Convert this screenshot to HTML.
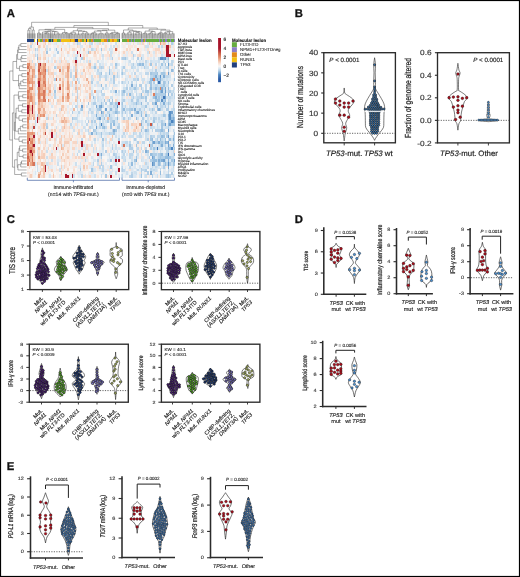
<!DOCTYPE html>
<html><head><meta charset="utf-8"><style>
html,body{margin:0;padding:0;background:#fff;}
svg{display:block;text-rendering:geometricPrecision;will-change:transform;}
</style></head><body>
<svg width="520" height="577" viewBox="0 0 520 577" font-family="&quot;Liberation Sans&quot;, sans-serif">
<rect width="520" height="577" fill="#fff"/>
<g shape-rendering="crispEdges">
<path fill="#f8ebe4" d="M27 42h1.65v3.06h-1.65zM27 165.46h1.65v3.06h-1.65zM28.6 45.01h1.65v3.06h-1.65zM28.6 54.04h1.65v3.06h-1.65zM30.2 54.04h1.65v3.06h-1.65zM30.2 57.06h1.65v3.06h-1.65zM30.2 84.16h1.65v3.06h-1.65zM30.2 102.22h1.65v3.06h-1.65zM30.2 123.3h1.65v3.06h-1.65zM30.2 165.46h1.65v3.06h-1.65zM31.8 54.04h1.65v3.06h-1.65zM31.8 171.48h1.65v3.06h-1.65zM33.4 42h1.65v3.06h-1.65zM33.4 45.01h1.65v3.06h-1.65zM35 150.4h1.65v3.06h-1.65zM35 159.43h1.65v3.06h-1.65zM36.6 66.09h1.65v3.06h-1.65zM36.6 105.23h1.65v3.06h-1.65zM36.6 174.49h1.65v3.06h-1.65zM38.2 129.32h1.65v3.06h-1.65zM39.8 153.41h1.65v3.06h-1.65zM41.4 42h1.65v3.06h-1.65zM41.4 129.32h1.65v3.06h-1.65zM41.4 135.34h1.65v3.06h-1.65zM43 138.36h1.65v3.06h-1.65zM43 150.4h1.65v3.06h-1.65zM43 159.43h1.65v3.06h-1.65zM44.6 45.01h1.65v3.06h-1.65zM44.6 51.03h1.65v3.06h-1.65zM44.6 114.27h1.65v3.06h-1.65zM44.6 117.28h1.65v3.06h-1.65zM44.6 147.39h1.65v3.06h-1.65zM44.6 156.42h1.65v3.06h-1.65zM44.6 171.48h1.65v3.06h-1.65zM46.2 66.09h1.65v3.06h-1.65zM46.2 81.14h1.65v3.06h-1.65zM46.2 102.22h1.65v3.06h-1.65zM46.2 108.24h1.65v3.06h-1.65zM47.8 45.01h1.65v3.06h-1.65zM47.8 63.08h1.65v3.06h-1.65zM47.8 75.12h1.65v3.06h-1.65zM47.8 126.31h1.65v3.06h-1.65zM47.8 132.33h1.65v3.06h-1.65zM47.8 138.36h1.65v3.06h-1.65zM47.8 144.38h1.65v3.06h-1.65zM47.8 156.42h1.65v3.06h-1.65zM47.8 171.48h1.65v3.06h-1.65zM49.4 54.04h1.65v3.06h-1.65zM49.4 63.08h1.65v3.06h-1.65zM49.4 78.13h1.65v3.06h-1.65zM49.4 81.14h1.65v3.06h-1.65zM49.4 114.27h1.65v3.06h-1.65zM49.4 135.34h1.65v3.06h-1.65zM49.4 150.4h1.65v3.06h-1.65zM51 66.09h1.65v3.06h-1.65zM51 138.36h1.65v3.06h-1.65zM51 147.39h1.65v3.06h-1.65zM51 174.49h1.65v3.06h-1.65zM52.6 42h1.65v3.06h-1.65zM52.6 51.03h1.65v3.06h-1.65zM52.6 57.06h1.65v3.06h-1.65zM52.6 114.27h1.65v3.06h-1.65zM52.6 129.32h1.65v3.06h-1.65zM52.6 150.4h1.65v3.06h-1.65zM52.6 159.43h1.65v3.06h-1.65zM54.2 57.06h1.65v3.06h-1.65zM54.2 108.24h1.65v3.06h-1.65zM54.2 114.27h1.65v3.06h-1.65zM54.2 126.31h1.65v3.06h-1.65zM54.2 153.41h1.65v3.06h-1.65zM54.2 174.49h1.65v3.06h-1.65zM55.8 63.08h1.65v3.06h-1.65zM55.8 69.1h1.65v3.06h-1.65zM55.8 93.19h1.65v3.06h-1.65zM55.8 108.24h1.65v3.06h-1.65zM55.8 129.32h1.65v3.06h-1.65zM55.8 165.46h1.65v3.06h-1.65zM57.4 60.07h1.65v3.06h-1.65zM57.4 93.19h1.65v3.06h-1.65zM57.4 126.31h1.65v3.06h-1.65zM57.4 129.32h1.65v3.06h-1.65zM57.4 132.33h1.65v3.06h-1.65zM59 81.14h1.65v3.06h-1.65zM59 93.19h1.65v3.06h-1.65zM59 117.28h1.65v3.06h-1.65zM59 144.38h1.65v3.06h-1.65zM59 153.41h1.65v3.06h-1.65zM60.6 78.13h1.65v3.06h-1.65zM60.6 81.14h1.65v3.06h-1.65zM60.6 84.16h1.65v3.06h-1.65zM60.6 87.17h1.65v3.06h-1.65zM60.6 111.26h1.65v3.06h-1.65zM60.6 114.27h1.65v3.06h-1.65zM62.2 51.03h1.65v3.06h-1.65zM62.2 54.04h1.65v3.06h-1.65zM62.2 102.22h1.65v3.06h-1.65zM62.2 156.42h1.65v3.06h-1.65zM63.8 45.01h1.65v3.06h-1.65zM63.8 60.07h1.65v3.06h-1.65zM63.8 72.11h1.65v3.06h-1.65zM63.8 129.32h1.65v3.06h-1.65zM63.8 132.33h1.65v3.06h-1.65zM63.8 147.39h1.65v3.06h-1.65zM65.4 45.01h1.65v3.06h-1.65zM65.4 69.1h1.65v3.06h-1.65zM65.4 78.13h1.65v3.06h-1.65zM65.4 90.18h1.65v3.06h-1.65zM65.4 105.23h1.65v3.06h-1.65zM65.4 111.26h1.65v3.06h-1.65zM65.4 135.34h1.65v3.06h-1.65zM65.4 147.39h1.65v3.06h-1.65zM65.4 171.48h1.65v3.06h-1.65zM67 129.32h1.65v3.06h-1.65zM67 135.34h1.65v3.06h-1.65zM67 144.38h1.65v3.06h-1.65zM67 153.41h1.65v3.06h-1.65zM67 159.43h1.65v3.06h-1.65zM67 165.46h1.65v3.06h-1.65zM68.6 78.13h1.65v3.06h-1.65zM68.6 108.24h1.65v3.06h-1.65zM68.6 123.3h1.65v3.06h-1.65zM68.6 150.4h1.65v3.06h-1.65zM68.6 153.41h1.65v3.06h-1.65zM68.6 171.48h1.65v3.06h-1.65zM70.2 45.01h1.65v3.06h-1.65zM70.2 48.02h1.65v3.06h-1.65zM70.2 120.29h1.65v3.06h-1.65zM70.2 132.33h1.65v3.06h-1.65zM70.2 159.43h1.65v3.06h-1.65zM70.2 162.44h1.65v3.06h-1.65zM70.2 171.48h1.65v3.06h-1.65zM71.8 45.01h1.65v3.06h-1.65zM71.8 69.1h1.65v3.06h-1.65zM71.8 75.12h1.65v3.06h-1.65zM71.8 99.21h1.65v3.06h-1.65zM71.8 159.43h1.65v3.06h-1.65zM73.4 45.01h1.65v3.06h-1.65zM73.4 63.08h1.65v3.06h-1.65zM73.4 144.38h1.65v3.06h-1.65zM73.4 150.4h1.65v3.06h-1.65zM73.4 159.43h1.65v3.06h-1.65zM75 129.32h1.65v3.06h-1.65zM75 135.34h1.65v3.06h-1.65zM75 138.36h1.65v3.06h-1.65zM76.6 129.32h1.65v3.06h-1.65zM76.6 135.34h1.65v3.06h-1.65zM76.6 156.42h1.65v3.06h-1.65zM78.2 54.04h1.65v3.06h-1.65zM78.2 63.08h1.65v3.06h-1.65zM78.2 72.11h1.65v3.06h-1.65zM78.2 84.16h1.65v3.06h-1.65zM78.2 93.19h1.65v3.06h-1.65zM78.2 123.3h1.65v3.06h-1.65zM78.2 141.37h1.65v3.06h-1.65zM79.8 159.43h1.65v3.06h-1.65zM81.4 69.1h1.65v3.06h-1.65zM81.4 126.31h1.65v3.06h-1.65zM81.4 135.34h1.65v3.06h-1.65zM81.4 153.41h1.65v3.06h-1.65zM81.4 162.44h1.65v3.06h-1.65zM83 42h1.65v3.06h-1.65zM83 63.08h1.65v3.06h-1.65zM83 72.11h1.65v3.06h-1.65zM83 90.18h1.65v3.06h-1.65zM83 96.2h1.65v3.06h-1.65zM83 108.24h1.65v3.06h-1.65zM83 114.27h1.65v3.06h-1.65zM83 141.37h1.65v3.06h-1.65zM83 147.39h1.65v3.06h-1.65zM84.6 54.04h1.65v3.06h-1.65zM84.6 63.08h1.65v3.06h-1.65zM84.6 78.13h1.65v3.06h-1.65zM84.6 141.37h1.65v3.06h-1.65zM84.6 162.44h1.65v3.06h-1.65zM84.6 168.47h1.65v3.06h-1.65zM86.2 48.02h1.65v3.06h-1.65zM86.2 69.1h1.65v3.06h-1.65zM86.2 72.11h1.65v3.06h-1.65zM86.2 81.14h1.65v3.06h-1.65zM86.2 111.26h1.65v3.06h-1.65zM86.2 114.27h1.65v3.06h-1.65zM86.2 138.36h1.65v3.06h-1.65zM86.2 153.41h1.65v3.06h-1.65zM86.2 168.47h1.65v3.06h-1.65zM86.2 174.49h1.65v3.06h-1.65zM87.8 45.01h1.65v3.06h-1.65zM87.8 72.11h1.65v3.06h-1.65zM87.8 84.16h1.65v3.06h-1.65zM87.8 87.17h1.65v3.06h-1.65zM87.8 90.18h1.65v3.06h-1.65zM87.8 93.19h1.65v3.06h-1.65zM87.8 99.21h1.65v3.06h-1.65zM87.8 123.3h1.65v3.06h-1.65zM87.8 159.43h1.65v3.06h-1.65zM87.8 171.48h1.65v3.06h-1.65zM89.4 57.06h1.65v3.06h-1.65zM89.4 69.1h1.65v3.06h-1.65zM89.4 75.12h1.65v3.06h-1.65zM91 51.03h1.65v3.06h-1.65zM91 63.08h1.65v3.06h-1.65zM91 69.1h1.65v3.06h-1.65zM91 135.34h1.65v3.06h-1.65zM91 150.4h1.65v3.06h-1.65zM92.6 51.03h1.65v3.06h-1.65zM92.6 72.11h1.65v3.06h-1.65zM92.6 75.12h1.65v3.06h-1.65zM94.2 45.01h1.65v3.06h-1.65zM94.2 57.06h1.65v3.06h-1.65zM94.2 78.13h1.65v3.06h-1.65zM94.2 135.34h1.65v3.06h-1.65zM94.2 153.41h1.65v3.06h-1.65zM95.8 60.07h1.65v3.06h-1.65zM95.8 96.2h1.65v3.06h-1.65zM95.8 120.29h1.65v3.06h-1.65zM97.4 78.13h1.65v3.06h-1.65zM97.4 168.47h1.65v3.06h-1.65zM99 81.14h1.65v3.06h-1.65zM99 111.26h1.65v3.06h-1.65zM99 147.39h1.65v3.06h-1.65zM100.6 45.01h1.65v3.06h-1.65zM102.2 159.43h1.65v3.06h-1.65zM103.8 42h1.65v3.06h-1.65zM103.8 45.01h1.65v3.06h-1.65zM103.8 54.04h1.65v3.06h-1.65zM103.8 63.08h1.65v3.06h-1.65zM103.8 78.13h1.65v3.06h-1.65zM103.8 90.18h1.65v3.06h-1.65zM103.8 165.46h1.65v3.06h-1.65zM103.8 174.49h1.65v3.06h-1.65zM105.4 42h1.65v3.06h-1.65zM105.4 57.06h1.65v3.06h-1.65zM105.4 99.21h1.65v3.06h-1.65zM107 66.09h1.65v3.06h-1.65zM107 81.14h1.65v3.06h-1.65zM107 126.31h1.65v3.06h-1.65zM107 147.39h1.65v3.06h-1.65zM108.6 135.34h1.65v3.06h-1.65zM110.2 42h1.65v3.06h-1.65zM110.2 168.47h1.65v3.06h-1.65zM111.8 54.04h1.65v3.06h-1.65zM111.8 69.1h1.65v3.06h-1.65zM111.8 75.12h1.65v3.06h-1.65zM111.8 84.16h1.65v3.06h-1.65zM111.8 93.19h1.65v3.06h-1.65zM111.8 150.4h1.65v3.06h-1.65zM111.8 159.43h1.65v3.06h-1.65zM111.8 171.48h1.65v3.06h-1.65zM113.4 51.03h1.65v3.06h-1.65zM113.4 87.17h1.65v3.06h-1.65zM113.4 144.38h1.65v3.06h-1.65zM113.4 174.49h1.65v3.06h-1.65zM115 51.03h1.65v3.06h-1.65zM115 72.11h1.65v3.06h-1.65zM115 78.13h1.65v3.06h-1.65zM116.6 96.2h1.65v3.06h-1.65zM118.2 42h1.65v3.06h-1.65zM118.2 120.29h1.65v3.06h-1.65zM119.8 162.44h1.65v3.06h-1.65zM121.4 42h1.65v3.06h-1.65zM121.4 51.03h1.65v3.06h-1.65zM121.4 54.04h1.65v3.06h-1.65zM121.4 159.43h1.65v3.06h-1.65zM123 45.01h1.65v3.06h-1.65zM124.6 42h1.65v3.06h-1.65zM124.6 51.03h1.65v3.06h-1.65zM124.6 123.3h1.65v3.06h-1.65zM127.8 54.04h1.65v3.06h-1.65zM127.8 147.39h1.65v3.06h-1.65zM127.8 153.41h1.65v3.06h-1.65zM129.4 51.03h1.65v3.06h-1.65zM129.4 54.04h1.65v3.06h-1.65zM129.4 138.36h1.65v3.06h-1.65zM131 129.32h1.65v3.06h-1.65zM132.6 126.31h1.65v3.06h-1.65zM132.6 156.42h1.65v3.06h-1.65zM134.2 117.28h1.65v3.06h-1.65zM134.2 144.38h1.65v3.06h-1.65zM134.2 150.4h1.65v3.06h-1.65zM135.8 45.01h1.65v3.06h-1.65zM135.8 129.32h1.65v3.06h-1.65zM135.8 162.44h1.65v3.06h-1.65zM137.4 144.38h1.65v3.06h-1.65zM139 48.02h1.65v3.06h-1.65zM139 87.17h1.65v3.06h-1.65zM139 126.31h1.65v3.06h-1.65zM139 156.42h1.65v3.06h-1.65zM140.6 48.02h1.65v3.06h-1.65zM142.2 93.19h1.65v3.06h-1.65zM143.8 42h1.65v3.06h-1.65zM143.8 114.27h1.65v3.06h-1.65zM143.8 156.42h1.65v3.06h-1.65zM145.4 126.31h1.65v3.06h-1.65zM147 174.49h1.65v3.06h-1.65zM148.6 45.01h1.65v3.06h-1.65zM148.6 57.06h1.65v3.06h-1.65zM148.6 84.16h1.65v3.06h-1.65zM148.6 93.19h1.65v3.06h-1.65zM148.6 117.28h1.65v3.06h-1.65zM148.6 135.34h1.65v3.06h-1.65zM148.6 147.39h1.65v3.06h-1.65zM150.2 42h1.65v3.06h-1.65zM150.2 51.03h1.65v3.06h-1.65zM150.2 150.4h1.65v3.06h-1.65zM151.8 54.04h1.65v3.06h-1.65zM151.8 105.23h1.65v3.06h-1.65zM155 45.01h1.65v3.06h-1.65zM155 171.48h1.65v3.06h-1.65zM156.6 102.22h1.65v3.06h-1.65zM156.6 132.33h1.65v3.06h-1.65zM158.2 174.49h1.65v3.06h-1.65zM159.8 45.01h1.65v3.06h-1.65zM166.2 165.46h1.65v3.06h-1.65zM169.4 66.09h1.65v3.06h-1.65zM172.6 48.02h1.65v3.06h-1.65zM172.6 54.04h1.65v3.06h-1.65zM172.6 72.11h1.65v3.06h-1.65zM174.2 42h0.85v3.06h-0.85z"/>
<path fill="#f8dfd1" d="M27 45.01h1.65v3.06h-1.65zM28.6 51.03h1.65v3.06h-1.65zM28.6 174.49h1.65v3.06h-1.65zM30.2 60.07h1.65v3.06h-1.65zM30.2 72.11h1.65v3.06h-1.65zM30.2 126.31h1.65v3.06h-1.65zM31.8 90.18h1.65v3.06h-1.65zM31.8 123.3h1.65v3.06h-1.65zM33.4 54.04h1.65v3.06h-1.65zM33.4 78.13h1.65v3.06h-1.65zM33.4 123.3h1.65v3.06h-1.65zM38.2 48.02h1.65v3.06h-1.65zM38.2 126.31h1.65v3.06h-1.65zM38.2 150.4h1.65v3.06h-1.65zM38.2 162.44h1.65v3.06h-1.65zM39.8 54.04h1.65v3.06h-1.65zM39.8 162.44h1.65v3.06h-1.65zM39.8 165.46h1.65v3.06h-1.65zM41.4 108.24h1.65v3.06h-1.65zM41.4 123.3h1.65v3.06h-1.65zM41.4 126.31h1.65v3.06h-1.65zM41.4 174.49h1.65v3.06h-1.65zM43 42h1.65v3.06h-1.65zM43 51.03h1.65v3.06h-1.65zM43 54.04h1.65v3.06h-1.65zM43 102.22h1.65v3.06h-1.65zM43 129.32h1.65v3.06h-1.65zM44.6 54.04h1.65v3.06h-1.65zM44.6 105.23h1.65v3.06h-1.65zM44.6 144.38h1.65v3.06h-1.65zM44.6 159.43h1.65v3.06h-1.65zM44.6 162.44h1.65v3.06h-1.65zM46.2 93.19h1.65v3.06h-1.65zM47.8 42h1.65v3.06h-1.65zM47.8 114.27h1.65v3.06h-1.65zM49.4 69.1h1.65v3.06h-1.65zM49.4 75.12h1.65v3.06h-1.65zM49.4 111.26h1.65v3.06h-1.65zM49.4 156.42h1.65v3.06h-1.65zM49.4 162.44h1.65v3.06h-1.65zM51 81.14h1.65v3.06h-1.65zM51 96.2h1.65v3.06h-1.65zM52.6 78.13h1.65v3.06h-1.65zM52.6 93.19h1.65v3.06h-1.65zM52.6 102.22h1.65v3.06h-1.65zM52.6 123.3h1.65v3.06h-1.65zM52.6 144.38h1.65v3.06h-1.65zM52.6 156.42h1.65v3.06h-1.65zM52.6 171.48h1.65v3.06h-1.65zM54.2 111.26h1.65v3.06h-1.65zM54.2 141.37h1.65v3.06h-1.65zM54.2 144.38h1.65v3.06h-1.65zM54.2 156.42h1.65v3.06h-1.65zM55.8 75.12h1.65v3.06h-1.65zM57.4 87.17h1.65v3.06h-1.65zM57.4 90.18h1.65v3.06h-1.65zM57.4 102.22h1.65v3.06h-1.65zM59 63.08h1.65v3.06h-1.65zM59 96.2h1.65v3.06h-1.65zM59 102.22h1.65v3.06h-1.65zM59 111.26h1.65v3.06h-1.65zM59 120.29h1.65v3.06h-1.65zM60.6 54.04h1.65v3.06h-1.65zM60.6 57.06h1.65v3.06h-1.65zM60.6 72.11h1.65v3.06h-1.65zM60.6 99.21h1.65v3.06h-1.65zM60.6 159.43h1.65v3.06h-1.65zM62.2 42h1.65v3.06h-1.65zM62.2 75.12h1.65v3.06h-1.65zM62.2 114.27h1.65v3.06h-1.65zM62.2 117.28h1.65v3.06h-1.65zM62.2 159.43h1.65v3.06h-1.65zM63.8 63.08h1.65v3.06h-1.65zM63.8 138.36h1.65v3.06h-1.65zM65.4 60.07h1.65v3.06h-1.65zM65.4 63.08h1.65v3.06h-1.65zM65.4 108.24h1.65v3.06h-1.65zM65.4 123.3h1.65v3.06h-1.65zM65.4 126.31h1.65v3.06h-1.65zM65.4 138.36h1.65v3.06h-1.65zM65.4 153.41h1.65v3.06h-1.65zM65.4 156.42h1.65v3.06h-1.65zM67 117.28h1.65v3.06h-1.65zM67 138.36h1.65v3.06h-1.65zM67 147.39h1.65v3.06h-1.65zM68.6 48.02h1.65v3.06h-1.65zM68.6 120.29h1.65v3.06h-1.65zM68.6 138.36h1.65v3.06h-1.65zM68.6 141.37h1.65v3.06h-1.65zM68.6 144.38h1.65v3.06h-1.65zM68.6 174.49h1.65v3.06h-1.65zM70.2 102.22h1.65v3.06h-1.65zM71.8 141.37h1.65v3.06h-1.65zM71.8 171.48h1.65v3.06h-1.65zM73.4 42h1.65v3.06h-1.65zM73.4 60.07h1.65v3.06h-1.65zM73.4 126.31h1.65v3.06h-1.65zM73.4 153.41h1.65v3.06h-1.65zM73.4 168.47h1.65v3.06h-1.65zM75 123.3h1.65v3.06h-1.65zM76.6 75.12h1.65v3.06h-1.65zM78.2 51.03h1.65v3.06h-1.65zM79.8 87.17h1.65v3.06h-1.65zM79.8 90.18h1.65v3.06h-1.65zM79.8 93.19h1.65v3.06h-1.65zM79.8 135.34h1.65v3.06h-1.65zM81.4 75.12h1.65v3.06h-1.65zM83 54.04h1.65v3.06h-1.65zM83 78.13h1.65v3.06h-1.65zM83 105.23h1.65v3.06h-1.65zM83 132.33h1.65v3.06h-1.65zM83 150.4h1.65v3.06h-1.65zM83 156.42h1.65v3.06h-1.65zM83 168.47h1.65v3.06h-1.65zM83 174.49h1.65v3.06h-1.65zM84.6 90.18h1.65v3.06h-1.65zM84.6 135.34h1.65v3.06h-1.65zM86.2 54.04h1.65v3.06h-1.65zM86.2 66.09h1.65v3.06h-1.65zM86.2 156.42h1.65v3.06h-1.65zM87.8 60.07h1.65v3.06h-1.65zM87.8 66.09h1.65v3.06h-1.65zM87.8 153.41h1.65v3.06h-1.65zM89.4 72.11h1.65v3.06h-1.65zM89.4 81.14h1.65v3.06h-1.65zM89.4 84.16h1.65v3.06h-1.65zM89.4 138.36h1.65v3.06h-1.65zM89.4 153.41h1.65v3.06h-1.65zM89.4 162.44h1.65v3.06h-1.65zM94.2 54.04h1.65v3.06h-1.65zM94.2 75.12h1.65v3.06h-1.65zM97.4 45.01h1.65v3.06h-1.65zM97.4 51.03h1.65v3.06h-1.65zM97.4 75.12h1.65v3.06h-1.65zM103.8 111.26h1.65v3.06h-1.65zM105.4 45.01h1.65v3.06h-1.65zM105.4 96.2h1.65v3.06h-1.65zM107 51.03h1.65v3.06h-1.65zM107 96.2h1.65v3.06h-1.65zM113.4 72.11h1.65v3.06h-1.65zM118.2 57.06h1.65v3.06h-1.65zM121.4 120.29h1.65v3.06h-1.65zM123 126.31h1.65v3.06h-1.65zM124.6 120.29h1.65v3.06h-1.65zM127.8 45.01h1.65v3.06h-1.65zM127.8 93.19h1.65v3.06h-1.65zM129.4 48.02h1.65v3.06h-1.65zM129.4 168.47h1.65v3.06h-1.65zM132.6 42h1.65v3.06h-1.65zM134.2 126.31h1.65v3.06h-1.65zM137.4 54.04h1.65v3.06h-1.65zM137.4 126.31h1.65v3.06h-1.65zM137.4 129.32h1.65v3.06h-1.65zM139 42h1.65v3.06h-1.65zM139 141.37h1.65v3.06h-1.65zM139 150.4h1.65v3.06h-1.65zM143.8 45.01h1.65v3.06h-1.65zM143.8 111.26h1.65v3.06h-1.65zM143.8 147.39h1.65v3.06h-1.65zM143.8 162.44h1.65v3.06h-1.65zM147 48.02h1.65v3.06h-1.65zM151.8 45.01h1.65v3.06h-1.65zM155 51.03h1.65v3.06h-1.65zM155 66.09h1.65v3.06h-1.65zM163 45.01h1.65v3.06h-1.65zM164.6 48.02h1.65v3.06h-1.65z"/>
<path fill="#f9e5db" d="M27 48.02h1.65v3.06h-1.65zM27 57.06h1.65v3.06h-1.65zM27 60.07h1.65v3.06h-1.65zM27 171.48h1.65v3.06h-1.65zM28.6 57.06h1.65v3.06h-1.65zM28.6 171.48h1.65v3.06h-1.65zM30.2 48.02h1.65v3.06h-1.65zM31.8 63.08h1.65v3.06h-1.65zM31.8 168.47h1.65v3.06h-1.65zM31.8 174.49h1.65v3.06h-1.65zM33.4 48.02h1.65v3.06h-1.65zM33.4 57.06h1.65v3.06h-1.65zM36.6 69.1h1.65v3.06h-1.65zM36.6 96.2h1.65v3.06h-1.65zM36.6 108.24h1.65v3.06h-1.65zM36.6 147.39h1.65v3.06h-1.65zM38.2 51.03h1.65v3.06h-1.65zM38.2 54.04h1.65v3.06h-1.65zM38.2 120.29h1.65v3.06h-1.65zM38.2 135.34h1.65v3.06h-1.65zM38.2 159.43h1.65v3.06h-1.65zM39.8 42h1.65v3.06h-1.65zM39.8 60.07h1.65v3.06h-1.65zM39.8 117.28h1.65v3.06h-1.65zM39.8 123.3h1.65v3.06h-1.65zM39.8 132.33h1.65v3.06h-1.65zM39.8 138.36h1.65v3.06h-1.65zM39.8 144.38h1.65v3.06h-1.65zM39.8 147.39h1.65v3.06h-1.65zM39.8 168.47h1.65v3.06h-1.65zM39.8 174.49h1.65v3.06h-1.65zM41.4 141.37h1.65v3.06h-1.65zM43 60.07h1.65v3.06h-1.65zM43 120.29h1.65v3.06h-1.65zM43 135.34h1.65v3.06h-1.65zM43 141.37h1.65v3.06h-1.65zM43 144.38h1.65v3.06h-1.65zM44.6 126.31h1.65v3.06h-1.65zM44.6 150.4h1.65v3.06h-1.65zM44.6 153.41h1.65v3.06h-1.65zM46.2 84.16h1.65v3.06h-1.65zM46.2 105.23h1.65v3.06h-1.65zM46.2 111.26h1.65v3.06h-1.65zM46.2 135.34h1.65v3.06h-1.65zM47.8 54.04h1.65v3.06h-1.65zM47.8 96.2h1.65v3.06h-1.65zM47.8 102.22h1.65v3.06h-1.65zM47.8 105.23h1.65v3.06h-1.65zM47.8 108.24h1.65v3.06h-1.65zM47.8 168.47h1.65v3.06h-1.65zM49.4 42h1.65v3.06h-1.65zM49.4 66.09h1.65v3.06h-1.65zM49.4 96.2h1.65v3.06h-1.65zM49.4 132.33h1.65v3.06h-1.65zM49.4 168.47h1.65v3.06h-1.65zM51 63.08h1.65v3.06h-1.65zM51 75.12h1.65v3.06h-1.65zM51 78.13h1.65v3.06h-1.65zM51 84.16h1.65v3.06h-1.65zM51 90.18h1.65v3.06h-1.65zM51 102.22h1.65v3.06h-1.65zM51 162.44h1.65v3.06h-1.65zM52.6 63.08h1.65v3.06h-1.65zM52.6 69.1h1.65v3.06h-1.65zM52.6 84.16h1.65v3.06h-1.65zM52.6 120.29h1.65v3.06h-1.65zM54.2 105.23h1.65v3.06h-1.65zM54.2 120.29h1.65v3.06h-1.65zM54.2 132.33h1.65v3.06h-1.65zM54.2 150.4h1.65v3.06h-1.65zM54.2 159.43h1.65v3.06h-1.65zM54.2 162.44h1.65v3.06h-1.65zM55.8 84.16h1.65v3.06h-1.65zM55.8 105.23h1.65v3.06h-1.65zM55.8 168.47h1.65v3.06h-1.65zM57.4 45.01h1.65v3.06h-1.65zM57.4 63.08h1.65v3.06h-1.65zM57.4 75.12h1.65v3.06h-1.65zM57.4 114.27h1.65v3.06h-1.65zM57.4 135.34h1.65v3.06h-1.65zM57.4 168.47h1.65v3.06h-1.65zM59 57.06h1.65v3.06h-1.65zM59 72.11h1.65v3.06h-1.65zM59 75.12h1.65v3.06h-1.65zM59 114.27h1.65v3.06h-1.65zM59 132.33h1.65v3.06h-1.65zM59 150.4h1.65v3.06h-1.65zM59 156.42h1.65v3.06h-1.65zM60.6 45.01h1.65v3.06h-1.65zM60.6 51.03h1.65v3.06h-1.65zM60.6 63.08h1.65v3.06h-1.65zM60.6 75.12h1.65v3.06h-1.65zM60.6 96.2h1.65v3.06h-1.65zM60.6 129.32h1.65v3.06h-1.65zM60.6 162.44h1.65v3.06h-1.65zM60.6 168.47h1.65v3.06h-1.65zM60.6 174.49h1.65v3.06h-1.65zM62.2 60.07h1.65v3.06h-1.65zM62.2 63.08h1.65v3.06h-1.65zM62.2 135.34h1.65v3.06h-1.65zM62.2 150.4h1.65v3.06h-1.65zM62.2 168.47h1.65v3.06h-1.65zM63.8 69.1h1.65v3.06h-1.65zM63.8 105.23h1.65v3.06h-1.65zM63.8 150.4h1.65v3.06h-1.65zM63.8 162.44h1.65v3.06h-1.65zM65.4 48.02h1.65v3.06h-1.65zM65.4 81.14h1.65v3.06h-1.65zM65.4 84.16h1.65v3.06h-1.65zM65.4 93.19h1.65v3.06h-1.65zM65.4 129.32h1.65v3.06h-1.65zM65.4 132.33h1.65v3.06h-1.65zM65.4 144.38h1.65v3.06h-1.65zM65.4 159.43h1.65v3.06h-1.65zM65.4 162.44h1.65v3.06h-1.65zM65.4 165.46h1.65v3.06h-1.65zM67 126.31h1.65v3.06h-1.65zM68.6 42h1.65v3.06h-1.65zM68.6 51.03h1.65v3.06h-1.65zM68.6 72.11h1.65v3.06h-1.65zM68.6 75.12h1.65v3.06h-1.65zM68.6 81.14h1.65v3.06h-1.65zM68.6 99.21h1.65v3.06h-1.65zM68.6 111.26h1.65v3.06h-1.65zM68.6 129.32h1.65v3.06h-1.65zM68.6 147.39h1.65v3.06h-1.65zM68.6 156.42h1.65v3.06h-1.65zM68.6 159.43h1.65v3.06h-1.65zM70.2 135.34h1.65v3.06h-1.65zM71.8 60.07h1.65v3.06h-1.65zM71.8 144.38h1.65v3.06h-1.65zM71.8 156.42h1.65v3.06h-1.65zM73.4 54.04h1.65v3.06h-1.65zM73.4 156.42h1.65v3.06h-1.65zM73.4 165.46h1.65v3.06h-1.65zM73.4 171.48h1.65v3.06h-1.65zM75 48.02h1.65v3.06h-1.65zM75 78.13h1.65v3.06h-1.65zM75 144.38h1.65v3.06h-1.65zM75 165.46h1.65v3.06h-1.65zM78.2 45.01h1.65v3.06h-1.65zM78.2 96.2h1.65v3.06h-1.65zM78.2 105.23h1.65v3.06h-1.65zM78.2 135.34h1.65v3.06h-1.65zM78.2 144.38h1.65v3.06h-1.65zM78.2 147.39h1.65v3.06h-1.65zM79.8 63.08h1.65v3.06h-1.65zM79.8 69.1h1.65v3.06h-1.65zM79.8 72.11h1.65v3.06h-1.65zM81.4 63.08h1.65v3.06h-1.65zM83 51.03h1.65v3.06h-1.65zM83 66.09h1.65v3.06h-1.65zM83 75.12h1.65v3.06h-1.65zM83 102.22h1.65v3.06h-1.65zM83 111.26h1.65v3.06h-1.65zM83 159.43h1.65v3.06h-1.65zM83 162.44h1.65v3.06h-1.65zM84.6 51.03h1.65v3.06h-1.65zM84.6 84.16h1.65v3.06h-1.65zM84.6 96.2h1.65v3.06h-1.65zM84.6 138.36h1.65v3.06h-1.65zM86.2 45.01h1.65v3.06h-1.65zM86.2 99.21h1.65v3.06h-1.65zM87.8 78.13h1.65v3.06h-1.65zM87.8 126.31h1.65v3.06h-1.65zM87.8 144.38h1.65v3.06h-1.65zM87.8 162.44h1.65v3.06h-1.65zM87.8 174.49h1.65v3.06h-1.65zM89.4 90.18h1.65v3.06h-1.65zM89.4 120.29h1.65v3.06h-1.65zM89.4 129.32h1.65v3.06h-1.65zM89.4 144.38h1.65v3.06h-1.65zM91 171.48h1.65v3.06h-1.65zM92.6 54.04h1.65v3.06h-1.65zM94.2 42h1.65v3.06h-1.65zM94.2 144.38h1.65v3.06h-1.65zM94.2 147.39h1.65v3.06h-1.65zM94.2 165.46h1.65v3.06h-1.65zM95.8 45.01h1.65v3.06h-1.65zM95.8 54.04h1.65v3.06h-1.65zM95.8 57.06h1.65v3.06h-1.65zM95.8 63.08h1.65v3.06h-1.65zM95.8 84.16h1.65v3.06h-1.65zM95.8 165.46h1.65v3.06h-1.65zM97.4 48.02h1.65v3.06h-1.65zM97.4 66.09h1.65v3.06h-1.65zM97.4 165.46h1.65v3.06h-1.65zM97.4 174.49h1.65v3.06h-1.65zM99 54.04h1.65v3.06h-1.65zM99 57.06h1.65v3.06h-1.65zM99 159.43h1.65v3.06h-1.65zM99 162.44h1.65v3.06h-1.65zM102.2 48.02h1.65v3.06h-1.65zM103.8 66.09h1.65v3.06h-1.65zM103.8 138.36h1.65v3.06h-1.65zM105.4 48.02h1.65v3.06h-1.65zM105.4 54.04h1.65v3.06h-1.65zM107 54.04h1.65v3.06h-1.65zM107 135.34h1.65v3.06h-1.65zM107 141.37h1.65v3.06h-1.65zM107 150.4h1.65v3.06h-1.65zM107 168.47h1.65v3.06h-1.65zM107 174.49h1.65v3.06h-1.65zM108.6 57.06h1.65v3.06h-1.65zM108.6 165.46h1.65v3.06h-1.65zM111.8 60.07h1.65v3.06h-1.65zM113.4 66.09h1.65v3.06h-1.65zM115 45.01h1.65v3.06h-1.65zM118.2 45.01h1.65v3.06h-1.65zM118.2 51.03h1.65v3.06h-1.65zM121.4 147.39h1.65v3.06h-1.65zM123 129.32h1.65v3.06h-1.65zM123 162.44h1.65v3.06h-1.65zM124.6 54.04h1.65v3.06h-1.65zM126.2 96.2h1.65v3.06h-1.65zM126.2 102.22h1.65v3.06h-1.65zM127.8 42h1.65v3.06h-1.65zM127.8 51.03h1.65v3.06h-1.65zM127.8 72.11h1.65v3.06h-1.65zM129.4 45.01h1.65v3.06h-1.65zM129.4 96.2h1.65v3.06h-1.65zM129.4 132.33h1.65v3.06h-1.65zM131 45.01h1.65v3.06h-1.65zM131 54.04h1.65v3.06h-1.65zM134.2 45.01h1.65v3.06h-1.65zM134.2 75.12h1.65v3.06h-1.65zM137.4 120.29h1.65v3.06h-1.65zM137.4 123.3h1.65v3.06h-1.65zM139 51.03h1.65v3.06h-1.65zM139 129.32h1.65v3.06h-1.65zM139 147.39h1.65v3.06h-1.65zM139 171.48h1.65v3.06h-1.65zM143.8 48.02h1.65v3.06h-1.65zM143.8 81.14h1.65v3.06h-1.65zM147 57.06h1.65v3.06h-1.65zM148.6 138.36h1.65v3.06h-1.65zM148.6 159.43h1.65v3.06h-1.65zM150.2 45.01h1.65v3.06h-1.65zM150.2 54.04h1.65v3.06h-1.65zM151.8 63.08h1.65v3.06h-1.65zM151.8 93.19h1.65v3.06h-1.65zM153.4 42h1.65v3.06h-1.65zM153.4 48.02h1.65v3.06h-1.65zM155 54.04h1.65v3.06h-1.65zM158.2 51.03h1.65v3.06h-1.65zM163 51.03h1.65v3.06h-1.65zM164.6 54.04h1.65v3.06h-1.65zM166.2 72.11h1.65v3.06h-1.65zM169.4 48.02h1.65v3.06h-1.65zM172.6 45.01h1.65v3.06h-1.65zM174.2 48.02h0.85v3.06h-0.85z"/>
<path fill="#f7f6f5" d="M27 51.03h1.65v3.06h-1.65zM28.6 42h1.65v3.06h-1.65zM28.6 168.47h1.65v3.06h-1.65zM30.2 51.03h1.65v3.06h-1.65zM30.2 168.47h1.65v3.06h-1.65zM31.8 57.06h1.65v3.06h-1.65zM31.8 165.46h1.65v3.06h-1.65zM33.4 129.32h1.65v3.06h-1.65zM35 45.01h1.65v3.06h-1.65zM35 57.06h1.65v3.06h-1.65zM35 60.07h1.65v3.06h-1.65zM35 105.23h1.65v3.06h-1.65zM35 108.24h1.65v3.06h-1.65zM35 129.32h1.65v3.06h-1.65zM35 153.41h1.65v3.06h-1.65zM36.6 63.08h1.65v3.06h-1.65zM36.6 72.11h1.65v3.06h-1.65zM36.6 84.16h1.65v3.06h-1.65zM36.6 99.21h1.65v3.06h-1.65zM36.6 111.26h1.65v3.06h-1.65zM36.6 171.48h1.65v3.06h-1.65zM38.2 144.38h1.65v3.06h-1.65zM41.4 60.07h1.65v3.06h-1.65zM41.4 117.28h1.65v3.06h-1.65zM41.4 144.38h1.65v3.06h-1.65zM41.4 147.39h1.65v3.06h-1.65zM41.4 159.43h1.65v3.06h-1.65zM44.6 60.07h1.65v3.06h-1.65zM46.2 42h1.65v3.06h-1.65zM46.2 99.21h1.65v3.06h-1.65zM46.2 132.33h1.65v3.06h-1.65zM46.2 174.49h1.65v3.06h-1.65zM47.8 51.03h1.65v3.06h-1.65zM47.8 135.34h1.65v3.06h-1.65zM47.8 141.37h1.65v3.06h-1.65zM49.4 51.03h1.65v3.06h-1.65zM49.4 57.06h1.65v3.06h-1.65zM49.4 126.31h1.65v3.06h-1.65zM49.4 141.37h1.65v3.06h-1.65zM49.4 147.39h1.65v3.06h-1.65zM51 45.01h1.65v3.06h-1.65zM51 48.02h1.65v3.06h-1.65zM51 54.04h1.65v3.06h-1.65zM51 108.24h1.65v3.06h-1.65zM51 141.37h1.65v3.06h-1.65zM51 171.48h1.65v3.06h-1.65zM52.6 48.02h1.65v3.06h-1.65zM52.6 60.07h1.65v3.06h-1.65zM52.6 66.09h1.65v3.06h-1.65zM52.6 81.14h1.65v3.06h-1.65zM52.6 108.24h1.65v3.06h-1.65zM52.6 126.31h1.65v3.06h-1.65zM52.6 141.37h1.65v3.06h-1.65zM54.2 75.12h1.65v3.06h-1.65zM54.2 99.21h1.65v3.06h-1.65zM54.2 102.22h1.65v3.06h-1.65zM54.2 171.48h1.65v3.06h-1.65zM55.8 54.04h1.65v3.06h-1.65zM55.8 57.06h1.65v3.06h-1.65zM55.8 81.14h1.65v3.06h-1.65zM55.8 90.18h1.65v3.06h-1.65zM55.8 111.26h1.65v3.06h-1.65zM55.8 123.3h1.65v3.06h-1.65zM55.8 144.38h1.65v3.06h-1.65zM55.8 156.42h1.65v3.06h-1.65zM55.8 174.49h1.65v3.06h-1.65zM57.4 54.04h1.65v3.06h-1.65zM57.4 69.1h1.65v3.06h-1.65zM57.4 84.16h1.65v3.06h-1.65zM57.4 111.26h1.65v3.06h-1.65zM57.4 120.29h1.65v3.06h-1.65zM57.4 138.36h1.65v3.06h-1.65zM57.4 153.41h1.65v3.06h-1.65zM57.4 165.46h1.65v3.06h-1.65zM59 126.31h1.65v3.06h-1.65zM59 162.44h1.65v3.06h-1.65zM59 171.48h1.65v3.06h-1.65zM60.6 153.41h1.65v3.06h-1.65zM62.2 57.06h1.65v3.06h-1.65zM62.2 162.44h1.65v3.06h-1.65zM62.2 171.48h1.65v3.06h-1.65zM63.8 42h1.65v3.06h-1.65zM63.8 51.03h1.65v3.06h-1.65zM63.8 84.16h1.65v3.06h-1.65zM63.8 87.17h1.65v3.06h-1.65zM63.8 90.18h1.65v3.06h-1.65zM63.8 99.21h1.65v3.06h-1.65zM63.8 102.22h1.65v3.06h-1.65zM63.8 114.27h1.65v3.06h-1.65zM63.8 168.47h1.65v3.06h-1.65zM65.4 42h1.65v3.06h-1.65zM65.4 54.04h1.65v3.06h-1.65zM65.4 114.27h1.65v3.06h-1.65zM67 57.06h1.65v3.06h-1.65zM67 102.22h1.65v3.06h-1.65zM68.6 165.46h1.65v3.06h-1.65zM68.6 168.47h1.65v3.06h-1.65zM70.2 42h1.65v3.06h-1.65zM70.2 51.03h1.65v3.06h-1.65zM70.2 60.07h1.65v3.06h-1.65zM70.2 63.08h1.65v3.06h-1.65zM70.2 90.18h1.65v3.06h-1.65zM70.2 105.23h1.65v3.06h-1.65zM70.2 111.26h1.65v3.06h-1.65zM70.2 168.47h1.65v3.06h-1.65zM71.8 57.06h1.65v3.06h-1.65zM71.8 66.09h1.65v3.06h-1.65zM71.8 138.36h1.65v3.06h-1.65zM71.8 168.47h1.65v3.06h-1.65zM73.4 72.11h1.65v3.06h-1.65zM73.4 81.14h1.65v3.06h-1.65zM73.4 96.2h1.65v3.06h-1.65zM73.4 105.23h1.65v3.06h-1.65zM75 51.03h1.65v3.06h-1.65zM75 108.24h1.65v3.06h-1.65zM75 132.33h1.65v3.06h-1.65zM75 168.47h1.65v3.06h-1.65zM75 174.49h1.65v3.06h-1.65zM76.6 48.02h1.65v3.06h-1.65zM76.6 81.14h1.65v3.06h-1.65zM76.6 162.44h1.65v3.06h-1.65zM78.2 69.1h1.65v3.06h-1.65zM78.2 90.18h1.65v3.06h-1.65zM78.2 153.41h1.65v3.06h-1.65zM79.8 66.09h1.65v3.06h-1.65zM79.8 78.13h1.65v3.06h-1.65zM79.8 81.14h1.65v3.06h-1.65zM79.8 96.2h1.65v3.06h-1.65zM79.8 102.22h1.65v3.06h-1.65zM79.8 114.27h1.65v3.06h-1.65zM79.8 117.28h1.65v3.06h-1.65zM79.8 123.3h1.65v3.06h-1.65zM79.8 138.36h1.65v3.06h-1.65zM81.4 42h1.65v3.06h-1.65zM81.4 60.07h1.65v3.06h-1.65zM81.4 93.19h1.65v3.06h-1.65zM81.4 96.2h1.65v3.06h-1.65zM81.4 99.21h1.65v3.06h-1.65zM81.4 150.4h1.65v3.06h-1.65zM83 87.17h1.65v3.06h-1.65zM83 117.28h1.65v3.06h-1.65zM83 138.36h1.65v3.06h-1.65zM84.6 57.06h1.65v3.06h-1.65zM84.6 69.1h1.65v3.06h-1.65zM84.6 102.22h1.65v3.06h-1.65zM84.6 105.23h1.65v3.06h-1.65zM84.6 108.24h1.65v3.06h-1.65zM84.6 117.28h1.65v3.06h-1.65zM84.6 153.41h1.65v3.06h-1.65zM86.2 75.12h1.65v3.06h-1.65zM86.2 102.22h1.65v3.06h-1.65zM86.2 108.24h1.65v3.06h-1.65zM86.2 120.29h1.65v3.06h-1.65zM86.2 126.31h1.65v3.06h-1.65zM86.2 132.33h1.65v3.06h-1.65zM86.2 135.34h1.65v3.06h-1.65zM86.2 171.48h1.65v3.06h-1.65zM87.8 54.04h1.65v3.06h-1.65zM87.8 135.34h1.65v3.06h-1.65zM87.8 141.37h1.65v3.06h-1.65zM89.4 54.04h1.65v3.06h-1.65zM89.4 114.27h1.65v3.06h-1.65zM89.4 141.37h1.65v3.06h-1.65zM89.4 156.42h1.65v3.06h-1.65zM89.4 159.43h1.65v3.06h-1.65zM89.4 168.47h1.65v3.06h-1.65zM91 54.04h1.65v3.06h-1.65zM91 129.32h1.65v3.06h-1.65zM91 153.41h1.65v3.06h-1.65zM92.6 42h1.65v3.06h-1.65zM92.6 60.07h1.65v3.06h-1.65zM92.6 90.18h1.65v3.06h-1.65zM92.6 141.37h1.65v3.06h-1.65zM92.6 144.38h1.65v3.06h-1.65zM94.2 72.11h1.65v3.06h-1.65zM94.2 87.17h1.65v3.06h-1.65zM94.2 93.19h1.65v3.06h-1.65zM94.2 162.44h1.65v3.06h-1.65zM95.8 87.17h1.65v3.06h-1.65zM95.8 99.21h1.65v3.06h-1.65zM95.8 141.37h1.65v3.06h-1.65zM95.8 156.42h1.65v3.06h-1.65zM95.8 171.48h1.65v3.06h-1.65zM97.4 54.04h1.65v3.06h-1.65zM97.4 63.08h1.65v3.06h-1.65zM97.4 144.38h1.65v3.06h-1.65zM97.4 147.39h1.65v3.06h-1.65zM99 45.01h1.65v3.06h-1.65zM99 174.49h1.65v3.06h-1.65zM100.6 57.06h1.65v3.06h-1.65zM100.6 78.13h1.65v3.06h-1.65zM100.6 120.29h1.65v3.06h-1.65zM100.6 165.46h1.65v3.06h-1.65zM102.2 45.01h1.65v3.06h-1.65zM102.2 51.03h1.65v3.06h-1.65zM102.2 72.11h1.65v3.06h-1.65zM102.2 90.18h1.65v3.06h-1.65zM102.2 108.24h1.65v3.06h-1.65zM102.2 156.42h1.65v3.06h-1.65zM102.2 174.49h1.65v3.06h-1.65zM103.8 51.03h1.65v3.06h-1.65zM103.8 57.06h1.65v3.06h-1.65zM103.8 60.07h1.65v3.06h-1.65zM103.8 72.11h1.65v3.06h-1.65zM103.8 141.37h1.65v3.06h-1.65zM103.8 144.38h1.65v3.06h-1.65zM103.8 147.39h1.65v3.06h-1.65zM103.8 150.4h1.65v3.06h-1.65zM103.8 156.42h1.65v3.06h-1.65zM105.4 51.03h1.65v3.06h-1.65zM105.4 66.09h1.65v3.06h-1.65zM105.4 90.18h1.65v3.06h-1.65zM105.4 93.19h1.65v3.06h-1.65zM105.4 147.39h1.65v3.06h-1.65zM105.4 156.42h1.65v3.06h-1.65zM105.4 159.43h1.65v3.06h-1.65zM107 63.08h1.65v3.06h-1.65zM107 93.19h1.65v3.06h-1.65zM107 102.22h1.65v3.06h-1.65zM107 123.3h1.65v3.06h-1.65zM107 138.36h1.65v3.06h-1.65zM107 162.44h1.65v3.06h-1.65zM107 171.48h1.65v3.06h-1.65zM108.6 42h1.65v3.06h-1.65zM108.6 45.01h1.65v3.06h-1.65zM108.6 51.03h1.65v3.06h-1.65zM108.6 60.07h1.65v3.06h-1.65zM108.6 63.08h1.65v3.06h-1.65zM108.6 87.17h1.65v3.06h-1.65zM108.6 90.18h1.65v3.06h-1.65zM108.6 93.19h1.65v3.06h-1.65zM108.6 123.3h1.65v3.06h-1.65zM108.6 174.49h1.65v3.06h-1.65zM110.2 66.09h1.65v3.06h-1.65zM110.2 87.17h1.65v3.06h-1.65zM110.2 93.19h1.65v3.06h-1.65zM110.2 153.41h1.65v3.06h-1.65zM110.2 162.44h1.65v3.06h-1.65zM111.8 42h1.65v3.06h-1.65zM111.8 141.37h1.65v3.06h-1.65zM113.4 42h1.65v3.06h-1.65zM113.4 99.21h1.65v3.06h-1.65zM113.4 165.46h1.65v3.06h-1.65zM113.4 171.48h1.65v3.06h-1.65zM115 54.04h1.65v3.06h-1.65zM115 81.14h1.65v3.06h-1.65zM115 114.27h1.65v3.06h-1.65zM115 165.46h1.65v3.06h-1.65zM116.6 51.03h1.65v3.06h-1.65zM116.6 78.13h1.65v3.06h-1.65zM116.6 81.14h1.65v3.06h-1.65zM116.6 90.18h1.65v3.06h-1.65zM116.6 141.37h1.65v3.06h-1.65zM116.6 144.38h1.65v3.06h-1.65zM116.6 159.43h1.65v3.06h-1.65zM116.6 174.49h1.65v3.06h-1.65zM118.2 60.07h1.65v3.06h-1.65zM118.2 66.09h1.65v3.06h-1.65zM118.2 87.17h1.65v3.06h-1.65zM118.2 108.24h1.65v3.06h-1.65zM118.2 150.4h1.65v3.06h-1.65zM119.8 42h1.65v3.06h-1.65zM119.8 48.02h1.65v3.06h-1.65zM119.8 87.17h1.65v3.06h-1.65zM119.8 153.41h1.65v3.06h-1.65zM119.8 165.46h1.65v3.06h-1.65zM121.4 48.02h1.65v3.06h-1.65zM123 75.12h1.65v3.06h-1.65zM123 123.3h1.65v3.06h-1.65zM124.6 84.16h1.65v3.06h-1.65zM124.6 93.19h1.65v3.06h-1.65zM124.6 114.27h1.65v3.06h-1.65zM124.6 153.41h1.65v3.06h-1.65zM126.2 45.01h1.65v3.06h-1.65zM126.2 147.39h1.65v3.06h-1.65zM126.2 162.44h1.65v3.06h-1.65zM127.8 66.09h1.65v3.06h-1.65zM127.8 87.17h1.65v3.06h-1.65zM127.8 114.27h1.65v3.06h-1.65zM127.8 132.33h1.65v3.06h-1.65zM127.8 138.36h1.65v3.06h-1.65zM129.4 57.06h1.65v3.06h-1.65zM131 60.07h1.65v3.06h-1.65zM131 138.36h1.65v3.06h-1.65zM131 141.37h1.65v3.06h-1.65zM132.6 72.11h1.65v3.06h-1.65zM132.6 81.14h1.65v3.06h-1.65zM132.6 90.18h1.65v3.06h-1.65zM132.6 111.26h1.65v3.06h-1.65zM132.6 117.28h1.65v3.06h-1.65zM134.2 51.03h1.65v3.06h-1.65zM134.2 57.06h1.65v3.06h-1.65zM134.2 60.07h1.65v3.06h-1.65zM134.2 93.19h1.65v3.06h-1.65zM134.2 147.39h1.65v3.06h-1.65zM134.2 153.41h1.65v3.06h-1.65zM135.8 57.06h1.65v3.06h-1.65zM135.8 120.29h1.65v3.06h-1.65zM135.8 165.46h1.65v3.06h-1.65zM137.4 45.01h1.65v3.06h-1.65zM137.4 51.03h1.65v3.06h-1.65zM137.4 81.14h1.65v3.06h-1.65zM137.4 84.16h1.65v3.06h-1.65zM137.4 138.36h1.65v3.06h-1.65zM139 69.1h1.65v3.06h-1.65zM139 159.43h1.65v3.06h-1.65zM139 162.44h1.65v3.06h-1.65zM140.6 81.14h1.65v3.06h-1.65zM140.6 162.44h1.65v3.06h-1.65zM142.2 51.03h1.65v3.06h-1.65zM142.2 69.1h1.65v3.06h-1.65zM142.2 84.16h1.65v3.06h-1.65zM142.2 138.36h1.65v3.06h-1.65zM142.2 147.39h1.65v3.06h-1.65zM142.2 174.49h1.65v3.06h-1.65zM143.8 51.03h1.65v3.06h-1.65zM143.8 72.11h1.65v3.06h-1.65zM143.8 87.17h1.65v3.06h-1.65zM143.8 126.31h1.65v3.06h-1.65zM143.8 135.34h1.65v3.06h-1.65zM143.8 150.4h1.65v3.06h-1.65zM145.4 42h1.65v3.06h-1.65zM145.4 75.12h1.65v3.06h-1.65zM145.4 144.38h1.65v3.06h-1.65zM147 87.17h1.65v3.06h-1.65zM147 99.21h1.65v3.06h-1.65zM147 141.37h1.65v3.06h-1.65zM147 147.39h1.65v3.06h-1.65zM147 168.47h1.65v3.06h-1.65zM148.6 66.09h1.65v3.06h-1.65zM148.6 75.12h1.65v3.06h-1.65zM148.6 111.26h1.65v3.06h-1.65zM148.6 153.41h1.65v3.06h-1.65zM148.6 171.48h1.65v3.06h-1.65zM150.2 48.02h1.65v3.06h-1.65zM150.2 66.09h1.65v3.06h-1.65zM153.4 129.32h1.65v3.06h-1.65zM155 81.14h1.65v3.06h-1.65zM156.6 63.08h1.65v3.06h-1.65zM158.2 111.26h1.65v3.06h-1.65zM158.2 168.47h1.65v3.06h-1.65zM161.4 168.47h1.65v3.06h-1.65zM161.4 171.48h1.65v3.06h-1.65zM166.2 63.08h1.65v3.06h-1.65zM166.2 69.1h1.65v3.06h-1.65zM166.2 93.19h1.65v3.06h-1.65zM166.2 120.29h1.65v3.06h-1.65zM166.2 129.32h1.65v3.06h-1.65zM166.2 138.36h1.65v3.06h-1.65zM166.2 168.47h1.65v3.06h-1.65zM169.4 57.06h1.65v3.06h-1.65zM169.4 60.07h1.65v3.06h-1.65zM169.4 84.16h1.65v3.06h-1.65zM169.4 132.33h1.65v3.06h-1.65zM169.4 171.48h1.65v3.06h-1.65zM171 75.12h1.65v3.06h-1.65zM171 81.14h1.65v3.06h-1.65zM171 87.17h1.65v3.06h-1.65zM171 132.33h1.65v3.06h-1.65zM172.6 75.12h1.65v3.06h-1.65zM172.6 126.31h1.65v3.06h-1.65zM172.6 171.48h1.65v3.06h-1.65zM174.2 51.03h0.85v3.06h-0.85zM174.2 57.06h0.85v3.06h-0.85zM174.2 84.16h0.85v3.06h-0.85zM174.2 168.47h0.85v3.06h-0.85zM174.2 174.49h0.85v3.06h-0.85z"/>
<path fill="#f8f0ec" d="M27 54.04h1.65v3.06h-1.65zM27 168.47h1.65v3.06h-1.65zM27 174.49h1.65v3.06h-1.65zM30.2 129.32h1.65v3.06h-1.65zM30.2 171.48h1.65v3.06h-1.65zM31.8 117.28h1.65v3.06h-1.65zM31.8 120.29h1.65v3.06h-1.65zM33.4 51.03h1.65v3.06h-1.65zM33.4 60.07h1.65v3.06h-1.65zM33.4 120.29h1.65v3.06h-1.65zM33.4 165.46h1.65v3.06h-1.65zM33.4 168.47h1.65v3.06h-1.65zM35 135.34h1.65v3.06h-1.65zM36.6 75.12h1.65v3.06h-1.65zM36.6 123.3h1.65v3.06h-1.65zM36.6 126.31h1.65v3.06h-1.65zM36.6 129.32h1.65v3.06h-1.65zM36.6 135.34h1.65v3.06h-1.65zM36.6 138.36h1.65v3.06h-1.65zM36.6 141.37h1.65v3.06h-1.65zM36.6 144.38h1.65v3.06h-1.65zM38.2 123.3h1.65v3.06h-1.65zM38.2 165.46h1.65v3.06h-1.65zM39.8 51.03h1.65v3.06h-1.65zM39.8 120.29h1.65v3.06h-1.65zM41.4 45.01h1.65v3.06h-1.65zM41.4 57.06h1.65v3.06h-1.65zM41.4 120.29h1.65v3.06h-1.65zM41.4 132.33h1.65v3.06h-1.65zM41.4 138.36h1.65v3.06h-1.65zM41.4 165.46h1.65v3.06h-1.65zM41.4 171.48h1.65v3.06h-1.65zM43 48.02h1.65v3.06h-1.65zM43 117.28h1.65v3.06h-1.65zM44.6 108.24h1.65v3.06h-1.65zM44.6 135.34h1.65v3.06h-1.65zM46.2 54.04h1.65v3.06h-1.65zM46.2 63.08h1.65v3.06h-1.65zM46.2 120.29h1.65v3.06h-1.65zM46.2 129.32h1.65v3.06h-1.65zM46.2 144.38h1.65v3.06h-1.65zM46.2 153.41h1.65v3.06h-1.65zM46.2 171.48h1.65v3.06h-1.65zM47.8 48.02h1.65v3.06h-1.65zM47.8 111.26h1.65v3.06h-1.65zM47.8 120.29h1.65v3.06h-1.65zM47.8 123.3h1.65v3.06h-1.65zM47.8 129.32h1.65v3.06h-1.65zM47.8 150.4h1.65v3.06h-1.65zM47.8 153.41h1.65v3.06h-1.65zM49.4 45.01h1.65v3.06h-1.65zM49.4 105.23h1.65v3.06h-1.65zM49.4 108.24h1.65v3.06h-1.65zM49.4 120.29h1.65v3.06h-1.65zM49.4 159.43h1.65v3.06h-1.65zM51 51.03h1.65v3.06h-1.65zM51 69.1h1.65v3.06h-1.65zM51 87.17h1.65v3.06h-1.65zM51 99.21h1.65v3.06h-1.65zM51 111.26h1.65v3.06h-1.65zM51 120.29h1.65v3.06h-1.65zM52.6 45.01h1.65v3.06h-1.65zM52.6 90.18h1.65v3.06h-1.65zM52.6 96.2h1.65v3.06h-1.65zM52.6 132.33h1.65v3.06h-1.65zM52.6 138.36h1.65v3.06h-1.65zM52.6 153.41h1.65v3.06h-1.65zM52.6 162.44h1.65v3.06h-1.65zM52.6 165.46h1.65v3.06h-1.65zM52.6 168.47h1.65v3.06h-1.65zM54.2 69.1h1.65v3.06h-1.65zM54.2 117.28h1.65v3.06h-1.65zM54.2 123.3h1.65v3.06h-1.65zM54.2 147.39h1.65v3.06h-1.65zM55.8 45.01h1.65v3.06h-1.65zM55.8 87.17h1.65v3.06h-1.65zM55.8 99.21h1.65v3.06h-1.65zM55.8 162.44h1.65v3.06h-1.65zM55.8 171.48h1.65v3.06h-1.65zM57.4 72.11h1.65v3.06h-1.65zM57.4 81.14h1.65v3.06h-1.65zM57.4 105.23h1.65v3.06h-1.65zM57.4 108.24h1.65v3.06h-1.65zM57.4 141.37h1.65v3.06h-1.65zM57.4 171.48h1.65v3.06h-1.65zM57.4 174.49h1.65v3.06h-1.65zM59 42h1.65v3.06h-1.65zM59 48.02h1.65v3.06h-1.65zM59 51.03h1.65v3.06h-1.65zM59 105.23h1.65v3.06h-1.65zM59 147.39h1.65v3.06h-1.65zM60.6 90.18h1.65v3.06h-1.65zM60.6 123.3h1.65v3.06h-1.65zM60.6 132.33h1.65v3.06h-1.65zM60.6 150.4h1.65v3.06h-1.65zM62.2 48.02h1.65v3.06h-1.65zM62.2 111.26h1.65v3.06h-1.65zM62.2 123.3h1.65v3.06h-1.65zM62.2 141.37h1.65v3.06h-1.65zM62.2 174.49h1.65v3.06h-1.65zM63.8 81.14h1.65v3.06h-1.65zM63.8 93.19h1.65v3.06h-1.65zM63.8 108.24h1.65v3.06h-1.65zM63.8 153.41h1.65v3.06h-1.65zM63.8 156.42h1.65v3.06h-1.65zM63.8 174.49h1.65v3.06h-1.65zM65.4 51.03h1.65v3.06h-1.65zM65.4 102.22h1.65v3.06h-1.65zM65.4 150.4h1.65v3.06h-1.65zM65.4 168.47h1.65v3.06h-1.65zM67 48.02h1.65v3.06h-1.65zM67 132.33h1.65v3.06h-1.65zM67 162.44h1.65v3.06h-1.65zM68.6 57.06h1.65v3.06h-1.65zM68.6 105.23h1.65v3.06h-1.65zM68.6 114.27h1.65v3.06h-1.65zM70.2 54.04h1.65v3.06h-1.65zM70.2 78.13h1.65v3.06h-1.65zM70.2 87.17h1.65v3.06h-1.65zM70.2 93.19h1.65v3.06h-1.65zM70.2 96.2h1.65v3.06h-1.65zM70.2 117.28h1.65v3.06h-1.65zM70.2 129.32h1.65v3.06h-1.65zM70.2 150.4h1.65v3.06h-1.65zM70.2 153.41h1.65v3.06h-1.65zM70.2 165.46h1.65v3.06h-1.65zM71.8 51.03h1.65v3.06h-1.65zM71.8 72.11h1.65v3.06h-1.65zM71.8 87.17h1.65v3.06h-1.65zM71.8 114.27h1.65v3.06h-1.65zM71.8 162.44h1.65v3.06h-1.65zM73.4 90.18h1.65v3.06h-1.65zM73.4 99.21h1.65v3.06h-1.65zM73.4 114.27h1.65v3.06h-1.65zM73.4 132.33h1.65v3.06h-1.65zM73.4 138.36h1.65v3.06h-1.65zM75 45.01h1.65v3.06h-1.65zM75 93.19h1.65v3.06h-1.65zM75 102.22h1.65v3.06h-1.65zM75 159.43h1.65v3.06h-1.65zM75 171.48h1.65v3.06h-1.65zM76.6 144.38h1.65v3.06h-1.65zM76.6 150.4h1.65v3.06h-1.65zM76.6 174.49h1.65v3.06h-1.65zM78.2 48.02h1.65v3.06h-1.65zM78.2 57.06h1.65v3.06h-1.65zM78.2 60.07h1.65v3.06h-1.65zM78.2 66.09h1.65v3.06h-1.65zM78.2 75.12h1.65v3.06h-1.65zM78.2 138.36h1.65v3.06h-1.65zM78.2 159.43h1.65v3.06h-1.65zM78.2 162.44h1.65v3.06h-1.65zM78.2 168.47h1.65v3.06h-1.65zM79.8 144.38h1.65v3.06h-1.65zM81.4 48.02h1.65v3.06h-1.65zM81.4 78.13h1.65v3.06h-1.65zM81.4 81.14h1.65v3.06h-1.65zM81.4 87.17h1.65v3.06h-1.65zM81.4 168.47h1.65v3.06h-1.65zM83 45.01h1.65v3.06h-1.65zM83 81.14h1.65v3.06h-1.65zM83 93.19h1.65v3.06h-1.65zM83 129.32h1.65v3.06h-1.65zM83 171.48h1.65v3.06h-1.65zM84.6 45.01h1.65v3.06h-1.65zM84.6 60.07h1.65v3.06h-1.65zM84.6 66.09h1.65v3.06h-1.65zM84.6 81.14h1.65v3.06h-1.65zM84.6 93.19h1.65v3.06h-1.65zM84.6 99.21h1.65v3.06h-1.65zM84.6 132.33h1.65v3.06h-1.65zM84.6 171.48h1.65v3.06h-1.65zM86.2 42h1.65v3.06h-1.65zM86.2 63.08h1.65v3.06h-1.65zM86.2 87.17h1.65v3.06h-1.65zM86.2 141.37h1.65v3.06h-1.65zM86.2 162.44h1.65v3.06h-1.65zM87.8 57.06h1.65v3.06h-1.65zM87.8 96.2h1.65v3.06h-1.65zM87.8 168.47h1.65v3.06h-1.65zM89.4 78.13h1.65v3.06h-1.65zM89.4 102.22h1.65v3.06h-1.65zM89.4 147.39h1.65v3.06h-1.65zM91 60.07h1.65v3.06h-1.65zM91 138.36h1.65v3.06h-1.65zM91 147.39h1.65v3.06h-1.65zM92.6 57.06h1.65v3.06h-1.65zM92.6 69.1h1.65v3.06h-1.65zM92.6 135.34h1.65v3.06h-1.65zM94.2 60.07h1.65v3.06h-1.65zM94.2 111.26h1.65v3.06h-1.65zM94.2 156.42h1.65v3.06h-1.65zM94.2 171.48h1.65v3.06h-1.65zM95.8 51.03h1.65v3.06h-1.65zM95.8 75.12h1.65v3.06h-1.65zM95.8 138.36h1.65v3.06h-1.65zM95.8 144.38h1.65v3.06h-1.65zM95.8 162.44h1.65v3.06h-1.65zM95.8 174.49h1.65v3.06h-1.65zM97.4 57.06h1.65v3.06h-1.65zM97.4 171.48h1.65v3.06h-1.65zM99 51.03h1.65v3.06h-1.65zM99 138.36h1.65v3.06h-1.65zM99 141.37h1.65v3.06h-1.65zM100.6 42h1.65v3.06h-1.65zM100.6 81.14h1.65v3.06h-1.65zM100.6 171.48h1.65v3.06h-1.65zM102.2 78.13h1.65v3.06h-1.65zM102.2 81.14h1.65v3.06h-1.65zM102.2 84.16h1.65v3.06h-1.65zM103.8 159.43h1.65v3.06h-1.65zM103.8 162.44h1.65v3.06h-1.65zM105.4 69.1h1.65v3.06h-1.65zM105.4 81.14h1.65v3.06h-1.65zM105.4 171.48h1.65v3.06h-1.65zM107 45.01h1.65v3.06h-1.65zM107 60.07h1.65v3.06h-1.65zM107 84.16h1.65v3.06h-1.65zM107 90.18h1.65v3.06h-1.65zM108.6 78.13h1.65v3.06h-1.65zM108.6 96.2h1.65v3.06h-1.65zM108.6 126.31h1.65v3.06h-1.65zM108.6 147.39h1.65v3.06h-1.65zM108.6 150.4h1.65v3.06h-1.65zM110.2 60.07h1.65v3.06h-1.65zM110.2 84.16h1.65v3.06h-1.65zM111.8 45.01h1.65v3.06h-1.65zM113.4 48.02h1.65v3.06h-1.65zM113.4 57.06h1.65v3.06h-1.65zM113.4 60.07h1.65v3.06h-1.65zM113.4 63.08h1.65v3.06h-1.65zM113.4 96.2h1.65v3.06h-1.65zM113.4 126.31h1.65v3.06h-1.65zM115 87.17h1.65v3.06h-1.65zM116.6 42h1.65v3.06h-1.65zM116.6 54.04h1.65v3.06h-1.65zM116.6 87.17h1.65v3.06h-1.65zM116.6 171.48h1.65v3.06h-1.65zM118.2 48.02h1.65v3.06h-1.65zM118.2 114.27h1.65v3.06h-1.65zM118.2 144.38h1.65v3.06h-1.65zM118.2 162.44h1.65v3.06h-1.65zM118.2 165.46h1.65v3.06h-1.65zM118.2 171.48h1.65v3.06h-1.65zM119.8 54.04h1.65v3.06h-1.65zM119.8 60.07h1.65v3.06h-1.65zM119.8 84.16h1.65v3.06h-1.65zM119.8 138.36h1.65v3.06h-1.65zM119.8 168.47h1.65v3.06h-1.65zM121.4 60.07h1.65v3.06h-1.65zM121.4 78.13h1.65v3.06h-1.65zM123 42h1.65v3.06h-1.65zM123 48.02h1.65v3.06h-1.65zM123 69.1h1.65v3.06h-1.65zM123 78.13h1.65v3.06h-1.65zM123 138.36h1.65v3.06h-1.65zM124.6 48.02h1.65v3.06h-1.65zM126.2 63.08h1.65v3.06h-1.65zM126.2 66.09h1.65v3.06h-1.65zM126.2 72.11h1.65v3.06h-1.65zM126.2 135.34h1.65v3.06h-1.65zM126.2 168.47h1.65v3.06h-1.65zM127.8 48.02h1.65v3.06h-1.65zM127.8 165.46h1.65v3.06h-1.65zM127.8 174.49h1.65v3.06h-1.65zM129.4 66.09h1.65v3.06h-1.65zM129.4 120.29h1.65v3.06h-1.65zM129.4 126.31h1.65v3.06h-1.65zM129.4 129.32h1.65v3.06h-1.65zM131 42h1.65v3.06h-1.65zM131 48.02h1.65v3.06h-1.65zM131 111.26h1.65v3.06h-1.65zM131 120.29h1.65v3.06h-1.65zM132.6 51.03h1.65v3.06h-1.65zM132.6 144.38h1.65v3.06h-1.65zM134.2 48.02h1.65v3.06h-1.65zM134.2 69.1h1.65v3.06h-1.65zM134.2 120.29h1.65v3.06h-1.65zM134.2 135.34h1.65v3.06h-1.65zM135.8 42h1.65v3.06h-1.65zM135.8 54.04h1.65v3.06h-1.65zM135.8 72.11h1.65v3.06h-1.65zM137.4 159.43h1.65v3.06h-1.65zM137.4 174.49h1.65v3.06h-1.65zM139 45.01h1.65v3.06h-1.65zM139 78.13h1.65v3.06h-1.65zM139 81.14h1.65v3.06h-1.65zM139 90.18h1.65v3.06h-1.65zM139 120.29h1.65v3.06h-1.65zM139 153.41h1.65v3.06h-1.65zM140.6 45.01h1.65v3.06h-1.65zM140.6 51.03h1.65v3.06h-1.65zM140.6 165.46h1.65v3.06h-1.65zM142.2 45.01h1.65v3.06h-1.65zM142.2 75.12h1.65v3.06h-1.65zM142.2 153.41h1.65v3.06h-1.65zM143.8 54.04h1.65v3.06h-1.65zM143.8 60.07h1.65v3.06h-1.65zM143.8 69.1h1.65v3.06h-1.65zM143.8 75.12h1.65v3.06h-1.65zM143.8 138.36h1.65v3.06h-1.65zM143.8 153.41h1.65v3.06h-1.65zM145.4 51.03h1.65v3.06h-1.65zM145.4 54.04h1.65v3.06h-1.65zM145.4 57.06h1.65v3.06h-1.65zM145.4 156.42h1.65v3.06h-1.65zM145.4 171.48h1.65v3.06h-1.65zM147 111.26h1.65v3.06h-1.65zM148.6 48.02h1.65v3.06h-1.65zM148.6 54.04h1.65v3.06h-1.65zM148.6 72.11h1.65v3.06h-1.65zM148.6 96.2h1.65v3.06h-1.65zM148.6 150.4h1.65v3.06h-1.65zM148.6 165.46h1.65v3.06h-1.65zM150.2 102.22h1.65v3.06h-1.65zM150.2 174.49h1.65v3.06h-1.65zM151.8 48.02h1.65v3.06h-1.65zM151.8 90.18h1.65v3.06h-1.65zM153.4 123.3h1.65v3.06h-1.65zM155 108.24h1.65v3.06h-1.65zM156.6 51.03h1.65v3.06h-1.65zM156.6 111.26h1.65v3.06h-1.65zM158.2 42h1.65v3.06h-1.65zM158.2 54.04h1.65v3.06h-1.65zM158.2 150.4h1.65v3.06h-1.65zM159.8 54.04h1.65v3.06h-1.65zM159.8 165.46h1.65v3.06h-1.65zM161.4 111.26h1.65v3.06h-1.65zM163 48.02h1.65v3.06h-1.65zM164.6 129.32h1.65v3.06h-1.65zM169.4 42h1.65v3.06h-1.65zM169.4 51.03h1.65v3.06h-1.65zM169.4 141.37h1.65v3.06h-1.65zM171 54.04h1.65v3.06h-1.65zM171 57.06h1.65v3.06h-1.65zM171 72.11h1.65v3.06h-1.65zM171 105.23h1.65v3.06h-1.65zM172.6 63.08h1.65v3.06h-1.65zM172.6 66.09h1.65v3.06h-1.65zM174.2 60.07h0.85v3.06h-0.85zM174.2 63.08h0.85v3.06h-0.85zM174.2 165.46h0.85v3.06h-0.85z"/>
<path fill="#e4906e" d="M27 63.08h1.65v3.06h-1.65zM27 81.14h1.65v3.06h-1.65zM27 126.31h1.65v3.06h-1.65zM27 132.33h1.65v3.06h-1.65zM27 135.34h1.65v3.06h-1.65zM28.6 90.18h1.65v3.06h-1.65zM28.6 114.27h1.65v3.06h-1.65zM28.6 147.39h1.65v3.06h-1.65zM30.2 87.17h1.65v3.06h-1.65zM30.2 99.21h1.65v3.06h-1.65zM31.8 75.12h1.65v3.06h-1.65zM31.8 84.16h1.65v3.06h-1.65zM31.8 132.33h1.65v3.06h-1.65zM39.8 78.13h1.65v3.06h-1.65zM39.8 93.19h1.65v3.06h-1.65zM39.8 114.27h1.65v3.06h-1.65zM41.4 93.19h1.65v3.06h-1.65zM43 69.1h1.65v3.06h-1.65zM43 114.27h1.65v3.06h-1.65zM44.6 81.14h1.65v3.06h-1.65zM47.8 99.21h1.65v3.06h-1.65z"/>
<path fill="#d6755a" d="M27 66.09h1.65v3.06h-1.65zM27 96.2h1.65v3.06h-1.65zM27 162.44h1.65v3.06h-1.65zM28.6 105.23h1.65v3.06h-1.65zM28.6 150.4h1.65v3.06h-1.65zM28.6 159.43h1.65v3.06h-1.65zM31.8 144.38h1.65v3.06h-1.65zM31.8 159.43h1.65v3.06h-1.65zM33.4 162.44h1.65v3.06h-1.65zM38.2 63.08h1.65v3.06h-1.65zM38.2 66.09h1.65v3.06h-1.65zM38.2 78.13h1.65v3.06h-1.65zM38.2 87.17h1.65v3.06h-1.65zM38.2 90.18h1.65v3.06h-1.65zM38.2 93.19h1.65v3.06h-1.65zM38.2 96.2h1.65v3.06h-1.65zM39.8 72.11h1.65v3.06h-1.65zM43 90.18h1.65v3.06h-1.65zM43 96.2h1.65v3.06h-1.65zM44.6 84.16h1.65v3.06h-1.65zM44.6 99.21h1.65v3.06h-1.65zM55.8 78.13h1.65v3.06h-1.65zM123 144.38h1.65v3.06h-1.65z"/>
<path fill="#f5ceb9" d="M27 69.1h1.65v3.06h-1.65zM28.6 60.07h1.65v3.06h-1.65zM30.2 111.26h1.65v3.06h-1.65zM30.2 114.27h1.65v3.06h-1.65zM30.2 117.28h1.65v3.06h-1.65zM30.2 174.49h1.65v3.06h-1.65zM31.8 66.09h1.65v3.06h-1.65zM31.8 93.19h1.65v3.06h-1.65zM31.8 135.34h1.65v3.06h-1.65zM33.4 66.09h1.65v3.06h-1.65zM33.4 84.16h1.65v3.06h-1.65zM33.4 105.23h1.65v3.06h-1.65zM33.4 153.41h1.65v3.06h-1.65zM36.6 162.44h1.65v3.06h-1.65zM38.2 141.37h1.65v3.06h-1.65zM38.2 171.48h1.65v3.06h-1.65zM39.8 57.06h1.65v3.06h-1.65zM39.8 69.1h1.65v3.06h-1.65zM39.8 102.22h1.65v3.06h-1.65zM39.8 105.23h1.65v3.06h-1.65zM39.8 135.34h1.65v3.06h-1.65zM41.4 156.42h1.65v3.06h-1.65zM43 153.41h1.65v3.06h-1.65zM43 156.42h1.65v3.06h-1.65zM43 162.44h1.65v3.06h-1.65zM43 174.49h1.65v3.06h-1.65zM44.6 42h1.65v3.06h-1.65zM44.6 57.06h1.65v3.06h-1.65zM44.6 123.3h1.65v3.06h-1.65zM44.6 129.32h1.65v3.06h-1.65zM44.6 141.37h1.65v3.06h-1.65zM47.8 66.09h1.65v3.06h-1.65zM47.8 78.13h1.65v3.06h-1.65zM47.8 84.16h1.65v3.06h-1.65zM47.8 90.18h1.65v3.06h-1.65zM47.8 117.28h1.65v3.06h-1.65zM49.4 84.16h1.65v3.06h-1.65zM49.4 87.17h1.65v3.06h-1.65zM49.4 138.36h1.65v3.06h-1.65zM51 72.11h1.65v3.06h-1.65zM51 129.32h1.65v3.06h-1.65zM51 153.41h1.65v3.06h-1.65zM52.6 75.12h1.65v3.06h-1.65zM52.6 99.21h1.65v3.06h-1.65zM52.6 117.28h1.65v3.06h-1.65zM52.6 147.39h1.65v3.06h-1.65zM54.2 129.32h1.65v3.06h-1.65zM57.4 99.21h1.65v3.06h-1.65zM59 66.09h1.65v3.06h-1.65zM59 141.37h1.65v3.06h-1.65zM60.6 60.07h1.65v3.06h-1.65zM60.6 105.23h1.65v3.06h-1.65zM60.6 117.28h1.65v3.06h-1.65zM60.6 135.34h1.65v3.06h-1.65zM60.6 138.36h1.65v3.06h-1.65zM60.6 165.46h1.65v3.06h-1.65zM60.6 171.48h1.65v3.06h-1.65zM62.2 66.09h1.65v3.06h-1.65zM62.2 72.11h1.65v3.06h-1.65zM62.2 78.13h1.65v3.06h-1.65zM62.2 153.41h1.65v3.06h-1.65zM63.8 57.06h1.65v3.06h-1.65zM63.8 123.3h1.65v3.06h-1.65zM63.8 135.34h1.65v3.06h-1.65zM63.8 141.37h1.65v3.06h-1.65zM63.8 144.38h1.65v3.06h-1.65zM63.8 159.43h1.65v3.06h-1.65zM65.4 72.11h1.65v3.06h-1.65zM65.4 99.21h1.65v3.06h-1.65zM65.4 141.37h1.65v3.06h-1.65zM67 141.37h1.65v3.06h-1.65zM67 150.4h1.65v3.06h-1.65zM67 156.42h1.65v3.06h-1.65zM70.2 138.36h1.65v3.06h-1.65zM71.8 81.14h1.65v3.06h-1.65zM75 66.09h1.65v3.06h-1.65zM78.2 87.17h1.65v3.06h-1.65zM78.2 132.33h1.65v3.06h-1.65zM79.8 84.16h1.65v3.06h-1.65zM83 48.02h1.65v3.06h-1.65zM83 135.34h1.65v3.06h-1.65zM87.8 63.08h1.65v3.06h-1.65zM89.4 45.01h1.65v3.06h-1.65zM89.4 66.09h1.65v3.06h-1.65zM89.4 87.17h1.65v3.06h-1.65zM94.2 51.03h1.65v3.06h-1.65zM95.8 48.02h1.65v3.06h-1.65zM126.2 120.29h1.65v3.06h-1.65zM126.2 126.31h1.65v3.06h-1.65zM127.8 120.29h1.65v3.06h-1.65zM127.8 129.32h1.65v3.06h-1.65zM131 123.3h1.65v3.06h-1.65zM134.2 129.32h1.65v3.06h-1.65zM164.6 42h1.65v3.06h-1.65z"/>
<path fill="#d26c53" d="M27 72.11h1.65v3.06h-1.65zM44.6 69.1h1.65v3.06h-1.65zM137.4 48.02h1.65v3.06h-1.65z"/>
<path fill="#e79b7b" d="M27 75.12h1.65v3.06h-1.65zM27 123.3h1.65v3.06h-1.65zM27 150.4h1.65v3.06h-1.65zM28.6 96.2h1.65v3.06h-1.65zM28.6 99.21h1.65v3.06h-1.65zM28.6 108.24h1.65v3.06h-1.65zM28.6 132.33h1.65v3.06h-1.65zM28.6 135.34h1.65v3.06h-1.65zM28.6 144.38h1.65v3.06h-1.65zM28.6 156.42h1.65v3.06h-1.65zM30.2 93.19h1.65v3.06h-1.65zM30.2 132.33h1.65v3.06h-1.65zM30.2 138.36h1.65v3.06h-1.65zM30.2 153.41h1.65v3.06h-1.65zM31.8 69.1h1.65v3.06h-1.65zM31.8 81.14h1.65v3.06h-1.65zM31.8 102.22h1.65v3.06h-1.65zM31.8 147.39h1.65v3.06h-1.65zM31.8 150.4h1.65v3.06h-1.65zM33.4 150.4h1.65v3.06h-1.65zM38.2 75.12h1.65v3.06h-1.65zM38.2 108.24h1.65v3.06h-1.65zM38.2 111.26h1.65v3.06h-1.65zM38.2 174.49h1.65v3.06h-1.65zM39.8 66.09h1.65v3.06h-1.65zM39.8 75.12h1.65v3.06h-1.65zM39.8 87.17h1.65v3.06h-1.65zM39.8 99.21h1.65v3.06h-1.65zM41.4 72.11h1.65v3.06h-1.65zM43 66.09h1.65v3.06h-1.65zM43 72.11h1.65v3.06h-1.65zM43 78.13h1.65v3.06h-1.65zM43 84.16h1.65v3.06h-1.65zM44.6 78.13h1.65v3.06h-1.65zM44.6 90.18h1.65v3.06h-1.65zM59 84.16h1.65v3.06h-1.65zM62.2 96.2h1.65v3.06h-1.65zM67 66.09h1.65v3.06h-1.65zM67 69.1h1.65v3.06h-1.65zM67 87.17h1.65v3.06h-1.65zM67 96.2h1.65v3.06h-1.65zM94.2 90.18h1.65v3.06h-1.65zM159.8 42h1.65v3.06h-1.65z"/>
<path fill="#e08767" d="M27 78.13h1.65v3.06h-1.65zM27 93.19h1.65v3.06h-1.65zM27 120.29h1.65v3.06h-1.65zM27 138.36h1.65v3.06h-1.65zM27 159.43h1.65v3.06h-1.65zM28.6 63.08h1.65v3.06h-1.65zM28.6 81.14h1.65v3.06h-1.65zM28.6 87.17h1.65v3.06h-1.65zM30.2 96.2h1.65v3.06h-1.65zM30.2 141.37h1.65v3.06h-1.65zM30.2 147.39h1.65v3.06h-1.65zM31.8 87.17h1.65v3.06h-1.65zM31.8 138.36h1.65v3.06h-1.65zM31.8 156.42h1.65v3.06h-1.65zM31.8 162.44h1.65v3.06h-1.65zM38.2 72.11h1.65v3.06h-1.65zM38.2 99.21h1.65v3.06h-1.65zM43 75.12h1.65v3.06h-1.65zM44.6 72.11h1.65v3.06h-1.65zM59 69.1h1.65v3.06h-1.65zM67 93.19h1.65v3.06h-1.65zM159.8 87.17h1.65v3.06h-1.65z"/>
<path fill="#eaa687" d="M27 84.16h1.65v3.06h-1.65zM27 102.22h1.65v3.06h-1.65zM28.6 66.09h1.65v3.06h-1.65zM28.6 75.12h1.65v3.06h-1.65zM28.6 93.19h1.65v3.06h-1.65zM28.6 102.22h1.65v3.06h-1.65zM28.6 111.26h1.65v3.06h-1.65zM30.2 81.14h1.65v3.06h-1.65zM30.2 162.44h1.65v3.06h-1.65zM31.8 72.11h1.65v3.06h-1.65zM31.8 78.13h1.65v3.06h-1.65zM31.8 96.2h1.65v3.06h-1.65zM31.8 99.21h1.65v3.06h-1.65zM33.4 69.1h1.65v3.06h-1.65zM33.4 132.33h1.65v3.06h-1.65zM38.2 102.22h1.65v3.06h-1.65zM39.8 84.16h1.65v3.06h-1.65zM39.8 96.2h1.65v3.06h-1.65zM39.8 108.24h1.65v3.06h-1.65zM41.4 87.17h1.65v3.06h-1.65zM41.4 99.21h1.65v3.06h-1.65zM41.4 114.27h1.65v3.06h-1.65zM43 63.08h1.65v3.06h-1.65zM44.6 66.09h1.65v3.06h-1.65zM44.6 75.12h1.65v3.06h-1.65zM44.6 87.17h1.65v3.06h-1.65zM44.6 93.19h1.65v3.06h-1.65zM49.4 90.18h1.65v3.06h-1.65zM62.2 99.21h1.65v3.06h-1.65zM67 81.14h1.65v3.06h-1.65zM67 84.16h1.65v3.06h-1.65zM75 81.14h1.65v3.06h-1.65zM139 123.3h1.65v3.06h-1.65z"/>
<path fill="#edb094" d="M27 87.17h1.65v3.06h-1.65zM27 99.21h1.65v3.06h-1.65zM27 114.27h1.65v3.06h-1.65zM28.6 72.11h1.65v3.06h-1.65zM28.6 78.13h1.65v3.06h-1.65zM28.6 117.28h1.65v3.06h-1.65zM30.2 66.09h1.65v3.06h-1.65zM30.2 78.13h1.65v3.06h-1.65zM30.2 144.38h1.65v3.06h-1.65zM30.2 156.42h1.65v3.06h-1.65zM33.4 72.11h1.65v3.06h-1.65zM33.4 81.14h1.65v3.06h-1.65zM33.4 117.28h1.65v3.06h-1.65zM38.2 156.42h1.65v3.06h-1.65zM39.8 81.14h1.65v3.06h-1.65zM39.8 90.18h1.65v3.06h-1.65zM41.4 69.1h1.65v3.06h-1.65zM41.4 84.16h1.65v3.06h-1.65zM41.4 90.18h1.65v3.06h-1.65zM43 108.24h1.65v3.06h-1.65zM59 78.13h1.65v3.06h-1.65zM60.6 48.02h1.65v3.06h-1.65zM60.6 147.39h1.65v3.06h-1.65zM62.2 84.16h1.65v3.06h-1.65zM62.2 120.29h1.65v3.06h-1.65zM63.8 117.28h1.65v3.06h-1.65zM67 72.11h1.65v3.06h-1.65zM67 75.12h1.65v3.06h-1.65zM67 99.21h1.65v3.06h-1.65zM75 72.11h1.65v3.06h-1.65zM75 75.12h1.65v3.06h-1.65zM86.2 78.13h1.65v3.06h-1.65zM87.8 81.14h1.65v3.06h-1.65zM135.8 126.31h1.65v3.06h-1.65z"/>
<path fill="#db7e60" d="M27 90.18h1.65v3.06h-1.65zM27 117.28h1.65v3.06h-1.65zM27 144.38h1.65v3.06h-1.65zM27 147.39h1.65v3.06h-1.65zM27 153.41h1.65v3.06h-1.65zM28.6 69.1h1.65v3.06h-1.65zM31.8 141.37h1.65v3.06h-1.65zM43 81.14h1.65v3.06h-1.65zM43 93.19h1.65v3.06h-1.65zM43 99.21h1.65v3.06h-1.65zM44.6 63.08h1.65v3.06h-1.65zM119.8 147.39h1.65v3.06h-1.65zM153.4 78.13h1.65v3.06h-1.65zM153.4 93.19h1.65v3.06h-1.65z"/>
<path fill="#a7152a" d="M27 105.23h1.65v3.06h-1.65zM27 108.24h1.65v3.06h-1.65zM27 111.26h1.65v3.06h-1.65zM28.6 138.36h1.65v3.06h-1.65zM30.2 150.4h1.65v3.06h-1.65zM31.8 105.23h1.65v3.06h-1.65zM31.8 108.24h1.65v3.06h-1.65zM31.8 111.26h1.65v3.06h-1.65zM31.8 153.41h1.65v3.06h-1.65zM33.4 135.34h1.65v3.06h-1.65zM33.4 144.38h1.65v3.06h-1.65zM36.6 117.28h1.65v3.06h-1.65zM36.6 120.29h1.65v3.06h-1.65zM38.2 81.14h1.65v3.06h-1.65zM38.2 84.16h1.65v3.06h-1.65zM44.6 165.46h1.65v3.06h-1.65zM44.6 168.47h1.65v3.06h-1.65zM51 132.33h1.65v3.06h-1.65zM51 135.34h1.65v3.06h-1.65zM55.8 147.39h1.65v3.06h-1.65zM65.4 174.49h1.65v3.06h-1.65zM67 174.49h1.65v3.06h-1.65zM71.8 174.49h1.65v3.06h-1.65zM75 60.07h1.65v3.06h-1.65zM76.6 51.03h1.65v3.06h-1.65zM79.8 54.04h1.65v3.06h-1.65zM81.4 141.37h1.65v3.06h-1.65zM81.4 144.38h1.65v3.06h-1.65zM83 153.41h1.65v3.06h-1.65zM97.4 153.41h1.65v3.06h-1.65zM110.2 174.49h1.65v3.06h-1.65zM115 159.43h1.65v3.06h-1.65zM118.2 102.22h1.65v3.06h-1.65zM118.2 141.37h1.65v3.06h-1.65zM118.2 159.43h1.65v3.06h-1.65zM118.2 168.47h1.65v3.06h-1.65zM166.2 45.01h1.65v3.06h-1.65zM166.2 48.02h1.65v3.06h-1.65zM166.2 51.03h1.65v3.06h-1.65zM166.2 54.04h1.65v3.06h-1.65zM167.8 45.01h1.65v3.06h-1.65zM167.8 48.02h1.65v3.06h-1.65zM167.8 51.03h1.65v3.06h-1.65zM167.8 54.04h1.65v3.06h-1.65zM169.4 54.04h1.65v3.06h-1.65zM174.2 54.04h0.85v3.06h-0.85z"/>
<path fill="#f3c6ad" d="M27 129.32h1.65v3.06h-1.65zM28.6 84.16h1.65v3.06h-1.65zM30.2 75.12h1.65v3.06h-1.65zM30.2 90.18h1.65v3.06h-1.65zM30.2 105.23h1.65v3.06h-1.65zM30.2 135.34h1.65v3.06h-1.65zM31.8 129.32h1.65v3.06h-1.65zM33.4 93.19h1.65v3.06h-1.65zM33.4 96.2h1.65v3.06h-1.65zM33.4 99.21h1.65v3.06h-1.65zM33.4 102.22h1.65v3.06h-1.65zM33.4 114.27h1.65v3.06h-1.65zM33.4 141.37h1.65v3.06h-1.65zM36.6 81.14h1.65v3.06h-1.65zM36.6 87.17h1.65v3.06h-1.65zM38.2 45.01h1.65v3.06h-1.65zM38.2 114.27h1.65v3.06h-1.65zM38.2 138.36h1.65v3.06h-1.65zM38.2 147.39h1.65v3.06h-1.65zM41.4 63.08h1.65v3.06h-1.65zM41.4 75.12h1.65v3.06h-1.65zM41.4 81.14h1.65v3.06h-1.65zM41.4 102.22h1.65v3.06h-1.65zM43 87.17h1.65v3.06h-1.65zM43 123.3h1.65v3.06h-1.65zM43 126.31h1.65v3.06h-1.65zM43 132.33h1.65v3.06h-1.65zM43 168.47h1.65v3.06h-1.65zM43 171.48h1.65v3.06h-1.65zM44.6 111.26h1.65v3.06h-1.65zM47.8 69.1h1.65v3.06h-1.65zM47.8 72.11h1.65v3.06h-1.65zM47.8 81.14h1.65v3.06h-1.65zM52.6 174.49h1.65v3.06h-1.65zM57.4 66.09h1.65v3.06h-1.65zM60.6 156.42h1.65v3.06h-1.65zM62.2 69.1h1.65v3.06h-1.65zM62.2 87.17h1.65v3.06h-1.65zM62.2 90.18h1.65v3.06h-1.65zM62.2 105.23h1.65v3.06h-1.65zM62.2 147.39h1.65v3.06h-1.65zM63.8 120.29h1.65v3.06h-1.65zM65.4 75.12h1.65v3.06h-1.65zM65.4 96.2h1.65v3.06h-1.65zM67 63.08h1.65v3.06h-1.65zM68.6 84.16h1.65v3.06h-1.65zM68.6 87.17h1.65v3.06h-1.65zM75 69.1h1.65v3.06h-1.65zM75 99.21h1.65v3.06h-1.65zM79.8 99.21h1.65v3.06h-1.65zM83 57.06h1.65v3.06h-1.65zM83 69.1h1.65v3.06h-1.65zM83 165.46h1.65v3.06h-1.65zM89.4 51.03h1.65v3.06h-1.65zM89.4 93.19h1.65v3.06h-1.65zM111.8 135.34h1.65v3.06h-1.65zM127.8 123.3h1.65v3.06h-1.65zM127.8 126.31h1.65v3.06h-1.65zM148.6 42h1.65v3.06h-1.65zM148.6 51.03h1.65v3.06h-1.65zM163 42h1.65v3.06h-1.65zM169.4 45.01h1.65v3.06h-1.65z"/>
<path fill="#ce634c" d="M27 141.37h1.65v3.06h-1.65zM27 156.42h1.65v3.06h-1.65zM115 48.02h1.65v3.06h-1.65z"/>
<path fill="#f7d6c5" d="M28.6 48.02h1.65v3.06h-1.65zM28.6 123.3h1.65v3.06h-1.65zM28.6 126.31h1.65v3.06h-1.65zM28.6 129.32h1.65v3.06h-1.65zM28.6 141.37h1.65v3.06h-1.65zM28.6 162.44h1.65v3.06h-1.65zM28.6 165.46h1.65v3.06h-1.65zM30.2 42h1.65v3.06h-1.65zM30.2 63.08h1.65v3.06h-1.65zM30.2 69.1h1.65v3.06h-1.65zM33.4 63.08h1.65v3.06h-1.65zM33.4 87.17h1.65v3.06h-1.65zM33.4 90.18h1.65v3.06h-1.65zM33.4 108.24h1.65v3.06h-1.65zM33.4 111.26h1.65v3.06h-1.65zM33.4 156.42h1.65v3.06h-1.65zM33.4 159.43h1.65v3.06h-1.65zM36.6 60.07h1.65v3.06h-1.65zM36.6 78.13h1.65v3.06h-1.65zM36.6 93.19h1.65v3.06h-1.65zM36.6 132.33h1.65v3.06h-1.65zM38.2 57.06h1.65v3.06h-1.65zM38.2 153.41h1.65v3.06h-1.65zM39.8 45.01h1.65v3.06h-1.65zM39.8 111.26h1.65v3.06h-1.65zM39.8 129.32h1.65v3.06h-1.65zM39.8 156.42h1.65v3.06h-1.65zM39.8 159.43h1.65v3.06h-1.65zM41.4 96.2h1.65v3.06h-1.65zM41.4 111.26h1.65v3.06h-1.65zM41.4 150.4h1.65v3.06h-1.65zM41.4 153.41h1.65v3.06h-1.65zM41.4 168.47h1.65v3.06h-1.65zM43 45.01h1.65v3.06h-1.65zM43 57.06h1.65v3.06h-1.65zM43 105.23h1.65v3.06h-1.65zM43 147.39h1.65v3.06h-1.65zM44.6 48.02h1.65v3.06h-1.65zM44.6 102.22h1.65v3.06h-1.65zM44.6 120.29h1.65v3.06h-1.65zM44.6 138.36h1.65v3.06h-1.65zM46.2 87.17h1.65v3.06h-1.65zM47.8 60.07h1.65v3.06h-1.65zM47.8 147.39h1.65v3.06h-1.65zM47.8 165.46h1.65v3.06h-1.65zM49.4 72.11h1.65v3.06h-1.65zM49.4 93.19h1.65v3.06h-1.65zM49.4 99.21h1.65v3.06h-1.65zM51 123.3h1.65v3.06h-1.65zM51 156.42h1.65v3.06h-1.65zM51 168.47h1.65v3.06h-1.65zM52.6 72.11h1.65v3.06h-1.65zM52.6 87.17h1.65v3.06h-1.65zM52.6 111.26h1.65v3.06h-1.65zM54.2 60.07h1.65v3.06h-1.65zM54.2 138.36h1.65v3.06h-1.65zM55.8 135.34h1.65v3.06h-1.65zM57.4 144.38h1.65v3.06h-1.65zM59 90.18h1.65v3.06h-1.65zM59 99.21h1.65v3.06h-1.65zM59 138.36h1.65v3.06h-1.65zM60.6 141.37h1.65v3.06h-1.65zM62.2 108.24h1.65v3.06h-1.65zM62.2 126.31h1.65v3.06h-1.65zM62.2 129.32h1.65v3.06h-1.65zM63.8 66.09h1.65v3.06h-1.65zM63.8 111.26h1.65v3.06h-1.65zM63.8 165.46h1.65v3.06h-1.65zM65.4 66.09h1.65v3.06h-1.65zM65.4 87.17h1.65v3.06h-1.65zM65.4 117.28h1.65v3.06h-1.65zM67 51.03h1.65v3.06h-1.65zM67 90.18h1.65v3.06h-1.65zM67 120.29h1.65v3.06h-1.65zM67 168.47h1.65v3.06h-1.65zM68.6 69.1h1.65v3.06h-1.65zM68.6 93.19h1.65v3.06h-1.65zM68.6 102.22h1.65v3.06h-1.65zM68.6 126.31h1.65v3.06h-1.65zM68.6 132.33h1.65v3.06h-1.65zM68.6 135.34h1.65v3.06h-1.65zM68.6 162.44h1.65v3.06h-1.65zM71.8 48.02h1.65v3.06h-1.65zM71.8 84.16h1.65v3.06h-1.65zM71.8 135.34h1.65v3.06h-1.65zM71.8 147.39h1.65v3.06h-1.65zM73.4 48.02h1.65v3.06h-1.65zM73.4 141.37h1.65v3.06h-1.65zM73.4 147.39h1.65v3.06h-1.65zM75 84.16h1.65v3.06h-1.65zM75 90.18h1.65v3.06h-1.65zM75 96.2h1.65v3.06h-1.65zM75 141.37h1.65v3.06h-1.65zM75 156.42h1.65v3.06h-1.65zM76.6 45.01h1.65v3.06h-1.65zM78.2 129.32h1.65v3.06h-1.65zM78.2 156.42h1.65v3.06h-1.65zM79.8 75.12h1.65v3.06h-1.65zM79.8 141.37h1.65v3.06h-1.65zM81.4 156.42h1.65v3.06h-1.65zM83 84.16h1.65v3.06h-1.65zM83 99.21h1.65v3.06h-1.65zM84.6 42h1.65v3.06h-1.65zM84.6 72.11h1.65v3.06h-1.65zM84.6 75.12h1.65v3.06h-1.65zM84.6 87.17h1.65v3.06h-1.65zM86.2 84.16h1.65v3.06h-1.65zM86.2 90.18h1.65v3.06h-1.65zM86.2 144.38h1.65v3.06h-1.65zM86.2 147.39h1.65v3.06h-1.65zM86.2 165.46h1.65v3.06h-1.65zM87.8 69.1h1.65v3.06h-1.65zM89.4 99.21h1.65v3.06h-1.65zM89.4 135.34h1.65v3.06h-1.65zM89.4 174.49h1.65v3.06h-1.65zM99 42h1.65v3.06h-1.65zM108.6 54.04h1.65v3.06h-1.65zM110.2 138.36h1.65v3.06h-1.65zM115 99.21h1.65v3.06h-1.65zM116.6 48.02h1.65v3.06h-1.65zM123 51.03h1.65v3.06h-1.65zM123 120.29h1.65v3.06h-1.65zM126.2 48.02h1.65v3.06h-1.65zM126.2 123.3h1.65v3.06h-1.65zM126.2 129.32h1.65v3.06h-1.65zM127.8 150.4h1.65v3.06h-1.65zM129.4 75.12h1.65v3.06h-1.65zM132.6 123.3h1.65v3.06h-1.65zM132.6 129.32h1.65v3.06h-1.65zM134.2 123.3h1.65v3.06h-1.65zM135.8 123.3h1.65v3.06h-1.65zM139 54.04h1.65v3.06h-1.65zM142.2 42h1.65v3.06h-1.65zM148.6 63.08h1.65v3.06h-1.65zM155 48.02h1.65v3.06h-1.65zM156.6 48.02h1.65v3.06h-1.65zM158.2 48.02h1.65v3.06h-1.65zM159.8 51.03h1.65v3.06h-1.65zM161.4 42h1.65v3.06h-1.65zM174.2 150.4h0.85v3.06h-0.85z"/>
<path fill="#e3ebf2" d="M28.6 120.29h1.65v3.06h-1.65zM31.8 51.03h1.65v3.06h-1.65zM35 42h1.65v3.06h-1.65zM35 69.1h1.65v3.06h-1.65zM35 81.14h1.65v3.06h-1.65zM35 87.17h1.65v3.06h-1.65zM35 111.26h1.65v3.06h-1.65zM35 114.27h1.65v3.06h-1.65zM35 126.31h1.65v3.06h-1.65zM35 132.33h1.65v3.06h-1.65zM35 156.42h1.65v3.06h-1.65zM35 165.46h1.65v3.06h-1.65zM36.6 51.03h1.65v3.06h-1.65zM36.6 90.18h1.65v3.06h-1.65zM38.2 60.07h1.65v3.06h-1.65zM39.8 126.31h1.65v3.06h-1.65zM46.2 60.07h1.65v3.06h-1.65zM46.2 90.18h1.65v3.06h-1.65zM46.2 96.2h1.65v3.06h-1.65zM46.2 114.27h1.65v3.06h-1.65zM46.2 138.36h1.65v3.06h-1.65zM46.2 141.37h1.65v3.06h-1.65zM46.2 147.39h1.65v3.06h-1.65zM47.8 159.43h1.65v3.06h-1.65zM49.4 102.22h1.65v3.06h-1.65zM49.4 117.28h1.65v3.06h-1.65zM49.4 129.32h1.65v3.06h-1.65zM49.4 153.41h1.65v3.06h-1.65zM49.4 165.46h1.65v3.06h-1.65zM51 57.06h1.65v3.06h-1.65zM51 60.07h1.65v3.06h-1.65zM51 93.19h1.65v3.06h-1.65zM51 117.28h1.65v3.06h-1.65zM51 150.4h1.65v3.06h-1.65zM51 165.46h1.65v3.06h-1.65zM52.6 135.34h1.65v3.06h-1.65zM54.2 42h1.65v3.06h-1.65zM54.2 48.02h1.65v3.06h-1.65zM54.2 135.34h1.65v3.06h-1.65zM55.8 72.11h1.65v3.06h-1.65zM55.8 96.2h1.65v3.06h-1.65zM55.8 120.29h1.65v3.06h-1.65zM55.8 150.4h1.65v3.06h-1.65zM57.4 147.39h1.65v3.06h-1.65zM57.4 156.42h1.65v3.06h-1.65zM59 135.34h1.65v3.06h-1.65zM59 159.43h1.65v3.06h-1.65zM59 174.49h1.65v3.06h-1.65zM60.6 66.09h1.65v3.06h-1.65zM60.6 69.1h1.65v3.06h-1.65zM62.2 165.46h1.65v3.06h-1.65zM63.8 48.02h1.65v3.06h-1.65zM63.8 75.12h1.65v3.06h-1.65zM63.8 78.13h1.65v3.06h-1.65zM67 42h1.65v3.06h-1.65zM67 54.04h1.65v3.06h-1.65zM67 60.07h1.65v3.06h-1.65zM67 105.23h1.65v3.06h-1.65zM67 111.26h1.65v3.06h-1.65zM70.2 108.24h1.65v3.06h-1.65zM70.2 114.27h1.65v3.06h-1.65zM71.8 54.04h1.65v3.06h-1.65zM71.8 78.13h1.65v3.06h-1.65zM71.8 90.18h1.65v3.06h-1.65zM71.8 108.24h1.65v3.06h-1.65zM71.8 132.33h1.65v3.06h-1.65zM73.4 51.03h1.65v3.06h-1.65zM73.4 57.06h1.65v3.06h-1.65zM73.4 84.16h1.65v3.06h-1.65zM73.4 87.17h1.65v3.06h-1.65zM73.4 93.19h1.65v3.06h-1.65zM73.4 102.22h1.65v3.06h-1.65zM73.4 111.26h1.65v3.06h-1.65zM73.4 123.3h1.65v3.06h-1.65zM75 42h1.65v3.06h-1.65zM75 111.26h1.65v3.06h-1.65zM75 120.29h1.65v3.06h-1.65zM75 147.39h1.65v3.06h-1.65zM76.6 60.07h1.65v3.06h-1.65zM76.6 63.08h1.65v3.06h-1.65zM76.6 66.09h1.65v3.06h-1.65zM76.6 84.16h1.65v3.06h-1.65zM76.6 111.26h1.65v3.06h-1.65zM76.6 138.36h1.65v3.06h-1.65zM76.6 171.48h1.65v3.06h-1.65zM78.2 78.13h1.65v3.06h-1.65zM78.2 114.27h1.65v3.06h-1.65zM78.2 165.46h1.65v3.06h-1.65zM78.2 171.48h1.65v3.06h-1.65zM78.2 174.49h1.65v3.06h-1.65zM79.8 57.06h1.65v3.06h-1.65zM79.8 111.26h1.65v3.06h-1.65zM79.8 120.29h1.65v3.06h-1.65zM79.8 129.32h1.65v3.06h-1.65zM79.8 150.4h1.65v3.06h-1.65zM79.8 153.41h1.65v3.06h-1.65zM81.4 102.22h1.65v3.06h-1.65zM81.4 132.33h1.65v3.06h-1.65zM81.4 159.43h1.65v3.06h-1.65zM81.4 171.48h1.65v3.06h-1.65zM83 60.07h1.65v3.06h-1.65zM84.6 144.38h1.65v3.06h-1.65zM86.2 51.03h1.65v3.06h-1.65zM86.2 57.06h1.65v3.06h-1.65zM86.2 96.2h1.65v3.06h-1.65zM86.2 159.43h1.65v3.06h-1.65zM87.8 108.24h1.65v3.06h-1.65zM87.8 147.39h1.65v3.06h-1.65zM89.4 111.26h1.65v3.06h-1.65zM89.4 117.28h1.65v3.06h-1.65zM89.4 165.46h1.65v3.06h-1.65zM89.4 171.48h1.65v3.06h-1.65zM91 45.01h1.65v3.06h-1.65zM91 84.16h1.65v3.06h-1.65zM91 87.17h1.65v3.06h-1.65zM91 99.21h1.65v3.06h-1.65zM91 141.37h1.65v3.06h-1.65zM91 162.44h1.65v3.06h-1.65zM91 174.49h1.65v3.06h-1.65zM92.6 99.21h1.65v3.06h-1.65zM92.6 123.3h1.65v3.06h-1.65zM92.6 156.42h1.65v3.06h-1.65zM92.6 165.46h1.65v3.06h-1.65zM92.6 171.48h1.65v3.06h-1.65zM92.6 174.49h1.65v3.06h-1.65zM94.2 69.1h1.65v3.06h-1.65zM94.2 108.24h1.65v3.06h-1.65zM94.2 117.28h1.65v3.06h-1.65zM94.2 150.4h1.65v3.06h-1.65zM95.8 42h1.65v3.06h-1.65zM95.8 93.19h1.65v3.06h-1.65zM97.4 102.22h1.65v3.06h-1.65zM97.4 129.32h1.65v3.06h-1.65zM97.4 135.34h1.65v3.06h-1.65zM97.4 156.42h1.65v3.06h-1.65zM99 69.1h1.65v3.06h-1.65zM99 150.4h1.65v3.06h-1.65zM99 168.47h1.65v3.06h-1.65zM100.6 54.04h1.65v3.06h-1.65zM100.6 60.07h1.65v3.06h-1.65zM100.6 63.08h1.65v3.06h-1.65zM100.6 96.2h1.65v3.06h-1.65zM100.6 144.38h1.65v3.06h-1.65zM100.6 147.39h1.65v3.06h-1.65zM100.6 150.4h1.65v3.06h-1.65zM102.2 60.07h1.65v3.06h-1.65zM102.2 99.21h1.65v3.06h-1.65zM102.2 129.32h1.65v3.06h-1.65zM102.2 162.44h1.65v3.06h-1.65zM102.2 171.48h1.65v3.06h-1.65zM103.8 108.24h1.65v3.06h-1.65zM103.8 114.27h1.65v3.06h-1.65zM103.8 120.29h1.65v3.06h-1.65zM103.8 135.34h1.65v3.06h-1.65zM103.8 153.41h1.65v3.06h-1.65zM103.8 168.47h1.65v3.06h-1.65zM105.4 63.08h1.65v3.06h-1.65zM105.4 111.26h1.65v3.06h-1.65zM105.4 117.28h1.65v3.06h-1.65zM105.4 123.3h1.65v3.06h-1.65zM105.4 129.32h1.65v3.06h-1.65zM105.4 135.34h1.65v3.06h-1.65zM105.4 144.38h1.65v3.06h-1.65zM105.4 162.44h1.65v3.06h-1.65zM105.4 168.47h1.65v3.06h-1.65zM107 57.06h1.65v3.06h-1.65zM107 72.11h1.65v3.06h-1.65zM107 78.13h1.65v3.06h-1.65zM107 87.17h1.65v3.06h-1.65zM107 153.41h1.65v3.06h-1.65zM107 165.46h1.65v3.06h-1.65zM108.6 120.29h1.65v3.06h-1.65zM108.6 138.36h1.65v3.06h-1.65zM108.6 144.38h1.65v3.06h-1.65zM110.2 75.12h1.65v3.06h-1.65zM110.2 129.32h1.65v3.06h-1.65zM110.2 147.39h1.65v3.06h-1.65zM110.2 156.42h1.65v3.06h-1.65zM111.8 78.13h1.65v3.06h-1.65zM111.8 81.14h1.65v3.06h-1.65zM111.8 90.18h1.65v3.06h-1.65zM111.8 126.31h1.65v3.06h-1.65zM113.4 69.1h1.65v3.06h-1.65zM113.4 141.37h1.65v3.06h-1.65zM113.4 147.39h1.65v3.06h-1.65zM113.4 156.42h1.65v3.06h-1.65zM113.4 162.44h1.65v3.06h-1.65zM115 126.31h1.65v3.06h-1.65zM116.6 66.09h1.65v3.06h-1.65zM116.6 69.1h1.65v3.06h-1.65zM116.6 84.16h1.65v3.06h-1.65zM116.6 93.19h1.65v3.06h-1.65zM116.6 147.39h1.65v3.06h-1.65zM116.6 153.41h1.65v3.06h-1.65zM116.6 165.46h1.65v3.06h-1.65zM116.6 168.47h1.65v3.06h-1.65zM118.2 54.04h1.65v3.06h-1.65zM118.2 69.1h1.65v3.06h-1.65zM118.2 72.11h1.65v3.06h-1.65zM118.2 99.21h1.65v3.06h-1.65zM118.2 105.23h1.65v3.06h-1.65zM118.2 117.28h1.65v3.06h-1.65zM118.2 132.33h1.65v3.06h-1.65zM118.2 153.41h1.65v3.06h-1.65zM118.2 174.49h1.65v3.06h-1.65zM119.8 45.01h1.65v3.06h-1.65zM119.8 63.08h1.65v3.06h-1.65zM119.8 69.1h1.65v3.06h-1.65zM119.8 72.11h1.65v3.06h-1.65zM119.8 81.14h1.65v3.06h-1.65zM119.8 90.18h1.65v3.06h-1.65zM119.8 141.37h1.65v3.06h-1.65zM119.8 150.4h1.65v3.06h-1.65zM121.4 129.32h1.65v3.06h-1.65zM121.4 132.33h1.65v3.06h-1.65zM121.4 171.48h1.65v3.06h-1.65zM123 54.04h1.65v3.06h-1.65zM123 84.16h1.65v3.06h-1.65zM123 96.2h1.65v3.06h-1.65zM123 147.39h1.65v3.06h-1.65zM123 171.48h1.65v3.06h-1.65zM124.6 60.07h1.65v3.06h-1.65zM124.6 63.08h1.65v3.06h-1.65zM124.6 66.09h1.65v3.06h-1.65zM124.6 75.12h1.65v3.06h-1.65zM124.6 102.22h1.65v3.06h-1.65zM124.6 144.38h1.65v3.06h-1.65zM124.6 165.46h1.65v3.06h-1.65zM124.6 171.48h1.65v3.06h-1.65zM124.6 174.49h1.65v3.06h-1.65zM126.2 42h1.65v3.06h-1.65zM126.2 51.03h1.65v3.06h-1.65zM126.2 54.04h1.65v3.06h-1.65zM126.2 75.12h1.65v3.06h-1.65zM126.2 81.14h1.65v3.06h-1.65zM126.2 99.21h1.65v3.06h-1.65zM126.2 105.23h1.65v3.06h-1.65zM126.2 117.28h1.65v3.06h-1.65zM127.8 96.2h1.65v3.06h-1.65zM127.8 141.37h1.65v3.06h-1.65zM127.8 168.47h1.65v3.06h-1.65zM127.8 171.48h1.65v3.06h-1.65zM129.4 42h1.65v3.06h-1.65zM129.4 63.08h1.65v3.06h-1.65zM129.4 69.1h1.65v3.06h-1.65zM129.4 78.13h1.65v3.06h-1.65zM129.4 84.16h1.65v3.06h-1.65zM131 57.06h1.65v3.06h-1.65zM131 75.12h1.65v3.06h-1.65zM131 78.13h1.65v3.06h-1.65zM131 126.31h1.65v3.06h-1.65zM131 150.4h1.65v3.06h-1.65zM131 165.46h1.65v3.06h-1.65zM132.6 84.16h1.65v3.06h-1.65zM132.6 141.37h1.65v3.06h-1.65zM132.6 147.39h1.65v3.06h-1.65zM132.6 159.43h1.65v3.06h-1.65zM132.6 165.46h1.65v3.06h-1.65zM132.6 168.47h1.65v3.06h-1.65zM134.2 63.08h1.65v3.06h-1.65zM134.2 156.42h1.65v3.06h-1.65zM135.8 48.02h1.65v3.06h-1.65zM135.8 63.08h1.65v3.06h-1.65zM135.8 174.49h1.65v3.06h-1.65zM137.4 93.19h1.65v3.06h-1.65zM137.4 105.23h1.65v3.06h-1.65zM137.4 114.27h1.65v3.06h-1.65zM137.4 150.4h1.65v3.06h-1.65zM137.4 162.44h1.65v3.06h-1.65zM139 105.23h1.65v3.06h-1.65zM139 168.47h1.65v3.06h-1.65zM140.6 54.04h1.65v3.06h-1.65zM140.6 60.07h1.65v3.06h-1.65zM140.6 99.21h1.65v3.06h-1.65zM140.6 132.33h1.65v3.06h-1.65zM140.6 141.37h1.65v3.06h-1.65zM142.2 66.09h1.65v3.06h-1.65zM142.2 99.21h1.65v3.06h-1.65zM142.2 102.22h1.65v3.06h-1.65zM142.2 114.27h1.65v3.06h-1.65zM142.2 129.32h1.65v3.06h-1.65zM142.2 135.34h1.65v3.06h-1.65zM143.8 63.08h1.65v3.06h-1.65zM143.8 90.18h1.65v3.06h-1.65zM143.8 123.3h1.65v3.06h-1.65zM143.8 144.38h1.65v3.06h-1.65zM143.8 159.43h1.65v3.06h-1.65zM143.8 171.48h1.65v3.06h-1.65zM145.4 48.02h1.65v3.06h-1.65zM145.4 69.1h1.65v3.06h-1.65zM145.4 81.14h1.65v3.06h-1.65zM145.4 102.22h1.65v3.06h-1.65zM145.4 123.3h1.65v3.06h-1.65zM147 54.04h1.65v3.06h-1.65zM147 63.08h1.65v3.06h-1.65zM147 69.1h1.65v3.06h-1.65zM147 75.12h1.65v3.06h-1.65zM147 78.13h1.65v3.06h-1.65zM147 105.23h1.65v3.06h-1.65zM147 108.24h1.65v3.06h-1.65zM147 144.38h1.65v3.06h-1.65zM147 159.43h1.65v3.06h-1.65zM148.6 105.23h1.65v3.06h-1.65zM148.6 129.32h1.65v3.06h-1.65zM148.6 132.33h1.65v3.06h-1.65zM148.6 174.49h1.65v3.06h-1.65zM150.2 57.06h1.65v3.06h-1.65zM150.2 96.2h1.65v3.06h-1.65zM150.2 162.44h1.65v3.06h-1.65zM150.2 165.46h1.65v3.06h-1.65zM151.8 81.14h1.65v3.06h-1.65zM151.8 114.27h1.65v3.06h-1.65zM151.8 117.28h1.65v3.06h-1.65zM151.8 150.4h1.65v3.06h-1.65zM153.4 54.04h1.65v3.06h-1.65zM153.4 63.08h1.65v3.06h-1.65zM153.4 66.09h1.65v3.06h-1.65zM153.4 69.1h1.65v3.06h-1.65zM153.4 90.18h1.65v3.06h-1.65zM153.4 99.21h1.65v3.06h-1.65zM153.4 111.26h1.65v3.06h-1.65zM153.4 144.38h1.65v3.06h-1.65zM155 114.27h1.65v3.06h-1.65zM155 126.31h1.65v3.06h-1.65zM155 150.4h1.65v3.06h-1.65zM155 174.49h1.65v3.06h-1.65zM156.6 42h1.65v3.06h-1.65zM156.6 66.09h1.65v3.06h-1.65zM156.6 69.1h1.65v3.06h-1.65zM156.6 114.27h1.65v3.06h-1.65zM156.6 117.28h1.65v3.06h-1.65zM156.6 120.29h1.65v3.06h-1.65zM156.6 144.38h1.65v3.06h-1.65zM158.2 72.11h1.65v3.06h-1.65zM158.2 105.23h1.65v3.06h-1.65zM158.2 123.3h1.65v3.06h-1.65zM158.2 138.36h1.65v3.06h-1.65zM159.8 63.08h1.65v3.06h-1.65zM159.8 69.1h1.65v3.06h-1.65zM159.8 123.3h1.65v3.06h-1.65zM161.4 48.02h1.65v3.06h-1.65zM161.4 51.03h1.65v3.06h-1.65zM161.4 81.14h1.65v3.06h-1.65zM161.4 150.4h1.65v3.06h-1.65zM161.4 174.49h1.65v3.06h-1.65zM163 54.04h1.65v3.06h-1.65zM163 108.24h1.65v3.06h-1.65zM163 117.28h1.65v3.06h-1.65zM163 168.47h1.65v3.06h-1.65zM163 174.49h1.65v3.06h-1.65zM164.6 69.1h1.65v3.06h-1.65zM164.6 111.26h1.65v3.06h-1.65zM164.6 120.29h1.65v3.06h-1.65zM164.6 168.47h1.65v3.06h-1.65zM164.6 171.48h1.65v3.06h-1.65zM166.2 87.17h1.65v3.06h-1.65zM166.2 105.23h1.65v3.06h-1.65zM166.2 114.27h1.65v3.06h-1.65zM166.2 117.28h1.65v3.06h-1.65zM166.2 123.3h1.65v3.06h-1.65zM166.2 144.38h1.65v3.06h-1.65zM166.2 171.48h1.65v3.06h-1.65zM169.4 87.17h1.65v3.06h-1.65zM169.4 129.32h1.65v3.06h-1.65zM169.4 135.34h1.65v3.06h-1.65zM169.4 150.4h1.65v3.06h-1.65zM169.4 153.41h1.65v3.06h-1.65zM169.4 168.47h1.65v3.06h-1.65zM171 45.01h1.65v3.06h-1.65zM171 51.03h1.65v3.06h-1.65zM171 66.09h1.65v3.06h-1.65zM171 135.34h1.65v3.06h-1.65zM171 141.37h1.65v3.06h-1.65zM171 144.38h1.65v3.06h-1.65zM171 165.46h1.65v3.06h-1.65zM171 174.49h1.65v3.06h-1.65zM172.6 51.03h1.65v3.06h-1.65zM172.6 78.13h1.65v3.06h-1.65zM172.6 84.16h1.65v3.06h-1.65zM172.6 93.19h1.65v3.06h-1.65zM172.6 132.33h1.65v3.06h-1.65zM174.2 90.18h0.85v3.06h-0.85zM174.2 105.23h0.85v3.06h-0.85zM174.2 156.42h0.85v3.06h-0.85z"/>
<path fill="#f0bba1" d="M28.6 153.41h1.65v3.06h-1.65zM30.2 108.24h1.65v3.06h-1.65zM30.2 159.43h1.65v3.06h-1.65zM31.8 114.27h1.65v3.06h-1.65zM33.4 75.12h1.65v3.06h-1.65zM33.4 138.36h1.65v3.06h-1.65zM33.4 147.39h1.65v3.06h-1.65zM38.2 105.23h1.65v3.06h-1.65zM38.2 117.28h1.65v3.06h-1.65zM39.8 171.48h1.65v3.06h-1.65zM41.4 66.09h1.65v3.06h-1.65zM41.4 78.13h1.65v3.06h-1.65zM41.4 105.23h1.65v3.06h-1.65zM41.4 162.44h1.65v3.06h-1.65zM43 111.26h1.65v3.06h-1.65zM43 165.46h1.65v3.06h-1.65zM44.6 96.2h1.65v3.06h-1.65zM47.8 87.17h1.65v3.06h-1.65zM47.8 93.19h1.65v3.06h-1.65zM60.6 108.24h1.65v3.06h-1.65zM60.6 120.29h1.65v3.06h-1.65zM60.6 144.38h1.65v3.06h-1.65zM62.2 81.14h1.65v3.06h-1.65zM62.2 93.19h1.65v3.06h-1.65zM63.8 126.31h1.65v3.06h-1.65zM65.4 120.29h1.65v3.06h-1.65zM67 78.13h1.65v3.06h-1.65zM68.6 63.08h1.65v3.06h-1.65zM68.6 66.09h1.65v3.06h-1.65zM68.6 90.18h1.65v3.06h-1.65zM68.6 96.2h1.65v3.06h-1.65zM73.4 108.24h1.65v3.06h-1.65zM75 63.08h1.65v3.06h-1.65zM75 87.17h1.65v3.06h-1.65zM89.4 63.08h1.65v3.06h-1.65zM89.4 96.2h1.65v3.06h-1.65zM107 117.28h1.65v3.06h-1.65zM124.6 129.32h1.65v3.06h-1.65z"/>
<path fill="#bfd7ea" d="M30.2 45.01h1.65v3.06h-1.65zM35 54.04h1.65v3.06h-1.65zM35 63.08h1.65v3.06h-1.65zM35 75.12h1.65v3.06h-1.65zM35 102.22h1.65v3.06h-1.65zM35 120.29h1.65v3.06h-1.65zM36.6 48.02h1.65v3.06h-1.65zM46.2 117.28h1.65v3.06h-1.65zM46.2 123.3h1.65v3.06h-1.65zM54.2 93.19h1.65v3.06h-1.65zM54.2 96.2h1.65v3.06h-1.65zM55.8 114.27h1.65v3.06h-1.65zM70.2 72.11h1.65v3.06h-1.65zM70.2 75.12h1.65v3.06h-1.65zM70.2 123.3h1.65v3.06h-1.65zM73.4 117.28h1.65v3.06h-1.65zM75 105.23h1.65v3.06h-1.65zM75 117.28h1.65v3.06h-1.65zM76.6 90.18h1.65v3.06h-1.65zM76.6 93.19h1.65v3.06h-1.65zM76.6 153.41h1.65v3.06h-1.65zM78.2 111.26h1.65v3.06h-1.65zM79.8 108.24h1.65v3.06h-1.65zM81.4 138.36h1.65v3.06h-1.65zM81.4 174.49h1.65v3.06h-1.65zM84.6 159.43h1.65v3.06h-1.65zM86.2 123.3h1.65v3.06h-1.65zM87.8 111.26h1.65v3.06h-1.65zM87.8 129.32h1.65v3.06h-1.65zM89.4 108.24h1.65v3.06h-1.65zM89.4 126.31h1.65v3.06h-1.65zM91 42h1.65v3.06h-1.65zM91 48.02h1.65v3.06h-1.65zM91 111.26h1.65v3.06h-1.65zM92.6 162.44h1.65v3.06h-1.65zM94.2 138.36h1.65v3.06h-1.65zM95.8 111.26h1.65v3.06h-1.65zM95.8 123.3h1.65v3.06h-1.65zM97.4 69.1h1.65v3.06h-1.65zM99 66.09h1.65v3.06h-1.65zM99 72.11h1.65v3.06h-1.65zM99 75.12h1.65v3.06h-1.65zM99 123.3h1.65v3.06h-1.65zM99 126.31h1.65v3.06h-1.65zM99 153.41h1.65v3.06h-1.65zM99 165.46h1.65v3.06h-1.65zM100.6 108.24h1.65v3.06h-1.65zM100.6 114.27h1.65v3.06h-1.65zM102.2 66.09h1.65v3.06h-1.65zM102.2 87.17h1.65v3.06h-1.65zM102.2 93.19h1.65v3.06h-1.65zM102.2 105.23h1.65v3.06h-1.65zM102.2 114.27h1.65v3.06h-1.65zM102.2 123.3h1.65v3.06h-1.65zM102.2 144.38h1.65v3.06h-1.65zM102.2 165.46h1.65v3.06h-1.65zM102.2 168.47h1.65v3.06h-1.65zM103.8 93.19h1.65v3.06h-1.65zM105.4 75.12h1.65v3.06h-1.65zM105.4 78.13h1.65v3.06h-1.65zM105.4 84.16h1.65v3.06h-1.65zM105.4 114.27h1.65v3.06h-1.65zM105.4 126.31h1.65v3.06h-1.65zM107 111.26h1.65v3.06h-1.65zM108.6 66.09h1.65v3.06h-1.65zM108.6 111.26h1.65v3.06h-1.65zM108.6 117.28h1.65v3.06h-1.65zM110.2 117.28h1.65v3.06h-1.65zM110.2 120.29h1.65v3.06h-1.65zM110.2 132.33h1.65v3.06h-1.65zM111.8 129.32h1.65v3.06h-1.65zM111.8 132.33h1.65v3.06h-1.65zM111.8 144.38h1.65v3.06h-1.65zM113.4 105.23h1.65v3.06h-1.65zM113.4 111.26h1.65v3.06h-1.65zM115 66.09h1.65v3.06h-1.65zM115 105.23h1.65v3.06h-1.65zM115 153.41h1.65v3.06h-1.65zM116.6 72.11h1.65v3.06h-1.65zM116.6 75.12h1.65v3.06h-1.65zM118.2 111.26h1.65v3.06h-1.65zM118.2 123.3h1.65v3.06h-1.65zM118.2 156.42h1.65v3.06h-1.65zM119.8 66.09h1.65v3.06h-1.65zM119.8 99.21h1.65v3.06h-1.65zM119.8 108.24h1.65v3.06h-1.65zM119.8 135.34h1.65v3.06h-1.65zM119.8 144.38h1.65v3.06h-1.65zM121.4 69.1h1.65v3.06h-1.65zM121.4 99.21h1.65v3.06h-1.65zM121.4 114.27h1.65v3.06h-1.65zM121.4 135.34h1.65v3.06h-1.65zM121.4 144.38h1.65v3.06h-1.65zM121.4 156.42h1.65v3.06h-1.65zM121.4 165.46h1.65v3.06h-1.65zM121.4 174.49h1.65v3.06h-1.65zM123 93.19h1.65v3.06h-1.65zM123 132.33h1.65v3.06h-1.65zM123 153.41h1.65v3.06h-1.65zM123 168.47h1.65v3.06h-1.65zM124.6 90.18h1.65v3.06h-1.65zM124.6 105.23h1.65v3.06h-1.65zM124.6 141.37h1.65v3.06h-1.65zM124.6 150.4h1.65v3.06h-1.65zM124.6 159.43h1.65v3.06h-1.65zM126.2 93.19h1.65v3.06h-1.65zM126.2 108.24h1.65v3.06h-1.65zM126.2 141.37h1.65v3.06h-1.65zM127.8 81.14h1.65v3.06h-1.65zM127.8 108.24h1.65v3.06h-1.65zM127.8 162.44h1.65v3.06h-1.65zM129.4 87.17h1.65v3.06h-1.65zM129.4 111.26h1.65v3.06h-1.65zM129.4 141.37h1.65v3.06h-1.65zM129.4 153.41h1.65v3.06h-1.65zM129.4 156.42h1.65v3.06h-1.65zM129.4 165.46h1.65v3.06h-1.65zM129.4 174.49h1.65v3.06h-1.65zM131 66.09h1.65v3.06h-1.65zM131 81.14h1.65v3.06h-1.65zM131 153.41h1.65v3.06h-1.65zM131 171.48h1.65v3.06h-1.65zM132.6 78.13h1.65v3.06h-1.65zM132.6 87.17h1.65v3.06h-1.65zM132.6 102.22h1.65v3.06h-1.65zM132.6 132.33h1.65v3.06h-1.65zM134.2 72.11h1.65v3.06h-1.65zM134.2 78.13h1.65v3.06h-1.65zM134.2 102.22h1.65v3.06h-1.65zM134.2 111.26h1.65v3.06h-1.65zM135.8 87.17h1.65v3.06h-1.65zM135.8 93.19h1.65v3.06h-1.65zM135.8 99.21h1.65v3.06h-1.65zM135.8 150.4h1.65v3.06h-1.65zM137.4 96.2h1.65v3.06h-1.65zM137.4 102.22h1.65v3.06h-1.65zM137.4 147.39h1.65v3.06h-1.65zM137.4 168.47h1.65v3.06h-1.65zM139 96.2h1.65v3.06h-1.65zM139 132.33h1.65v3.06h-1.65zM139 135.34h1.65v3.06h-1.65zM140.6 135.34h1.65v3.06h-1.65zM140.6 147.39h1.65v3.06h-1.65zM140.6 171.48h1.65v3.06h-1.65zM142.2 90.18h1.65v3.06h-1.65zM142.2 126.31h1.65v3.06h-1.65zM142.2 141.37h1.65v3.06h-1.65zM142.2 168.47h1.65v3.06h-1.65zM143.8 108.24h1.65v3.06h-1.65zM143.8 141.37h1.65v3.06h-1.65zM143.8 168.47h1.65v3.06h-1.65zM145.4 60.07h1.65v3.06h-1.65zM145.4 72.11h1.65v3.06h-1.65zM145.4 84.16h1.65v3.06h-1.65zM145.4 87.17h1.65v3.06h-1.65zM145.4 147.39h1.65v3.06h-1.65zM145.4 162.44h1.65v3.06h-1.65zM147 72.11h1.65v3.06h-1.65zM147 93.19h1.65v3.06h-1.65zM147 102.22h1.65v3.06h-1.65zM147 165.46h1.65v3.06h-1.65zM148.6 108.24h1.65v3.06h-1.65zM148.6 123.3h1.65v3.06h-1.65zM150.2 75.12h1.65v3.06h-1.65zM150.2 90.18h1.65v3.06h-1.65zM150.2 126.31h1.65v3.06h-1.65zM150.2 168.47h1.65v3.06h-1.65zM151.8 75.12h1.65v3.06h-1.65zM151.8 129.32h1.65v3.06h-1.65zM151.8 135.34h1.65v3.06h-1.65zM151.8 165.46h1.65v3.06h-1.65zM153.4 87.17h1.65v3.06h-1.65zM153.4 108.24h1.65v3.06h-1.65zM153.4 135.34h1.65v3.06h-1.65zM153.4 168.47h1.65v3.06h-1.65zM155 63.08h1.65v3.06h-1.65zM155 84.16h1.65v3.06h-1.65zM155 90.18h1.65v3.06h-1.65zM155 111.26h1.65v3.06h-1.65zM155 117.28h1.65v3.06h-1.65zM155 147.39h1.65v3.06h-1.65zM155 165.46h1.65v3.06h-1.65zM156.6 75.12h1.65v3.06h-1.65zM156.6 84.16h1.65v3.06h-1.65zM156.6 87.17h1.65v3.06h-1.65zM156.6 96.2h1.65v3.06h-1.65zM156.6 123.3h1.65v3.06h-1.65zM156.6 135.34h1.65v3.06h-1.65zM156.6 159.43h1.65v3.06h-1.65zM158.2 45.01h1.65v3.06h-1.65zM158.2 57.06h1.65v3.06h-1.65zM158.2 75.12h1.65v3.06h-1.65zM158.2 90.18h1.65v3.06h-1.65zM158.2 117.28h1.65v3.06h-1.65zM158.2 135.34h1.65v3.06h-1.65zM159.8 84.16h1.65v3.06h-1.65zM159.8 105.23h1.65v3.06h-1.65zM159.8 135.34h1.65v3.06h-1.65zM159.8 168.47h1.65v3.06h-1.65zM161.4 45.01h1.65v3.06h-1.65zM161.4 78.13h1.65v3.06h-1.65zM161.4 84.16h1.65v3.06h-1.65zM161.4 105.23h1.65v3.06h-1.65zM161.4 138.36h1.65v3.06h-1.65zM163 60.07h1.65v3.06h-1.65zM163 87.17h1.65v3.06h-1.65zM163 132.33h1.65v3.06h-1.65zM163 141.37h1.65v3.06h-1.65zM163 162.44h1.65v3.06h-1.65zM164.6 72.11h1.65v3.06h-1.65zM164.6 75.12h1.65v3.06h-1.65zM164.6 144.38h1.65v3.06h-1.65zM164.6 153.41h1.65v3.06h-1.65zM164.6 159.43h1.65v3.06h-1.65zM166.2 57.06h1.65v3.06h-1.65zM166.2 66.09h1.65v3.06h-1.65zM166.2 75.12h1.65v3.06h-1.65zM166.2 132.33h1.65v3.06h-1.65zM166.2 147.39h1.65v3.06h-1.65zM166.2 150.4h1.65v3.06h-1.65zM166.2 162.44h1.65v3.06h-1.65zM167.8 42h1.65v3.06h-1.65zM167.8 69.1h1.65v3.06h-1.65zM167.8 75.12h1.65v3.06h-1.65zM167.8 84.16h1.65v3.06h-1.65zM167.8 99.21h1.65v3.06h-1.65zM167.8 111.26h1.65v3.06h-1.65zM167.8 138.36h1.65v3.06h-1.65zM167.8 168.47h1.65v3.06h-1.65zM167.8 171.48h1.65v3.06h-1.65zM169.4 96.2h1.65v3.06h-1.65zM169.4 102.22h1.65v3.06h-1.65zM169.4 144.38h1.65v3.06h-1.65zM169.4 174.49h1.65v3.06h-1.65zM171 60.07h1.65v3.06h-1.65zM171 63.08h1.65v3.06h-1.65zM171 156.42h1.65v3.06h-1.65zM172.6 90.18h1.65v3.06h-1.65zM172.6 105.23h1.65v3.06h-1.65zM172.6 108.24h1.65v3.06h-1.65zM172.6 129.32h1.65v3.06h-1.65zM172.6 141.37h1.65v3.06h-1.65zM172.6 147.39h1.65v3.06h-1.65zM172.6 150.4h1.65v3.06h-1.65zM172.6 153.41h1.65v3.06h-1.65zM172.6 156.42h1.65v3.06h-1.65zM172.6 165.46h1.65v3.06h-1.65zM174.2 66.09h0.85v3.06h-0.85zM174.2 93.19h0.85v3.06h-0.85zM174.2 96.2h0.85v3.06h-0.85zM174.2 108.24h0.85v3.06h-0.85zM174.2 111.26h0.85v3.06h-0.85zM174.2 135.34h0.85v3.06h-0.85zM174.2 138.36h0.85v3.06h-0.85zM174.2 141.37h0.85v3.06h-0.85z"/>
<path fill="#edf1f4" d="M30.2 120.29h1.65v3.06h-1.65zM31.8 45.01h1.65v3.06h-1.65zM31.8 48.02h1.65v3.06h-1.65zM33.4 171.48h1.65v3.06h-1.65zM33.4 174.49h1.65v3.06h-1.65zM35 72.11h1.65v3.06h-1.65zM35 78.13h1.65v3.06h-1.65zM35 96.2h1.65v3.06h-1.65zM35 99.21h1.65v3.06h-1.65zM35 138.36h1.65v3.06h-1.65zM35 144.38h1.65v3.06h-1.65zM35 147.39h1.65v3.06h-1.65zM35 168.47h1.65v3.06h-1.65zM35 174.49h1.65v3.06h-1.65zM36.6 45.01h1.65v3.06h-1.65zM36.6 102.22h1.65v3.06h-1.65zM36.6 156.42h1.65v3.06h-1.65zM36.6 159.43h1.65v3.06h-1.65zM38.2 42h1.65v3.06h-1.65zM38.2 132.33h1.65v3.06h-1.65zM38.2 168.47h1.65v3.06h-1.65zM39.8 48.02h1.65v3.06h-1.65zM39.8 150.4h1.65v3.06h-1.65zM41.4 48.02h1.65v3.06h-1.65zM41.4 51.03h1.65v3.06h-1.65zM41.4 54.04h1.65v3.06h-1.65zM44.6 174.49h1.65v3.06h-1.65zM46.2 57.06h1.65v3.06h-1.65zM46.2 72.11h1.65v3.06h-1.65zM46.2 75.12h1.65v3.06h-1.65zM46.2 78.13h1.65v3.06h-1.65zM46.2 159.43h1.65v3.06h-1.65zM46.2 165.46h1.65v3.06h-1.65zM46.2 168.47h1.65v3.06h-1.65zM47.8 174.49h1.65v3.06h-1.65zM49.4 60.07h1.65v3.06h-1.65zM49.4 123.3h1.65v3.06h-1.65zM49.4 171.48h1.65v3.06h-1.65zM51 42h1.65v3.06h-1.65zM51 114.27h1.65v3.06h-1.65zM51 126.31h1.65v3.06h-1.65zM51 144.38h1.65v3.06h-1.65zM52.6 105.23h1.65v3.06h-1.65zM54.2 45.01h1.65v3.06h-1.65zM54.2 51.03h1.65v3.06h-1.65zM54.2 63.08h1.65v3.06h-1.65zM54.2 81.14h1.65v3.06h-1.65zM54.2 165.46h1.65v3.06h-1.65zM54.2 168.47h1.65v3.06h-1.65zM55.8 51.03h1.65v3.06h-1.65zM55.8 117.28h1.65v3.06h-1.65zM55.8 141.37h1.65v3.06h-1.65zM55.8 153.41h1.65v3.06h-1.65zM55.8 159.43h1.65v3.06h-1.65zM57.4 42h1.65v3.06h-1.65zM57.4 48.02h1.65v3.06h-1.65zM57.4 57.06h1.65v3.06h-1.65zM57.4 78.13h1.65v3.06h-1.65zM57.4 96.2h1.65v3.06h-1.65zM57.4 117.28h1.65v3.06h-1.65zM57.4 123.3h1.65v3.06h-1.65zM57.4 150.4h1.65v3.06h-1.65zM59 45.01h1.65v3.06h-1.65zM59 54.04h1.65v3.06h-1.65zM59 123.3h1.65v3.06h-1.65zM59 165.46h1.65v3.06h-1.65zM60.6 42h1.65v3.06h-1.65zM60.6 93.19h1.65v3.06h-1.65zM60.6 102.22h1.65v3.06h-1.65zM62.2 45.01h1.65v3.06h-1.65zM62.2 132.33h1.65v3.06h-1.65zM62.2 138.36h1.65v3.06h-1.65zM63.8 54.04h1.65v3.06h-1.65zM63.8 96.2h1.65v3.06h-1.65zM63.8 171.48h1.65v3.06h-1.65zM65.4 57.06h1.65v3.06h-1.65zM67 45.01h1.65v3.06h-1.65zM67 108.24h1.65v3.06h-1.65zM67 114.27h1.65v3.06h-1.65zM67 123.3h1.65v3.06h-1.65zM67 171.48h1.65v3.06h-1.65zM68.6 54.04h1.65v3.06h-1.65zM68.6 60.07h1.65v3.06h-1.65zM68.6 117.28h1.65v3.06h-1.65zM70.2 57.06h1.65v3.06h-1.65zM70.2 66.09h1.65v3.06h-1.65zM70.2 99.21h1.65v3.06h-1.65zM70.2 141.37h1.65v3.06h-1.65zM70.2 144.38h1.65v3.06h-1.65zM70.2 147.39h1.65v3.06h-1.65zM70.2 156.42h1.65v3.06h-1.65zM70.2 174.49h1.65v3.06h-1.65zM71.8 42h1.65v3.06h-1.65zM71.8 63.08h1.65v3.06h-1.65zM71.8 96.2h1.65v3.06h-1.65zM71.8 102.22h1.65v3.06h-1.65zM71.8 123.3h1.65v3.06h-1.65zM71.8 129.32h1.65v3.06h-1.65zM71.8 150.4h1.65v3.06h-1.65zM71.8 165.46h1.65v3.06h-1.65zM73.4 120.29h1.65v3.06h-1.65zM73.4 135.34h1.65v3.06h-1.65zM73.4 162.44h1.65v3.06h-1.65zM75 114.27h1.65v3.06h-1.65zM75 126.31h1.65v3.06h-1.65zM75 150.4h1.65v3.06h-1.65zM75 153.41h1.65v3.06h-1.65zM76.6 57.06h1.65v3.06h-1.65zM76.6 147.39h1.65v3.06h-1.65zM76.6 159.43h1.65v3.06h-1.65zM76.6 165.46h1.65v3.06h-1.65zM76.6 168.47h1.65v3.06h-1.65zM78.2 99.21h1.65v3.06h-1.65zM78.2 102.22h1.65v3.06h-1.65zM78.2 108.24h1.65v3.06h-1.65zM78.2 117.28h1.65v3.06h-1.65zM78.2 126.31h1.65v3.06h-1.65zM79.8 51.03h1.65v3.06h-1.65zM79.8 105.23h1.65v3.06h-1.65zM79.8 126.31h1.65v3.06h-1.65zM79.8 132.33h1.65v3.06h-1.65zM79.8 147.39h1.65v3.06h-1.65zM79.8 174.49h1.65v3.06h-1.65zM81.4 51.03h1.65v3.06h-1.65zM81.4 54.04h1.65v3.06h-1.65zM81.4 66.09h1.65v3.06h-1.65zM81.4 84.16h1.65v3.06h-1.65zM81.4 90.18h1.65v3.06h-1.65zM81.4 111.26h1.65v3.06h-1.65zM81.4 114.27h1.65v3.06h-1.65zM81.4 117.28h1.65v3.06h-1.65zM81.4 165.46h1.65v3.06h-1.65zM83 120.29h1.65v3.06h-1.65zM83 123.3h1.65v3.06h-1.65zM84.6 48.02h1.65v3.06h-1.65zM84.6 111.26h1.65v3.06h-1.65zM84.6 114.27h1.65v3.06h-1.65zM84.6 123.3h1.65v3.06h-1.65zM84.6 165.46h1.65v3.06h-1.65zM86.2 93.19h1.65v3.06h-1.65zM86.2 150.4h1.65v3.06h-1.65zM87.8 42h1.65v3.06h-1.65zM87.8 75.12h1.65v3.06h-1.65zM87.8 105.23h1.65v3.06h-1.65zM87.8 156.42h1.65v3.06h-1.65zM87.8 165.46h1.65v3.06h-1.65zM89.4 48.02h1.65v3.06h-1.65zM89.4 105.23h1.65v3.06h-1.65zM89.4 123.3h1.65v3.06h-1.65zM89.4 150.4h1.65v3.06h-1.65zM91 57.06h1.65v3.06h-1.65zM91 72.11h1.65v3.06h-1.65zM91 96.2h1.65v3.06h-1.65zM91 159.43h1.65v3.06h-1.65zM92.6 45.01h1.65v3.06h-1.65zM92.6 63.08h1.65v3.06h-1.65zM92.6 81.14h1.65v3.06h-1.65zM92.6 84.16h1.65v3.06h-1.65zM92.6 87.17h1.65v3.06h-1.65zM92.6 153.41h1.65v3.06h-1.65zM94.2 81.14h1.65v3.06h-1.65zM94.2 105.23h1.65v3.06h-1.65zM94.2 126.31h1.65v3.06h-1.65zM95.8 69.1h1.65v3.06h-1.65zM95.8 78.13h1.65v3.06h-1.65zM95.8 135.34h1.65v3.06h-1.65zM95.8 153.41h1.65v3.06h-1.65zM95.8 159.43h1.65v3.06h-1.65zM95.8 168.47h1.65v3.06h-1.65zM97.4 87.17h1.65v3.06h-1.65zM97.4 120.29h1.65v3.06h-1.65zM97.4 123.3h1.65v3.06h-1.65zM97.4 141.37h1.65v3.06h-1.65zM97.4 150.4h1.65v3.06h-1.65zM99 48.02h1.65v3.06h-1.65zM99 60.07h1.65v3.06h-1.65zM99 87.17h1.65v3.06h-1.65zM99 93.19h1.65v3.06h-1.65zM99 129.32h1.65v3.06h-1.65zM99 144.38h1.65v3.06h-1.65zM99 171.48h1.65v3.06h-1.65zM100.6 87.17h1.65v3.06h-1.65zM100.6 129.32h1.65v3.06h-1.65zM100.6 138.36h1.65v3.06h-1.65zM102.2 69.1h1.65v3.06h-1.65zM102.2 135.34h1.65v3.06h-1.65zM103.8 69.1h1.65v3.06h-1.65zM103.8 81.14h1.65v3.06h-1.65zM103.8 84.16h1.65v3.06h-1.65zM103.8 87.17h1.65v3.06h-1.65zM103.8 96.2h1.65v3.06h-1.65zM103.8 102.22h1.65v3.06h-1.65zM103.8 105.23h1.65v3.06h-1.65zM103.8 171.48h1.65v3.06h-1.65zM105.4 60.07h1.65v3.06h-1.65zM105.4 105.23h1.65v3.06h-1.65zM105.4 153.41h1.65v3.06h-1.65zM105.4 165.46h1.65v3.06h-1.65zM107 42h1.65v3.06h-1.65zM107 48.02h1.65v3.06h-1.65zM107 69.1h1.65v3.06h-1.65zM107 108.24h1.65v3.06h-1.65zM107 129.32h1.65v3.06h-1.65zM107 144.38h1.65v3.06h-1.65zM107 156.42h1.65v3.06h-1.65zM108.6 75.12h1.65v3.06h-1.65zM108.6 129.32h1.65v3.06h-1.65zM108.6 162.44h1.65v3.06h-1.65zM110.2 99.21h1.65v3.06h-1.65zM110.2 135.34h1.65v3.06h-1.65zM110.2 141.37h1.65v3.06h-1.65zM110.2 144.38h1.65v3.06h-1.65zM111.8 123.3h1.65v3.06h-1.65zM111.8 153.41h1.65v3.06h-1.65zM111.8 162.44h1.65v3.06h-1.65zM111.8 174.49h1.65v3.06h-1.65zM113.4 54.04h1.65v3.06h-1.65zM113.4 93.19h1.65v3.06h-1.65zM113.4 135.34h1.65v3.06h-1.65zM113.4 138.36h1.65v3.06h-1.65zM113.4 168.47h1.65v3.06h-1.65zM115 57.06h1.65v3.06h-1.65zM115 60.07h1.65v3.06h-1.65zM115 69.1h1.65v3.06h-1.65zM115 96.2h1.65v3.06h-1.65zM115 138.36h1.65v3.06h-1.65zM115 141.37h1.65v3.06h-1.65zM115 150.4h1.65v3.06h-1.65zM115 168.47h1.65v3.06h-1.65zM115 174.49h1.65v3.06h-1.65zM116.6 57.06h1.65v3.06h-1.65zM116.6 60.07h1.65v3.06h-1.65zM116.6 129.32h1.65v3.06h-1.65zM116.6 132.33h1.65v3.06h-1.65zM116.6 135.34h1.65v3.06h-1.65zM116.6 138.36h1.65v3.06h-1.65zM116.6 162.44h1.65v3.06h-1.65zM118.2 78.13h1.65v3.06h-1.65zM118.2 84.16h1.65v3.06h-1.65zM118.2 96.2h1.65v3.06h-1.65zM119.8 78.13h1.65v3.06h-1.65zM119.8 156.42h1.65v3.06h-1.65zM119.8 171.48h1.65v3.06h-1.65zM121.4 45.01h1.65v3.06h-1.65zM121.4 63.08h1.65v3.06h-1.65zM121.4 84.16h1.65v3.06h-1.65zM121.4 87.17h1.65v3.06h-1.65zM121.4 123.3h1.65v3.06h-1.65zM121.4 126.31h1.65v3.06h-1.65zM121.4 138.36h1.65v3.06h-1.65zM123 60.07h1.65v3.06h-1.65zM123 63.08h1.65v3.06h-1.65zM123 102.22h1.65v3.06h-1.65zM123 114.27h1.65v3.06h-1.65zM123 165.46h1.65v3.06h-1.65zM123 174.49h1.65v3.06h-1.65zM124.6 45.01h1.65v3.06h-1.65zM124.6 96.2h1.65v3.06h-1.65zM124.6 126.31h1.65v3.06h-1.65zM124.6 132.33h1.65v3.06h-1.65zM124.6 138.36h1.65v3.06h-1.65zM124.6 147.39h1.65v3.06h-1.65zM124.6 162.44h1.65v3.06h-1.65zM126.2 60.07h1.65v3.06h-1.65zM126.2 138.36h1.65v3.06h-1.65zM126.2 150.4h1.65v3.06h-1.65zM126.2 156.42h1.65v3.06h-1.65zM126.2 159.43h1.65v3.06h-1.65zM126.2 165.46h1.65v3.06h-1.65zM126.2 174.49h1.65v3.06h-1.65zM127.8 57.06h1.65v3.06h-1.65zM127.8 69.1h1.65v3.06h-1.65zM127.8 78.13h1.65v3.06h-1.65zM127.8 84.16h1.65v3.06h-1.65zM127.8 105.23h1.65v3.06h-1.65zM127.8 111.26h1.65v3.06h-1.65zM127.8 156.42h1.65v3.06h-1.65zM127.8 159.43h1.65v3.06h-1.65zM129.4 72.11h1.65v3.06h-1.65zM129.4 81.14h1.65v3.06h-1.65zM129.4 123.3h1.65v3.06h-1.65zM129.4 150.4h1.65v3.06h-1.65zM129.4 159.43h1.65v3.06h-1.65zM129.4 171.48h1.65v3.06h-1.65zM131 69.1h1.65v3.06h-1.65zM131 117.28h1.65v3.06h-1.65zM131 132.33h1.65v3.06h-1.65zM132.6 45.01h1.65v3.06h-1.65zM132.6 48.02h1.65v3.06h-1.65zM132.6 60.07h1.65v3.06h-1.65zM132.6 75.12h1.65v3.06h-1.65zM132.6 114.27h1.65v3.06h-1.65zM132.6 162.44h1.65v3.06h-1.65zM134.2 42h1.65v3.06h-1.65zM134.2 81.14h1.65v3.06h-1.65zM134.2 99.21h1.65v3.06h-1.65zM134.2 141.37h1.65v3.06h-1.65zM134.2 168.47h1.65v3.06h-1.65zM135.8 51.03h1.65v3.06h-1.65zM135.8 66.09h1.65v3.06h-1.65zM137.4 60.07h1.65v3.06h-1.65zM137.4 72.11h1.65v3.06h-1.65zM137.4 90.18h1.65v3.06h-1.65zM137.4 132.33h1.65v3.06h-1.65zM137.4 165.46h1.65v3.06h-1.65zM137.4 171.48h1.65v3.06h-1.65zM139 57.06h1.65v3.06h-1.65zM139 66.09h1.65v3.06h-1.65zM139 75.12h1.65v3.06h-1.65zM139 117.28h1.65v3.06h-1.65zM139 138.36h1.65v3.06h-1.65zM139 144.38h1.65v3.06h-1.65zM140.6 69.1h1.65v3.06h-1.65zM140.6 90.18h1.65v3.06h-1.65zM140.6 117.28h1.65v3.06h-1.65zM140.6 138.36h1.65v3.06h-1.65zM140.6 150.4h1.65v3.06h-1.65zM142.2 48.02h1.65v3.06h-1.65zM142.2 72.11h1.65v3.06h-1.65zM142.2 144.38h1.65v3.06h-1.65zM142.2 162.44h1.65v3.06h-1.65zM142.2 171.48h1.65v3.06h-1.65zM143.8 57.06h1.65v3.06h-1.65zM143.8 84.16h1.65v3.06h-1.65zM143.8 99.21h1.65v3.06h-1.65zM143.8 102.22h1.65v3.06h-1.65zM143.8 120.29h1.65v3.06h-1.65zM143.8 132.33h1.65v3.06h-1.65zM145.4 78.13h1.65v3.06h-1.65zM145.4 108.24h1.65v3.06h-1.65zM145.4 117.28h1.65v3.06h-1.65zM145.4 141.37h1.65v3.06h-1.65zM147 84.16h1.65v3.06h-1.65zM147 96.2h1.65v3.06h-1.65zM148.6 60.07h1.65v3.06h-1.65zM148.6 102.22h1.65v3.06h-1.65zM148.6 126.31h1.65v3.06h-1.65zM148.6 162.44h1.65v3.06h-1.65zM148.6 168.47h1.65v3.06h-1.65zM150.2 105.23h1.65v3.06h-1.65zM150.2 114.27h1.65v3.06h-1.65zM150.2 120.29h1.65v3.06h-1.65zM150.2 129.32h1.65v3.06h-1.65zM150.2 132.33h1.65v3.06h-1.65zM150.2 156.42h1.65v3.06h-1.65zM151.8 51.03h1.65v3.06h-1.65zM151.8 57.06h1.65v3.06h-1.65zM151.8 132.33h1.65v3.06h-1.65zM151.8 171.48h1.65v3.06h-1.65zM153.4 45.01h1.65v3.06h-1.65zM153.4 132.33h1.65v3.06h-1.65zM153.4 138.36h1.65v3.06h-1.65zM153.4 174.49h1.65v3.06h-1.65zM155 42h1.65v3.06h-1.65zM155 57.06h1.65v3.06h-1.65zM155 123.3h1.65v3.06h-1.65zM155 132.33h1.65v3.06h-1.65zM155 135.34h1.65v3.06h-1.65zM156.6 45.01h1.65v3.06h-1.65zM156.6 54.04h1.65v3.06h-1.65zM156.6 57.06h1.65v3.06h-1.65zM156.6 171.48h1.65v3.06h-1.65zM158.2 102.22h1.65v3.06h-1.65zM158.2 171.48h1.65v3.06h-1.65zM159.8 48.02h1.65v3.06h-1.65zM159.8 60.07h1.65v3.06h-1.65zM159.8 111.26h1.65v3.06h-1.65zM159.8 126.31h1.65v3.06h-1.65zM161.4 60.07h1.65v3.06h-1.65zM161.4 69.1h1.65v3.06h-1.65zM161.4 162.44h1.65v3.06h-1.65zM163 147.39h1.65v3.06h-1.65zM163 150.4h1.65v3.06h-1.65zM164.6 51.03h1.65v3.06h-1.65zM164.6 60.07h1.65v3.06h-1.65zM164.6 108.24h1.65v3.06h-1.65zM164.6 135.34h1.65v3.06h-1.65zM164.6 150.4h1.65v3.06h-1.65zM166.2 42h1.65v3.06h-1.65zM166.2 99.21h1.65v3.06h-1.65zM166.2 111.26h1.65v3.06h-1.65zM169.4 69.1h1.65v3.06h-1.65zM169.4 81.14h1.65v3.06h-1.65zM169.4 93.19h1.65v3.06h-1.65zM169.4 105.23h1.65v3.06h-1.65zM169.4 108.24h1.65v3.06h-1.65zM169.4 165.46h1.65v3.06h-1.65zM171 48.02h1.65v3.06h-1.65zM171 78.13h1.65v3.06h-1.65zM171 102.22h1.65v3.06h-1.65zM171 126.31h1.65v3.06h-1.65zM171 129.32h1.65v3.06h-1.65zM172.6 57.06h1.65v3.06h-1.65zM174.2 45.01h0.85v3.06h-0.85zM174.2 69.1h0.85v3.06h-0.85zM174.2 81.14h0.85v3.06h-0.85zM174.2 126.31h0.85v3.06h-0.85zM174.2 171.48h0.85v3.06h-0.85z"/>
<path fill="#cde0ee" d="M31.8 42h1.65v3.06h-1.65zM31.8 60.07h1.65v3.06h-1.65zM31.8 126.31h1.65v3.06h-1.65zM35 93.19h1.65v3.06h-1.65zM35 123.3h1.65v3.06h-1.65zM35 162.44h1.65v3.06h-1.65zM36.6 165.46h1.65v3.06h-1.65zM36.6 168.47h1.65v3.06h-1.65zM46.2 48.02h1.65v3.06h-1.65zM46.2 69.1h1.65v3.06h-1.65zM46.2 150.4h1.65v3.06h-1.65zM46.2 156.42h1.65v3.06h-1.65zM46.2 162.44h1.65v3.06h-1.65zM49.4 48.02h1.65v3.06h-1.65zM51 159.43h1.65v3.06h-1.65zM55.8 126.31h1.65v3.06h-1.65zM55.8 132.33h1.65v3.06h-1.65zM57.4 162.44h1.65v3.06h-1.65zM59 168.47h1.65v3.06h-1.65zM71.8 93.19h1.65v3.06h-1.65zM71.8 120.29h1.65v3.06h-1.65zM71.8 126.31h1.65v3.06h-1.65zM73.4 75.12h1.65v3.06h-1.65zM73.4 78.13h1.65v3.06h-1.65zM73.4 129.32h1.65v3.06h-1.65zM73.4 174.49h1.65v3.06h-1.65zM75 162.44h1.65v3.06h-1.65zM76.6 54.04h1.65v3.06h-1.65zM76.6 69.1h1.65v3.06h-1.65zM76.6 87.17h1.65v3.06h-1.65zM76.6 99.21h1.65v3.06h-1.65zM76.6 102.22h1.65v3.06h-1.65zM76.6 105.23h1.65v3.06h-1.65zM76.6 108.24h1.65v3.06h-1.65zM76.6 114.27h1.65v3.06h-1.65zM76.6 117.28h1.65v3.06h-1.65zM76.6 120.29h1.65v3.06h-1.65zM76.6 132.33h1.65v3.06h-1.65zM78.2 42h1.65v3.06h-1.65zM78.2 81.14h1.65v3.06h-1.65zM78.2 150.4h1.65v3.06h-1.65zM79.8 42h1.65v3.06h-1.65zM79.8 165.46h1.65v3.06h-1.65zM83 126.31h1.65v3.06h-1.65zM83 144.38h1.65v3.06h-1.65zM84.6 120.29h1.65v3.06h-1.65zM84.6 129.32h1.65v3.06h-1.65zM84.6 147.39h1.65v3.06h-1.65zM87.8 132.33h1.65v3.06h-1.65zM89.4 42h1.65v3.06h-1.65zM89.4 60.07h1.65v3.06h-1.65zM89.4 132.33h1.65v3.06h-1.65zM91 75.12h1.65v3.06h-1.65zM91 78.13h1.65v3.06h-1.65zM91 90.18h1.65v3.06h-1.65zM91 93.19h1.65v3.06h-1.65zM91 102.22h1.65v3.06h-1.65zM91 123.3h1.65v3.06h-1.65zM91 126.31h1.65v3.06h-1.65zM91 144.38h1.65v3.06h-1.65zM92.6 48.02h1.65v3.06h-1.65zM92.6 66.09h1.65v3.06h-1.65zM92.6 78.13h1.65v3.06h-1.65zM92.6 111.26h1.65v3.06h-1.65zM92.6 117.28h1.65v3.06h-1.65zM92.6 147.39h1.65v3.06h-1.65zM92.6 150.4h1.65v3.06h-1.65zM92.6 168.47h1.65v3.06h-1.65zM94.2 63.08h1.65v3.06h-1.65zM94.2 96.2h1.65v3.06h-1.65zM94.2 99.21h1.65v3.06h-1.65zM94.2 132.33h1.65v3.06h-1.65zM94.2 174.49h1.65v3.06h-1.65zM95.8 90.18h1.65v3.06h-1.65zM95.8 108.24h1.65v3.06h-1.65zM95.8 117.28h1.65v3.06h-1.65zM95.8 129.32h1.65v3.06h-1.65zM95.8 147.39h1.65v3.06h-1.65zM97.4 60.07h1.65v3.06h-1.65zM97.4 72.11h1.65v3.06h-1.65zM97.4 81.14h1.65v3.06h-1.65zM97.4 96.2h1.65v3.06h-1.65zM97.4 99.21h1.65v3.06h-1.65zM97.4 105.23h1.65v3.06h-1.65zM97.4 111.26h1.65v3.06h-1.65zM97.4 132.33h1.65v3.06h-1.65zM97.4 162.44h1.65v3.06h-1.65zM99 63.08h1.65v3.06h-1.65zM99 78.13h1.65v3.06h-1.65zM99 120.29h1.65v3.06h-1.65zM99 132.33h1.65v3.06h-1.65zM100.6 75.12h1.65v3.06h-1.65zM100.6 93.19h1.65v3.06h-1.65zM100.6 99.21h1.65v3.06h-1.65zM100.6 159.43h1.65v3.06h-1.65zM100.6 174.49h1.65v3.06h-1.65zM102.2 42h1.65v3.06h-1.65zM102.2 54.04h1.65v3.06h-1.65zM102.2 102.22h1.65v3.06h-1.65zM102.2 117.28h1.65v3.06h-1.65zM102.2 120.29h1.65v3.06h-1.65zM102.2 141.37h1.65v3.06h-1.65zM102.2 147.39h1.65v3.06h-1.65zM103.8 75.12h1.65v3.06h-1.65zM103.8 129.32h1.65v3.06h-1.65zM105.4 72.11h1.65v3.06h-1.65zM105.4 120.29h1.65v3.06h-1.65zM105.4 132.33h1.65v3.06h-1.65zM105.4 138.36h1.65v3.06h-1.65zM107 99.21h1.65v3.06h-1.65zM107 132.33h1.65v3.06h-1.65zM108.6 48.02h1.65v3.06h-1.65zM108.6 105.23h1.65v3.06h-1.65zM108.6 108.24h1.65v3.06h-1.65zM108.6 141.37h1.65v3.06h-1.65zM108.6 153.41h1.65v3.06h-1.65zM110.2 51.03h1.65v3.06h-1.65zM110.2 54.04h1.65v3.06h-1.65zM110.2 78.13h1.65v3.06h-1.65zM110.2 90.18h1.65v3.06h-1.65zM110.2 96.2h1.65v3.06h-1.65zM110.2 105.23h1.65v3.06h-1.65zM110.2 114.27h1.65v3.06h-1.65zM111.8 72.11h1.65v3.06h-1.65zM111.8 87.17h1.65v3.06h-1.65zM111.8 96.2h1.65v3.06h-1.65zM111.8 108.24h1.65v3.06h-1.65zM111.8 111.26h1.65v3.06h-1.65zM111.8 117.28h1.65v3.06h-1.65zM111.8 138.36h1.65v3.06h-1.65zM113.4 45.01h1.65v3.06h-1.65zM113.4 90.18h1.65v3.06h-1.65zM113.4 102.22h1.65v3.06h-1.65zM115 42h1.65v3.06h-1.65zM115 117.28h1.65v3.06h-1.65zM115 135.34h1.65v3.06h-1.65zM115 144.38h1.65v3.06h-1.65zM115 147.39h1.65v3.06h-1.65zM115 162.44h1.65v3.06h-1.65zM115 171.48h1.65v3.06h-1.65zM116.6 63.08h1.65v3.06h-1.65zM116.6 114.27h1.65v3.06h-1.65zM116.6 120.29h1.65v3.06h-1.65zM116.6 150.4h1.65v3.06h-1.65zM118.2 90.18h1.65v3.06h-1.65zM119.8 51.03h1.65v3.06h-1.65zM119.8 93.19h1.65v3.06h-1.65zM119.8 117.28h1.65v3.06h-1.65zM119.8 123.3h1.65v3.06h-1.65zM119.8 126.31h1.65v3.06h-1.65zM121.4 66.09h1.65v3.06h-1.65zM121.4 96.2h1.65v3.06h-1.65zM121.4 141.37h1.65v3.06h-1.65zM123 72.11h1.65v3.06h-1.65zM123 81.14h1.65v3.06h-1.65zM123 87.17h1.65v3.06h-1.65zM123 141.37h1.65v3.06h-1.65zM123 150.4h1.65v3.06h-1.65zM123 156.42h1.65v3.06h-1.65zM123 159.43h1.65v3.06h-1.65zM124.6 69.1h1.65v3.06h-1.65zM124.6 78.13h1.65v3.06h-1.65zM124.6 81.14h1.65v3.06h-1.65zM124.6 87.17h1.65v3.06h-1.65zM124.6 135.34h1.65v3.06h-1.65zM124.6 156.42h1.65v3.06h-1.65zM126.2 57.06h1.65v3.06h-1.65zM126.2 84.16h1.65v3.06h-1.65zM126.2 144.38h1.65v3.06h-1.65zM126.2 171.48h1.65v3.06h-1.65zM129.4 60.07h1.65v3.06h-1.65zM129.4 105.23h1.65v3.06h-1.65zM129.4 117.28h1.65v3.06h-1.65zM129.4 135.34h1.65v3.06h-1.65zM131 51.03h1.65v3.06h-1.65zM131 63.08h1.65v3.06h-1.65zM131 87.17h1.65v3.06h-1.65zM131 90.18h1.65v3.06h-1.65zM131 93.19h1.65v3.06h-1.65zM131 96.2h1.65v3.06h-1.65zM131 102.22h1.65v3.06h-1.65zM131 135.34h1.65v3.06h-1.65zM131 144.38h1.65v3.06h-1.65zM131 156.42h1.65v3.06h-1.65zM131 159.43h1.65v3.06h-1.65zM132.6 57.06h1.65v3.06h-1.65zM132.6 66.09h1.65v3.06h-1.65zM132.6 105.23h1.65v3.06h-1.65zM132.6 108.24h1.65v3.06h-1.65zM132.6 135.34h1.65v3.06h-1.65zM134.2 66.09h1.65v3.06h-1.65zM134.2 132.33h1.65v3.06h-1.65zM134.2 162.44h1.65v3.06h-1.65zM134.2 171.48h1.65v3.06h-1.65zM135.8 60.07h1.65v3.06h-1.65zM135.8 75.12h1.65v3.06h-1.65zM135.8 78.13h1.65v3.06h-1.65zM135.8 81.14h1.65v3.06h-1.65zM135.8 90.18h1.65v3.06h-1.65zM135.8 96.2h1.65v3.06h-1.65zM135.8 105.23h1.65v3.06h-1.65zM135.8 132.33h1.65v3.06h-1.65zM135.8 138.36h1.65v3.06h-1.65zM135.8 147.39h1.65v3.06h-1.65zM135.8 171.48h1.65v3.06h-1.65zM137.4 69.1h1.65v3.06h-1.65zM137.4 87.17h1.65v3.06h-1.65zM137.4 108.24h1.65v3.06h-1.65zM137.4 117.28h1.65v3.06h-1.65zM137.4 135.34h1.65v3.06h-1.65zM137.4 153.41h1.65v3.06h-1.65zM139 93.19h1.65v3.06h-1.65zM139 102.22h1.65v3.06h-1.65zM139 111.26h1.65v3.06h-1.65zM140.6 75.12h1.65v3.06h-1.65zM140.6 105.23h1.65v3.06h-1.65zM140.6 126.31h1.65v3.06h-1.65zM140.6 159.43h1.65v3.06h-1.65zM142.2 78.13h1.65v3.06h-1.65zM142.2 81.14h1.65v3.06h-1.65zM142.2 105.23h1.65v3.06h-1.65zM142.2 120.29h1.65v3.06h-1.65zM142.2 150.4h1.65v3.06h-1.65zM143.8 78.13h1.65v3.06h-1.65zM143.8 96.2h1.65v3.06h-1.65zM143.8 105.23h1.65v3.06h-1.65zM143.8 129.32h1.65v3.06h-1.65zM145.4 45.01h1.65v3.06h-1.65zM145.4 63.08h1.65v3.06h-1.65zM145.4 66.09h1.65v3.06h-1.65zM145.4 111.26h1.65v3.06h-1.65zM145.4 132.33h1.65v3.06h-1.65zM145.4 135.34h1.65v3.06h-1.65zM145.4 138.36h1.65v3.06h-1.65zM145.4 174.49h1.65v3.06h-1.65zM147 45.01h1.65v3.06h-1.65zM147 51.03h1.65v3.06h-1.65zM147 66.09h1.65v3.06h-1.65zM147 81.14h1.65v3.06h-1.65zM147 114.27h1.65v3.06h-1.65zM147 117.28h1.65v3.06h-1.65zM147 120.29h1.65v3.06h-1.65zM147 126.31h1.65v3.06h-1.65zM147 132.33h1.65v3.06h-1.65zM147 153.41h1.65v3.06h-1.65zM148.6 87.17h1.65v3.06h-1.65zM148.6 114.27h1.65v3.06h-1.65zM148.6 141.37h1.65v3.06h-1.65zM150.2 60.07h1.65v3.06h-1.65zM150.2 93.19h1.65v3.06h-1.65zM150.2 108.24h1.65v3.06h-1.65zM150.2 117.28h1.65v3.06h-1.65zM151.8 42h1.65v3.06h-1.65zM151.8 66.09h1.65v3.06h-1.65zM151.8 69.1h1.65v3.06h-1.65zM151.8 87.17h1.65v3.06h-1.65zM151.8 96.2h1.65v3.06h-1.65zM151.8 111.26h1.65v3.06h-1.65zM151.8 126.31h1.65v3.06h-1.65zM151.8 147.39h1.65v3.06h-1.65zM151.8 168.47h1.65v3.06h-1.65zM153.4 84.16h1.65v3.06h-1.65zM153.4 126.31h1.65v3.06h-1.65zM153.4 150.4h1.65v3.06h-1.65zM155 138.36h1.65v3.06h-1.65zM155 168.47h1.65v3.06h-1.65zM156.6 126.31h1.65v3.06h-1.65zM156.6 153.41h1.65v3.06h-1.65zM156.6 156.42h1.65v3.06h-1.65zM156.6 162.44h1.65v3.06h-1.65zM156.6 165.46h1.65v3.06h-1.65zM156.6 174.49h1.65v3.06h-1.65zM158.2 60.07h1.65v3.06h-1.65zM158.2 84.16h1.65v3.06h-1.65zM158.2 120.29h1.65v3.06h-1.65zM158.2 144.38h1.65v3.06h-1.65zM158.2 147.39h1.65v3.06h-1.65zM159.8 72.11h1.65v3.06h-1.65zM159.8 96.2h1.65v3.06h-1.65zM159.8 120.29h1.65v3.06h-1.65zM159.8 150.4h1.65v3.06h-1.65zM159.8 174.49h1.65v3.06h-1.65zM161.4 54.04h1.65v3.06h-1.65zM161.4 75.12h1.65v3.06h-1.65zM161.4 102.22h1.65v3.06h-1.65zM161.4 108.24h1.65v3.06h-1.65zM161.4 114.27h1.65v3.06h-1.65zM161.4 132.33h1.65v3.06h-1.65zM161.4 147.39h1.65v3.06h-1.65zM163 69.1h1.65v3.06h-1.65zM163 78.13h1.65v3.06h-1.65zM163 90.18h1.65v3.06h-1.65zM163 105.23h1.65v3.06h-1.65zM163 111.26h1.65v3.06h-1.65zM163 120.29h1.65v3.06h-1.65zM163 138.36h1.65v3.06h-1.65zM163 144.38h1.65v3.06h-1.65zM164.6 45.01h1.65v3.06h-1.65zM164.6 66.09h1.65v3.06h-1.65zM164.6 84.16h1.65v3.06h-1.65zM164.6 102.22h1.65v3.06h-1.65zM164.6 117.28h1.65v3.06h-1.65zM164.6 126.31h1.65v3.06h-1.65zM164.6 132.33h1.65v3.06h-1.65zM164.6 174.49h1.65v3.06h-1.65zM166.2 78.13h1.65v3.06h-1.65zM166.2 84.16h1.65v3.06h-1.65zM166.2 96.2h1.65v3.06h-1.65zM166.2 102.22h1.65v3.06h-1.65zM166.2 126.31h1.65v3.06h-1.65zM167.8 96.2h1.65v3.06h-1.65zM169.4 63.08h1.65v3.06h-1.65zM169.4 75.12h1.65v3.06h-1.65zM169.4 99.21h1.65v3.06h-1.65zM171 90.18h1.65v3.06h-1.65zM171 96.2h1.65v3.06h-1.65zM171 108.24h1.65v3.06h-1.65zM171 138.36h1.65v3.06h-1.65zM171 162.44h1.65v3.06h-1.65zM172.6 42h1.65v3.06h-1.65zM172.6 60.07h1.65v3.06h-1.65zM172.6 87.17h1.65v3.06h-1.65zM172.6 102.22h1.65v3.06h-1.65zM172.6 168.47h1.65v3.06h-1.65zM172.6 174.49h1.65v3.06h-1.65zM174.2 72.11h0.85v3.06h-0.85zM174.2 87.17h0.85v3.06h-0.85zM174.2 114.27h0.85v3.06h-0.85zM174.2 144.38h0.85v3.06h-0.85z"/>
<path fill="#be443d" d="M33.4 126.31h1.65v3.06h-1.65zM44.6 132.33h1.65v3.06h-1.65z"/>
<path fill="#b1cee6" d="M35 48.02h1.65v3.06h-1.65zM36.6 54.04h1.65v3.06h-1.65zM36.6 114.27h1.65v3.06h-1.65zM46.2 126.31h1.65v3.06h-1.65zM54.2 66.09h1.65v3.06h-1.65zM54.2 78.13h1.65v3.06h-1.65zM57.4 51.03h1.65v3.06h-1.65zM71.8 111.26h1.65v3.06h-1.65zM75 57.06h1.65v3.06h-1.65zM76.6 42h1.65v3.06h-1.65zM76.6 78.13h1.65v3.06h-1.65zM76.6 96.2h1.65v3.06h-1.65zM79.8 168.47h1.65v3.06h-1.65zM81.4 57.06h1.65v3.06h-1.65zM87.8 120.29h1.65v3.06h-1.65zM91 81.14h1.65v3.06h-1.65zM91 120.29h1.65v3.06h-1.65zM92.6 102.22h1.65v3.06h-1.65zM94.2 102.22h1.65v3.06h-1.65zM94.2 120.29h1.65v3.06h-1.65zM94.2 129.32h1.65v3.06h-1.65zM97.4 108.24h1.65v3.06h-1.65zM97.4 159.43h1.65v3.06h-1.65zM100.6 66.09h1.65v3.06h-1.65zM100.6 90.18h1.65v3.06h-1.65zM100.6 135.34h1.65v3.06h-1.65zM100.6 156.42h1.65v3.06h-1.65zM100.6 162.44h1.65v3.06h-1.65zM105.4 102.22h1.65v3.06h-1.65zM105.4 150.4h1.65v3.06h-1.65zM107 120.29h1.65v3.06h-1.65zM108.6 132.33h1.65v3.06h-1.65zM111.8 57.06h1.65v3.06h-1.65zM111.8 102.22h1.65v3.06h-1.65zM111.8 120.29h1.65v3.06h-1.65zM111.8 147.39h1.65v3.06h-1.65zM113.4 78.13h1.65v3.06h-1.65zM113.4 81.14h1.65v3.06h-1.65zM113.4 153.41h1.65v3.06h-1.65zM115 108.24h1.65v3.06h-1.65zM115 156.42h1.65v3.06h-1.65zM116.6 102.22h1.65v3.06h-1.65zM116.6 108.24h1.65v3.06h-1.65zM116.6 126.31h1.65v3.06h-1.65zM118.2 126.31h1.65v3.06h-1.65zM118.2 138.36h1.65v3.06h-1.65zM119.8 114.27h1.65v3.06h-1.65zM119.8 120.29h1.65v3.06h-1.65zM121.4 57.06h1.65v3.06h-1.65zM121.4 81.14h1.65v3.06h-1.65zM121.4 90.18h1.65v3.06h-1.65zM121.4 93.19h1.65v3.06h-1.65zM121.4 105.23h1.65v3.06h-1.65zM121.4 108.24h1.65v3.06h-1.65zM121.4 111.26h1.65v3.06h-1.65zM121.4 150.4h1.65v3.06h-1.65zM121.4 168.47h1.65v3.06h-1.65zM123 57.06h1.65v3.06h-1.65zM123 66.09h1.65v3.06h-1.65zM123 99.21h1.65v3.06h-1.65zM123 117.28h1.65v3.06h-1.65zM124.6 111.26h1.65v3.06h-1.65zM126.2 87.17h1.65v3.06h-1.65zM127.8 117.28h1.65v3.06h-1.65zM129.4 108.24h1.65v3.06h-1.65zM129.4 147.39h1.65v3.06h-1.65zM131 99.21h1.65v3.06h-1.65zM131 147.39h1.65v3.06h-1.65zM131 174.49h1.65v3.06h-1.65zM132.6 54.04h1.65v3.06h-1.65zM132.6 63.08h1.65v3.06h-1.65zM132.6 96.2h1.65v3.06h-1.65zM134.2 138.36h1.65v3.06h-1.65zM135.8 84.16h1.65v3.06h-1.65zM137.4 57.06h1.65v3.06h-1.65zM137.4 63.08h1.65v3.06h-1.65zM137.4 78.13h1.65v3.06h-1.65zM137.4 99.21h1.65v3.06h-1.65zM137.4 141.37h1.65v3.06h-1.65zM139 84.16h1.65v3.06h-1.65zM139 108.24h1.65v3.06h-1.65zM140.6 63.08h1.65v3.06h-1.65zM140.6 84.16h1.65v3.06h-1.65zM140.6 87.17h1.65v3.06h-1.65zM140.6 120.29h1.65v3.06h-1.65zM140.6 168.47h1.65v3.06h-1.65zM142.2 96.2h1.65v3.06h-1.65zM142.2 117.28h1.65v3.06h-1.65zM143.8 66.09h1.65v3.06h-1.65zM145.4 99.21h1.65v3.06h-1.65zM145.4 168.47h1.65v3.06h-1.65zM147 123.3h1.65v3.06h-1.65zM147 129.32h1.65v3.06h-1.65zM147 138.36h1.65v3.06h-1.65zM147 171.48h1.65v3.06h-1.65zM148.6 156.42h1.65v3.06h-1.65zM150.2 135.34h1.65v3.06h-1.65zM150.2 144.38h1.65v3.06h-1.65zM150.2 147.39h1.65v3.06h-1.65zM150.2 159.43h1.65v3.06h-1.65zM151.8 72.11h1.65v3.06h-1.65zM151.8 174.49h1.65v3.06h-1.65zM153.4 72.11h1.65v3.06h-1.65zM153.4 75.12h1.65v3.06h-1.65zM153.4 81.14h1.65v3.06h-1.65zM153.4 102.22h1.65v3.06h-1.65zM153.4 117.28h1.65v3.06h-1.65zM153.4 153.41h1.65v3.06h-1.65zM155 69.1h1.65v3.06h-1.65zM155 72.11h1.65v3.06h-1.65zM155 78.13h1.65v3.06h-1.65zM155 129.32h1.65v3.06h-1.65zM155 141.37h1.65v3.06h-1.65zM155 153.41h1.65v3.06h-1.65zM156.6 81.14h1.65v3.06h-1.65zM156.6 93.19h1.65v3.06h-1.65zM156.6 129.32h1.65v3.06h-1.65zM156.6 138.36h1.65v3.06h-1.65zM156.6 141.37h1.65v3.06h-1.65zM158.2 78.13h1.65v3.06h-1.65zM158.2 87.17h1.65v3.06h-1.65zM158.2 93.19h1.65v3.06h-1.65zM158.2 129.32h1.65v3.06h-1.65zM158.2 153.41h1.65v3.06h-1.65zM158.2 156.42h1.65v3.06h-1.65zM159.8 66.09h1.65v3.06h-1.65zM159.8 93.19h1.65v3.06h-1.65zM159.8 102.22h1.65v3.06h-1.65zM159.8 132.33h1.65v3.06h-1.65zM159.8 141.37h1.65v3.06h-1.65zM159.8 144.38h1.65v3.06h-1.65zM159.8 162.44h1.65v3.06h-1.65zM161.4 93.19h1.65v3.06h-1.65zM161.4 96.2h1.65v3.06h-1.65zM161.4 120.29h1.65v3.06h-1.65zM161.4 156.42h1.65v3.06h-1.65zM163 93.19h1.65v3.06h-1.65zM163 99.21h1.65v3.06h-1.65zM163 123.3h1.65v3.06h-1.65zM163 129.32h1.65v3.06h-1.65zM163 156.42h1.65v3.06h-1.65zM163 165.46h1.65v3.06h-1.65zM164.6 81.14h1.65v3.06h-1.65zM164.6 105.23h1.65v3.06h-1.65zM164.6 114.27h1.65v3.06h-1.65zM164.6 147.39h1.65v3.06h-1.65zM166.2 108.24h1.65v3.06h-1.65zM166.2 135.34h1.65v3.06h-1.65zM166.2 174.49h1.65v3.06h-1.65zM167.8 60.07h1.65v3.06h-1.65zM167.8 90.18h1.65v3.06h-1.65zM167.8 105.23h1.65v3.06h-1.65zM167.8 108.24h1.65v3.06h-1.65zM167.8 126.31h1.65v3.06h-1.65zM167.8 132.33h1.65v3.06h-1.65zM167.8 150.4h1.65v3.06h-1.65zM169.4 90.18h1.65v3.06h-1.65zM169.4 162.44h1.65v3.06h-1.65zM171 42h1.65v3.06h-1.65zM171 84.16h1.65v3.06h-1.65zM171 93.19h1.65v3.06h-1.65zM171 114.27h1.65v3.06h-1.65zM171 171.48h1.65v3.06h-1.65zM172.6 69.1h1.65v3.06h-1.65zM172.6 159.43h1.65v3.06h-1.65z"/>
<path fill="#d9e6f1" d="M35 51.03h1.65v3.06h-1.65zM35 66.09h1.65v3.06h-1.65zM35 84.16h1.65v3.06h-1.65zM35 90.18h1.65v3.06h-1.65zM35 117.28h1.65v3.06h-1.65zM35 141.37h1.65v3.06h-1.65zM35 171.48h1.65v3.06h-1.65zM36.6 150.4h1.65v3.06h-1.65zM36.6 153.41h1.65v3.06h-1.65zM39.8 141.37h1.65v3.06h-1.65zM46.2 45.01h1.65v3.06h-1.65zM47.8 57.06h1.65v3.06h-1.65zM47.8 162.44h1.65v3.06h-1.65zM49.4 144.38h1.65v3.06h-1.65zM49.4 174.49h1.65v3.06h-1.65zM51 105.23h1.65v3.06h-1.65zM52.6 54.04h1.65v3.06h-1.65zM54.2 54.04h1.65v3.06h-1.65zM54.2 72.11h1.65v3.06h-1.65zM54.2 84.16h1.65v3.06h-1.65zM54.2 87.17h1.65v3.06h-1.65zM55.8 42h1.65v3.06h-1.65zM55.8 60.07h1.65v3.06h-1.65zM55.8 66.09h1.65v3.06h-1.65zM55.8 102.22h1.65v3.06h-1.65zM55.8 138.36h1.65v3.06h-1.65zM57.4 159.43h1.65v3.06h-1.65zM59 60.07h1.65v3.06h-1.65zM59 108.24h1.65v3.06h-1.65zM59 129.32h1.65v3.06h-1.65zM60.6 126.31h1.65v3.06h-1.65zM62.2 144.38h1.65v3.06h-1.65zM68.6 45.01h1.65v3.06h-1.65zM70.2 69.1h1.65v3.06h-1.65zM70.2 81.14h1.65v3.06h-1.65zM70.2 84.16h1.65v3.06h-1.65zM70.2 126.31h1.65v3.06h-1.65zM71.8 105.23h1.65v3.06h-1.65zM71.8 153.41h1.65v3.06h-1.65zM73.4 66.09h1.65v3.06h-1.65zM73.4 69.1h1.65v3.06h-1.65zM75 54.04h1.65v3.06h-1.65zM76.6 72.11h1.65v3.06h-1.65zM76.6 123.3h1.65v3.06h-1.65zM76.6 126.31h1.65v3.06h-1.65zM76.6 141.37h1.65v3.06h-1.65zM78.2 120.29h1.65v3.06h-1.65zM79.8 45.01h1.65v3.06h-1.65zM79.8 48.02h1.65v3.06h-1.65zM79.8 60.07h1.65v3.06h-1.65zM79.8 156.42h1.65v3.06h-1.65zM79.8 162.44h1.65v3.06h-1.65zM79.8 171.48h1.65v3.06h-1.65zM81.4 45.01h1.65v3.06h-1.65zM81.4 72.11h1.65v3.06h-1.65zM81.4 120.29h1.65v3.06h-1.65zM81.4 123.3h1.65v3.06h-1.65zM81.4 129.32h1.65v3.06h-1.65zM81.4 147.39h1.65v3.06h-1.65zM84.6 126.31h1.65v3.06h-1.65zM84.6 150.4h1.65v3.06h-1.65zM84.6 156.42h1.65v3.06h-1.65zM84.6 174.49h1.65v3.06h-1.65zM86.2 60.07h1.65v3.06h-1.65zM86.2 105.23h1.65v3.06h-1.65zM86.2 117.28h1.65v3.06h-1.65zM86.2 129.32h1.65v3.06h-1.65zM87.8 48.02h1.65v3.06h-1.65zM87.8 114.27h1.65v3.06h-1.65zM87.8 117.28h1.65v3.06h-1.65zM87.8 138.36h1.65v3.06h-1.65zM87.8 150.4h1.65v3.06h-1.65zM91 66.09h1.65v3.06h-1.65zM91 105.23h1.65v3.06h-1.65zM91 108.24h1.65v3.06h-1.65zM91 114.27h1.65v3.06h-1.65zM91 117.28h1.65v3.06h-1.65zM91 156.42h1.65v3.06h-1.65zM91 165.46h1.65v3.06h-1.65zM92.6 93.19h1.65v3.06h-1.65zM92.6 105.23h1.65v3.06h-1.65zM92.6 108.24h1.65v3.06h-1.65zM92.6 114.27h1.65v3.06h-1.65zM92.6 120.29h1.65v3.06h-1.65zM92.6 126.31h1.65v3.06h-1.65zM92.6 132.33h1.65v3.06h-1.65zM92.6 138.36h1.65v3.06h-1.65zM92.6 159.43h1.65v3.06h-1.65zM94.2 48.02h1.65v3.06h-1.65zM94.2 84.16h1.65v3.06h-1.65zM94.2 114.27h1.65v3.06h-1.65zM94.2 123.3h1.65v3.06h-1.65zM94.2 141.37h1.65v3.06h-1.65zM94.2 159.43h1.65v3.06h-1.65zM94.2 168.47h1.65v3.06h-1.65zM95.8 66.09h1.65v3.06h-1.65zM95.8 72.11h1.65v3.06h-1.65zM95.8 81.14h1.65v3.06h-1.65zM95.8 102.22h1.65v3.06h-1.65zM95.8 150.4h1.65v3.06h-1.65zM97.4 42h1.65v3.06h-1.65zM97.4 84.16h1.65v3.06h-1.65zM97.4 90.18h1.65v3.06h-1.65zM97.4 93.19h1.65v3.06h-1.65zM97.4 114.27h1.65v3.06h-1.65zM97.4 126.31h1.65v3.06h-1.65zM97.4 138.36h1.65v3.06h-1.65zM99 84.16h1.65v3.06h-1.65zM99 90.18h1.65v3.06h-1.65zM99 96.2h1.65v3.06h-1.65zM99 99.21h1.65v3.06h-1.65zM99 102.22h1.65v3.06h-1.65zM99 114.27h1.65v3.06h-1.65zM99 135.34h1.65v3.06h-1.65zM99 156.42h1.65v3.06h-1.65zM100.6 51.03h1.65v3.06h-1.65zM100.6 69.1h1.65v3.06h-1.65zM100.6 117.28h1.65v3.06h-1.65zM100.6 126.31h1.65v3.06h-1.65zM100.6 141.37h1.65v3.06h-1.65zM100.6 168.47h1.65v3.06h-1.65zM102.2 57.06h1.65v3.06h-1.65zM102.2 63.08h1.65v3.06h-1.65zM102.2 75.12h1.65v3.06h-1.65zM102.2 96.2h1.65v3.06h-1.65zM102.2 132.33h1.65v3.06h-1.65zM102.2 150.4h1.65v3.06h-1.65zM102.2 153.41h1.65v3.06h-1.65zM103.8 48.02h1.65v3.06h-1.65zM103.8 123.3h1.65v3.06h-1.65zM103.8 132.33h1.65v3.06h-1.65zM105.4 87.17h1.65v3.06h-1.65zM105.4 141.37h1.65v3.06h-1.65zM107 75.12h1.65v3.06h-1.65zM107 105.23h1.65v3.06h-1.65zM107 114.27h1.65v3.06h-1.65zM107 159.43h1.65v3.06h-1.65zM108.6 81.14h1.65v3.06h-1.65zM108.6 84.16h1.65v3.06h-1.65zM108.6 102.22h1.65v3.06h-1.65zM108.6 156.42h1.65v3.06h-1.65zM108.6 159.43h1.65v3.06h-1.65zM108.6 168.47h1.65v3.06h-1.65zM108.6 171.48h1.65v3.06h-1.65zM110.2 45.01h1.65v3.06h-1.65zM110.2 48.02h1.65v3.06h-1.65zM110.2 57.06h1.65v3.06h-1.65zM110.2 63.08h1.65v3.06h-1.65zM110.2 69.1h1.65v3.06h-1.65zM110.2 72.11h1.65v3.06h-1.65zM110.2 81.14h1.65v3.06h-1.65zM110.2 111.26h1.65v3.06h-1.65zM110.2 150.4h1.65v3.06h-1.65zM110.2 171.48h1.65v3.06h-1.65zM111.8 48.02h1.65v3.06h-1.65zM111.8 51.03h1.65v3.06h-1.65zM111.8 63.08h1.65v3.06h-1.65zM111.8 66.09h1.65v3.06h-1.65zM111.8 105.23h1.65v3.06h-1.65zM111.8 114.27h1.65v3.06h-1.65zM111.8 156.42h1.65v3.06h-1.65zM111.8 165.46h1.65v3.06h-1.65zM111.8 168.47h1.65v3.06h-1.65zM113.4 84.16h1.65v3.06h-1.65zM113.4 108.24h1.65v3.06h-1.65zM113.4 114.27h1.65v3.06h-1.65zM113.4 117.28h1.65v3.06h-1.65zM113.4 150.4h1.65v3.06h-1.65zM113.4 159.43h1.65v3.06h-1.65zM115 75.12h1.65v3.06h-1.65zM115 84.16h1.65v3.06h-1.65zM115 93.19h1.65v3.06h-1.65zM115 120.29h1.65v3.06h-1.65zM115 123.3h1.65v3.06h-1.65zM115 132.33h1.65v3.06h-1.65zM116.6 45.01h1.65v3.06h-1.65zM116.6 99.21h1.65v3.06h-1.65zM116.6 123.3h1.65v3.06h-1.65zM116.6 156.42h1.65v3.06h-1.65zM118.2 63.08h1.65v3.06h-1.65zM118.2 75.12h1.65v3.06h-1.65zM118.2 81.14h1.65v3.06h-1.65zM118.2 93.19h1.65v3.06h-1.65zM118.2 129.32h1.65v3.06h-1.65zM118.2 135.34h1.65v3.06h-1.65zM118.2 147.39h1.65v3.06h-1.65zM119.8 57.06h1.65v3.06h-1.65zM119.8 75.12h1.65v3.06h-1.65zM119.8 96.2h1.65v3.06h-1.65zM119.8 102.22h1.65v3.06h-1.65zM119.8 105.23h1.65v3.06h-1.65zM119.8 159.43h1.65v3.06h-1.65zM119.8 174.49h1.65v3.06h-1.65zM121.4 75.12h1.65v3.06h-1.65zM121.4 117.28h1.65v3.06h-1.65zM121.4 153.41h1.65v3.06h-1.65zM121.4 162.44h1.65v3.06h-1.65zM123 105.23h1.65v3.06h-1.65zM123 111.26h1.65v3.06h-1.65zM123 135.34h1.65v3.06h-1.65zM124.6 72.11h1.65v3.06h-1.65zM124.6 99.21h1.65v3.06h-1.65zM124.6 108.24h1.65v3.06h-1.65zM124.6 117.28h1.65v3.06h-1.65zM124.6 168.47h1.65v3.06h-1.65zM126.2 69.1h1.65v3.06h-1.65zM126.2 78.13h1.65v3.06h-1.65zM126.2 90.18h1.65v3.06h-1.65zM126.2 111.26h1.65v3.06h-1.65zM126.2 114.27h1.65v3.06h-1.65zM126.2 132.33h1.65v3.06h-1.65zM126.2 153.41h1.65v3.06h-1.65zM127.8 60.07h1.65v3.06h-1.65zM127.8 63.08h1.65v3.06h-1.65zM127.8 75.12h1.65v3.06h-1.65zM127.8 90.18h1.65v3.06h-1.65zM127.8 99.21h1.65v3.06h-1.65zM127.8 102.22h1.65v3.06h-1.65zM127.8 135.34h1.65v3.06h-1.65zM127.8 144.38h1.65v3.06h-1.65zM129.4 90.18h1.65v3.06h-1.65zM129.4 99.21h1.65v3.06h-1.65zM129.4 102.22h1.65v3.06h-1.65zM129.4 114.27h1.65v3.06h-1.65zM129.4 162.44h1.65v3.06h-1.65zM131 72.11h1.65v3.06h-1.65zM131 105.23h1.65v3.06h-1.65zM131 168.47h1.65v3.06h-1.65zM132.6 69.1h1.65v3.06h-1.65zM132.6 93.19h1.65v3.06h-1.65zM132.6 99.21h1.65v3.06h-1.65zM132.6 120.29h1.65v3.06h-1.65zM132.6 138.36h1.65v3.06h-1.65zM132.6 153.41h1.65v3.06h-1.65zM132.6 171.48h1.65v3.06h-1.65zM132.6 174.49h1.65v3.06h-1.65zM134.2 54.04h1.65v3.06h-1.65zM134.2 84.16h1.65v3.06h-1.65zM134.2 90.18h1.65v3.06h-1.65zM134.2 96.2h1.65v3.06h-1.65zM134.2 105.23h1.65v3.06h-1.65zM134.2 114.27h1.65v3.06h-1.65zM134.2 165.46h1.65v3.06h-1.65zM134.2 174.49h1.65v3.06h-1.65zM135.8 69.1h1.65v3.06h-1.65zM135.8 108.24h1.65v3.06h-1.65zM135.8 114.27h1.65v3.06h-1.65zM135.8 135.34h1.65v3.06h-1.65zM135.8 141.37h1.65v3.06h-1.65zM135.8 153.41h1.65v3.06h-1.65zM135.8 168.47h1.65v3.06h-1.65zM137.4 42h1.65v3.06h-1.65zM137.4 66.09h1.65v3.06h-1.65zM137.4 75.12h1.65v3.06h-1.65zM137.4 156.42h1.65v3.06h-1.65zM139 60.07h1.65v3.06h-1.65zM139 72.11h1.65v3.06h-1.65zM139 99.21h1.65v3.06h-1.65zM139 114.27h1.65v3.06h-1.65zM139 165.46h1.65v3.06h-1.65zM139 174.49h1.65v3.06h-1.65zM140.6 42h1.65v3.06h-1.65zM140.6 66.09h1.65v3.06h-1.65zM140.6 72.11h1.65v3.06h-1.65zM140.6 78.13h1.65v3.06h-1.65zM140.6 108.24h1.65v3.06h-1.65zM140.6 144.38h1.65v3.06h-1.65zM140.6 153.41h1.65v3.06h-1.65zM140.6 156.42h1.65v3.06h-1.65zM142.2 54.04h1.65v3.06h-1.65zM142.2 57.06h1.65v3.06h-1.65zM142.2 60.07h1.65v3.06h-1.65zM142.2 87.17h1.65v3.06h-1.65zM142.2 108.24h1.65v3.06h-1.65zM142.2 111.26h1.65v3.06h-1.65zM142.2 123.3h1.65v3.06h-1.65zM142.2 132.33h1.65v3.06h-1.65zM142.2 156.42h1.65v3.06h-1.65zM142.2 159.43h1.65v3.06h-1.65zM142.2 165.46h1.65v3.06h-1.65zM143.8 93.19h1.65v3.06h-1.65zM143.8 117.28h1.65v3.06h-1.65zM143.8 165.46h1.65v3.06h-1.65zM143.8 174.49h1.65v3.06h-1.65zM145.4 93.19h1.65v3.06h-1.65zM145.4 153.41h1.65v3.06h-1.65zM145.4 159.43h1.65v3.06h-1.65zM145.4 165.46h1.65v3.06h-1.65zM147 42h1.65v3.06h-1.65zM147 60.07h1.65v3.06h-1.65zM147 135.34h1.65v3.06h-1.65zM147 156.42h1.65v3.06h-1.65zM147 162.44h1.65v3.06h-1.65zM148.6 69.1h1.65v3.06h-1.65zM148.6 78.13h1.65v3.06h-1.65zM148.6 90.18h1.65v3.06h-1.65zM148.6 99.21h1.65v3.06h-1.65zM148.6 120.29h1.65v3.06h-1.65zM150.2 69.1h1.65v3.06h-1.65zM150.2 99.21h1.65v3.06h-1.65zM150.2 111.26h1.65v3.06h-1.65zM150.2 141.37h1.65v3.06h-1.65zM151.8 60.07h1.65v3.06h-1.65zM151.8 84.16h1.65v3.06h-1.65zM151.8 99.21h1.65v3.06h-1.65zM151.8 120.29h1.65v3.06h-1.65zM153.4 51.03h1.65v3.06h-1.65zM153.4 57.06h1.65v3.06h-1.65zM153.4 60.07h1.65v3.06h-1.65zM153.4 105.23h1.65v3.06h-1.65zM153.4 114.27h1.65v3.06h-1.65zM153.4 165.46h1.65v3.06h-1.65zM153.4 171.48h1.65v3.06h-1.65zM155 60.07h1.65v3.06h-1.65zM155 105.23h1.65v3.06h-1.65zM155 120.29h1.65v3.06h-1.65zM155 144.38h1.65v3.06h-1.65zM155 156.42h1.65v3.06h-1.65zM155 162.44h1.65v3.06h-1.65zM156.6 60.07h1.65v3.06h-1.65zM156.6 90.18h1.65v3.06h-1.65zM156.6 150.4h1.65v3.06h-1.65zM156.6 168.47h1.65v3.06h-1.65zM158.2 63.08h1.65v3.06h-1.65zM158.2 66.09h1.65v3.06h-1.65zM158.2 69.1h1.65v3.06h-1.65zM158.2 114.27h1.65v3.06h-1.65zM158.2 126.31h1.65v3.06h-1.65zM158.2 132.33h1.65v3.06h-1.65zM158.2 165.46h1.65v3.06h-1.65zM159.8 99.21h1.65v3.06h-1.65zM159.8 114.27h1.65v3.06h-1.65zM159.8 117.28h1.65v3.06h-1.65zM159.8 147.39h1.65v3.06h-1.65zM161.4 66.09h1.65v3.06h-1.65zM161.4 117.28h1.65v3.06h-1.65zM161.4 165.46h1.65v3.06h-1.65zM163 63.08h1.65v3.06h-1.65zM163 66.09h1.65v3.06h-1.65zM163 126.31h1.65v3.06h-1.65zM163 153.41h1.65v3.06h-1.65zM163 171.48h1.65v3.06h-1.65zM164.6 78.13h1.65v3.06h-1.65zM164.6 165.46h1.65v3.06h-1.65zM166.2 60.07h1.65v3.06h-1.65zM166.2 81.14h1.65v3.06h-1.65zM166.2 90.18h1.65v3.06h-1.65zM166.2 159.43h1.65v3.06h-1.65zM167.8 78.13h1.65v3.06h-1.65zM169.4 72.11h1.65v3.06h-1.65zM169.4 78.13h1.65v3.06h-1.65zM169.4 126.31h1.65v3.06h-1.65zM169.4 159.43h1.65v3.06h-1.65zM171 99.21h1.65v3.06h-1.65zM171 150.4h1.65v3.06h-1.65zM171 153.41h1.65v3.06h-1.65zM171 168.47h1.65v3.06h-1.65zM172.6 81.14h1.65v3.06h-1.65zM172.6 96.2h1.65v3.06h-1.65zM172.6 99.21h1.65v3.06h-1.65zM172.6 111.26h1.65v3.06h-1.65zM174.2 75.12h0.85v3.06h-0.85zM174.2 99.21h0.85v3.06h-0.85zM174.2 102.22h0.85v3.06h-0.85zM174.2 129.32h0.85v3.06h-0.85z"/>
<path fill="#b32d34" d="M36.6 42h1.65v3.06h-1.65z"/>
<path fill="#94bcde" d="M36.6 57.06h1.65v3.06h-1.65zM92.6 96.2h1.65v3.06h-1.65zM100.6 84.16h1.65v3.06h-1.65zM103.8 126.31h1.65v3.06h-1.65zM108.6 72.11h1.65v3.06h-1.65zM110.2 108.24h1.65v3.06h-1.65zM113.4 123.3h1.65v3.06h-1.65zM115 111.26h1.65v3.06h-1.65zM116.6 117.28h1.65v3.06h-1.65zM119.8 129.32h1.65v3.06h-1.65zM119.8 132.33h1.65v3.06h-1.65zM123 90.18h1.65v3.06h-1.65zM123 108.24h1.65v3.06h-1.65zM129.4 93.19h1.65v3.06h-1.65zM131 162.44h1.65v3.06h-1.65zM135.8 102.22h1.65v3.06h-1.65zM135.8 111.26h1.65v3.06h-1.65zM135.8 117.28h1.65v3.06h-1.65zM139 63.08h1.65v3.06h-1.65zM140.6 93.19h1.65v3.06h-1.65zM140.6 102.22h1.65v3.06h-1.65zM140.6 114.27h1.65v3.06h-1.65zM142.2 63.08h1.65v3.06h-1.65zM145.4 114.27h1.65v3.06h-1.65zM145.4 129.32h1.65v3.06h-1.65zM150.2 78.13h1.65v3.06h-1.65zM150.2 87.17h1.65v3.06h-1.65zM150.2 153.41h1.65v3.06h-1.65zM151.8 123.3h1.65v3.06h-1.65zM151.8 138.36h1.65v3.06h-1.65zM151.8 141.37h1.65v3.06h-1.65zM153.4 156.42h1.65v3.06h-1.65zM153.4 159.43h1.65v3.06h-1.65zM155 87.17h1.65v3.06h-1.65zM155 159.43h1.65v3.06h-1.65zM156.6 99.21h1.65v3.06h-1.65zM156.6 105.23h1.65v3.06h-1.65zM158.2 162.44h1.65v3.06h-1.65zM159.8 90.18h1.65v3.06h-1.65zM159.8 138.36h1.65v3.06h-1.65zM159.8 171.48h1.65v3.06h-1.65zM161.4 129.32h1.65v3.06h-1.65zM161.4 135.34h1.65v3.06h-1.65zM161.4 153.41h1.65v3.06h-1.65zM164.6 93.19h1.65v3.06h-1.65zM164.6 99.21h1.65v3.06h-1.65zM164.6 156.42h1.65v3.06h-1.65zM164.6 162.44h1.65v3.06h-1.65zM166.2 141.37h1.65v3.06h-1.65zM166.2 156.42h1.65v3.06h-1.65zM167.8 57.06h1.65v3.06h-1.65zM167.8 87.17h1.65v3.06h-1.65zM167.8 117.28h1.65v3.06h-1.65zM167.8 123.3h1.65v3.06h-1.65zM167.8 147.39h1.65v3.06h-1.65zM167.8 156.42h1.65v3.06h-1.65zM169.4 120.29h1.65v3.06h-1.65zM169.4 138.36h1.65v3.06h-1.65zM169.4 147.39h1.65v3.06h-1.65zM171 69.1h1.65v3.06h-1.65zM171 117.28h1.65v3.06h-1.65zM174.2 120.29h0.85v3.06h-0.85z"/>
<path fill="#c95a45" d="M38.2 69.1h1.65v3.06h-1.65zM148.6 144.38h1.65v3.06h-1.65zM150.2 123.3h1.65v3.06h-1.65z"/>
<path fill="#a7152b" d="M39.8 63.08h1.65v3.06h-1.65z"/>
<path fill="#a3c6e2" d="M46.2 51.03h1.65v3.06h-1.65zM54.2 90.18h1.65v3.06h-1.65zM55.8 48.02h1.65v3.06h-1.65zM71.8 117.28h1.65v3.06h-1.65zM81.4 108.24h1.65v3.06h-1.65zM87.8 51.03h1.65v3.06h-1.65zM87.8 102.22h1.65v3.06h-1.65zM91 168.47h1.65v3.06h-1.65zM92.6 129.32h1.65v3.06h-1.65zM94.2 66.09h1.65v3.06h-1.65zM95.8 132.33h1.65v3.06h-1.65zM97.4 117.28h1.65v3.06h-1.65zM99 108.24h1.65v3.06h-1.65zM100.6 48.02h1.65v3.06h-1.65zM100.6 72.11h1.65v3.06h-1.65zM100.6 102.22h1.65v3.06h-1.65zM100.6 132.33h1.65v3.06h-1.65zM102.2 111.26h1.65v3.06h-1.65zM102.2 126.31h1.65v3.06h-1.65zM102.2 138.36h1.65v3.06h-1.65zM103.8 99.21h1.65v3.06h-1.65zM103.8 117.28h1.65v3.06h-1.65zM105.4 174.49h1.65v3.06h-1.65zM108.6 69.1h1.65v3.06h-1.65zM108.6 99.21h1.65v3.06h-1.65zM110.2 102.22h1.65v3.06h-1.65zM110.2 123.3h1.65v3.06h-1.65zM110.2 126.31h1.65v3.06h-1.65zM110.2 159.43h1.65v3.06h-1.65zM110.2 165.46h1.65v3.06h-1.65zM111.8 99.21h1.65v3.06h-1.65zM113.4 75.12h1.65v3.06h-1.65zM113.4 120.29h1.65v3.06h-1.65zM113.4 132.33h1.65v3.06h-1.65zM115 63.08h1.65v3.06h-1.65zM115 102.22h1.65v3.06h-1.65zM115 129.32h1.65v3.06h-1.65zM116.6 111.26h1.65v3.06h-1.65zM119.8 111.26h1.65v3.06h-1.65zM121.4 72.11h1.65v3.06h-1.65zM121.4 102.22h1.65v3.06h-1.65zM124.6 57.06h1.65v3.06h-1.65zM129.4 144.38h1.65v3.06h-1.65zM131 108.24h1.65v3.06h-1.65zM132.6 150.4h1.65v3.06h-1.65zM134.2 87.17h1.65v3.06h-1.65zM134.2 159.43h1.65v3.06h-1.65zM135.8 144.38h1.65v3.06h-1.65zM135.8 156.42h1.65v3.06h-1.65zM140.6 57.06h1.65v3.06h-1.65zM140.6 96.2h1.65v3.06h-1.65zM140.6 111.26h1.65v3.06h-1.65zM140.6 129.32h1.65v3.06h-1.65zM140.6 174.49h1.65v3.06h-1.65zM145.4 90.18h1.65v3.06h-1.65zM145.4 96.2h1.65v3.06h-1.65zM145.4 105.23h1.65v3.06h-1.65zM145.4 120.29h1.65v3.06h-1.65zM147 90.18h1.65v3.06h-1.65zM147 150.4h1.65v3.06h-1.65zM148.6 81.14h1.65v3.06h-1.65zM150.2 63.08h1.65v3.06h-1.65zM150.2 72.11h1.65v3.06h-1.65zM150.2 81.14h1.65v3.06h-1.65zM150.2 84.16h1.65v3.06h-1.65zM150.2 138.36h1.65v3.06h-1.65zM151.8 102.22h1.65v3.06h-1.65zM151.8 108.24h1.65v3.06h-1.65zM151.8 144.38h1.65v3.06h-1.65zM151.8 153.41h1.65v3.06h-1.65zM151.8 159.43h1.65v3.06h-1.65zM153.4 96.2h1.65v3.06h-1.65zM153.4 120.29h1.65v3.06h-1.65zM153.4 147.39h1.65v3.06h-1.65zM155 93.19h1.65v3.06h-1.65zM155 99.21h1.65v3.06h-1.65zM156.6 72.11h1.65v3.06h-1.65zM156.6 108.24h1.65v3.06h-1.65zM158.2 96.2h1.65v3.06h-1.65zM158.2 99.21h1.65v3.06h-1.65zM159.8 108.24h1.65v3.06h-1.65zM159.8 129.32h1.65v3.06h-1.65zM159.8 153.41h1.65v3.06h-1.65zM159.8 156.42h1.65v3.06h-1.65zM159.8 159.43h1.65v3.06h-1.65zM161.4 63.08h1.65v3.06h-1.65zM161.4 72.11h1.65v3.06h-1.65zM161.4 123.3h1.65v3.06h-1.65zM161.4 126.31h1.65v3.06h-1.65zM161.4 141.37h1.65v3.06h-1.65zM163 72.11h1.65v3.06h-1.65zM163 81.14h1.65v3.06h-1.65zM163 84.16h1.65v3.06h-1.65zM163 114.27h1.65v3.06h-1.65zM163 135.34h1.65v3.06h-1.65zM164.6 63.08h1.65v3.06h-1.65zM164.6 138.36h1.65v3.06h-1.65zM166.2 153.41h1.65v3.06h-1.65zM167.8 66.09h1.65v3.06h-1.65zM167.8 81.14h1.65v3.06h-1.65zM167.8 102.22h1.65v3.06h-1.65zM167.8 120.29h1.65v3.06h-1.65zM167.8 174.49h1.65v3.06h-1.65zM169.4 156.42h1.65v3.06h-1.65zM171 123.3h1.65v3.06h-1.65zM171 159.43h1.65v3.06h-1.65zM172.6 114.27h1.65v3.06h-1.65zM172.6 123.3h1.65v3.06h-1.65zM172.6 135.34h1.65v3.06h-1.65zM172.6 162.44h1.65v3.06h-1.65zM174.2 78.13h0.85v3.06h-0.85zM174.2 117.28h0.85v3.06h-0.85zM174.2 123.3h0.85v3.06h-0.85zM174.2 132.33h0.85v3.06h-0.85zM174.2 147.39h0.85v3.06h-0.85zM174.2 162.44h0.85v3.06h-0.85z"/>
<path fill="#b83838" d="M59 87.17h1.65v3.06h-1.65z"/>
<path fill="#6fa0cf" d="M81.4 105.23h1.65v3.06h-1.65zM95.8 126.31h1.65v3.06h-1.65zM99 117.28h1.65v3.06h-1.65zM100.6 105.23h1.65v3.06h-1.65zM100.6 111.26h1.65v3.06h-1.65zM105.4 108.24h1.65v3.06h-1.65zM151.8 78.13h1.65v3.06h-1.65zM151.8 156.42h1.65v3.06h-1.65zM153.4 141.37h1.65v3.06h-1.65zM155 102.22h1.65v3.06h-1.65zM161.4 90.18h1.65v3.06h-1.65zM163 57.06h1.65v3.06h-1.65zM163 159.43h1.65v3.06h-1.65zM164.6 90.18h1.65v3.06h-1.65zM164.6 96.2h1.65v3.06h-1.65zM164.6 123.3h1.65v3.06h-1.65zM167.8 63.08h1.65v3.06h-1.65zM167.8 72.11h1.65v3.06h-1.65zM167.8 129.32h1.65v3.06h-1.65zM167.8 135.34h1.65v3.06h-1.65zM167.8 141.37h1.65v3.06h-1.65zM167.8 144.38h1.65v3.06h-1.65zM169.4 123.3h1.65v3.06h-1.65zM171 111.26h1.65v3.06h-1.65zM172.6 120.29h1.65v3.06h-1.65zM174.2 159.43h0.85v3.06h-0.85z"/>
<path fill="#82aed6" d="M91 132.33h1.65v3.06h-1.65zM95.8 105.23h1.65v3.06h-1.65zM95.8 114.27h1.65v3.06h-1.65zM99 105.23h1.65v3.06h-1.65zM100.6 153.41h1.65v3.06h-1.65zM108.6 114.27h1.65v3.06h-1.65zM113.4 129.32h1.65v3.06h-1.65zM115 90.18h1.65v3.06h-1.65zM131 84.16h1.65v3.06h-1.65zM131 114.27h1.65v3.06h-1.65zM134.2 108.24h1.65v3.06h-1.65zM135.8 159.43h1.65v3.06h-1.65zM137.4 111.26h1.65v3.06h-1.65zM140.6 123.3h1.65v3.06h-1.65zM145.4 150.4h1.65v3.06h-1.65zM150.2 171.48h1.65v3.06h-1.65zM153.4 162.44h1.65v3.06h-1.65zM155 75.12h1.65v3.06h-1.65zM155 96.2h1.65v3.06h-1.65zM156.6 78.13h1.65v3.06h-1.65zM158.2 108.24h1.65v3.06h-1.65zM158.2 141.37h1.65v3.06h-1.65zM158.2 159.43h1.65v3.06h-1.65zM159.8 78.13h1.65v3.06h-1.65zM159.8 81.14h1.65v3.06h-1.65zM161.4 87.17h1.65v3.06h-1.65zM161.4 144.38h1.65v3.06h-1.65zM161.4 159.43h1.65v3.06h-1.65zM163 75.12h1.65v3.06h-1.65zM163 102.22h1.65v3.06h-1.65zM164.6 87.17h1.65v3.06h-1.65zM164.6 141.37h1.65v3.06h-1.65zM167.8 93.19h1.65v3.06h-1.65zM167.8 114.27h1.65v3.06h-1.65zM167.8 159.43h1.65v3.06h-1.65zM167.8 165.46h1.65v3.06h-1.65zM172.6 117.28h1.65v3.06h-1.65zM172.6 138.36h1.65v3.06h-1.65zM172.6 144.38h1.65v3.06h-1.65zM174.2 153.41h0.85v3.06h-0.85z"/>
<path fill="#4a84c0" d="M100.6 123.3h1.65v3.06h-1.65zM171 120.29h1.65v3.06h-1.65zM171 147.39h1.65v3.06h-1.65z"/>
<path fill="#5d92c7" d="M116.6 105.23h1.65v3.06h-1.65zM151.8 162.44h1.65v3.06h-1.65zM159.8 57.06h1.65v3.06h-1.65zM159.8 75.12h1.65v3.06h-1.65zM161.4 57.06h1.65v3.06h-1.65zM161.4 99.21h1.65v3.06h-1.65zM164.6 57.06h1.65v3.06h-1.65zM167.8 162.44h1.65v3.06h-1.65zM169.4 111.26h1.65v3.06h-1.65zM169.4 114.27h1.65v3.06h-1.65zM169.4 117.28h1.65v3.06h-1.65z"/>
<path fill="#457dbc" d="M156.6 147.39h1.65v3.06h-1.65z"/>
<path fill="#3f76b7" d="M158.2 81.14h1.65v3.06h-1.65zM163 96.2h1.65v3.06h-1.65zM167.8 153.41h1.65v3.06h-1.65z"/>
</g>
<rect x="35.95" y="38.8" width="0.6" height="139" fill="#fff"/>
<rect x="120.2" y="38.8" width="1.1" height="139" fill="#fff"/>
<g shape-rendering="crispEdges">
<rect x="27" y="38.8" width="6.95" height="3" fill="#21407f"/>
<rect x="33.9" y="38.8" width="0.75" height="3" fill="#f2c014"/>
<rect x="34.6" y="38.8" width="0.85" height="3" fill="#67ac3f"/>
<rect x="36.6" y="38.8" width="1.75" height="3" fill="#21407f"/>
<rect x="38.3" y="38.8" width="1.35" height="3" fill="#f2c014"/>
<rect x="39.6" y="38.8" width="2.45" height="3" fill="#67ac3f"/>
<rect x="42" y="38.8" width="1.35" height="3" fill="#e28a1c"/>
<rect x="43.3" y="38.8" width="1.55" height="3" fill="#8c7fc7"/>
<rect x="44.8" y="38.8" width="1.75" height="3" fill="#e28a1c"/>
<rect x="46.5" y="38.8" width="1.35" height="3" fill="#f2c014"/>
<rect x="47.8" y="38.8" width="1.05" height="3" fill="#67ac3f"/>
<rect x="48.8" y="38.8" width="1.75" height="3" fill="#21407f"/>
<rect x="50.5" y="38.8" width="1.15" height="3" fill="#67ac3f"/>
<rect x="51.6" y="38.8" width="1.45" height="3" fill="#21407f"/>
<rect x="53" y="38.8" width="1.25" height="3" fill="#e28a1c"/>
<rect x="54.2" y="38.8" width="2.65" height="3" fill="#f2c014"/>
<rect x="56.8" y="38.8" width="2.75" height="3" fill="#67ac3f"/>
<rect x="59.5" y="38.8" width="1.15" height="3" fill="#8c7fc7"/>
<rect x="60.6" y="38.8" width="9.05" height="3" fill="#f2c014"/>
<rect x="69.6" y="38.8" width="1.45" height="3" fill="#e28a1c"/>
<rect x="71" y="38.8" width="2.85" height="3" fill="#f2c014"/>
<rect x="73.8" y="38.8" width="1.25" height="3" fill="#e28a1c"/>
<rect x="75" y="38.8" width="2.95" height="3" fill="#21407f"/>
<rect x="77.9" y="38.8" width="2.45" height="3" fill="#f2c014"/>
<rect x="80.3" y="38.8" width="1.95" height="3" fill="#e28a1c"/>
<rect x="82.2" y="38.8" width="1.55" height="3" fill="#67ac3f"/>
<rect x="83.7" y="38.8" width="1.95" height="3" fill="#f2c014"/>
<rect x="85.6" y="38.8" width="1.45" height="3" fill="#21407f"/>
<rect x="87" y="38.8" width="1.55" height="3" fill="#f2c014"/>
<rect x="88.5" y="38.8" width="0.95" height="3" fill="#21407f"/>
<rect x="89.4" y="38.8" width="1.95" height="3" fill="#67ac3f"/>
<rect x="91.3" y="38.8" width="2.05" height="3" fill="#e28a1c"/>
<rect x="93.3" y="38.8" width="0.95" height="3" fill="#8c7fc7"/>
<rect x="94.2" y="38.8" width="6.35" height="3" fill="#67ac3f"/>
<rect x="100.5" y="38.8" width="3.35" height="3" fill="#f2c014"/>
<rect x="103.8" y="38.8" width="2.95" height="3" fill="#e28a1c"/>
<rect x="106.7" y="38.8" width="1.05" height="3" fill="#8c7fc7"/>
<rect x="107.7" y="38.8" width="2.45" height="3" fill="#67ac3f"/>
<rect x="110.1" y="38.8" width="1.95" height="3" fill="#f2c014"/>
<rect x="112" y="38.8" width="1.55" height="3" fill="#e28a1c"/>
<rect x="113.5" y="38.8" width="3.85" height="3" fill="#f2c014"/>
<rect x="117.3" y="38.8" width="1.55" height="3" fill="#67ac3f"/>
<rect x="118.8" y="38.8" width="1.25" height="3" fill="#21407f"/>
<rect x="121.5" y="38.8" width="5.95" height="3" fill="#67ac3f"/>
<rect x="127.4" y="38.8" width="1.95" height="3" fill="#e28a1c"/>
<rect x="129.3" y="38.8" width="1.55" height="3" fill="#67ac3f"/>
<rect x="130.8" y="38.8" width="1.45" height="3" fill="#8c7fc7"/>
<rect x="132.2" y="38.8" width="1.55" height="3" fill="#67ac3f"/>
<rect x="133.7" y="38.8" width="1.45" height="3" fill="#8c7fc7"/>
<rect x="135.1" y="38.8" width="6.25" height="3" fill="#67ac3f"/>
<rect x="141.3" y="38.8" width="1.55" height="3" fill="#8c7fc7"/>
<rect x="142.8" y="38.8" width="1.05" height="3" fill="#67ac3f"/>
<rect x="143.8" y="38.8" width="1.45" height="3" fill="#e28a1c"/>
<rect x="145.2" y="38.8" width="1.05" height="3" fill="#8c7fc7"/>
<rect x="146.2" y="38.8" width="12.45" height="3" fill="#67ac3f"/>
<rect x="158.6" y="38.8" width="1.05" height="3" fill="#8c7fc7"/>
<rect x="159.6" y="38.8" width="1.95" height="3" fill="#67ac3f"/>
<rect x="161.5" y="38.8" width="1.05" height="3" fill="#8c7fc7"/>
<rect x="162.5" y="38.8" width="2.95" height="3" fill="#67ac3f"/>
<rect x="165.4" y="38.8" width="1.95" height="3" fill="#8c7fc7"/>
<rect x="167.3" y="38.8" width="2.95" height="3" fill="#67ac3f"/>
<rect x="170.2" y="38.8" width="1.05" height="3" fill="#8c7fc7"/>
<rect x="171.2" y="38.8" width="2.45" height="3" fill="#67ac3f"/>
<rect x="173.6" y="38.8" width="1.45" height="3" fill="#8c7fc7"/>
</g>
<rect x="27" y="33.4" width="8.8" height="5.3" fill="#c3c3c3"/>
<path d="" fill="none" stroke="#7a7a7a" stroke-width="0.4"/>
<path d="M27.8 38.7V30.16H29.4V38.7M28.6 30.16V28.45H31V38.7M32.6 38.7V30.06H34.2V38.7M29.8 28.45V27.1H33.4V30.06" fill="none" stroke="#4a4a4a" stroke-width="0.45"/>
<rect x="36.9" y="33.4" width="83.2" height="5.3" fill="#c3c3c3"/>
<path d="M39.3 38.7V34.43H40.9V38.7M45.7 38.7V33.97H47.3V38.7M44.1 38.7V33.51H46.5V33.97M53.7 38.7V34.74H55.3V38.7M58.5 38.7V34.64H60.1V38.7M56.9 38.7V33.86H59.3V34.64M61.7 38.7V33.7H63.3V38.7M64.9 38.7V33.67H66.5V38.7M71.3 38.7V34.52H72.9V38.7M74.5 38.7V34.14H76.1V38.7M77.7 38.7V34.45H79.3V38.7M80.9 38.7V34.67H82.5V38.7M81.7 34.67V33.53H84.1V38.7M87.3 38.7V34.58H88.9V38.7M90.5 38.7V34.33H92.1V38.7M95.3 38.7V34.75H96.9V38.7M98.5 38.7V34.25H100.1V38.7M101.7 38.7V33.91H103.3V38.7M99.3 34.25V33.44H102.5V33.91M104.9 38.7V34.86H106.5V38.7M109.7 38.7V33.73H111.3V38.7M114.5 38.7V34.51H116.1V38.7M115.3 34.51V33.73H117.7V38.7" fill="none" stroke="#7a7a7a" stroke-width="0.4"/>
<path d="M37.7 38.7V33.02H40.1V34.43M45.3 33.51V33.06H48.9V38.7M42.5 38.7V32.04H47.1V33.06M44.8 32.04V31.59H50.5V38.7M54.5 34.74V31.9H58.1V33.86M52.1 38.7V31.44H56.3V31.9M47.65 31.59V30.98H54.2V31.44M38.9 33.02V29.82H50.93V30.98M65.7 33.67V32.99H68.1V38.7M62.5 33.7V32.53H66.9V32.99M44.91 29.82V29.37H64.7V32.53M69.7 38.7V33.36H72.1V34.52M70.9 33.36V32.25H75.3V34.14M85.7 38.7V32.93H88.1V34.58M82.9 33.53V31.59H86.9V32.93M78.5 34.45V31.13H84.9V31.59M73.1 32.25V30.68H81.7V31.13M91.3 34.33V33.23H93.7V38.7M92.5 33.23V32.77H96.1V34.75M94.3 32.77V31.07H100.9V33.44M105.7 34.86V32.92H108.1V38.7M97.6 31.07V30.62H106.9V32.92M110.5 33.73V33.27H112.9V38.7M116.5 33.73V33.27H119.3V38.7M111.7 33.27V32.41H117.9V33.27M102.25 30.62V30.16H114.8V32.41M77.4 30.68V28.72H108.52V30.16M54.81 29.37V27.4H92.96V28.72" fill="none" stroke="#4a4a4a" stroke-width="0.45"/>
<rect x="121.5" y="33.4" width="53.5" height="5.3" fill="#c3c3c3"/>
<path d="M123.9 38.7V34.75H125.5V38.7M127.1 38.7V33.93H128.7V38.7M130.3 38.7V34.72H131.9V38.7M135.1 38.7V34.62H136.7V38.7M138.3 38.7V33.96H139.9V38.7M143.1 38.7V33.5H144.7V38.7M147.9 38.7V34.16H149.5V38.7M148.7 34.16V33.61H151.1V38.7M154.3 38.7V34.64H155.9V38.7M157.5 38.7V34.55H159.1V38.7M165.5 38.7V33.87H167.1V38.7M168.7 38.7V34.31H170.3V38.7M171.9 38.7V33.69H173.5V38.7" fill="none" stroke="#7a7a7a" stroke-width="0.4"/>
<path d="M122.3 38.7V33.01H124.7V34.75M127.9 33.93V32.21H131.1V34.72M135.9 34.62V32.38H139.1V33.96M137.5 32.38V31.91H141.5V38.7M133.5 38.7V31.44H139.5V31.91M129.5 32.21V30.97H136.5V31.44M123.5 33.01V29.98H133V30.97M143.9 33.5V33.03H146.3V38.7M149.9 33.61V32.89H152.7V38.7M151.3 32.89V31.54H155.1V34.64M145.1 33.03V31.07H153.2V31.54M158.3 34.55V33.34H160.7V38.7M159.5 33.34V32.74H162.3V38.7M163.9 38.7V33.11H166.3V33.87M165.1 33.11V32.05H169.5V34.31M167.3 32.05V31.58H172.7V33.69M160.9 32.74V30.13H170V31.58M149.15 31.07V29.31H165.45V30.13M128.25 29.98V28H157.3V29.31" fill="none" stroke="#4a4a4a" stroke-width="0.45"/>
<path d="M31.6 27.1V22.3H108.33V25.5M73.88 27.4V25.5H142.77V28" fill="none" stroke="#4a4a4a" stroke-width="0.45"/>
<path d="M26.6 43.51H20.8V46.52H26.6M20.8 45.01H18.94V49.53H26.6M18.94 47.27H18.26V52.54H26.6M26.6 55.55H21.71V58.56H26.6M21.71 57.06H20.96V61.57H26.6M18.26 49.9H17.59V59.31H20.96M26.6 64.58H22.88V67.59H26.6M22.88 66.09H19.46V70.61H26.6M17.59 54.61H16.59V68.35H19.46M26.6 73.62H21.9V76.63H26.6M26.6 79.64H22.98V82.65H26.6M22.98 81.14H20.71V85.66H26.6M20.71 83.4H19.21V88.67H26.6M21.9 75.12H18.54V86.04H19.21M16.59 61.48H12.95V80.58H18.54M26.6 94.69H22.74V97.71H26.6M22.74 96.2H19.1V100.72H26.6M26.6 91.68H18.43V98.46H19.1M26.6 103.73H22.57V106.74H26.6M26.6 109.75H21.81V112.76H26.6M22.57 105.23H18.35V111.26H21.81M26.6 118.78H22.51V121.79H26.6M26.6 115.77H18.99V120.29H22.51M18.35 108.24H16.11V118.03H18.99M26.6 124.81H22.74V127.82H26.6M22.74 126.31H20.32V130.83H26.6M20.32 128.57H18.33V133.84H26.6M16.11 113.14H15.44V131.2H18.33M26.6 139.86H22.29V142.87H26.6M26.6 136.85H19.03V141.37H22.29M15.44 122.17H14.65V139.11H19.03M18.43 95.07H13.97V130.64H14.65M26.6 148.89H22.64V151.91H26.6M26.6 145.88H19.67V150.4H22.64M26.6 154.92H23.06V157.93H26.6M19.67 148.14H19V156.42H23.06M26.6 160.94H21.53V163.95H26.6M21.53 162.44H20.74V166.96H26.6M20.74 164.7H17.92V169.97H26.6M19 152.28H17.24V167.34H17.92M26.6 172.98H21.39V175.99H26.6M17.24 159.81H14.63V174.49H21.39M13.97 112.86H12.45V167.15H14.63M12.95 71.03H9.7V140H12.45" fill="none" stroke="#4a4a4a" stroke-width="0.45"/>
<text x="177.8" y="44.66" font-size="3.25" fill="#111" stroke="#111" stroke-width="0.08">B7-H3</text>
<text x="177.8" y="47.67" font-size="3.25" fill="#111" stroke="#111" stroke-width="0.08">Apoptosis</text>
<text x="177.8" y="50.68" font-size="3.25" fill="#111" stroke="#111" stroke-width="0.08">TGF-beta</text>
<text x="177.8" y="53.69" font-size="3.25" fill="#111" stroke="#111" stroke-width="0.08">MMR.loss</text>
<text x="177.8" y="56.7" font-size="3.25" fill="#111" stroke="#111" stroke-width="0.08">APM.loss</text>
<text x="177.8" y="59.71" font-size="3.25" fill="#111" stroke="#111" stroke-width="0.08">Mast cells</text>
<text x="177.8" y="62.72" font-size="3.25" fill="#111" stroke="#111" stroke-width="0.08">PD1</text>
<text x="177.8" y="65.73" font-size="3.25" fill="#111" stroke="#111" stroke-width="0.08">CTLA4</text>
<text x="177.8" y="68.74" font-size="3.25" fill="#111" stroke="#111" stroke-width="0.08">Treg</text>
<text x="177.8" y="71.76" font-size="3.25" fill="#111" stroke="#111" stroke-width="0.08">B cells</text>
<text x="177.8" y="74.77" font-size="3.25" fill="#111" stroke="#111" stroke-width="0.08">Th1 cells</text>
<text x="177.8" y="77.78" font-size="3.25" fill="#111" stroke="#111" stroke-width="0.08">Cytotoxicity</text>
<text x="177.8" y="80.79" font-size="3.25" fill="#111" stroke="#111" stroke-width="0.08">Cytotoxic cells</text>
<text x="177.8" y="83.8" font-size="3.25" fill="#111" stroke="#111" stroke-width="0.08">NK CD56dim cells</text>
<text x="177.8" y="86.81" font-size="3.25" fill="#111" stroke="#111" stroke-width="0.08">Exhausted CD8</text>
<text x="177.8" y="89.82" font-size="3.25" fill="#111" stroke="#111" stroke-width="0.08">TIGIT</text>
<text x="177.8" y="92.83" font-size="3.25" fill="#111" stroke="#111" stroke-width="0.08">T cells</text>
<text x="177.8" y="95.84" font-size="3.25" fill="#111" stroke="#111" stroke-width="0.08">Lymphoid cells</text>
<text x="177.8" y="98.86" font-size="3.25" fill="#111" stroke="#111" stroke-width="0.08">CD8 T cells</text>
<text x="177.8" y="101.87" font-size="3.25" fill="#111" stroke="#111" stroke-width="0.08">NK cells</text>
<text x="177.8" y="104.88" font-size="3.25" fill="#111" stroke="#111" stroke-width="0.08">Stroma</text>
<text x="177.8" y="107.89" font-size="3.25" fill="#111" stroke="#111" stroke-width="0.08">Endothelial cells</text>
<text x="177.8" y="110.9" font-size="3.25" fill="#111" stroke="#111" stroke-width="0.08">Inflammatory chemokines</text>
<text x="177.8" y="113.91" font-size="3.25" fill="#111" stroke="#111" stroke-width="0.08">MHC2</text>
<text x="177.8" y="116.92" font-size="3.25" fill="#111" stroke="#111" stroke-width="0.08">Immunoproteasome</text>
<text x="177.8" y="119.93" font-size="3.25" fill="#111" stroke="#111" stroke-width="0.08">APM</text>
<text x="177.8" y="122.94" font-size="3.25" fill="#111" stroke="#111" stroke-width="0.08">CD45</text>
<text x="177.8" y="125.96" font-size="3.25" fill="#111" stroke="#111" stroke-width="0.08">Macrophages</text>
<text x="177.8" y="128.97" font-size="3.25" fill="#111" stroke="#111" stroke-width="0.08">Myeloid cells</text>
<text x="177.8" y="131.98" font-size="3.25" fill="#111" stroke="#111" stroke-width="0.08">Neutrophils</text>
<text x="177.8" y="134.99" font-size="3.25" fill="#111" stroke="#111" stroke-width="0.08">IL10</text>
<text x="177.8" y="138" font-size="3.25" fill="#111" stroke="#111" stroke-width="0.08">PDL1</text>
<text x="177.8" y="141.01" font-size="3.25" fill="#111" stroke="#111" stroke-width="0.08">PDL2</text>
<text x="177.8" y="144.02" font-size="3.25" fill="#111" stroke="#111" stroke-width="0.08">TIS</text>
<text x="177.8" y="147.03" font-size="3.25" fill="#111" stroke="#111" stroke-width="0.08">IFN downstream</text>
<text x="177.8" y="150.04" font-size="3.25" fill="#111" stroke="#111" stroke-width="0.08">IFN-gamma</text>
<text x="177.8" y="153.06" font-size="3.25" fill="#111" stroke="#111" stroke-width="0.08">DC</text>
<text x="177.8" y="156.07" font-size="3.25" fill="#111" stroke="#111" stroke-width="0.08">IDO1</text>
<text x="177.8" y="159.08" font-size="3.25" fill="#111" stroke="#111" stroke-width="0.08">Glycolytic activity</text>
<text x="177.8" y="162.09" font-size="3.25" fill="#111" stroke="#111" stroke-width="0.08">Hypoxia</text>
<text x="177.8" y="165.1" font-size="3.25" fill="#111" stroke="#111" stroke-width="0.08">Myeloid inflammation</text>
<text x="177.8" y="168.11" font-size="3.25" fill="#111" stroke="#111" stroke-width="0.08">ARG1</text>
<text x="177.8" y="171.12" font-size="3.25" fill="#111" stroke="#111" stroke-width="0.08">Proliferation</text>
<text x="177.8" y="174.13" font-size="3.25" fill="#111" stroke="#111" stroke-width="0.08">MAGEs</text>
<text x="177.8" y="177.14" font-size="3.25" fill="#111" stroke="#111" stroke-width="0.08">NOS2</text>
<text x="0" y="0" font-size="4.6" font-weight="bold" fill="#111" transform="translate(177.8 41.6) scale(0.94 1)" stroke="#111" stroke-width="0.11">Molecular lesion</text>
<defs><linearGradient id="cb" x1="0" y1="0" x2="0" y2="1">
<stop offset="0" stop-color="#a50f26"/>
<stop offset="0.15" stop-color="#a7142a"/>
<stop offset="0.23" stop-color="#a8162c"/>
<stop offset="0.29" stop-color="#b83838"/>
<stop offset="0.34" stop-color="#c95a45"/>
<stop offset="0.39" stop-color="#d6755a"/>
<stop offset="0.44" stop-color="#e4906e"/>
<stop offset="0.49" stop-color="#edb094"/>
<stop offset="0.54" stop-color="#f5ceb9"/>
<stop offset="0.59" stop-color="#f9e5db"/>
<stop offset="0.64" stop-color="#f7f6f5"/>
<stop offset="0.69" stop-color="#d9e6f1"/>
<stop offset="0.74" stop-color="#b1cee6"/>
<stop offset="0.78" stop-color="#82aed6"/>
<stop offset="0.83" stop-color="#4a84c0"/>
<stop offset="0.88" stop-color="#3a6fb2"/>
<stop offset="0.93" stop-color="#2a5aa5"/>
<stop offset="1" stop-color="#2a5aa5"/>
</linearGradient></defs>
<rect x="218.1" y="38" width="2.9" height="44.2" fill="url(#cb)"/>
<text x="223.5" y="41.3" font-size="4.8" fill="#222" stroke="#222" stroke-width="0.12">6</text>
<text x="223.5" y="50.1" font-size="4.8" fill="#222" stroke="#222" stroke-width="0.12">4</text>
<text x="223.5" y="58.9" font-size="4.8" fill="#222" stroke="#222" stroke-width="0.12">2</text>
<text x="223.5" y="67.7" font-size="4.8" fill="#222" stroke="#222" stroke-width="0.12">0</text>
<text x="223.5" y="76.5" font-size="4.8" fill="#222" stroke="#222" stroke-width="0.12">−2</text>
<text x="0" y="0" font-size="4.6" font-weight="bold" fill="#111" transform="translate(231.9 41.6) scale(0.95 1)" stroke="#111" stroke-width="0.11">Molecular lesion</text>
<rect x="231.9" y="42.2" width="5" height="5.1" fill="#67ac3f"/>
<text x="240" y="46.2" font-size="4.4" fill="#333" stroke="#333" stroke-width="0.11">FLT3-ITD</text>
<rect x="231.9" y="47.25" width="5" height="5.1" fill="#8c7fc7"/>
<text x="240" y="51.25" font-size="4.4" fill="#333" stroke="#333" stroke-width="0.11">NPM1+FLT3-ITDneg</text>
<rect x="231.9" y="52.3" width="5" height="5.1" fill="#e28a1c"/>
<text x="240" y="56.3" font-size="4.4" fill="#333" stroke="#333" stroke-width="0.11">Other</text>
<rect x="231.9" y="57.35" width="5" height="5.1" fill="#f2c014"/>
<text x="240" y="61.35" font-size="4.4" fill="#333" stroke="#333" stroke-width="0.11">RUNX1</text>
<rect x="231.9" y="62.4" width="5" height="5.1" fill="#21407f"/>
<text x="240" y="66.4" font-size="4.4" fill="#333" stroke="#333" stroke-width="0.11">TP53</text>
<path d="M27.3 177.8V180.3H119.5V177.8M73.4 180.3V182.3" fill="none" stroke="#3d5f9e" stroke-width="0.7"/>
<path d="M122 177.8V180.3H174.5V177.8M148.2 180.3V182.3" fill="none" stroke="#3d5f9e" stroke-width="0.7"/>
<text x="73.4" y="189.4" font-size="5" text-anchor="middle" fill="#222" stroke="#222" stroke-width="0.12">Immune-infiltrated</text>
<text x="73.4" y="195.6" font-size="5.1" text-anchor="middle" fill="#222" stroke="#222" stroke-width="0.12">(n=14 with <tspan font-style="italic">TP53</tspan>-mut.)</text>
<text x="145.7" y="189.4" font-size="5" text-anchor="middle" fill="#222" stroke="#222" stroke-width="0.12">Immune-depleted</text>
<text x="145.7" y="195.6" font-size="5.1" text-anchor="middle" fill="#222" stroke="#222" stroke-width="0.12">(n=0 with <tspan font-style="italic">TP53</tspan> mut.)</text>
<text x="6.8" y="16.8" font-size="11.3" font-weight="bold" fill="#111" stroke="#111" stroke-width="0.27">A</text>
<text x="294.8" y="17.3" font-size="11.3" font-weight="bold" fill="#111" stroke="#111" stroke-width="0.27">B</text>
<text x="6.8" y="222.5" font-size="11.3" font-weight="bold" fill="#111" stroke="#111" stroke-width="0.27">C</text>
<text x="294.8" y="223" font-size="11.3" font-weight="bold" fill="#111" stroke="#111" stroke-width="0.27">D</text>
<text x="6.8" y="470.2" font-size="11.3" font-weight="bold" fill="#111" stroke="#111" stroke-width="0.27">E</text>
<rect x="323.8" y="52.7" width="71.6" height="90.1" fill="none" stroke="#2b2b2b" stroke-width="1.35"/>
<line x1="321.2" y1="133.3" x2="324.1" y2="133.3" stroke="#2b2b2b" stroke-width="1.1"/>
<text x="0" y="0" font-size="7.5" text-anchor="end" fill="#3a3a3a" transform="translate(318.1 135.96) scale(1.1 1)" stroke="#3a3a3a" stroke-width="0.18">0</text>
<line x1="321.2" y1="113.15" x2="324.1" y2="113.15" stroke="#2b2b2b" stroke-width="1.1"/>
<text x="0" y="0" font-size="7.5" text-anchor="end" fill="#3a3a3a" transform="translate(318.1 115.81) scale(1.1 1)" stroke="#3a3a3a" stroke-width="0.18">10</text>
<line x1="321.2" y1="93" x2="324.1" y2="93" stroke="#2b2b2b" stroke-width="1.1"/>
<text x="0" y="0" font-size="7.5" text-anchor="end" fill="#3a3a3a" transform="translate(318.1 95.66) scale(1.1 1)" stroke="#3a3a3a" stroke-width="0.18">20</text>
<line x1="321.2" y1="72.85" x2="324.1" y2="72.85" stroke="#2b2b2b" stroke-width="1.1"/>
<text x="0" y="0" font-size="7.5" text-anchor="end" fill="#3a3a3a" transform="translate(318.1 75.51) scale(1.1 1)" stroke="#3a3a3a" stroke-width="0.18">30</text>
<line x1="321.2" y1="52.7" x2="324.1" y2="52.7" stroke="#2b2b2b" stroke-width="1.1"/>
<text x="0" y="0" font-size="7.5" text-anchor="end" fill="#3a3a3a" transform="translate(318.1 55.36) scale(1.1 1)" stroke="#3a3a3a" stroke-width="0.18">40</text>
<line x1="324.5" y1="133.3" x2="394.8" y2="133.3" stroke="#222" stroke-width="0.7" stroke-dasharray="1.2 1.3"/>
<line x1="344.2" y1="142.8" x2="344.2" y2="145.4" stroke="#2b2b2b" stroke-width="0.9"/>
<line x1="374.6" y1="142.8" x2="374.6" y2="145.4" stroke="#2b2b2b" stroke-width="0.9"/>
<text x="0" y="0" font-size="8.8" text-anchor="middle" fill="#222" transform="translate(302.77 97) rotate(-90) scale(0.76 1)" stroke="#222" stroke-width="0.22">Number of mutations</text>
<text x="329.3" y="62.3" font-size="6.2" fill="#222" stroke="#222" stroke-width="0.15"><tspan font-style="italic">P</tspan> &lt; 0.0001</text>
<text x="344.2" y="156.3" font-size="7.8" text-anchor="middle" fill="#222" stroke="#222" stroke-width="0.19"><tspan font-style="italic">TP53</tspan>-mut.</text>
<text x="378.3" y="156.3" font-size="7.8" text-anchor="middle" fill="#222" stroke="#222" stroke-width="0.19"><tspan font-style="italic">TP53</tspan> wt</text>
<path d="M344.2 87.96C344.3 88.8 344.3 91.82 344.8 93C345.3 94.18 346.05 94.18 347.2 95.02C348.35 95.85 350.58 97.03 351.7 98.04C352.82 99.05 353.73 100.05 353.9 101.06C354.07 102.07 353.48 102.91 352.7 104.08C351.92 105.26 349.95 106.94 349.2 108.11C348.45 109.29 348.12 109.96 348.2 111.14C348.28 112.31 349.7 113.99 349.7 115.17C349.7 116.34 348.87 116.84 348.2 118.19C347.53 119.53 345.95 121.71 345.7 123.23C345.45 124.74 346.62 126.08 346.7 127.26C346.78 128.43 346.45 129.27 346.2 130.28C345.95 131.28 345.45 132.12 345.2 133.3C344.95 134.48 344.87 136.05 344.7 137.33C344.53 138.61 344.28 140.35 344.2 140.96L344.2 140.96C344.12 140.35 343.87 138.61 343.7 137.33C343.53 136.05 343.45 134.48 343.2 133.3C342.95 132.12 342.45 131.28 342.2 130.28C341.95 129.27 341.62 128.43 341.7 127.26C341.78 126.08 342.95 124.74 342.7 123.23C342.45 121.71 340.87 119.53 340.2 118.19C339.53 116.84 338.7 116.34 338.7 115.17C338.7 113.99 340.12 112.31 340.2 111.14C340.28 109.96 339.95 109.29 339.2 108.11C338.45 106.94 336.48 105.26 335.7 104.08C334.92 102.91 334.33 102.07 334.5 101.06C334.67 100.05 335.58 99.05 336.7 98.04C337.82 97.03 340.05 95.85 341.2 95.02C342.35 94.18 343.1 94.18 343.6 93C344.1 91.82 344.1 88.8 344.2 87.96Z" fill="#fff" stroke="#222" stroke-width="0.6" stroke-linejoin="round"/>
<g fill="#ae0c1a" stroke="#1a1a1a" stroke-width="0.4"><circle cx="335.5" cy="99.05" r="1.35"/><circle cx="353" cy="101.06" r="1.35"/><circle cx="335.5" cy="103.08" r="1.35"/><circle cx="339.8" cy="101.06" r="1.35"/><circle cx="344.2" cy="103.08" r="1.35"/><circle cx="348.6" cy="103.08" r="1.35"/><circle cx="339.8" cy="105.09" r="1.35"/><circle cx="344.2" cy="107.11" r="1.35"/><circle cx="348.6" cy="107.11" r="1.35"/><circle cx="339.8" cy="115.17" r="1.35"/><circle cx="344.2" cy="115.17" r="1.35"/><circle cx="348.6" cy="117.18" r="1.35"/><circle cx="344.2" cy="127.26" r="1.35"/><circle cx="344.2" cy="131.29" r="1.35"/></g>
<path d="M374.6 57.74C374.75 58.91 375.4 62.27 375.5 64.79C375.6 67.31 375.2 70.16 375.2 72.85C375.2 75.54 375.45 78.56 375.5 80.91C375.55 83.26 375.48 85.61 375.5 86.96C375.52 88.3 375.18 87.96 375.6 88.97C376.02 89.98 377.05 91.42 378 93C378.95 94.58 380.3 96.63 381.3 98.44C382.3 100.25 383.43 102.2 384 103.88C384.57 105.56 384.68 107.14 384.7 108.52C384.72 109.89 384.23 110.7 384.1 112.14C383.97 113.59 383.95 115.33 383.9 117.18C383.85 119.03 383.87 121.55 383.8 123.23C383.73 124.9 383.92 126 383.5 127.26C383.08 128.51 382.22 129.52 381.3 130.78C380.38 132.04 378.95 133.55 378 134.81C377.05 136.07 376.17 137.41 375.6 138.34C375.03 139.26 374.77 140.02 374.6 140.35L374.6 140.35C374.43 140.02 374.17 139.26 373.6 138.34C373.03 137.41 372.15 136.07 371.2 134.81C370.25 133.55 368.82 132.04 367.9 130.78C366.98 129.52 366.12 128.51 365.7 127.26C365.28 126 365.47 124.9 365.4 123.23C365.33 121.55 365.35 119.03 365.3 117.18C365.25 115.33 365.23 113.59 365.1 112.14C364.97 110.7 364.48 109.89 364.5 108.52C364.52 107.14 364.63 105.56 365.2 103.88C365.77 102.2 366.9 100.25 367.9 98.44C368.9 96.63 370.25 94.58 371.2 93C372.15 91.42 373.18 89.98 373.6 88.97C374.02 87.96 373.68 88.3 373.7 86.96C373.72 85.61 373.65 83.26 373.7 80.91C373.75 78.56 374 75.54 374 72.85C374 70.16 373.6 67.31 373.7 64.79C373.8 62.27 374.45 58.91 374.6 57.74Z" fill="#fff" stroke="#222" stroke-width="0.6" stroke-linejoin="round"/>
<g fill="#3f88d0" stroke="#0a0a0a" stroke-width="0.6"><circle cx="374.67" cy="91.06" r="1"/><circle cx="374.58" cy="92.93" r="1"/><circle cx="373.55" cy="94.99" r="1"/><circle cx="375.71" cy="94.96" r="1"/><circle cx="373.55" cy="97.06" r="1"/><circle cx="375.73" cy="97.03" r="1"/><circle cx="372.46" cy="99.12" r="1"/><circle cx="374.62" cy="98.97" r="1"/><circle cx="376.78" cy="99.19" r="1"/><circle cx="372.56" cy="101.18" r="1"/><circle cx="374.56" cy="101.13" r="1"/><circle cx="376.78" cy="101.12" r="1"/><circle cx="371.44" cy="102.96" r="1"/><circle cx="373.54" cy="103.11" r="1"/><circle cx="375.73" cy="103.21" r="1"/><circle cx="377.75" cy="103.18" r="1"/><circle cx="370.35" cy="105.18" r="1"/><circle cx="372.51" cy="104.94" r="1"/><circle cx="374.64" cy="105.06" r="1"/><circle cx="376.76" cy="105.14" r="1"/><circle cx="378.7" cy="105.09" r="1"/><circle cx="368.37" cy="107.03" r="1"/><circle cx="370.37" cy="107.22" r="1"/><circle cx="372.44" cy="107.13" r="1"/><circle cx="374.55" cy="107.25" r="1"/><circle cx="376.76" cy="107.09" r="1"/><circle cx="378.72" cy="107.05" r="1"/><circle cx="380.9" cy="107.23" r="1"/><circle cx="365.07" cy="109.14" r="1"/><circle cx="367.29" cy="109.13" r="1"/><circle cx="369.41" cy="109.13" r="1"/><circle cx="371.54" cy="109.15" r="1"/><circle cx="373.57" cy="109.1" r="1"/><circle cx="375.67" cy="109.09" r="1"/><circle cx="377.77" cy="109.06" r="1"/><circle cx="379.79" cy="109.03" r="1"/><circle cx="381.97" cy="109.17" r="1"/><circle cx="384.05" cy="109" r="1"/><circle cx="369.4" cy="111.25" r="1"/><circle cx="371.53" cy="111.24" r="1"/><circle cx="373.63" cy="111.26" r="1"/><circle cx="375.66" cy="111.1" r="1"/><circle cx="377.79" cy="111.07" r="1"/><circle cx="379.91" cy="111.24" r="1"/><circle cx="370.48" cy="113.18" r="1"/><circle cx="372.59" cy="113.17" r="1"/><circle cx="374.59" cy="113.2" r="1"/><circle cx="376.8" cy="113.28" r="1"/><circle cx="378.86" cy="113.02" r="1"/><circle cx="370.42" cy="115.16" r="1"/><circle cx="372.53" cy="115.27" r="1"/><circle cx="374.55" cy="115.23" r="1"/><circle cx="376.62" cy="115.08" r="1"/><circle cx="378.86" cy="115.11" r="1"/><circle cx="370.46" cy="117.06" r="1"/><circle cx="372.43" cy="117.24" r="1"/><circle cx="374.51" cy="117.2" r="1"/><circle cx="376.78" cy="117.19" r="1"/><circle cx="378.84" cy="117.04" r="1"/><circle cx="370.43" cy="119.23" r="1"/><circle cx="372.52" cy="119.16" r="1"/><circle cx="374.57" cy="119.34" r="1"/><circle cx="376.61" cy="119.05" r="1"/><circle cx="378.89" cy="119.1" r="1"/><circle cx="370.32" cy="121.12" r="1"/><circle cx="372.56" cy="121.34" r="1"/><circle cx="374.5" cy="121.19" r="1"/><circle cx="376.62" cy="121.14" r="1"/><circle cx="378.74" cy="121.25" r="1"/><circle cx="370.37" cy="123.13" r="1"/><circle cx="372.5" cy="123.09" r="1"/><circle cx="374.52" cy="123.37" r="1"/><circle cx="376.64" cy="123.18" r="1"/><circle cx="378.85" cy="123.33" r="1"/><circle cx="370.48" cy="125.14" r="1"/><circle cx="372.53" cy="125.38" r="1"/><circle cx="374.51" cy="125.29" r="1"/><circle cx="376.77" cy="125.19" r="1"/><circle cx="378.75" cy="125.27" r="1"/><circle cx="371.44" cy="127.16" r="1"/><circle cx="373.54" cy="127.23" r="1"/><circle cx="375.66" cy="127.26" r="1"/><circle cx="377.71" cy="127.21" r="1"/><circle cx="371.52" cy="129.2" r="1"/><circle cx="373.56" cy="129.12" r="1"/><circle cx="375.7" cy="129.22" r="1"/><circle cx="377.66" cy="129.2" r="1"/><circle cx="371.4" cy="131.42" r="1"/><circle cx="373.52" cy="131.22" r="1"/><circle cx="375.62" cy="131.42" r="1"/><circle cx="377.78" cy="131.32" r="1"/><circle cx="372.54" cy="133.27" r="1"/><circle cx="374.58" cy="133.35" r="1"/><circle cx="376.6" cy="133.21" r="1"/></g>
<g fill="#3f88d0" stroke="#0a0a0a" stroke-width="0.6"><circle cx="374.6" cy="64.79" r="1"/><circle cx="374.6" cy="80.91" r="1"/><circle cx="374.6" cy="86.96" r="1"/><circle cx="374.6" cy="88.97" r="1"/></g>
<line x1="364.5" y1="111.34" x2="384.7" y2="111.34" stroke="#fff" stroke-width="1"/>
<rect x="437.5" y="52.7" width="71.9" height="90.2" fill="none" stroke="#2b2b2b" stroke-width="1.35"/>
<line x1="434.9" y1="142.9" x2="437.8" y2="142.9" stroke="#2b2b2b" stroke-width="1.1"/>
<text x="0" y="0" font-size="7.5" text-anchor="end" fill="#3a3a3a" transform="translate(431.6 145.56) scale(1.1 1)" stroke="#3a3a3a" stroke-width="0.18">-0.2</text>
<line x1="434.9" y1="120.35" x2="437.8" y2="120.35" stroke="#2b2b2b" stroke-width="1.1"/>
<text x="0" y="0" font-size="7.5" text-anchor="end" fill="#3a3a3a" transform="translate(431.6 123.01) scale(1.1 1)" stroke="#3a3a3a" stroke-width="0.18">0.0</text>
<line x1="434.9" y1="97.8" x2="437.8" y2="97.8" stroke="#2b2b2b" stroke-width="1.1"/>
<text x="0" y="0" font-size="7.5" text-anchor="end" fill="#3a3a3a" transform="translate(431.6 100.46) scale(1.1 1)" stroke="#3a3a3a" stroke-width="0.18">0.2</text>
<line x1="434.9" y1="75.25" x2="437.8" y2="75.25" stroke="#2b2b2b" stroke-width="1.1"/>
<text x="0" y="0" font-size="7.5" text-anchor="end" fill="#3a3a3a" transform="translate(431.6 77.91) scale(1.1 1)" stroke="#3a3a3a" stroke-width="0.18">0.4</text>
<line x1="434.9" y1="52.7" x2="437.8" y2="52.7" stroke="#2b2b2b" stroke-width="1.1"/>
<text x="0" y="0" font-size="7.5" text-anchor="end" fill="#3a3a3a" transform="translate(431.6 55.36) scale(1.1 1)" stroke="#3a3a3a" stroke-width="0.18">0.6</text>
<line x1="438.2" y1="120.35" x2="508.8" y2="120.35" stroke="#222" stroke-width="0.7" stroke-dasharray="1.2 1.3"/>
<line x1="457.9" y1="142.9" x2="457.9" y2="145.5" stroke="#2b2b2b" stroke-width="0.9"/>
<line x1="488.4" y1="142.9" x2="488.4" y2="145.5" stroke="#2b2b2b" stroke-width="0.9"/>
<text x="0" y="0" font-size="8.8" text-anchor="middle" fill="#222" transform="translate(411.29 98) rotate(-90) scale(0.76 1)" stroke="#222" stroke-width="0.22">Fraction of genome altered</text>
<text x="473.2" y="62.3" font-size="6.2" fill="#222" stroke="#222" stroke-width="0.15"><tspan font-style="italic">P</tspan> &lt; 0.0001</text>
<text x="458.3" y="156.3" font-size="7.8" text-anchor="middle" fill="#222" stroke="#222" stroke-width="0.19"><tspan font-style="italic">TP53</tspan>-mut.</text>
<text x="488.1" y="156.3" font-size="7.8" text-anchor="middle" fill="#222" stroke="#222" stroke-width="0.19">Other</text>
<path d="M457.9 63.3C458.07 64.39 458.53 68.22 458.9 69.84C459.27 71.45 460.07 71.91 460.1 73C460.13 74.08 459.35 75.29 459.1 76.38C458.85 77.47 458.68 77.28 458.6 79.53C458.52 81.79 458.38 87.95 458.6 89.91C458.82 91.86 459.02 90.6 459.9 91.26C460.78 91.92 462.65 92.76 463.9 93.85C465.15 94.94 467.32 96.5 467.4 97.8C467.48 99.1 465.15 100.13 464.4 101.63C463.65 103.14 463.38 105.09 462.9 106.82C462.42 108.55 461.83 110.28 461.5 112.01C461.17 113.74 461.08 115.67 460.9 117.19C460.72 118.72 460.73 120.05 460.4 121.14C460.07 122.23 459.32 122.23 458.9 123.73C458.48 125.24 458.07 129.09 457.9 130.16L457.9 130.16C457.73 129.09 457.32 125.24 456.9 123.73C456.48 122.23 455.73 122.23 455.4 121.14C455.07 120.05 455.08 118.72 454.9 117.19C454.72 115.67 454.63 113.74 454.3 112.01C453.97 110.28 453.38 108.55 452.9 106.82C452.42 105.09 452.15 103.14 451.4 101.63C450.65 100.13 448.32 99.1 448.4 97.8C448.48 96.5 450.65 94.94 451.9 93.85C453.15 92.76 455.02 91.92 455.9 91.26C456.78 90.6 456.98 91.86 457.2 89.91C457.42 87.95 457.28 81.79 457.2 79.53C457.12 77.28 456.95 77.47 456.7 76.38C456.45 75.29 455.67 74.08 455.7 73C455.73 71.91 456.53 71.45 456.9 69.84C457.27 68.22 457.73 64.39 457.9 63.3Z" fill="#fff" stroke="#222" stroke-width="0.6" stroke-linejoin="round"/>
<g fill="#ae0c1a" stroke="#1a1a1a" stroke-width="0.4"><circle cx="457.95" cy="74.04" r="1.35"/><circle cx="449.1" cy="97.71" r="1.35"/><circle cx="453.39" cy="97.06" r="1.35"/><circle cx="457.95" cy="96.8" r="1.35"/><circle cx="462.37" cy="98.36" r="1.35"/><circle cx="466.66" cy="97.71" r="1.35"/><circle cx="457.95" cy="100.31" r="1.35"/><circle cx="453.39" cy="107.07" r="1.35"/><circle cx="457.95" cy="105.77" r="1.35"/><circle cx="462.37" cy="106.16" r="1.35"/><circle cx="457.95" cy="110.07" r="1.35"/><circle cx="457.95" cy="112.67" r="1.35"/><circle cx="460.16" cy="117.22" r="1.35"/><circle cx="455.6" cy="119.56" r="1.35"/></g>
<path d="M488.4 101.41C488.53 101.93 489 102.54 489.2 104.56C489.4 106.59 489.43 111.89 489.6 113.58C489.77 115.28 490.13 114.24 490.2 114.71C490.27 115.18 490.1 115.75 490 116.4C489.9 117.06 488.87 118.15 489.6 118.66C490.33 119.17 492.85 119.17 494.4 119.45C495.95 119.73 498.9 120.09 498.9 120.35C498.9 120.61 496.15 120.8 494.4 121.03C492.65 121.25 489.4 121.59 488.4 121.7L488.4 121.7C487.4 121.59 484.15 121.25 482.4 121.03C480.65 120.8 477.9 120.61 477.9 120.35C477.9 120.09 480.85 119.73 482.4 119.45C483.95 119.17 486.47 119.17 487.2 118.66C487.93 118.15 486.9 117.06 486.8 116.4C486.7 115.75 486.53 115.18 486.6 114.71C486.67 114.24 487.03 115.28 487.2 113.58C487.37 111.89 487.4 106.59 487.6 104.56C487.8 102.54 488.27 101.93 488.4 101.41Z" fill="#fff" stroke="#222" stroke-width="0.5" stroke-linejoin="round"/>
<g fill="#4a90d2" stroke="#1a1a1a" stroke-width="0.4"><circle cx="488.37" cy="102.26" r="1"/><circle cx="488.37" cy="104.86" r="1"/><circle cx="488.37" cy="107.46" r="1"/><circle cx="488.37" cy="110.07" r="1"/><circle cx="488.37" cy="112.67" r="1"/><circle cx="488.37" cy="114.62" r="1"/><circle cx="488.37" cy="117.22" r="1"/><circle cx="478.75" cy="120.08" r="1"/><circle cx="480.18" cy="120.08" r="1"/><circle cx="481.61" cy="120.08" r="1"/><circle cx="483.04" cy="120.08" r="1"/><circle cx="484.47" cy="120.08" r="1"/><circle cx="485.9" cy="120.08" r="1"/><circle cx="487.33" cy="120.08" r="1"/><circle cx="488.76" cy="120.08" r="1"/><circle cx="490.2" cy="120.08" r="1"/><circle cx="491.63" cy="120.08" r="1"/><circle cx="493.06" cy="120.08" r="1"/><circle cx="494.49" cy="120.08" r="1"/><circle cx="495.92" cy="120.08" r="1"/><circle cx="497.35" cy="120.08" r="1"/></g>
<rect x="29.9" y="231.5" width="98.8" height="58.1" fill="none" stroke="#2b2b2b" stroke-width="1.35"/>
<line x1="26.9" y1="289.6" x2="30.2" y2="289.6" stroke="#2b2b2b" stroke-width="1"/>
<text x="0" y="0" font-size="4.6" text-anchor="end" fill="#3a3a3a" transform="translate(23.9 291.23) scale(1.15 1)" stroke="#3a3a3a" stroke-width="0.11">1</text>
<line x1="26.9" y1="275.08" x2="30.2" y2="275.08" stroke="#2b2b2b" stroke-width="1"/>
<text x="0" y="0" font-size="4.6" text-anchor="end" fill="#3a3a3a" transform="translate(23.9 276.71) scale(1.15 1)" stroke="#3a3a3a" stroke-width="0.11">3</text>
<line x1="26.9" y1="260.55" x2="30.2" y2="260.55" stroke="#2b2b2b" stroke-width="1"/>
<text x="0" y="0" font-size="4.6" text-anchor="end" fill="#3a3a3a" transform="translate(23.9 262.18) scale(1.15 1)" stroke="#3a3a3a" stroke-width="0.11">5</text>
<line x1="26.9" y1="246.03" x2="30.2" y2="246.03" stroke="#2b2b2b" stroke-width="1"/>
<text x="0" y="0" font-size="4.6" text-anchor="end" fill="#3a3a3a" transform="translate(23.9 247.66) scale(1.15 1)" stroke="#3a3a3a" stroke-width="0.11">7</text>
<line x1="26.9" y1="231.5" x2="30.2" y2="231.5" stroke="#2b2b2b" stroke-width="1"/>
<text x="0" y="0" font-size="4.6" text-anchor="end" fill="#3a3a3a" transform="translate(23.9 233.13) scale(1.15 1)" stroke="#3a3a3a" stroke-width="0.11">9</text>
<line x1="42.4" y1="289.6" x2="42.4" y2="291.9" stroke="#2b2b2b" stroke-width="0.9"/>
<line x1="60.8" y1="289.6" x2="60.8" y2="291.9" stroke="#2b2b2b" stroke-width="0.9"/>
<line x1="79.5" y1="289.6" x2="79.5" y2="291.9" stroke="#2b2b2b" stroke-width="0.9"/>
<line x1="97.6" y1="289.6" x2="97.6" y2="291.9" stroke="#2b2b2b" stroke-width="0.9"/>
<line x1="116.2" y1="289.6" x2="116.2" y2="291.9" stroke="#2b2b2b" stroke-width="0.9"/>
<text x="0" y="0" font-size="8.5" text-anchor="middle" fill="#222" transform="translate(14.66 260.5) rotate(-90) scale(0.74 1)" stroke="#222" stroke-width="0.22">TIS score</text>
<text x="0" y="0" font-size="4.3" fill="#222" transform="translate(33.1 238.7) scale(1.05 1)" stroke="#222" stroke-width="0.1">KW = 53.03</text>
<text x="0" y="0" font-size="4.3" fill="#222" transform="translate(33.1 243.5) scale(1.05 1)" stroke="#222" stroke-width="0.1"><tspan font-style="italic">P</tspan> &lt; 0.0001</text>
<text x="0" y="0" font-size="5.5" text-anchor="end" fill="#1a1a1a" transform="translate(43.7 298.6) rotate(-45)" stroke="#1a1a1a" stroke-width="0.13">Mut.</text>
<text x="0" y="0" font-size="5.5" text-anchor="end" fill="#1a1a1a" transform="translate(47.59 302.49) rotate(-45)" stroke="#1a1a1a" stroke-width="0.13"><tspan font-style="italic">NPM1</tspan></text>
<text x="0" y="0" font-size="5.5" text-anchor="end" fill="#1a1a1a" transform="translate(62.1 298.6) rotate(-45)" stroke="#1a1a1a" stroke-width="0.13">Mut. <tspan font-style="italic">NPM1</tspan></text>
<text x="0" y="0" font-size="5.5" text-anchor="end" fill="#1a1a1a" transform="translate(65.99 302.49) rotate(-45)" stroke="#1a1a1a" stroke-width="0.13">w/o <tspan font-style="italic">FLT3</tspan>-ITD</text>
<text x="0" y="0" font-size="5.5" text-anchor="end" fill="#1a1a1a" transform="translate(80.8 298.6) rotate(-45)" stroke="#1a1a1a" stroke-width="0.13">Mut. <tspan font-style="italic">RUNX1</tspan></text>
<text x="0" y="0" font-size="5.5" text-anchor="end" fill="#1a1a1a" transform="translate(98.9 298.6) rotate(-45)" stroke="#1a1a1a" stroke-width="0.13">CHIP-defining</text>
<text x="0" y="0" font-size="5.5" text-anchor="end" fill="#1a1a1a" transform="translate(102.79 302.49) rotate(-45)" stroke="#1a1a1a" stroke-width="0.13">(<tspan font-style="italic">ASXL1</tspan>,<tspan font-style="italic">TET2</tspan>,</text>
<text x="0" y="0" font-size="5.5" text-anchor="end" fill="#1a1a1a" transform="translate(106.68 306.38) rotate(-45)" stroke="#1a1a1a" stroke-width="0.13"><tspan font-style="italic">DNMT3A</tspan>)</text>
<text x="0" y="0" font-size="5.5" text-anchor="end" fill="#1a1a1a" transform="translate(117.5 298.6) rotate(-45)" stroke="#1a1a1a" stroke-width="0.13">Mut.</text>
<text x="0" y="0" font-size="5.5" text-anchor="end" fill="#1a1a1a" transform="translate(121.39 302.49) rotate(-45)" stroke="#1a1a1a" stroke-width="0.13"><tspan font-style="italic">TP53</tspan></text>
<path d="M42.4 247.84C42.5 248.26 42.77 249.47 43 250.38C43.23 251.29 43.7 252.32 43.8 253.29C43.9 254.26 43.47 255.22 43.6 256.19C43.73 257.16 44.42 258.13 44.6 259.1C44.78 260.07 44.57 261.16 44.7 262C44.83 262.85 44.95 263.21 45.4 264.18C45.85 265.15 46.9 266.6 47.4 267.81C47.9 269.02 48.2 270.23 48.4 271.44C48.6 272.65 48.68 273.99 48.6 275.08C48.52 276.16 48.43 277.01 47.9 277.98C47.37 278.95 46.18 280.04 45.4 280.88C44.62 281.73 43.7 282.46 43.2 283.06C42.7 283.67 42.53 284.27 42.4 284.52L42.4 284.52C42.27 284.27 42.1 283.67 41.6 283.06C41.1 282.46 40.18 281.73 39.4 280.88C38.62 280.04 37.43 278.95 36.9 277.98C36.37 277.01 36.28 276.16 36.2 275.08C36.12 273.99 36.2 272.65 36.4 271.44C36.6 270.23 36.9 269.02 37.4 267.81C37.9 266.6 38.95 265.15 39.4 264.18C39.85 263.21 39.97 262.85 40.1 262C40.23 261.16 40.02 260.07 40.2 259.1C40.38 258.13 41.07 257.16 41.2 256.19C41.33 255.22 40.9 254.26 41 253.29C41.1 252.32 41.57 251.29 41.8 250.38C42.03 249.47 42.3 248.26 42.4 247.84Z" fill="#fff" stroke="#222" stroke-width="0.6" stroke-linejoin="round"/>
<g fill="#4a1a7a" stroke="#050505" stroke-width="0.55"><circle cx="42.4" cy="251.05" r="1.1"/><circle cx="43.8" cy="252.79" r="1.1"/><circle cx="42.4" cy="254.53" r="1.1"/><circle cx="42.4" cy="257.1" r="1.1"/><circle cx="44.5" cy="258.11" r="1.1"/><circle cx="42.4" cy="259.39" r="1.1"/><circle cx="44.5" cy="260.31" r="1.1"/><circle cx="41" cy="261.14" r="1.1"/><circle cx="42.75" cy="262.6" r="1.1"/><circle cx="40.65" cy="263.24" r="1.1"/><circle cx="44.5" cy="263.89" r="1.1"/><circle cx="38.9" cy="264.53" r="1.1"/><circle cx="42.4" cy="265.35" r="1.1"/><circle cx="45.9" cy="265.54" r="1.1"/><circle cx="40.3" cy="266.18" r="1.1"/><circle cx="38.2" cy="266.55" r="1.1"/><circle cx="43.8" cy="267.1" r="1.1"/><circle cx="46.95" cy="267.46" r="1.1"/><circle cx="41.7" cy="267.83" r="1.1"/><circle cx="39.6" cy="268.29" r="1.1"/><circle cx="37.5" cy="268.56" r="1.1"/><circle cx="44.85" cy="268.93" r="1.1"/><circle cx="48" cy="269.3" r="1.1"/><circle cx="42.75" cy="269.66" r="1.1"/><circle cx="40.65" cy="270.3" r="1.1"/><circle cx="46.25" cy="270.67" r="1.1"/><circle cx="38.55" cy="271.04" r="1.1"/><circle cx="44.15" cy="271.4" r="1.1"/><circle cx="48.35" cy="271.77" r="1.1"/><circle cx="42.05" cy="271.95" r="1.1"/><circle cx="36.8" cy="272.32" r="1.1"/><circle cx="39.95" cy="272.6" r="1.1"/><circle cx="45.55" cy="272.96" r="1.1"/><circle cx="43.45" cy="273.51" r="1.1"/><circle cx="38.2" cy="273.97" r="1.1"/><circle cx="41.35" cy="274.16" r="1.1"/><circle cx="46.95" cy="274.52" r="1.1"/><circle cx="36.1" cy="274.8" r="1.1"/><circle cx="44.85" cy="275.16" r="1.1"/><circle cx="49.05" cy="275.35" r="1.1"/><circle cx="42.75" cy="275.71" r="1.1"/><circle cx="40.65" cy="276.17" r="1.1"/><circle cx="38.55" cy="276.36" r="1.1"/><circle cx="46.25" cy="276.72" r="1.1"/><circle cx="36.45" cy="277.18" r="1.1"/><circle cx="44.15" cy="277.36" r="1.1"/><circle cx="42.05" cy="277.82" r="1.1"/><circle cx="39.95" cy="278.19" r="1.1"/><circle cx="47.3" cy="278.56" r="1.1"/><circle cx="37.85" cy="278.92" r="1.1"/><circle cx="45.2" cy="279.2" r="1.1"/><circle cx="43.1" cy="279.75" r="1.1"/><circle cx="41" cy="280.21" r="1.1"/><circle cx="44.5" cy="281.4" r="1.1"/><circle cx="42.4" cy="283.23" r="1.1"/></g>
<path d="M60.8 256.19C61 256.56 61.33 257.65 62 258.37C62.67 259.1 64.25 259.82 64.8 260.55C65.35 261.28 65.3 262 65.3 262.73C65.3 263.45 64.63 264.18 64.8 264.91C64.97 265.63 65.9 266.36 66.3 267.09C66.7 267.81 67.2 268.54 67.2 269.26C67.2 269.99 66.87 270.6 66.3 271.44C65.73 272.29 64.47 273.5 63.8 274.35C63.13 275.2 62.63 275.8 62.3 276.53C61.97 277.25 62.05 277.98 61.8 278.71C61.55 279.43 60.97 280.52 60.8 280.88L60.8 280.88C60.63 280.52 60.05 279.43 59.8 278.71C59.55 277.98 59.63 277.25 59.3 276.53C58.97 275.8 58.47 275.2 57.8 274.35C57.13 273.5 55.87 272.29 55.3 271.44C54.73 270.6 54.4 269.99 54.4 269.26C54.4 268.54 54.9 267.81 55.3 267.09C55.7 266.36 56.63 265.63 56.8 264.91C56.97 264.18 56.3 263.45 56.3 262.73C56.3 262 56.25 261.28 56.8 260.55C57.35 259.82 58.93 259.1 59.6 258.37C60.27 257.65 60.6 256.56 60.8 256.19Z" fill="#fff" stroke="#222" stroke-width="0.6" stroke-linejoin="round"/>
<g fill="#5cb82a" stroke="#050505" stroke-width="0.55"><circle cx="60.8" cy="258.54" r="1.1"/><circle cx="62.55" cy="259.9" r="1.1"/><circle cx="60.45" cy="260.7" r="1.1"/><circle cx="58.35" cy="261.5" r="1.1"/><circle cx="62.2" cy="262.12" r="1.1"/><circle cx="64.3" cy="262.61" r="1.1"/><circle cx="60.45" cy="263.42" r="1.1"/><circle cx="58.35" cy="264.03" r="1.1"/><circle cx="61.85" cy="265.02" r="1.1"/><circle cx="59.75" cy="265.7" r="1.1"/><circle cx="63.95" cy="266.07" r="1.1"/><circle cx="58" cy="266.87" r="1.1"/><circle cx="61.5" cy="267.24" r="1.1"/><circle cx="65.35" cy="267.8" r="1.1"/><circle cx="59.75" cy="268.42" r="1.1"/><circle cx="62.9" cy="268.91" r="1.1"/><circle cx="57.65" cy="269.28" r="1.1"/><circle cx="66.05" cy="269.77" r="1.1"/><circle cx="61.15" cy="270.14" r="1.1"/><circle cx="63.95" cy="270.82" r="1.1"/><circle cx="59.05" cy="271.19" r="1.1"/><circle cx="56.95" cy="271.75" r="1.1"/><circle cx="60.8" cy="272.37" r="1.1"/><circle cx="62.9" cy="272.98" r="1.1"/><circle cx="59.05" cy="273.72" r="1.1"/><circle cx="60.8" cy="275.14" r="1.1"/><circle cx="62.55" cy="276.5" r="1.1"/><circle cx="60.8" cy="278.48" r="1.1"/></g>
<path d="M79.2 245.23C79.55 246.03 80.47 248.55 81.3 250.02C82.13 251.48 83.47 252.86 84.2 254.01C84.93 255.16 85.7 255.83 85.7 256.92C85.7 258.01 84.28 259.58 84.2 260.55C84.12 261.52 85.28 261.8 85.2 262.73C85.12 263.66 84.2 264.99 83.7 266.14C83.2 267.29 82.87 268.48 82.2 269.63C81.53 270.78 80.2 272.28 79.7 273.04C79.2 273.8 79.28 274.01 79.2 274.2L79.2 274.2C79.12 274.01 79.2 273.8 78.7 273.04C78.2 272.28 76.87 270.78 76.2 269.63C75.53 268.48 75.2 267.29 74.7 266.14C74.2 264.99 73.28 263.66 73.2 262.73C73.12 261.8 74.28 261.52 74.2 260.55C74.12 259.58 72.7 258.01 72.7 256.92C72.7 255.83 73.47 255.16 74.2 254.01C74.93 252.86 76.27 251.48 77.1 250.02C77.93 248.55 78.85 246.03 79.2 245.23Z" fill="#fff" stroke="#222" stroke-width="0.6" stroke-linejoin="round"/>
<g fill="#1d3a78" stroke="#050505" stroke-width="0.55"><circle cx="79.2" cy="247.83" r="1.1"/><circle cx="79.2" cy="250.01" r="1.1"/><circle cx="80.95" cy="251.24" r="1.1"/><circle cx="79.2" cy="252.4" r="1.1"/><circle cx="77.1" cy="253.19" r="1.1"/><circle cx="80.95" cy="253.77" r="1.1"/><circle cx="83.05" cy="254.35" r="1.1"/><circle cx="79.2" cy="255.22" r="1.1"/><circle cx="77.1" cy="255.73" r="1.1"/><circle cx="81.3" cy="256.31" r="1.1"/><circle cx="83.4" cy="256.74" r="1.1"/><circle cx="79.2" cy="257.4" r="1.1"/><circle cx="76.05" cy="257.69" r="1.1"/><circle cx="73.95" cy="258.19" r="1.1"/><circle cx="80.95" cy="258.85" r="1.1"/><circle cx="78.85" cy="259.64" r="1.1"/><circle cx="76.75" cy="260.29" r="1.1"/><circle cx="82" cy="260.73" r="1.1"/><circle cx="79.9" cy="261.53" r="1.1"/><circle cx="75.35" cy="261.96" r="1.1"/><circle cx="78.15" cy="262.76" r="1.1"/><circle cx="81.65" cy="263.05" r="1.1"/><circle cx="76.4" cy="263.92" r="1.1"/><circle cx="79.9" cy="264.21" r="1.1"/><circle cx="82.35" cy="265.08" r="1.1"/><circle cx="78.5" cy="265.8" r="1.1"/><circle cx="80.6" cy="266.52" r="1.1"/><circle cx="76.75" cy="266.96" r="1.1"/><circle cx="79.2" cy="268.19" r="1.1"/><circle cx="81.3" cy="269.06" r="1.1"/><circle cx="79.2" cy="270.36" r="1.1"/></g>
<path d="M97.6 252.34C97.85 253.01 98.85 255.09 99.1 256.34C99.35 257.58 98.23 258.86 99.1 259.82C99.97 260.79 103.88 261.39 104.3 262.15C104.72 262.91 102.38 263.33 101.6 264.4C100.82 265.46 100.1 267.24 99.6 268.54C99.1 269.83 98.93 270.96 98.6 272.17C98.27 273.38 97.77 275.2 97.6 275.8L97.6 275.8C97.43 275.2 96.93 273.38 96.6 272.17C96.27 270.96 96.1 269.83 95.6 268.54C95.1 267.24 94.38 265.46 93.6 264.4C92.82 263.33 90.48 262.91 90.9 262.15C91.32 261.39 95.23 260.79 96.1 259.82C96.97 258.86 95.85 257.58 96.1 256.34C96.35 255.09 97.35 253.01 97.6 252.34Z" fill="#fff" stroke="#222" stroke-width="0.6" stroke-linejoin="round"/>
<g fill="#7b72c9" stroke="#050505" stroke-width="0.55"><circle cx="97.6" cy="254.34" r="1.1"/><circle cx="97.6" cy="256.92" r="1.1"/><circle cx="97.6" cy="259.97" r="1.1"/><circle cx="99.7" cy="260.73" r="1.1"/><circle cx="95.5" cy="261.02" r="1.1"/><circle cx="101.8" cy="261.61" r="1.1"/><circle cx="97.6" cy="262.08" r="1.1"/><circle cx="93.75" cy="262.25" r="1.1"/><circle cx="91.65" cy="262.72" r="1.1"/><circle cx="99.7" cy="263.13" r="1.1"/><circle cx="95.85" cy="263.49" r="1.1"/><circle cx="101.8" cy="263.96" r="1.1"/><circle cx="97.95" cy="264.42" r="1.1"/><circle cx="94.45" cy="265.13" r="1.1"/><circle cx="99.7" cy="265.95" r="1.1"/><circle cx="97.6" cy="266.65" r="1.1"/><circle cx="95.5" cy="267.06" r="1.1"/><circle cx="99" cy="268.41" r="1.1"/><circle cx="97.25" cy="269.76" r="1.1"/><circle cx="97.6" cy="273.1" r="1.1"/></g>
<path d="M116.2 242.54C116.28 243.2 116.03 245.58 116.7 246.53C117.37 247.49 119.28 247.79 120.2 248.28C121.12 248.76 121.87 248.76 122.2 249.44C122.53 250.12 122.2 251.28 122.2 252.34C122.2 253.41 122.62 254.97 122.2 255.83C121.78 256.69 119.7 256.93 119.7 257.5C119.7 258.07 121.78 258.37 122.2 259.24C122.62 260.11 122.7 261.66 122.2 262.73C121.7 263.79 120.03 264.77 119.2 265.63C118.37 266.49 117.5 266.92 117.2 267.89C116.9 268.85 117.32 270.39 117.4 271.44C117.48 272.5 117.9 272.98 117.7 274.2C117.5 275.43 116.45 278.02 116.2 278.78L116.2 278.78C115.95 278.02 114.9 275.43 114.7 274.2C114.5 272.98 114.92 272.5 115 271.44C115.08 270.39 115.5 268.85 115.2 267.89C114.9 266.92 114.03 266.49 113.2 265.63C112.37 264.77 110.7 263.79 110.2 262.73C109.7 261.66 109.78 260.11 110.2 259.24C110.62 258.37 112.7 258.07 112.7 257.5C112.7 256.93 110.62 256.69 110.2 255.83C109.78 254.97 110.2 253.41 110.2 252.34C110.2 251.28 109.87 250.12 110.2 249.44C110.53 248.76 111.28 248.76 112.2 248.28C113.12 247.79 115.03 247.49 115.7 246.53C116.37 245.58 116.12 243.2 116.2 242.54Z" fill="#fff" stroke="#222" stroke-width="0.6" stroke-linejoin="round"/>
<g fill="#a9b45a" stroke="#111" stroke-width="0.5"><circle cx="115.82" cy="272.35" r="1.1"/><circle cx="115.81" cy="268.99" r="1.1"/><circle cx="119.68" cy="264.19" r="1.1"/><circle cx="117.54" cy="262.65" r="1.1"/><circle cx="113.63" cy="261.47" r="1.1"/><circle cx="111.48" cy="260.21" r="1.1"/><circle cx="114.13" cy="259.03" r="1.1"/><circle cx="112.54" cy="256.58" r="1.1"/><circle cx="117.98" cy="254.86" r="1.1"/><circle cx="112.33" cy="253.5" r="1.1"/><circle cx="118.3" cy="252.5" r="1.1"/><circle cx="120.73" cy="250.69" r="1.1"/><circle cx="111.71" cy="249.33" r="1.1"/><circle cx="117.06" cy="247.52" r="1.1"/></g>
<rect x="161.4" y="231.5" width="98.5" height="58.2" fill="none" stroke="#2b2b2b" stroke-width="1.35"/>
<line x1="158.4" y1="283.2" x2="161.7" y2="283.2" stroke="#2b2b2b" stroke-width="1"/>
<text x="0" y="0" font-size="4.6" text-anchor="end" fill="#3a3a3a" transform="translate(155.4 284.83) scale(1.15 1)" stroke="#3a3a3a" stroke-width="0.11">0</text>
<line x1="158.4" y1="270.27" x2="161.7" y2="270.27" stroke="#2b2b2b" stroke-width="1"/>
<text x="0" y="0" font-size="4.6" text-anchor="end" fill="#3a3a3a" transform="translate(155.4 271.91) scale(1.15 1)" stroke="#3a3a3a" stroke-width="0.11">2</text>
<line x1="158.4" y1="257.35" x2="161.7" y2="257.35" stroke="#2b2b2b" stroke-width="1"/>
<text x="0" y="0" font-size="4.6" text-anchor="end" fill="#3a3a3a" transform="translate(155.4 258.98) scale(1.15 1)" stroke="#3a3a3a" stroke-width="0.11">4</text>
<line x1="158.4" y1="244.43" x2="161.7" y2="244.43" stroke="#2b2b2b" stroke-width="1"/>
<text x="0" y="0" font-size="4.6" text-anchor="end" fill="#3a3a3a" transform="translate(155.4 246.06) scale(1.15 1)" stroke="#3a3a3a" stroke-width="0.11">6</text>
<line x1="158.4" y1="231.5" x2="161.7" y2="231.5" stroke="#2b2b2b" stroke-width="1"/>
<text x="0" y="0" font-size="4.6" text-anchor="end" fill="#3a3a3a" transform="translate(155.4 233.13) scale(1.15 1)" stroke="#3a3a3a" stroke-width="0.11">8</text>
<line x1="162" y1="283.2" x2="259.3" y2="283.2" stroke="#222" stroke-width="0.7" stroke-dasharray="1.2 1.3"/>
<line x1="173.5" y1="289.7" x2="173.5" y2="292" stroke="#2b2b2b" stroke-width="0.9"/>
<line x1="192.2" y1="289.7" x2="192.2" y2="292" stroke="#2b2b2b" stroke-width="0.9"/>
<line x1="210.4" y1="289.7" x2="210.4" y2="292" stroke="#2b2b2b" stroke-width="0.9"/>
<line x1="229.2" y1="289.7" x2="229.2" y2="292" stroke="#2b2b2b" stroke-width="0.9"/>
<line x1="247.5" y1="289.7" x2="247.5" y2="292" stroke="#2b2b2b" stroke-width="0.9"/>
<text x="0" y="0" font-size="6.6" text-anchor="middle" fill="#222" transform="translate(147.12 260.6) rotate(-90) scale(0.78 1)" stroke="#222" stroke-width="0.22">Inflammatory chemokine score</text>
<text x="0" y="0" font-size="4.3" fill="#222" transform="translate(164.6 238.7) scale(1.05 1)" stroke="#222" stroke-width="0.1">KW = 27.96</text>
<text x="0" y="0" font-size="4.3" fill="#222" transform="translate(164.6 243.5) scale(1.05 1)" stroke="#222" stroke-width="0.1"><tspan font-style="italic">P</tspan> &lt; 0.0001</text>
<text x="0" y="0" font-size="5.5" text-anchor="end" fill="#1a1a1a" transform="translate(174.8 298.7) rotate(-45)" stroke="#1a1a1a" stroke-width="0.13">Mut.</text>
<text x="0" y="0" font-size="5.5" text-anchor="end" fill="#1a1a1a" transform="translate(178.69 302.59) rotate(-45)" stroke="#1a1a1a" stroke-width="0.13"><tspan font-style="italic">NPM1</tspan></text>
<text x="0" y="0" font-size="5.5" text-anchor="end" fill="#1a1a1a" transform="translate(193.5 298.7) rotate(-45)" stroke="#1a1a1a" stroke-width="0.13">Mut. <tspan font-style="italic">NPM1</tspan></text>
<text x="0" y="0" font-size="5.5" text-anchor="end" fill="#1a1a1a" transform="translate(197.39 302.59) rotate(-45)" stroke="#1a1a1a" stroke-width="0.13">w/o <tspan font-style="italic">FLT3</tspan>-ITD</text>
<text x="0" y="0" font-size="5.5" text-anchor="end" fill="#1a1a1a" transform="translate(211.7 298.7) rotate(-45)" stroke="#1a1a1a" stroke-width="0.13">Mut. <tspan font-style="italic">RUNX1</tspan></text>
<text x="0" y="0" font-size="5.5" text-anchor="end" fill="#1a1a1a" transform="translate(230.5 298.7) rotate(-45)" stroke="#1a1a1a" stroke-width="0.13">CHIP-defining</text>
<text x="0" y="0" font-size="5.5" text-anchor="end" fill="#1a1a1a" transform="translate(234.39 302.59) rotate(-45)" stroke="#1a1a1a" stroke-width="0.13">(<tspan font-style="italic">ASXL1</tspan>,<tspan font-style="italic">TET2</tspan>,</text>
<text x="0" y="0" font-size="5.5" text-anchor="end" fill="#1a1a1a" transform="translate(238.28 306.48) rotate(-45)" stroke="#1a1a1a" stroke-width="0.13"><tspan font-style="italic">DNMT3A</tspan>)</text>
<text x="0" y="0" font-size="5.5" text-anchor="end" fill="#1a1a1a" transform="translate(248.8 298.7) rotate(-45)" stroke="#1a1a1a" stroke-width="0.13">Mut.</text>
<text x="0" y="0" font-size="5.5" text-anchor="end" fill="#1a1a1a" transform="translate(252.69 302.59) rotate(-45)" stroke="#1a1a1a" stroke-width="0.13"><tspan font-style="italic">TP53</tspan></text>
<path d="M173.5 253.21C173.67 253.69 174.28 255.24 174.5 256.06C174.72 256.88 174.83 257.37 174.8 258.13C174.77 258.88 174.35 259.82 174.3 260.58C174.25 261.35 173.88 261.98 174.5 262.71C175.12 263.45 177.25 264.03 178 264.98C178.75 265.92 178.75 267.15 179 268.4C179.25 269.65 179.75 271.22 179.5 272.47C179.25 273.72 178.17 274.74 177.5 275.9C176.83 277.05 176.17 278.32 175.5 279.39C174.83 280.45 173.83 281.81 173.5 282.3L173.5 282.3C173.17 281.81 172.17 280.45 171.5 279.39C170.83 278.32 170.17 277.05 169.5 275.9C168.83 274.74 167.75 273.72 167.5 272.47C167.25 271.22 167.75 269.65 168 268.4C168.25 267.15 168.25 265.92 169 264.98C169.75 264.03 171.88 263.45 172.5 262.71C173.12 261.98 172.75 261.35 172.7 260.58C172.65 259.82 172.23 258.88 172.2 258.13C172.17 257.37 172.28 256.88 172.5 256.06C172.72 255.24 173.33 253.69 173.5 253.21Z" fill="#fff" stroke="#222" stroke-width="0.6" stroke-linejoin="round"/>
<g fill="#4a1a7a" stroke="#050505" stroke-width="0.55"><circle cx="173.5" cy="255.25" r="1.1"/><circle cx="173.5" cy="258.16" r="1.1"/><circle cx="173.5" cy="262.16" r="1.1"/><circle cx="175.25" cy="263.54" r="1.1"/><circle cx="172.45" cy="264.05" r="1.1"/><circle cx="170.35" cy="264.48" r="1.1"/><circle cx="177" cy="264.7" r="1.1"/><circle cx="174.2" cy="265.5" r="1.1"/><circle cx="168.6" cy="265.72" r="1.1"/><circle cx="178.75" cy="265.94" r="1.1"/><circle cx="172.1" cy="266.3" r="1.1"/><circle cx="175.95" cy="266.81" r="1.1"/><circle cx="170" cy="267.39" r="1.1"/><circle cx="173.85" cy="267.75" r="1.1"/><circle cx="177.7" cy="267.97" r="1.1"/><circle cx="167.9" cy="268.26" r="1.1"/><circle cx="179.8" cy="268.41" r="1.1"/><circle cx="171.75" cy="268.7" r="1.1"/><circle cx="175.6" cy="268.99" r="1.1"/><circle cx="169.65" cy="269.5" r="1.1"/><circle cx="173.5" cy="270.08" r="1.1"/><circle cx="177.35" cy="270.23" r="1.1"/><circle cx="179.45" cy="270.59" r="1.1"/><circle cx="167.9" cy="270.74" r="1.1"/><circle cx="171.4" cy="271.03" r="1.1"/><circle cx="175.25" cy="271.24" r="1.1"/><circle cx="173.15" cy="272.19" r="1.1"/><circle cx="177" cy="272.41" r="1.1"/><circle cx="170" cy="272.63" r="1.1"/><circle cx="179.1" cy="272.99" r="1.1"/><circle cx="167.9" cy="273.13" r="1.1"/><circle cx="174.9" cy="273.43" r="1.1"/><circle cx="171.75" cy="273.93" r="1.1"/><circle cx="176.65" cy="274.59" r="1.1"/><circle cx="169.65" cy="274.81" r="1.1"/><circle cx="173.5" cy="275.17" r="1.1"/><circle cx="171.4" cy="276.19" r="1.1"/><circle cx="175.25" cy="276.55" r="1.1"/><circle cx="177.35" cy="276.99" r="1.1"/><circle cx="173.15" cy="277.42" r="1.1"/><circle cx="170.35" cy="278.01" r="1.1"/><circle cx="174.2" cy="279.24" r="1.1"/><circle cx="172.1" cy="279.75" r="1.1"/></g>
<path d="M192.2 257.48C192.33 258.06 192.17 260.1 193 260.97C193.83 261.84 196.28 261.86 197.2 262.71C198.12 263.56 198.33 264.73 198.5 266.07C198.67 267.42 198.5 269.43 198.2 270.79C197.9 272.15 197.28 272.88 196.7 274.22C196.12 275.55 195.45 277.46 194.7 278.81C193.95 280.15 192.62 281.71 192.2 282.3L192.2 282.3C191.78 281.71 190.45 280.15 189.7 278.81C188.95 277.46 188.28 275.55 187.7 274.22C187.12 272.88 186.5 272.15 186.2 270.79C185.9 269.43 185.73 267.42 185.9 266.07C186.07 264.73 186.28 263.56 187.2 262.71C188.12 261.86 190.57 261.84 191.4 260.97C192.23 260.1 192.07 258.06 192.2 257.48Z" fill="#fff" stroke="#222" stroke-width="0.6" stroke-linejoin="round"/>
<g fill="#5cb82a" stroke="#050505" stroke-width="0.55"><circle cx="192.2" cy="260.21" r="1.1"/><circle cx="192.9" cy="262.19" r="1.1"/><circle cx="190.8" cy="263.25" r="1.1"/><circle cx="194.65" cy="263.56" r="1.1"/><circle cx="188.7" cy="264.3" r="1.1"/><circle cx="192.2" cy="264.99" r="1.1"/><circle cx="195.35" cy="265.54" r="1.1"/><circle cx="190.1" cy="266.1" r="1.1"/><circle cx="188" cy="266.41" r="1.1"/><circle cx="193.25" cy="266.91" r="1.1"/><circle cx="196.4" cy="267.47" r="1.1"/><circle cx="191.5" cy="268.21" r="1.1"/><circle cx="194.3" cy="268.77" r="1.1"/><circle cx="189.4" cy="269.14" r="1.1"/><circle cx="196.4" cy="269.7" r="1.1"/><circle cx="192.2" cy="270.26" r="1.1"/><circle cx="194.3" cy="270.88" r="1.1"/><circle cx="190.1" cy="271.38" r="1.1"/><circle cx="196.4" cy="271.93" r="1.1"/><circle cx="192.2" cy="272.74" r="1.1"/><circle cx="194.3" cy="273.3" r="1.1"/><circle cx="190.45" cy="274.04" r="1.1"/><circle cx="196.05" cy="274.79" r="1.1"/><circle cx="192.2" cy="275.66" r="1.1"/><circle cx="194.3" cy="276.34" r="1.1"/><circle cx="190.8" cy="277.46" r="1.1"/><circle cx="192.9" cy="278.2" r="1.1"/><circle cx="192.2" cy="280.74" r="1.1"/></g>
<path d="M210.4 253.21C210.82 253.83 212.23 255.7 212.9 256.9C213.57 258.09 213.78 259.04 214.4 260.39C215.02 261.73 216.35 263.44 216.6 264.98C216.85 266.52 216.43 268.09 215.9 269.63C215.37 271.17 214.23 272.87 213.4 274.22C212.57 275.56 211.4 276.85 210.9 277.71C210.4 278.57 210.48 279.11 210.4 279.39L210.4 279.39C210.32 279.11 210.4 278.57 209.9 277.71C209.4 276.85 208.23 275.56 207.4 274.22C206.57 272.87 205.43 271.17 204.9 269.63C204.37 268.09 203.95 266.52 204.2 264.98C204.45 263.44 205.78 261.73 206.4 260.39C207.02 259.04 207.23 258.09 207.9 256.9C208.57 255.7 209.98 253.83 210.4 253.21Z" fill="#fff" stroke="#222" stroke-width="0.6" stroke-linejoin="round"/>
<g fill="#1d3a78" stroke="#050505" stroke-width="0.55"><circle cx="210.4" cy="255.05" r="1.1"/><circle cx="212.15" cy="256.55" r="1.1"/><circle cx="210.4" cy="257.99" r="1.1"/><circle cx="212.5" cy="258.97" r="1.1"/><circle cx="209.35" cy="259.82" r="1.1"/><circle cx="207.25" cy="260.41" r="1.1"/><circle cx="211.1" cy="261.07" r="1.1"/><circle cx="213.2" cy="261.72" r="1.1"/><circle cx="209.35" cy="262.44" r="1.1"/><circle cx="207.25" cy="262.9" r="1.1"/><circle cx="211.45" cy="263.42" r="1.1"/><circle cx="213.55" cy="264.01" r="1.1"/><circle cx="209.7" cy="264.6" r="1.1"/><circle cx="207.6" cy="265.06" r="1.1"/><circle cx="211.8" cy="265.52" r="1.1"/><circle cx="214.6" cy="265.91" r="1.1"/><circle cx="205.85" cy="266.37" r="1.1"/><circle cx="210.05" cy="266.76" r="1.1"/><circle cx="207.95" cy="267.28" r="1.1"/><circle cx="212.15" cy="267.74" r="1.1"/><circle cx="214.25" cy="268.26" r="1.1"/><circle cx="210.4" cy="268.98" r="1.1"/><circle cx="207.25" cy="269.31" r="1.1"/><circle cx="205.15" cy="269.7" r="1.1"/><circle cx="212.15" cy="270.49" r="1.1"/><circle cx="210.05" cy="271.08" r="1.1"/><circle cx="207.95" cy="271.86" r="1.1"/><circle cx="213.55" cy="272.19" r="1.1"/><circle cx="211.1" cy="273.04" r="1.1"/><circle cx="209" cy="273.96" r="1.1"/><circle cx="212.15" cy="274.94" r="1.1"/><circle cx="210.4" cy="276.97" r="1.1"/></g>
<path d="M229 258.06C229.25 258.55 229.83 260.09 230.5 260.97C231.17 261.85 232.25 262.24 233 263.36C233.75 264.48 235 266.33 235 267.69C235 269.05 233.5 270.22 233 271.5C232.5 272.78 232.42 274.41 232 275.38C231.58 276.35 231 276.68 230.5 277.32C230 277.95 229.25 278.88 229 279.19L229 279.19C228.75 278.88 228 277.95 227.5 277.32C227 276.68 226.42 276.35 226 275.38C225.58 274.41 225.5 272.78 225 271.5C224.5 270.22 223 269.05 223 267.69C223 266.33 224.25 264.48 225 263.36C225.75 262.24 226.83 261.85 227.5 260.97C228.17 260.09 228.75 258.55 229 258.06Z" fill="#fff" stroke="#222" stroke-width="0.6" stroke-linejoin="round"/>
<g fill="#7b72c9" stroke="#050505" stroke-width="0.55"><circle cx="229" cy="260.7" r="1.1"/><circle cx="230.75" cy="262.23" r="1.1"/><circle cx="228.65" cy="263.08" r="1.1"/><circle cx="226.55" cy="263.87" r="1.1"/><circle cx="230.05" cy="264.72" r="1.1"/><circle cx="232.15" cy="265.35" r="1.1"/><circle cx="228.3" cy="265.88" r="1.1"/><circle cx="226.2" cy="266.62" r="1.1"/><circle cx="230.05" cy="267.2" r="1.1"/><circle cx="232.15" cy="267.62" r="1.1"/><circle cx="227.95" cy="268.26" r="1.1"/><circle cx="225.5" cy="268.63" r="1.1"/><circle cx="230.05" cy="269.31" r="1.1"/><circle cx="232.85" cy="269.68" r="1.1"/><circle cx="228.3" cy="270.63" r="1.1"/><circle cx="230.75" cy="271.32" r="1.1"/><circle cx="226.55" cy="271.9" r="1.1"/><circle cx="229" cy="272.85" r="1.1"/><circle cx="230.75" cy="274.07" r="1.1"/><circle cx="227.6" cy="274.44" r="1.1"/><circle cx="229" cy="276.08" r="1.1"/></g>
<path d="M247.5 243.71C247.67 244.26 247.92 246.21 248.5 247.01C249.08 247.81 250.58 247.85 251 248.5C251.42 249.14 251.38 250 251 250.89C250.62 251.77 248.45 252.76 248.7 253.8C248.95 254.83 251.67 255.9 252.5 257.09C253.33 258.29 253.7 259.85 253.7 260.97C253.7 262.09 253.28 262.69 252.5 263.81C251.72 264.93 249.7 266.41 249 267.69C248.3 268.97 248.42 269.9 248.3 271.5C248.18 273.11 248.43 275.39 248.3 277.32C248.17 279.25 247.63 282.11 247.5 283.07L247.5 283.07C247.37 282.11 246.83 279.25 246.7 277.32C246.57 275.39 246.82 273.11 246.7 271.5C246.58 269.9 246.7 268.97 246 267.69C245.3 266.41 243.28 264.93 242.5 263.81C241.72 262.69 241.3 262.09 241.3 260.97C241.3 259.85 241.67 258.29 242.5 257.09C243.33 255.9 246.05 254.83 246.3 253.8C246.55 252.76 244.38 251.77 244 250.89C243.62 250 243.58 249.14 244 248.5C244.42 247.85 245.92 247.81 246.5 247.01C247.08 246.21 247.33 244.26 247.5 243.71Z" fill="#fff" stroke="#222" stroke-width="0.6" stroke-linejoin="round"/>
<g fill="#a9b45a" stroke="#111" stroke-width="0.5"><circle cx="247.04" cy="277.36" r="1.1"/><circle cx="248.52" cy="268.61" r="1.1"/><circle cx="246.97" cy="265.85" r="1.1"/><circle cx="244.09" cy="263.88" r="1.1"/><circle cx="247.31" cy="262.41" r="1.1"/><circle cx="250.57" cy="261.62" r="1.1"/><circle cx="242.69" cy="260.74" r="1.1"/><circle cx="248.05" cy="259.26" r="1.1"/><circle cx="251.19" cy="258.28" r="1.1"/><circle cx="249.13" cy="257" r="1.1"/><circle cx="247.35" cy="255.03" r="1.1"/><circle cx="245.87" cy="252.57" r="1.1"/><circle cx="246.48" cy="250.21" r="1.1"/><circle cx="247.11" cy="246.96" r="1.1"/></g>
<rect x="29.3" y="344.2" width="99" height="58" fill="none" stroke="#2b2b2b" stroke-width="1.35"/>
<line x1="26.3" y1="402.2" x2="29.6" y2="402.2" stroke="#2b2b2b" stroke-width="1"/>
<text x="0" y="0" font-size="4.6" text-anchor="end" fill="#3a3a3a" transform="translate(23.3 403.83) scale(1.15 1)" stroke="#3a3a3a" stroke-width="0.11">-2</text>
<line x1="26.3" y1="390.6" x2="29.6" y2="390.6" stroke="#2b2b2b" stroke-width="1"/>
<text x="0" y="0" font-size="4.6" text-anchor="end" fill="#3a3a3a" transform="translate(23.3 392.23) scale(1.15 1)" stroke="#3a3a3a" stroke-width="0.11">0</text>
<line x1="26.3" y1="379" x2="29.6" y2="379" stroke="#2b2b2b" stroke-width="1"/>
<text x="0" y="0" font-size="4.6" text-anchor="end" fill="#3a3a3a" transform="translate(23.3 380.63) scale(1.15 1)" stroke="#3a3a3a" stroke-width="0.11">2</text>
<line x1="26.3" y1="367.4" x2="29.6" y2="367.4" stroke="#2b2b2b" stroke-width="1"/>
<text x="0" y="0" font-size="4.6" text-anchor="end" fill="#3a3a3a" transform="translate(23.3 369.03) scale(1.15 1)" stroke="#3a3a3a" stroke-width="0.11">4</text>
<line x1="26.3" y1="355.8" x2="29.6" y2="355.8" stroke="#2b2b2b" stroke-width="1"/>
<text x="0" y="0" font-size="4.6" text-anchor="end" fill="#3a3a3a" transform="translate(23.3 357.43) scale(1.15 1)" stroke="#3a3a3a" stroke-width="0.11">6</text>
<line x1="26.3" y1="344.2" x2="29.6" y2="344.2" stroke="#2b2b2b" stroke-width="1"/>
<text x="0" y="0" font-size="4.6" text-anchor="end" fill="#3a3a3a" transform="translate(23.3 345.83) scale(1.15 1)" stroke="#3a3a3a" stroke-width="0.11">8</text>
<line x1="29.9" y1="390.6" x2="127.7" y2="390.6" stroke="#222" stroke-width="0.7" stroke-dasharray="1.2 1.3"/>
<line x1="41.5" y1="402.2" x2="41.5" y2="404.5" stroke="#2b2b2b" stroke-width="0.9"/>
<line x1="60.2" y1="402.2" x2="60.2" y2="404.5" stroke="#2b2b2b" stroke-width="0.9"/>
<line x1="78.4" y1="402.2" x2="78.4" y2="404.5" stroke="#2b2b2b" stroke-width="0.9"/>
<line x1="97" y1="402.2" x2="97" y2="404.5" stroke="#2b2b2b" stroke-width="0.9"/>
<line x1="115.6" y1="402.2" x2="115.6" y2="404.5" stroke="#2b2b2b" stroke-width="0.9"/>
<text x="0" y="0" font-size="6.7" text-anchor="middle" fill="#222" transform="translate(13.21 373.6) rotate(-90) scale(0.78 1)" stroke="#222" stroke-width="0.22">IFN-γ score</text>
<text x="0" y="0" font-size="4.3" fill="#222" transform="translate(32.5 351.4) scale(1.05 1)" stroke="#222" stroke-width="0.1">KW = 30.9</text>
<text x="0" y="0" font-size="4.3" fill="#222" transform="translate(32.5 356.2) scale(1.05 1)" stroke="#222" stroke-width="0.1"><tspan font-style="italic">P</tspan> &lt; 0.0009</text>
<text x="0" y="0" font-size="5.5" text-anchor="end" fill="#1a1a1a" transform="translate(42.8 411.2) rotate(-45)" stroke="#1a1a1a" stroke-width="0.13">Mut.</text>
<text x="0" y="0" font-size="5.5" text-anchor="end" fill="#1a1a1a" transform="translate(46.69 415.09) rotate(-45)" stroke="#1a1a1a" stroke-width="0.13"><tspan font-style="italic">NPM1</tspan></text>
<text x="0" y="0" font-size="5.5" text-anchor="end" fill="#1a1a1a" transform="translate(61.5 411.2) rotate(-45)" stroke="#1a1a1a" stroke-width="0.13">Mut. <tspan font-style="italic">NPM1</tspan></text>
<text x="0" y="0" font-size="5.5" text-anchor="end" fill="#1a1a1a" transform="translate(65.39 415.09) rotate(-45)" stroke="#1a1a1a" stroke-width="0.13">w/o <tspan font-style="italic">FLT3</tspan>-ITD</text>
<text x="0" y="0" font-size="5.5" text-anchor="end" fill="#1a1a1a" transform="translate(79.7 411.2) rotate(-45)" stroke="#1a1a1a" stroke-width="0.13">Mut. <tspan font-style="italic">RUNX1</tspan></text>
<text x="0" y="0" font-size="5.5" text-anchor="end" fill="#1a1a1a" transform="translate(98.3 411.2) rotate(-45)" stroke="#1a1a1a" stroke-width="0.13">CHIP-defining</text>
<text x="0" y="0" font-size="5.5" text-anchor="end" fill="#1a1a1a" transform="translate(102.19 415.09) rotate(-45)" stroke="#1a1a1a" stroke-width="0.13">(<tspan font-style="italic">ASXL1</tspan>,<tspan font-style="italic">TET2</tspan>,</text>
<text x="0" y="0" font-size="5.5" text-anchor="end" fill="#1a1a1a" transform="translate(106.08 418.98) rotate(-45)" stroke="#1a1a1a" stroke-width="0.13"><tspan font-style="italic">DNMT3A</tspan>)</text>
<text x="0" y="0" font-size="5.5" text-anchor="end" fill="#1a1a1a" transform="translate(116.9 411.2) rotate(-45)" stroke="#1a1a1a" stroke-width="0.13">Mut.</text>
<text x="0" y="0" font-size="5.5" text-anchor="end" fill="#1a1a1a" transform="translate(120.79 415.09) rotate(-45)" stroke="#1a1a1a" stroke-width="0.13"><tspan font-style="italic">TP53</tspan></text>
<path d="M41.5 363.51C41.75 364.48 42.58 367.58 43 369.31C43.42 371.04 44 372.65 44 373.9C44 375.14 42.67 375.65 43 376.8C43.33 377.95 45.17 379.16 46 380.8C46.83 382.43 47.92 384.87 48 386.6C48.08 388.33 47.33 389.83 46.5 391.18C45.67 392.53 43.83 393.46 43 394.72C42.17 395.97 41.75 398.05 41.5 398.72L41.5 398.72C41.25 398.05 40.83 395.97 40 394.72C39.17 393.46 37.33 392.53 36.5 391.18C35.67 389.83 34.92 388.33 35 386.6C35.08 384.87 36.17 382.43 37 380.8C37.83 379.16 39.67 377.95 40 376.8C40.33 375.65 39 375.14 39 373.9C39 372.65 39.58 371.04 40 369.31C40.42 367.58 41.25 364.48 41.5 363.51Z" fill="#fff" stroke="#222" stroke-width="0.6" stroke-linejoin="round"/>
<g fill="#4a1a7a" stroke="#050505" stroke-width="0.55"><circle cx="41.5" cy="366.59" r="1.1"/><circle cx="41.5" cy="369.32" r="1.1"/><circle cx="43.25" cy="370.56" r="1.1"/><circle cx="41.15" cy="371.61" r="1.1"/><circle cx="42.9" cy="372.84" r="1.1"/><circle cx="40.8" cy="373.9" r="1.1"/><circle cx="42.55" cy="375.4" r="1.1"/><circle cx="40.45" cy="376.28" r="1.1"/><circle cx="41.85" cy="377.95" r="1.1"/><circle cx="39.75" cy="378.83" r="1.1"/><circle cx="43.6" cy="379.27" r="1.1"/><circle cx="37.65" cy="379.62" r="1.1"/><circle cx="41.5" cy="380.32" r="1.1"/><circle cx="45.35" cy="380.68" r="1.1"/><circle cx="39.4" cy="380.94" r="1.1"/><circle cx="36.25" cy="381.29" r="1.1"/><circle cx="43.25" cy="381.65" r="1.1"/><circle cx="47.1" cy="382" r="1.1"/><circle cx="41.15" cy="382.44" r="1.1"/><circle cx="38.35" cy="382.88" r="1.1"/><circle cx="45" cy="383.14" r="1.1"/><circle cx="36.25" cy="383.49" r="1.1"/><circle cx="42.9" cy="383.76" r="1.1"/><circle cx="47.1" cy="384.11" r="1.1"/><circle cx="40.1" cy="384.29" r="1.1"/><circle cx="38" cy="384.99" r="1.1"/><circle cx="44.65" cy="385.25" r="1.1"/><circle cx="35.2" cy="385.43" r="1.1"/><circle cx="41.85" cy="385.78" r="1.1"/><circle cx="48.15" cy="386.05" r="1.1"/><circle cx="39.75" cy="386.66" r="1.1"/><circle cx="46.05" cy="386.93" r="1.1"/><circle cx="43.6" cy="387.19" r="1.1"/><circle cx="37.65" cy="387.37" r="1.1"/><circle cx="35.55" cy="387.72" r="1.1"/><circle cx="41.5" cy="387.98" r="1.1"/><circle cx="47.8" cy="388.25" r="1.1"/><circle cx="39.4" cy="388.86" r="1.1"/><circle cx="44.3" cy="389.21" r="1.1"/><circle cx="37.3" cy="389.57" r="1.1"/><circle cx="46.4" cy="389.83" r="1.1"/><circle cx="41.5" cy="390.18" r="1.1"/><circle cx="39.4" cy="391.06" r="1.1"/><circle cx="43.25" cy="391.59" r="1.1"/><circle cx="45.35" cy="391.94" r="1.1"/><circle cx="41.15" cy="392.29" r="1.1"/><circle cx="38" cy="392.82" r="1.1"/><circle cx="42.55" cy="393.97" r="1.1"/><circle cx="40.8" cy="395.11" r="1.1"/></g>
<path d="M60.2 368.1C60.37 368.88 60.95 371.34 61.2 372.79C61.45 374.24 61.37 375.65 61.7 376.8C62.03 377.95 62.53 378.55 63.2 379.7C63.87 380.85 65.2 382.34 65.7 383.7C66.2 385.05 66.28 386.46 66.2 387.82C66.12 389.17 65.87 390.67 65.2 391.82C64.53 392.97 63.03 393.86 62.2 394.72C61.37 395.58 60.53 396.6 60.2 396.98L60.2 396.98C59.87 396.6 59.03 395.58 58.2 394.72C57.37 393.86 55.87 392.97 55.2 391.82C54.53 390.67 54.28 389.17 54.2 387.82C54.12 386.46 54.2 385.05 54.7 383.7C55.2 382.34 56.53 380.85 57.2 379.7C57.87 378.55 58.37 377.95 58.7 376.8C59.03 375.65 58.95 374.24 59.2 372.79C59.45 371.34 60.03 368.88 60.2 368.1Z" fill="#fff" stroke="#222" stroke-width="0.6" stroke-linejoin="round"/>
<g fill="#5cb82a" stroke="#050505" stroke-width="0.55"><circle cx="60.2" cy="372.65" r="1.1"/><circle cx="60.2" cy="374.88" r="1.1"/><circle cx="61.6" cy="376.69" r="1.1"/><circle cx="60.2" cy="378.71" r="1.1"/><circle cx="61.95" cy="380.01" r="1.1"/><circle cx="59.15" cy="380.59" r="1.1"/><circle cx="63.35" cy="381.6" r="1.1"/><circle cx="60.2" cy="382.54" r="1.1"/><circle cx="58.1" cy="382.9" r="1.1"/><circle cx="62.3" cy="383.62" r="1.1"/><circle cx="56.35" cy="384.2" r="1.1"/><circle cx="60.2" cy="384.7" r="1.1"/><circle cx="63.7" cy="385.21" r="1.1"/><circle cx="58.1" cy="385.79" r="1.1"/><circle cx="61.6" cy="386.29" r="1.1"/><circle cx="56.35" cy="387.09" r="1.1"/><circle cx="63.7" cy="387.3" r="1.1"/><circle cx="60.2" cy="388.1" r="1.1"/><circle cx="58.1" cy="388.6" r="1.1"/><circle cx="62.3" cy="389.04" r="1.1"/><circle cx="64.4" cy="389.69" r="1.1"/><circle cx="56.35" cy="390.12" r="1.1"/><circle cx="60.2" cy="390.91" r="1.1"/><circle cx="62.3" cy="391.42" r="1.1"/><circle cx="58.45" cy="392.07" r="1.1"/><circle cx="64.05" cy="392.65" r="1.1"/><circle cx="60.2" cy="393.66" r="1.1"/><circle cx="61.95" cy="394.89" r="1.1"/></g>
<path d="M78.4 356.61C78.53 357.76 78.95 361.4 79.2 363.51C79.45 365.63 79.2 367.77 79.9 369.31C80.6 370.86 82.65 371.64 83.4 372.79C84.15 373.94 84.82 375.07 84.4 376.22C83.98 377.37 80.9 378.55 80.9 379.7C80.9 380.85 83.98 381.97 84.4 383.12C84.82 384.27 84.07 385.25 83.4 386.6C82.73 387.94 81.1 389.64 80.4 391.18C79.7 392.72 79.53 394.37 79.2 395.82C78.87 397.27 78.53 399.2 78.4 399.88L78.4 399.88C78.27 399.2 77.93 397.27 77.6 395.82C77.27 394.37 77.1 392.72 76.4 391.18C75.7 389.64 74.07 387.94 73.4 386.6C72.73 385.25 71.98 384.27 72.4 383.12C72.82 381.97 75.9 380.85 75.9 379.7C75.9 378.55 72.82 377.37 72.4 376.22C71.98 375.07 72.65 373.94 73.4 372.79C74.15 371.64 76.2 370.86 76.9 369.31C77.6 367.77 77.35 365.63 77.6 363.51C77.85 361.4 78.27 357.76 78.4 356.61Z" fill="#fff" stroke="#222" stroke-width="0.6" stroke-linejoin="round"/>
<g fill="#1d3a78" stroke="#050505" stroke-width="0.55"><circle cx="78.4" cy="360.29" r="1.1"/><circle cx="78.4" cy="365.59" r="1.1"/><circle cx="78.4" cy="368.51" r="1.1"/><circle cx="78.4" cy="370.78" r="1.1"/><circle cx="80.5" cy="371.76" r="1.1"/><circle cx="77" cy="372.4" r="1.1"/><circle cx="74.9" cy="373.16" r="1.1"/><circle cx="78.75" cy="373.92" r="1.1"/><circle cx="76.65" cy="374.68" r="1.1"/><circle cx="80.5" cy="375.11" r="1.1"/><circle cx="74.55" cy="375.76" r="1.1"/><circle cx="78.4" cy="376.19" r="1.1"/><circle cx="81.9" cy="376.84" r="1.1"/><circle cx="76.65" cy="377.6" r="1.1"/><circle cx="78.4" cy="378.9" r="1.1"/><circle cx="80.15" cy="380.08" r="1.1"/><circle cx="77" cy="380.63" r="1.1"/><circle cx="81.9" cy="381.6" r="1.1"/><circle cx="78.4" cy="382.46" r="1.1"/><circle cx="76.3" cy="383.11" r="1.1"/><circle cx="80.5" cy="383.44" r="1.1"/><circle cx="74.55" cy="384.3" r="1.1"/><circle cx="78.4" cy="384.74" r="1.1"/><circle cx="81.55" cy="385.28" r="1.1"/><circle cx="76.65" cy="386.14" r="1.1"/><circle cx="79.45" cy="386.68" r="1.1"/><circle cx="81.55" cy="387.66" r="1.1"/><circle cx="78.4" cy="388.74" r="1.1"/><circle cx="80.5" cy="389.82" r="1.1"/><circle cx="78.4" cy="390.9" r="1.1"/><circle cx="80.15" cy="392.42" r="1.1"/><circle cx="78.4" cy="394.69" r="1.1"/></g>
<path d="M97 366.41C97.17 366.9 97.88 368.18 98 369.31C98.12 370.44 97.62 371.6 97.7 373.2C97.78 374.8 97.78 377.62 98.5 378.88C99.22 380.15 101.25 380.23 102 380.8C102.75 381.37 103.25 381.74 103 382.31C102.75 382.88 101.17 383.5 100.5 384.22C99.83 384.94 99.33 385.72 99 386.6C98.67 387.48 98.67 388.53 98.5 389.5C98.33 390.46 98.25 391.6 98 392.4C97.75 393.2 97.17 393.99 97 394.31L97 394.31C96.83 393.99 96.25 393.2 96 392.4C95.75 391.6 95.67 390.46 95.5 389.5C95.33 388.53 95.33 387.48 95 386.6C94.67 385.72 94.17 384.94 93.5 384.22C92.83 383.5 91.25 382.88 91 382.31C90.75 381.74 91.25 381.37 92 380.8C92.75 380.23 94.78 380.15 95.5 378.88C96.22 377.62 96.22 374.8 96.3 373.2C96.38 371.6 95.88 370.44 96 369.31C96.12 368.18 96.83 366.9 97 366.41Z" fill="#fff" stroke="#222" stroke-width="0.6" stroke-linejoin="round"/>
<g fill="#7b72c9" stroke="#050505" stroke-width="0.55"><circle cx="97" cy="369.48" r="1.1"/><circle cx="97" cy="372.27" r="1.1"/><circle cx="97" cy="374.78" r="1.1"/><circle cx="97.7" cy="376.81" r="1.1"/><circle cx="97" cy="378.9" r="1.1"/><circle cx="99.1" cy="379.74" r="1.1"/><circle cx="95.25" cy="380.36" r="1.1"/><circle cx="100.85" cy="380.92" r="1.1"/><circle cx="97.35" cy="381.27" r="1.1"/><circle cx="93.5" cy="381.62" r="1.1"/><circle cx="102.6" cy="382.11" r="1.1"/><circle cx="95.6" cy="382.46" r="1.1"/><circle cx="99.1" cy="382.8" r="1.1"/><circle cx="92.45" cy="383.43" r="1.1"/><circle cx="101.2" cy="383.92" r="1.1"/><circle cx="97" cy="384.62" r="1.1"/><circle cx="99.1" cy="385.52" r="1.1"/><circle cx="95.95" cy="386.5" r="1.1"/><circle cx="97" cy="388.38" r="1.1"/><circle cx="98.05" cy="390.2" r="1.1"/><circle cx="96.3" cy="391.66" r="1.1"/></g>
<path d="M115.6 351.97C115.68 352.77 115.6 355.5 116.1 356.79C116.6 358.07 118.02 358.72 118.6 359.69C119.18 360.65 119.6 361.46 119.6 362.59C119.6 363.71 118.85 364.98 118.6 366.41C118.35 367.84 118.18 369.72 118.1 371.17C118.02 372.62 117.85 373.97 118.1 375.11C118.35 376.25 118.98 376.9 119.6 378.01C120.22 379.13 121.8 380.67 121.8 381.78C121.8 382.9 120.38 383.72 119.6 384.68C118.82 385.65 117.63 386.62 117.1 387.58C116.57 388.55 116.65 388.48 116.4 390.48C116.15 392.48 115.73 398.07 115.6 399.59L115.6 399.59C115.47 398.07 115.05 392.48 114.8 390.48C114.55 388.48 114.63 388.55 114.1 387.58C113.57 386.62 112.38 385.65 111.6 384.68C110.82 383.72 109.4 382.9 109.4 381.78C109.4 380.67 110.98 379.13 111.6 378.01C112.22 376.9 112.85 376.25 113.1 375.11C113.35 373.97 113.18 372.62 113.1 371.17C113.02 369.72 112.85 367.84 112.6 366.41C112.35 364.98 111.6 363.71 111.6 362.59C111.6 361.46 112.02 360.65 112.6 359.69C113.18 358.72 114.6 358.07 115.1 356.79C115.6 355.5 115.52 352.77 115.6 351.97Z" fill="#fff" stroke="#222" stroke-width="0.6" stroke-linejoin="round"/>
<g fill="#a9b45a" stroke="#111" stroke-width="0.5"><circle cx="115.32" cy="393.16" r="1.1"/><circle cx="117.71" cy="385.66" r="1.1"/><circle cx="112.09" cy="383.28" r="1.1"/><circle cx="120.42" cy="381.85" r="1.1"/><circle cx="114.17" cy="380.9" r="1.1"/><circle cx="117.35" cy="378.76" r="1.1"/><circle cx="113.8" cy="376.85" r="1.1"/><circle cx="115.65" cy="375.19" r="1.1"/><circle cx="113.82" cy="371.14" r="1.1"/><circle cx="115.15" cy="369.23" r="1.1"/><circle cx="114.41" cy="366.26" r="1.1"/><circle cx="115.68" cy="364.11" r="1.1"/><circle cx="117.14" cy="361.73" r="1.1"/><circle cx="115.01" cy="358.04" r="1.1"/></g>
<rect x="161.4" y="344.2" width="98.5" height="58" fill="none" stroke="#2b2b2b" stroke-width="1.35"/>
<line x1="158.4" y1="402.2" x2="161.7" y2="402.2" stroke="#2b2b2b" stroke-width="1"/>
<text x="0" y="0" font-size="4.6" text-anchor="end" fill="#3a3a3a" transform="translate(155.4 403.83) scale(1.15 1)" stroke="#3a3a3a" stroke-width="0.11">2</text>
<line x1="158.4" y1="390.6" x2="161.7" y2="390.6" stroke="#2b2b2b" stroke-width="1"/>
<text x="0" y="0" font-size="4.6" text-anchor="end" fill="#3a3a3a" transform="translate(155.4 392.23) scale(1.15 1)" stroke="#3a3a3a" stroke-width="0.11">4</text>
<line x1="158.4" y1="379" x2="161.7" y2="379" stroke="#2b2b2b" stroke-width="1"/>
<text x="0" y="0" font-size="4.6" text-anchor="end" fill="#3a3a3a" transform="translate(155.4 380.63) scale(1.15 1)" stroke="#3a3a3a" stroke-width="0.11">6</text>
<line x1="158.4" y1="367.4" x2="161.7" y2="367.4" stroke="#2b2b2b" stroke-width="1"/>
<text x="0" y="0" font-size="4.6" text-anchor="end" fill="#3a3a3a" transform="translate(155.4 369.03) scale(1.15 1)" stroke="#3a3a3a" stroke-width="0.11">8</text>
<line x1="158.4" y1="355.8" x2="161.7" y2="355.8" stroke="#2b2b2b" stroke-width="1"/>
<text x="0" y="0" font-size="4.6" text-anchor="end" fill="#3a3a3a" transform="translate(155.4 357.43) scale(1.15 1)" stroke="#3a3a3a" stroke-width="0.11">10</text>
<line x1="158.4" y1="344.2" x2="161.7" y2="344.2" stroke="#2b2b2b" stroke-width="1"/>
<text x="0" y="0" font-size="4.6" text-anchor="end" fill="#3a3a3a" transform="translate(155.4 345.83) scale(1.15 1)" stroke="#3a3a3a" stroke-width="0.11">12</text>
<line x1="172.5" y1="402.2" x2="172.5" y2="404.5" stroke="#2b2b2b" stroke-width="0.9"/>
<line x1="192.3" y1="402.2" x2="192.3" y2="404.5" stroke="#2b2b2b" stroke-width="0.9"/>
<line x1="210.6" y1="402.2" x2="210.6" y2="404.5" stroke="#2b2b2b" stroke-width="0.9"/>
<line x1="229.3" y1="402.2" x2="229.3" y2="404.5" stroke="#2b2b2b" stroke-width="0.9"/>
<line x1="247.5" y1="402.2" x2="247.5" y2="404.5" stroke="#2b2b2b" stroke-width="0.9"/>
<text x="0" y="0" font-size="6.4" text-anchor="middle" fill="#222" transform="translate(142.96 373.1) rotate(-90) scale(0.78 1)" stroke="#222" stroke-width="0.22">Lymphoid score</text>
<text x="0" y="0" font-size="4.3" fill="#222" transform="translate(164.6 351.4) scale(1.05 1)" stroke="#222" stroke-width="0.1">KW = 40.1</text>
<text x="0" y="0" font-size="4.3" fill="#222" transform="translate(164.6 356.2) scale(1.05 1)" stroke="#222" stroke-width="0.1"><tspan font-style="italic">P</tspan> &lt; 0.0001</text>
<text x="0" y="0" font-size="5.5" text-anchor="end" fill="#1a1a1a" transform="translate(173.8 411.2) rotate(-45)" stroke="#1a1a1a" stroke-width="0.13">Mut.</text>
<text x="0" y="0" font-size="5.5" text-anchor="end" fill="#1a1a1a" transform="translate(177.69 415.09) rotate(-45)" stroke="#1a1a1a" stroke-width="0.13"><tspan font-style="italic">NPM1</tspan></text>
<text x="0" y="0" font-size="5.5" text-anchor="end" fill="#1a1a1a" transform="translate(193.6 411.2) rotate(-45)" stroke="#1a1a1a" stroke-width="0.13">Mut. <tspan font-style="italic">NPM1</tspan></text>
<text x="0" y="0" font-size="5.5" text-anchor="end" fill="#1a1a1a" transform="translate(197.49 415.09) rotate(-45)" stroke="#1a1a1a" stroke-width="0.13">w/o <tspan font-style="italic">FLT3</tspan>-ITD</text>
<text x="0" y="0" font-size="5.5" text-anchor="end" fill="#1a1a1a" transform="translate(211.9 411.2) rotate(-45)" stroke="#1a1a1a" stroke-width="0.13">Mut. <tspan font-style="italic">RUNX1</tspan></text>
<text x="0" y="0" font-size="5.5" text-anchor="end" fill="#1a1a1a" transform="translate(230.6 411.2) rotate(-45)" stroke="#1a1a1a" stroke-width="0.13">CHIP-defining</text>
<text x="0" y="0" font-size="5.5" text-anchor="end" fill="#1a1a1a" transform="translate(234.49 415.09) rotate(-45)" stroke="#1a1a1a" stroke-width="0.13">(<tspan font-style="italic">ASXL1</tspan>,<tspan font-style="italic">TET2</tspan>,</text>
<text x="0" y="0" font-size="5.5" text-anchor="end" fill="#1a1a1a" transform="translate(238.38 418.98) rotate(-45)" stroke="#1a1a1a" stroke-width="0.13"><tspan font-style="italic">DNMT3A</tspan>)</text>
<text x="0" y="0" font-size="5.5" text-anchor="end" fill="#1a1a1a" transform="translate(248.8 411.2) rotate(-45)" stroke="#1a1a1a" stroke-width="0.13">Mut.</text>
<text x="0" y="0" font-size="5.5" text-anchor="end" fill="#1a1a1a" transform="translate(252.69 415.09) rotate(-45)" stroke="#1a1a1a" stroke-width="0.13"><tspan font-style="italic">TP53</tspan></text>
<path d="M173.5 365.31C173.7 365.98 174.4 367.68 174.7 369.31C175 370.95 175.07 373.38 175.3 375.11C175.53 376.84 175.8 378.36 176.1 379.7C176.4 381.03 176.53 382.17 177.1 383.12C177.67 384.07 179.27 384.62 179.5 385.38C179.73 386.14 178.83 387.02 178.5 387.7C178.17 388.38 177.83 388.57 177.5 389.44C177.17 390.31 177 392.04 176.5 392.92C176 393.8 175 393.94 174.5 394.72C174 395.5 173.67 397.13 173.5 397.62L173.5 397.62C173.33 397.13 173 395.5 172.5 394.72C172 393.94 171 393.8 170.5 392.92C170 392.04 169.83 390.31 169.5 389.44C169.17 388.57 168.83 388.38 168.5 387.7C168.17 387.02 167.27 386.14 167.5 385.38C167.73 384.62 169.33 384.07 169.9 383.12C170.47 382.17 170.6 381.03 170.9 379.7C171.2 378.36 171.47 376.84 171.7 375.11C171.93 373.38 172 370.95 172.3 369.31C172.6 367.68 173.3 365.98 173.5 365.31Z" fill="#fff" stroke="#222" stroke-width="0.6" stroke-linejoin="round"/>
<g fill="#4a1a7a" stroke="#050505" stroke-width="0.55"><circle cx="173.5" cy="367.49" r="1.1"/><circle cx="173.5" cy="370.24" r="1.1"/><circle cx="173.5" cy="372.82" r="1.1"/><circle cx="174.55" cy="374.68" r="1.1"/><circle cx="172.45" cy="375.41" r="1.1"/><circle cx="174.2" cy="376.78" r="1.1"/><circle cx="171.75" cy="377.43" r="1.1"/><circle cx="175.95" cy="377.99" r="1.1"/><circle cx="173.5" cy="379.12" r="1.1"/><circle cx="171.4" cy="379.53" r="1.1"/><circle cx="175.25" cy="380.58" r="1.1"/><circle cx="173.15" cy="381.46" r="1.1"/><circle cx="171.05" cy="381.87" r="1.1"/><circle cx="176.65" cy="382.35" r="1.1"/><circle cx="174.2" cy="383.4" r="1.1"/><circle cx="172.1" cy="383.81" r="1.1"/><circle cx="170" cy="384.05" r="1.1"/><circle cx="177.35" cy="384.37" r="1.1"/><circle cx="167.9" cy="384.61" r="1.1"/><circle cx="179.45" cy="384.86" r="1.1"/><circle cx="175.25" cy="385.34" r="1.1"/><circle cx="173.15" cy="385.75" r="1.1"/><circle cx="171.05" cy="386.07" r="1.1"/><circle cx="177.35" cy="386.47" r="1.1"/><circle cx="168.95" cy="386.71" r="1.1"/><circle cx="179.45" cy="386.96" r="1.1"/><circle cx="174.55" cy="387.52" r="1.1"/><circle cx="172.45" cy="388.01" r="1.1"/><circle cx="170.35" cy="388.33" r="1.1"/><circle cx="176.65" cy="388.57" r="1.1"/><circle cx="173.5" cy="389.95" r="1.1"/><circle cx="171.4" cy="390.27" r="1.1"/><circle cx="175.6" cy="390.59" r="1.1"/><circle cx="173.5" cy="392.13" r="1.1"/><circle cx="171.4" cy="392.61" r="1.1"/><circle cx="175.6" cy="393.01" r="1.1"/><circle cx="173.5" cy="394.23" r="1.1"/></g>
<path d="M192.3 372.21C192.63 372.7 193.38 374.35 194.3 375.11C195.22 375.88 197.13 375.85 197.8 376.8C198.47 377.74 198.38 379.37 198.3 380.8C198.22 382.23 197.72 383.83 197.3 385.38C196.88 386.93 196.47 388.91 195.8 390.08C195.13 391.25 193.88 391.73 193.3 392.4C192.72 393.06 192.47 393.8 192.3 394.08L192.3 394.08C192.13 393.8 191.88 393.06 191.3 392.4C190.72 391.73 189.47 391.25 188.8 390.08C188.13 388.91 187.72 386.93 187.3 385.38C186.88 383.83 186.38 382.23 186.3 380.8C186.22 379.37 186.13 377.74 186.8 376.8C187.47 375.85 189.38 375.88 190.3 375.11C191.22 374.35 191.97 372.7 192.3 372.21Z" fill="#fff" stroke="#222" stroke-width="0.6" stroke-linejoin="round"/>
<g fill="#5cb82a" stroke="#050505" stroke-width="0.55"><circle cx="192.3" cy="374.67" r="1.1"/><circle cx="194.4" cy="375.6" r="1.1"/><circle cx="190.9" cy="376.48" r="1.1"/><circle cx="188.8" cy="376.86" r="1.1"/><circle cx="193" cy="377.52" r="1.1"/><circle cx="195.1" cy="378.12" r="1.1"/><circle cx="190.9" cy="378.61" r="1.1"/><circle cx="188.8" cy="379.1" r="1.1"/><circle cx="192.65" cy="379.76" r="1.1"/><circle cx="194.75" cy="380.2" r="1.1"/><circle cx="190.55" cy="380.74" r="1.1"/><circle cx="188.45" cy="381.23" r="1.1"/><circle cx="196.5" cy="381.67" r="1.1"/><circle cx="192.3" cy="382.22" r="1.1"/><circle cx="194.4" cy="382.82" r="1.1"/><circle cx="190.2" cy="383.2" r="1.1"/><circle cx="196.5" cy="383.8" r="1.1"/><circle cx="192.3" cy="384.35" r="1.1"/><circle cx="194.4" cy="385.01" r="1.1"/><circle cx="190.55" cy="385.61" r="1.1"/><circle cx="188.45" cy="386.04" r="1.1"/><circle cx="192.3" cy="386.86" r="1.1"/><circle cx="194.4" cy="387.47" r="1.1"/><circle cx="190.55" cy="388.23" r="1.1"/><circle cx="192.65" cy="389.11" r="1.1"/><circle cx="194.75" cy="389.6" r="1.1"/><circle cx="190.9" cy="390.47" r="1.1"/><circle cx="192.3" cy="392.17" r="1.1"/></g>
<path d="M210.4 368.1C210.9 368.88 212.48 371.44 213.4 372.79C214.32 374.15 215.35 375.07 215.9 376.22C216.45 377.37 216.78 378.55 216.7 379.7C216.62 380.85 216.12 382.17 215.4 383.12C214.68 384.07 213.23 384.7 212.4 385.38C211.57 386.06 210.73 386.88 210.4 387.18L210.4 387.18C210.07 386.88 209.23 386.06 208.4 385.38C207.57 384.7 206.12 384.07 205.4 383.12C204.68 382.17 204.18 380.85 204.1 379.7C204.02 378.55 204.35 377.37 204.9 376.22C205.45 375.07 206.48 374.15 207.4 372.79C208.32 371.44 209.9 368.88 210.4 368.1Z" fill="#fff" stroke="#222" stroke-width="0.6" stroke-linejoin="round"/>
<g fill="#1d3a78" stroke="#050505" stroke-width="0.55"><circle cx="210.4" cy="369.72" r="1.1"/><circle cx="212.15" cy="371.15" r="1.1"/><circle cx="210.4" cy="372.39" r="1.1"/><circle cx="208.3" cy="373.15" r="1.1"/><circle cx="212.15" cy="373.82" r="1.1"/><circle cx="214.25" cy="374.3" r="1.1"/><circle cx="210.05" cy="374.77" r="1.1"/><circle cx="207.95" cy="375.25" r="1.1"/><circle cx="205.85" cy="375.82" r="1.1"/><circle cx="211.8" cy="376.11" r="1.1"/><circle cx="213.9" cy="376.54" r="1.1"/><circle cx="209.7" cy="377.02" r="1.1"/><circle cx="207.6" cy="377.4" r="1.1"/><circle cx="215.65" cy="377.83" r="1.1"/><circle cx="212.5" cy="378.16" r="1.1"/><circle cx="205.5" cy="378.5" r="1.1"/><circle cx="203.4" cy="378.83" r="1.1"/><circle cx="210.4" cy="379.12" r="1.1"/><circle cx="208.3" cy="379.5" r="1.1"/><circle cx="213.9" cy="379.83" r="1.1"/><circle cx="216" cy="380.21" r="1.1"/><circle cx="211.8" cy="380.74" r="1.1"/><circle cx="206.55" cy="380.98" r="1.1"/><circle cx="209.7" cy="381.26" r="1.1"/><circle cx="214.6" cy="381.84" r="1.1"/><circle cx="204.8" cy="382.22" r="1.1"/><circle cx="212.5" cy="382.74" r="1.1"/><circle cx="208.3" cy="382.93" r="1.1"/><circle cx="210.4" cy="383.46" r="1.1"/><circle cx="214.25" cy="384.08" r="1.1"/><circle cx="210.4" cy="386.03" r="1.1"/></g>
<path d="M229.5 369.31C230 369.87 232.25 371.63 232.5 372.68C232.75 373.72 230.5 374.62 231 375.58C231.5 376.53 234.75 377.62 235.5 378.42C236.25 379.22 236.08 379.66 235.5 380.39C234.92 381.13 232.83 382.1 232 382.83C231.17 383.55 230.42 383.86 230.5 384.74C230.58 385.62 232.42 387.23 232.5 388.11C232.58 388.99 231.5 389.3 231 390.02C230.5 390.74 229.75 392 229.5 392.4L229.5 392.4C229.25 392 228.5 390.74 228 390.02C227.5 389.3 226.42 388.99 226.5 388.11C226.58 387.23 228.42 385.62 228.5 384.74C228.58 383.86 227.83 383.55 227 382.83C226.17 382.1 224.08 381.13 223.5 380.39C222.92 379.66 222.75 379.22 223.5 378.42C224.25 377.62 227.5 376.53 228 375.58C228.5 374.62 226.25 373.72 226.5 372.68C226.75 371.63 229 369.87 229.5 369.31Z" fill="#fff" stroke="#222" stroke-width="0.6" stroke-linejoin="round"/>
<g fill="#7b72c9" stroke="#050505" stroke-width="0.55"><circle cx="229.5" cy="371.1" r="1.1"/><circle cx="231.6" cy="372.03" r="1.1"/><circle cx="229.5" cy="373.53" r="1.1"/><circle cx="231.25" cy="374.74" r="1.1"/><circle cx="229.5" cy="376.18" r="1.1"/><circle cx="231.6" cy="377.16" r="1.1"/><circle cx="227.75" cy="377.68" r="1.1"/><circle cx="225.65" cy="378.03" r="1.1"/><circle cx="229.85" cy="378.49" r="1.1"/><circle cx="232.65" cy="379.07" r="1.1"/><circle cx="234.75" cy="379.59" r="1.1"/><circle cx="228.1" cy="379.99" r="1.1"/><circle cx="230.9" cy="380.39" r="1.1"/><circle cx="226" cy="381.09" r="1.1"/><circle cx="233" cy="381.38" r="1.1"/><circle cx="229.5" cy="382.36" r="1.1"/><circle cx="231.6" cy="383.05" r="1.1"/><circle cx="229.5" cy="385.13" r="1.1"/><circle cx="230.55" cy="386.97" r="1.1"/><circle cx="228.45" cy="387.67" r="1.1"/><circle cx="231.6" cy="388.88" r="1.1"/><circle cx="229.5" cy="390.26" r="1.1"/></g>
<path d="M247.8 364.5C248.05 364.98 248.47 366.52 249.3 367.4C250.13 368.28 252.05 368.81 252.8 369.78C253.55 370.74 253.72 371.99 253.8 373.2C253.88 374.41 253.97 376.08 253.3 377.03C252.63 377.98 250.6 378.17 249.8 378.88C249 379.6 248.67 380.43 248.5 381.32C248.33 382.21 248.92 383.02 248.8 384.22C248.68 385.42 247.97 387.8 247.8 388.51L247.8 388.51C247.63 387.8 246.92 385.42 246.8 384.22C246.68 383.02 247.27 382.21 247.1 381.32C246.93 380.43 246.6 379.6 245.8 378.88C245 378.17 242.97 377.98 242.3 377.03C241.63 376.08 241.72 374.41 241.8 373.2C241.88 371.99 242.05 370.74 242.8 369.78C243.55 368.81 245.47 368.28 246.3 367.4C247.13 366.52 247.55 364.98 247.8 364.5Z" fill="#fff" stroke="#222" stroke-width="0.6" stroke-linejoin="round"/>
<g fill="#a9b45a" stroke="#111" stroke-width="0.5"><circle cx="247.38" cy="385.21" r="1.1"/><circle cx="248.23" cy="379.63" r="1.1"/><circle cx="244.69" cy="377.77" r="1.1"/><circle cx="250.12" cy="376.69" r="1.1"/><circle cx="247.69" cy="375.85" r="1.1"/><circle cx="252.04" cy="374.95" r="1.1"/><circle cx="245.57" cy="374.46" r="1.1"/><circle cx="243.32" cy="373.5" r="1.1"/><circle cx="249.43" cy="372.84" r="1.1"/><circle cx="245.17" cy="372" r="1.1"/><circle cx="251.73" cy="371.04" r="1.1"/><circle cx="248.37" cy="370.02" r="1.1"/><circle cx="246.26" cy="368.88" r="1.1"/><circle cx="247.21" cy="366.72" r="1.1"/></g>
<line x1="323.8" y1="227.3" x2="323.8" y2="295.05" stroke="#2b2b2b" stroke-width="1.55"/>
<line x1="323.05" y1="294.3" x2="366.3" y2="294.3" stroke="#2b2b2b" stroke-width="1.55"/>
<line x1="320.8" y1="294.3" x2="324.1" y2="294.3" stroke="#2b2b2b" stroke-width="1.1"/>
<text x="0" y="0" font-size="4.8" text-anchor="end" fill="#3a3a3a" transform="translate(317.7 296) scale(1.15 1)" stroke="#3a3a3a" stroke-width="0.12">0</text>
<line x1="320.8" y1="273.03" x2="324.1" y2="273.03" stroke="#2b2b2b" stroke-width="1.1"/>
<text x="0" y="0" font-size="4.8" text-anchor="end" fill="#3a3a3a" transform="translate(317.7 274.74) scale(1.15 1)" stroke="#3a3a3a" stroke-width="0.12">3</text>
<line x1="320.8" y1="251.77" x2="324.1" y2="251.77" stroke="#2b2b2b" stroke-width="1.1"/>
<text x="0" y="0" font-size="4.8" text-anchor="end" fill="#3a3a3a" transform="translate(317.7 253.47) scale(1.15 1)" stroke="#3a3a3a" stroke-width="0.12">6</text>
<line x1="320.8" y1="230.5" x2="324.1" y2="230.5" stroke="#2b2b2b" stroke-width="1.1"/>
<text x="0" y="0" font-size="4.8" text-anchor="end" fill="#3a3a3a" transform="translate(317.7 232.2) scale(1.15 1)" stroke="#3a3a3a" stroke-width="0.12">9</text>
<line x1="336.1" y1="294.3" x2="336.1" y2="296.7" stroke="#2b2b2b" stroke-width="1"/>
<line x1="354.4" y1="294.3" x2="354.4" y2="296.7" stroke="#2b2b2b" stroke-width="1"/>
<text x="0" y="0" font-size="6" text-anchor="middle" fill="#222" transform="translate(308.41 261) rotate(-90) scale(0.78 1)" stroke="#222" stroke-width="0.22">TIS score</text>
<path d="M336.1 239.4V236.6H354.4V239.4" fill="none" stroke="#222" stroke-width="1"/>
<text x="0" y="0" font-size="4.7" text-anchor="middle" fill="#222" transform="translate(345.25 233.6) scale(0.96 1)" stroke="#222" stroke-width="0.11"><tspan font-style="italic">P</tspan> = 0.0138</text>
<path d="M336.1 243.26C336.35 243.69 336.77 244.95 337.6 245.81C338.43 246.67 340.6 247.35 341.1 248.43C341.6 249.52 340.85 251.19 340.6 252.33C340.35 253.48 339.43 254.3 339.6 255.31C339.77 256.33 341.68 257.34 341.6 258.43C341.52 259.52 339.93 260.84 339.1 261.83C338.27 262.83 337.1 263.44 336.6 264.38C336.1 265.33 336.18 266.98 336.1 267.5L336.1 267.5C336.02 266.98 336.1 265.33 335.6 264.38C335.1 263.44 333.93 262.83 333.1 261.83C332.27 260.84 330.68 259.52 330.6 258.43C330.52 257.34 332.43 256.33 332.6 255.31C332.77 254.3 331.85 253.48 331.6 252.33C331.35 251.19 330.6 249.52 331.1 248.43C331.6 247.35 333.77 246.67 334.6 245.81C335.43 244.95 335.85 243.69 336.1 243.26Z" fill="#fff" stroke="#222" stroke-width="0.65" stroke-linejoin="round"/>
<g fill="#ae0c1a" stroke="#1a1a1a" stroke-width="0.4"><circle cx="331.23" cy="248.85" r="1.35"/><circle cx="334.52" cy="250.41" r="1.35"/><circle cx="337.81" cy="249.89" r="1.35"/><circle cx="341.02" cy="248.68" r="1.35"/><circle cx="331.23" cy="251.88" r="1.35"/><circle cx="337.81" cy="253.18" r="1.35"/><circle cx="331.23" cy="254.91" r="1.35"/><circle cx="334.52" cy="257.08" r="1.35"/><circle cx="337.81" cy="257.94" r="1.35"/><circle cx="341.02" cy="258.38" r="1.35"/><circle cx="331.23" cy="259.24" r="1.35"/><circle cx="337.81" cy="260.54" r="1.35"/><circle cx="334.52" cy="262.53" r="1.35"/></g>
<path d="M354.4 244.11C354.48 244.76 354.32 246.85 354.9 248.01C355.48 249.17 357.15 249.91 357.9 251.06C358.65 252.2 359.48 253.66 359.4 254.89C359.32 256.11 358.07 257.13 357.4 258.43C356.73 259.73 355.32 261.38 355.4 262.68C355.48 263.98 357.1 265.07 357.9 266.23C358.7 267.39 360.2 268.48 360.2 269.63C360.2 270.78 358.73 271.8 357.9 273.1C357.07 274.4 355.78 275.69 355.2 277.43C354.62 279.17 354.53 282.51 354.4 283.52L354.4 283.52C354.27 282.51 354.18 279.17 353.6 277.43C353.02 275.69 351.73 274.4 350.9 273.1C350.07 271.8 348.6 270.78 348.6 269.63C348.6 268.48 350.1 267.39 350.9 266.23C351.7 265.07 353.32 263.98 353.4 262.68C353.48 261.38 352.07 259.73 351.4 258.43C350.73 257.13 349.48 256.11 349.4 254.89C349.32 253.66 350.15 252.2 350.9 251.06C351.65 249.91 353.32 249.17 353.9 248.01C354.48 246.85 354.32 244.76 354.4 244.11Z" fill="#fff" stroke="#222" stroke-width="0.65" stroke-linejoin="round"/>
<g fill="#4a90d2" stroke="#1a1a1a" stroke-width="0.4"><circle cx="354.44" cy="254.48" r="1.2"/><circle cx="359.46" cy="253.35" r="1.2"/><circle cx="351.41" cy="257.34" r="1.2"/><circle cx="356.86" cy="258.55" r="1.2"/><circle cx="349.68" cy="269.63" r="1.2"/><circle cx="354.44" cy="268.33" r="1.2"/><circle cx="359.46" cy="270.06" r="1.2"/><circle cx="354.44" cy="270.67" r="1.2"/><circle cx="354.44" cy="274.65" r="1.2"/></g>
<text x="336.1" y="304.5" font-size="5.6" text-anchor="middle" fill="#222" stroke="#222" stroke-width="0.13"><tspan font-style="italic">TP53</tspan></text>
<text x="336.1" y="311.1" font-size="5.6" text-anchor="middle" fill="#222" stroke="#222" stroke-width="0.13">mut</text>
<text x="355.4" y="304.5" font-size="5.6" text-anchor="middle" fill="#222" stroke="#222" stroke-width="0.13">CK with</text>
<text x="355.4" y="311.1" font-size="5.6" text-anchor="middle" fill="#222" stroke="#222" stroke-width="0.13">wt <tspan font-style="italic">TP53</tspan></text>
<line x1="396.5" y1="228" x2="396.5" y2="294.45" stroke="#2b2b2b" stroke-width="1.55"/>
<line x1="395.75" y1="293.7" x2="432.9" y2="293.7" stroke="#2b2b2b" stroke-width="1.55"/>
<line x1="393.5" y1="293.7" x2="396.8" y2="293.7" stroke="#2b2b2b" stroke-width="1.1"/>
<text x="0" y="0" font-size="4.8" text-anchor="end" fill="#3a3a3a" transform="translate(390.4 295.4) scale(1.15 1)" stroke="#3a3a3a" stroke-width="0.12">0</text>
<line x1="393.5" y1="277.7" x2="396.8" y2="277.7" stroke="#2b2b2b" stroke-width="1.1"/>
<text x="0" y="0" font-size="4.8" text-anchor="end" fill="#3a3a3a" transform="translate(390.4 279.4) scale(1.15 1)" stroke="#3a3a3a" stroke-width="0.12">2</text>
<line x1="393.5" y1="261.7" x2="396.8" y2="261.7" stroke="#2b2b2b" stroke-width="1.1"/>
<text x="0" y="0" font-size="4.8" text-anchor="end" fill="#3a3a3a" transform="translate(390.4 263.4) scale(1.15 1)" stroke="#3a3a3a" stroke-width="0.12">4</text>
<line x1="393.5" y1="245.7" x2="396.8" y2="245.7" stroke="#2b2b2b" stroke-width="1.1"/>
<text x="0" y="0" font-size="4.8" text-anchor="end" fill="#3a3a3a" transform="translate(390.4 247.4) scale(1.15 1)" stroke="#3a3a3a" stroke-width="0.12">6</text>
<line x1="393.5" y1="229.7" x2="396.8" y2="229.7" stroke="#2b2b2b" stroke-width="1.1"/>
<text x="0" y="0" font-size="4.8" text-anchor="end" fill="#3a3a3a" transform="translate(390.4 231.4) scale(1.15 1)" stroke="#3a3a3a" stroke-width="0.12">8</text>
<line x1="408.3" y1="293.7" x2="408.3" y2="296.1" stroke="#2b2b2b" stroke-width="1"/>
<line x1="426.4" y1="293.7" x2="426.4" y2="296.1" stroke="#2b2b2b" stroke-width="1"/>
<text x="0" y="0" font-size="6.65" text-anchor="middle" fill="#222" transform="translate(381.83 259.9) rotate(-90) scale(0.78 1)" stroke="#222" stroke-width="0.22">Inflammatory chemokine score</text>
<path d="M408.3 240.7V237.1H426.4V244.5" fill="none" stroke="#222" stroke-width="1"/>
<text x="0" y="0" font-size="4.7" text-anchor="middle" fill="#222" transform="translate(417.35 234.2) scale(0.96 1)" stroke="#222" stroke-width="0.11"><tspan font-style="italic">P</tspan> = 0.0052</text>
<path d="M408.3 248.34C408.55 248.97 409.38 250.99 409.8 252.1C410.22 253.21 410.97 253.87 410.8 254.98C410.63 256.09 408.63 257.62 408.8 258.74C408.97 259.86 410.97 260.89 411.8 261.7C412.63 262.51 413.47 262.59 413.8 263.62C414.13 264.65 413.88 266.59 413.8 267.86C413.72 269.13 413.97 270.03 413.3 271.22C412.63 272.41 410.5 273.55 409.8 274.98C409.1 276.41 409.15 278.03 409.1 279.78C409.05 281.53 409.63 283.79 409.5 285.46C409.37 287.13 408.5 289.06 408.3 289.78L408.3 289.78C408.1 289.06 407.23 287.13 407.1 285.46C406.97 283.79 407.55 281.53 407.5 279.78C407.45 278.03 407.5 276.41 406.8 274.98C406.1 273.55 403.97 272.41 403.3 271.22C402.63 270.03 402.88 269.13 402.8 267.86C402.72 266.59 402.47 264.65 402.8 263.62C403.13 262.59 403.97 262.51 404.8 261.7C405.63 260.89 407.63 259.86 407.8 258.74C407.97 257.62 405.97 256.09 405.8 254.98C405.63 253.87 406.38 253.21 406.8 252.1C407.22 250.99 408.05 248.97 408.3 248.34Z" fill="#fff" stroke="#222" stroke-width="0.65" stroke-linejoin="round"/>
<g fill="#ae0c1a" stroke="#1a1a1a" stroke-width="0.4"><circle cx="406.76" cy="255.19" r="1.35"/><circle cx="409.9" cy="255.48" r="1.35"/><circle cx="403.52" cy="263.38" r="1.35"/><circle cx="413.24" cy="263.76" r="1.35"/><circle cx="409.9" cy="265.67" r="1.35"/><circle cx="406.76" cy="266.9" r="1.35"/><circle cx="403.52" cy="268.33" r="1.35"/><circle cx="406.76" cy="269.48" r="1.35"/><circle cx="413.24" cy="270.43" r="1.35"/><circle cx="403.52" cy="271.67" r="1.35"/><circle cx="409.9" cy="271.95" r="1.35"/><circle cx="408.29" cy="276.9" r="1.35"/><circle cx="408.29" cy="285.29" r="1.35"/></g>
<path d="M426.4 254.98C426.53 255.61 426.95 257.55 427.2 258.74C427.45 259.93 427.87 260.97 427.9 262.1C427.93 263.23 427.15 264.58 427.4 265.54C427.65 266.5 428.73 266.91 429.4 267.86C430.07 268.81 430.98 269.86 431.4 271.22C431.82 272.58 431.9 274.53 431.9 276.02C431.9 277.51 431.9 279.09 431.4 280.18C430.9 281.27 429.65 281.86 428.9 282.58C428.15 283.3 427.32 283.7 426.9 284.5C426.48 285.3 426.48 286.9 426.4 287.38L426.4 287.38C426.32 286.9 426.32 285.3 425.9 284.5C425.48 283.7 424.65 283.3 423.9 282.58C423.15 281.86 421.9 281.27 421.4 280.18C420.9 279.09 420.9 277.51 420.9 276.02C420.9 274.53 420.98 272.58 421.4 271.22C421.82 269.86 422.73 268.81 423.4 267.86C424.07 266.91 425.15 266.5 425.4 265.54C425.65 264.58 424.87 263.23 424.9 262.1C424.93 260.97 425.35 259.93 425.6 258.74C425.85 257.55 426.27 255.61 426.4 254.98Z" fill="#fff" stroke="#222" stroke-width="0.65" stroke-linejoin="round"/>
<g fill="#4a90d2" stroke="#1a1a1a" stroke-width="0.4"><circle cx="426.38" cy="262.14" r="1.2"/><circle cx="422" cy="271.67" r="1.2"/><circle cx="426.38" cy="270.43" r="1.2"/><circle cx="426.38" cy="273.57" r="1.2"/><circle cx="421.62" cy="276.14" r="1.2"/><circle cx="431.52" cy="277.1" r="1.2"/><circle cx="426.38" cy="278.33" r="1.2"/><circle cx="421.62" cy="280.52" r="1.2"/><circle cx="431.52" cy="280.52" r="1.2"/></g>
<text x="408.3" y="303.9" font-size="5.6" text-anchor="middle" fill="#222" stroke="#222" stroke-width="0.13"><tspan font-style="italic">TP53</tspan></text>
<text x="408.3" y="310.5" font-size="5.6" text-anchor="middle" fill="#222" stroke="#222" stroke-width="0.13">mut</text>
<text x="427.4" y="303.9" font-size="5.6" text-anchor="middle" fill="#222" stroke="#222" stroke-width="0.13">CK with</text>
<text x="427.4" y="310.5" font-size="5.6" text-anchor="middle" fill="#222" stroke="#222" stroke-width="0.13">wt <tspan font-style="italic">TP53</tspan></text>
<line x1="470.1" y1="228" x2="470.1" y2="294.45" stroke="#2b2b2b" stroke-width="1.55"/>
<line x1="469.35" y1="293.7" x2="513.4" y2="293.7" stroke="#2b2b2b" stroke-width="1.55"/>
<line x1="467.1" y1="293.7" x2="470.4" y2="293.7" stroke="#2b2b2b" stroke-width="1.1"/>
<text x="0" y="0" font-size="4.8" text-anchor="end" fill="#3a3a3a" transform="translate(464 295.4) scale(1.15 1)" stroke="#3a3a3a" stroke-width="0.12">-3</text>
<line x1="467.1" y1="277.7" x2="470.4" y2="277.7" stroke="#2b2b2b" stroke-width="1.1"/>
<text x="0" y="0" font-size="4.8" text-anchor="end" fill="#3a3a3a" transform="translate(464 279.4) scale(1.15 1)" stroke="#3a3a3a" stroke-width="0.12">0</text>
<line x1="467.1" y1="261.7" x2="470.4" y2="261.7" stroke="#2b2b2b" stroke-width="1.1"/>
<text x="0" y="0" font-size="4.8" text-anchor="end" fill="#3a3a3a" transform="translate(464 263.4) scale(1.15 1)" stroke="#3a3a3a" stroke-width="0.12">3</text>
<line x1="467.1" y1="245.7" x2="470.4" y2="245.7" stroke="#2b2b2b" stroke-width="1.1"/>
<text x="0" y="0" font-size="4.8" text-anchor="end" fill="#3a3a3a" transform="translate(464 247.4) scale(1.15 1)" stroke="#3a3a3a" stroke-width="0.12">6</text>
<line x1="467.1" y1="229.7" x2="470.4" y2="229.7" stroke="#2b2b2b" stroke-width="1.1"/>
<text x="0" y="0" font-size="4.8" text-anchor="end" fill="#3a3a3a" transform="translate(464 231.4) scale(1.15 1)" stroke="#3a3a3a" stroke-width="0.12">9</text>
<line x1="482.4" y1="293.7" x2="482.4" y2="296.1" stroke="#2b2b2b" stroke-width="1"/>
<line x1="500.6" y1="293.7" x2="500.6" y2="296.1" stroke="#2b2b2b" stroke-width="1"/>
<line x1="470.9" y1="277.7" x2="513.4" y2="277.7" stroke="#222" stroke-width="0.7" stroke-dasharray="1.2 1.3"/>
<text x="0" y="0" font-size="6.8" text-anchor="middle" fill="#222" transform="translate(454.74 260.7) rotate(-90) scale(0.78 1)" stroke="#222" stroke-width="0.22">IFN-γ score</text>
<path d="M482.2 239.7V236.2H500.6V253.7" fill="none" stroke="#222" stroke-width="1"/>
<text x="0" y="0" font-size="4.7" text-anchor="middle" fill="#222" transform="translate(491.4 233.2) scale(0.96 1)" stroke="#222" stroke-width="0.11"><tspan font-style="italic">P</tspan> = 0.0019</text>
<path d="M482.4 242.29C482.57 242.97 482.98 245.36 483.4 246.39C483.82 247.42 484.48 247.61 484.9 248.47C485.32 249.34 485.78 250.35 485.9 251.57C486.02 252.78 485.63 254.05 485.6 255.78C485.57 257.51 485.57 260.23 485.7 261.97C485.83 263.7 486.03 264.96 486.4 266.18C486.77 267.4 487.9 268.23 487.9 269.27C487.9 270.31 487.07 271.38 486.4 272.42C485.73 273.46 484.57 274.14 483.9 275.51C483.23 276.89 482.65 279.82 482.4 280.69L482.4 280.69C482.15 279.82 481.57 276.89 480.9 275.51C480.23 274.14 479.07 273.46 478.4 272.42C477.73 271.38 476.9 270.31 476.9 269.27C476.9 268.23 478.03 267.4 478.4 266.18C478.77 264.96 478.97 263.7 479.1 261.97C479.23 260.23 479.23 257.51 479.2 255.78C479.17 254.05 478.78 252.78 478.9 251.57C479.02 250.35 479.48 249.34 479.9 248.47C480.32 247.61 480.98 247.42 481.4 246.39C481.82 245.36 482.23 242.97 482.4 242.29Z" fill="#fff" stroke="#222" stroke-width="0.65" stroke-linejoin="round"/>
<g fill="#ae0c1a" stroke="#1a1a1a" stroke-width="0.4"><circle cx="480.1" cy="251.62" r="1.35"/><circle cx="484.99" cy="250.58" r="1.35"/><circle cx="484.99" cy="253.91" r="1.35"/><circle cx="482.39" cy="257.13" r="1.35"/><circle cx="481.14" cy="261.49" r="1.35"/><circle cx="483.64" cy="260.77" r="1.35"/><circle cx="482.39" cy="264.61" r="1.35"/><circle cx="477.4" cy="270.32" r="1.35"/><circle cx="479.79" cy="270.12" r="1.35"/><circle cx="482.39" cy="270.12" r="1.35"/><circle cx="484.99" cy="270.12" r="1.35"/><circle cx="487.38" cy="268.25" r="1.35"/><circle cx="487.38" cy="271.88" r="1.35"/></g>
<path d="M500.6 256.79C500.77 257.41 501.35 259.44 501.6 260.47C501.85 261.5 502.07 262.03 502.1 262.98C502.13 263.93 501.38 264.96 501.8 266.18C502.22 267.4 503.8 269.09 504.6 270.29C505.4 271.49 506.85 272.24 506.6 273.38C506.35 274.52 503.93 275.9 503.1 277.11C502.27 278.33 501.82 279.39 501.6 280.69C501.38 281.98 501.97 283.33 501.8 284.9C501.63 286.47 500.8 289.26 500.6 290.13L500.6 290.13C500.4 289.26 499.57 286.47 499.4 284.9C499.23 283.33 499.82 281.98 499.6 280.69C499.38 279.39 498.93 278.33 498.1 277.11C497.27 275.9 494.85 274.52 494.6 273.38C494.35 272.24 495.8 271.49 496.6 270.29C497.4 269.09 498.98 267.4 499.4 266.18C499.82 264.96 499.07 263.93 499.1 262.98C499.13 262.03 499.35 261.5 499.6 260.47C499.85 259.44 500.43 257.41 500.6 256.79Z" fill="#fff" stroke="#222" stroke-width="0.65" stroke-linejoin="round"/>
<g fill="#4a90d2" stroke="#1a1a1a" stroke-width="0.4"><circle cx="500.57" cy="262.84" r="1.2"/><circle cx="500.57" cy="266.38" r="1.2"/><circle cx="502.34" cy="270.53" r="1.2"/><circle cx="498.49" cy="273.23" r="1.2"/><circle cx="500.57" cy="273.65" r="1.2"/><circle cx="505.25" cy="273.23" r="1.2"/><circle cx="502.34" cy="274.48" r="1.2"/><circle cx="495.69" cy="273.65" r="1.2"/><circle cx="500.57" cy="277.39" r="1.2"/><circle cx="500.57" cy="284.35" r="1.2"/></g>
<text x="482.4" y="303.9" font-size="5.6" text-anchor="middle" fill="#222" stroke="#222" stroke-width="0.13"><tspan font-style="italic">TP53</tspan></text>
<text x="482.4" y="310.5" font-size="5.6" text-anchor="middle" fill="#222" stroke="#222" stroke-width="0.13">mut</text>
<text x="501.6" y="303.9" font-size="5.6" text-anchor="middle" fill="#222" stroke="#222" stroke-width="0.13">CK with</text>
<text x="501.6" y="310.5" font-size="5.6" text-anchor="middle" fill="#222" stroke="#222" stroke-width="0.13">wt <tspan font-style="italic">TP53</tspan></text>
<line x1="322.7" y1="340.8" x2="322.7" y2="407.25" stroke="#2b2b2b" stroke-width="1.55"/>
<line x1="321.95" y1="406.5" x2="366.5" y2="406.5" stroke="#2b2b2b" stroke-width="1.55"/>
<line x1="319.7" y1="406.5" x2="323" y2="406.5" stroke="#2b2b2b" stroke-width="1.1"/>
<text x="0" y="0" font-size="4.8" text-anchor="end" fill="#3a3a3a" transform="translate(316.6 408.2) scale(1.15 1)" stroke="#3a3a3a" stroke-width="0.12">2</text>
<line x1="319.7" y1="390.52" x2="323" y2="390.52" stroke="#2b2b2b" stroke-width="1.1"/>
<text x="0" y="0" font-size="4.8" text-anchor="end" fill="#3a3a3a" transform="translate(316.6 392.23) scale(1.15 1)" stroke="#3a3a3a" stroke-width="0.12">4</text>
<line x1="319.7" y1="374.55" x2="323" y2="374.55" stroke="#2b2b2b" stroke-width="1.1"/>
<text x="0" y="0" font-size="4.8" text-anchor="end" fill="#3a3a3a" transform="translate(316.6 376.25) scale(1.15 1)" stroke="#3a3a3a" stroke-width="0.12">6</text>
<line x1="319.7" y1="358.58" x2="323" y2="358.58" stroke="#2b2b2b" stroke-width="1.1"/>
<text x="0" y="0" font-size="4.8" text-anchor="end" fill="#3a3a3a" transform="translate(316.6 360.28) scale(1.15 1)" stroke="#3a3a3a" stroke-width="0.12">8</text>
<line x1="319.7" y1="342.6" x2="323" y2="342.6" stroke="#2b2b2b" stroke-width="1.1"/>
<text x="0" y="0" font-size="4.8" text-anchor="end" fill="#3a3a3a" transform="translate(316.6 344.3) scale(1.15 1)" stroke="#3a3a3a" stroke-width="0.12">10</text>
<line x1="335.9" y1="406.5" x2="335.9" y2="408.9" stroke="#2b2b2b" stroke-width="1"/>
<line x1="354.4" y1="406.5" x2="354.4" y2="408.9" stroke="#2b2b2b" stroke-width="1"/>
<text x="0" y="0" font-size="6.5" text-anchor="middle" fill="#222" transform="translate(306.59 373) rotate(-90) scale(0.78 1)" stroke="#222" stroke-width="0.22">Lymphoid score</text>
<path d="M335.9 353.4V350.3H354.6V352.6" fill="none" stroke="#222" stroke-width="1"/>
<text x="0" y="0" font-size="4.7" text-anchor="middle" fill="#222" transform="translate(345.25 346.6) scale(0.96 1)" stroke="#222" stroke-width="0.11"><tspan font-style="italic">P</tspan> = 0.0056</text>
<path d="M335.9 356.5C336.07 357.02 336.23 358.67 336.9 359.61C337.57 360.56 339.15 361.3 339.9 362.17C340.65 363.03 341.15 363.5 341.4 364.81C341.65 366.11 341.4 368.44 341.4 370C341.4 371.55 341.9 373.13 341.4 374.15C340.9 375.18 339.23 375.55 338.4 376.15C337.57 376.75 336.82 377.21 336.4 377.75C335.98 378.28 335.98 379.08 335.9 379.34L335.9 379.34C335.82 379.08 335.82 378.28 335.4 377.75C334.98 377.21 334.23 376.75 333.4 376.15C332.57 375.55 330.9 375.18 330.4 374.15C329.9 373.13 330.4 371.55 330.4 370C330.4 368.44 330.15 366.11 330.4 364.81C330.65 363.5 331.15 363.03 331.9 362.17C332.65 361.3 334.23 360.56 334.9 359.61C335.57 358.67 335.73 357.02 335.9 356.5Z" fill="#fff" stroke="#222" stroke-width="0.65" stroke-linejoin="round"/>
<g fill="#ae0c1a" stroke="#1a1a1a" stroke-width="0.4"><circle cx="335.91" cy="361.18" r="1.35"/><circle cx="334.35" cy="364.61" r="1.35"/><circle cx="337.68" cy="364.61" r="1.35"/><circle cx="340.79" cy="364.3" r="1.35"/><circle cx="331.23" cy="368.14" r="1.35"/><circle cx="334.56" cy="367.94" r="1.35"/><circle cx="340.79" cy="368.77" r="1.35"/><circle cx="331.23" cy="371.26" r="1.35"/><circle cx="334.56" cy="372.3" r="1.35"/><circle cx="337.68" cy="370.22" r="1.35"/><circle cx="340.79" cy="371.05" r="1.35"/><circle cx="331.23" cy="374.38" r="1.35"/><circle cx="337.68" cy="373.96" r="1.35"/><circle cx="340.79" cy="373.34" r="1.35"/></g>
<path d="M354.4 356.98C354.57 357.59 354.98 359.35 355.4 360.65C355.82 361.96 356.73 363.25 356.9 364.81C357.07 366.36 356.62 368.44 356.4 370C356.18 371.55 355.27 372.77 355.6 374.15C355.93 375.54 357.6 376.91 358.4 378.3C359.2 379.7 360.4 381.15 360.4 382.54C360.4 383.92 359.15 385.24 358.4 386.61C357.65 387.98 356.57 389.03 355.9 390.76C355.23 392.5 354.65 395.96 354.4 396.99L354.4 396.99C354.15 395.96 353.57 392.5 352.9 390.76C352.23 389.03 351.15 387.98 350.4 386.61C349.65 385.24 348.4 383.92 348.4 382.54C348.4 381.15 349.6 379.7 350.4 378.3C351.2 376.91 352.87 375.54 353.2 374.15C353.53 372.77 352.62 371.55 352.4 370C352.18 368.44 351.73 366.36 351.9 364.81C352.07 363.25 352.98 361.96 353.4 360.65C353.82 359.35 354.23 357.59 354.4 356.98Z" fill="#fff" stroke="#222" stroke-width="0.65" stroke-linejoin="round"/>
<g fill="#4a90d2" stroke="#1a1a1a" stroke-width="0.4"><circle cx="354.4" cy="365.65" r="1.2"/><circle cx="354.4" cy="370.22" r="1.2"/><circle cx="354.4" cy="372.92" r="1.2"/><circle cx="349.62" cy="379.88" r="1.2"/><circle cx="354.4" cy="381.23" r="1.2"/><circle cx="359.08" cy="382.27" r="1.2"/><circle cx="354.4" cy="384.35" r="1.2"/><circle cx="356.69" cy="386.64" r="1.2"/><circle cx="352.01" cy="387.88" r="1.2"/></g>
<text x="335.9" y="416.7" font-size="5.6" text-anchor="middle" fill="#222" stroke="#222" stroke-width="0.13"><tspan font-style="italic">TP53</tspan></text>
<text x="335.9" y="423.3" font-size="5.6" text-anchor="middle" fill="#222" stroke="#222" stroke-width="0.13">mut</text>
<text x="355.4" y="416.7" font-size="5.6" text-anchor="middle" fill="#222" stroke="#222" stroke-width="0.13">CK with</text>
<text x="355.4" y="423.3" font-size="5.6" text-anchor="middle" fill="#222" stroke="#222" stroke-width="0.13">wt <tspan font-style="italic">TP53</tspan></text>
<line x1="30.5" y1="476.3" x2="30.5" y2="558.75" stroke="#2b2b2b" stroke-width="1.55"/>
<line x1="29.75" y1="558" x2="83" y2="558" stroke="#2b2b2b" stroke-width="1.55"/>
<line x1="27.1" y1="551.75" x2="30.8" y2="551.75" stroke="#2b2b2b" stroke-width="1.1"/>
<text x="0" y="0" font-size="4.8" text-anchor="end" fill="#3a3a3a" transform="translate(23.9 553.45) scale(1.15 1)" stroke="#3a3a3a" stroke-width="0.12">0</text>
<line x1="27.1" y1="533.5" x2="30.8" y2="533.5" stroke="#2b2b2b" stroke-width="1.1"/>
<text x="0" y="0" font-size="4.8" text-anchor="end" fill="#3a3a3a" transform="translate(23.9 535.2) scale(1.15 1)" stroke="#3a3a3a" stroke-width="0.12">3</text>
<line x1="27.1" y1="515.25" x2="30.8" y2="515.25" stroke="#2b2b2b" stroke-width="1.1"/>
<text x="0" y="0" font-size="4.8" text-anchor="end" fill="#3a3a3a" transform="translate(23.9 516.95) scale(1.15 1)" stroke="#3a3a3a" stroke-width="0.12">6</text>
<line x1="27.1" y1="497" x2="30.8" y2="497" stroke="#2b2b2b" stroke-width="1.1"/>
<text x="0" y="0" font-size="4.8" text-anchor="end" fill="#3a3a3a" transform="translate(23.9 498.7) scale(1.15 1)" stroke="#3a3a3a" stroke-width="0.12">9</text>
<line x1="27.1" y1="478.75" x2="30.8" y2="478.75" stroke="#2b2b2b" stroke-width="1.1"/>
<text x="0" y="0" font-size="4.8" text-anchor="end" fill="#3a3a3a" transform="translate(23.9 480.45) scale(1.15 1)" stroke="#3a3a3a" stroke-width="0.12">12</text>
<line x1="45.5" y1="558" x2="45.5" y2="560.4" stroke="#2b2b2b" stroke-width="1"/>
<line x1="68.4" y1="558" x2="68.4" y2="560.4" stroke="#2b2b2b" stroke-width="1"/>
<line x1="31.3" y1="551.75" x2="83" y2="551.75" stroke="#222" stroke-width="0.7" stroke-dasharray="1.2 1.3"/>
<text x="0" y="0" font-size="7" text-anchor="middle" fill="#222" transform="translate(13.1 516.2) rotate(-90) scale(0.73 1)" stroke="#222" stroke-width="0.22"><tspan font-style="italic">PD-L1</tspan>  mRNA (log<tspan font-size="4" dy="1.5">2</tspan><tspan dy="-1.5">)</tspan></text>
<path d="M45.5 489V485H68.4V497.9" fill="none" stroke="#222" stroke-width="1"/>
<text x="0" y="0" font-size="4.7" text-anchor="middle" fill="#222" transform="translate(56.95 480.5) scale(0.96 1)" stroke="#222" stroke-width="0.11"><tspan font-style="italic">P</tspan> &lt; 0.0001</text>
<path d="M45.5 492.74C45.75 493.47 46.5 495.66 47 497.12C47.5 498.58 48.55 499.9 48.5 501.5C48.45 503.1 46.53 505 46.7 506.73C46.87 508.47 48.7 510.19 49.5 511.9C50.3 513.62 51.33 515.3 51.5 517.01C51.67 518.73 50.5 520.45 50.5 522.18C50.5 523.92 51.58 525.69 51.5 527.42C51.42 529.14 50.75 530.93 50 532.53C49.25 534.12 47.75 535.24 47 536.97C46.25 538.69 45.75 541.88 45.5 542.87L45.5 542.87C45.25 541.88 44.75 538.69 44 536.97C43.25 535.24 41.75 534.12 41 532.53C40.25 530.93 39.58 529.14 39.5 527.42C39.42 525.69 40.5 523.92 40.5 522.18C40.5 520.45 39.33 518.73 39.5 517.01C39.67 515.3 40.7 513.62 41.5 511.9C42.3 510.19 44.13 508.47 44.3 506.73C44.47 505 42.55 503.1 42.5 501.5C42.45 499.9 43.5 498.58 44 497.12C44.5 495.66 45.25 493.47 45.5 492.74Z" fill="#fff" stroke="#222" stroke-width="0.65" stroke-linejoin="round"/>
<g fill="#ae0c1a" stroke="#1a1a1a" stroke-width="0.4"><circle cx="40.67" cy="501.99" r="1.3"/><circle cx="45.98" cy="503.02" r="1.3"/><circle cx="40.08" cy="515.12" r="1.3"/><circle cx="45.54" cy="515.56" r="1.3"/><circle cx="50.7" cy="515.12" r="1.3"/><circle cx="45.54" cy="518.95" r="1.3"/><circle cx="40.08" cy="517.77" r="1.3"/><circle cx="50.7" cy="518.51" r="1.3"/><circle cx="40.08" cy="526.92" r="1.3"/><circle cx="45.54" cy="525.88" r="1.3"/><circle cx="50.7" cy="525.15" r="1.3"/><circle cx="45.54" cy="529.87" r="1.3"/><circle cx="50.7" cy="528.1" r="1.3"/><circle cx="45.54" cy="533.7" r="1.3"/></g>
<path d="M68.4 506.73C68.65 507.6 69.23 510.06 69.9 511.9C70.57 513.75 71.57 515.6 72.4 517.8C73.23 520.01 74.32 523.14 74.9 525.11C75.48 527.07 75.98 527.87 75.9 529.61C75.82 531.34 75.07 533.79 74.4 535.51C73.73 537.22 72.65 538.17 71.9 539.89C71.15 541.6 70.32 543.81 69.9 545.79C69.48 547.77 69.65 550.15 69.4 551.75C69.15 553.35 68.57 554.79 68.4 555.4L68.4 555.4C68.23 554.79 67.65 553.35 67.4 551.75C67.15 550.15 67.32 547.77 66.9 545.79C66.48 543.81 65.65 541.6 64.9 539.89C64.15 538.17 63.07 537.22 62.4 535.51C61.73 533.79 60.98 531.34 60.9 529.61C60.82 527.87 61.32 527.07 61.9 525.11C62.48 523.14 63.57 520.01 64.4 517.8C65.23 515.6 66.23 513.75 66.9 511.9C67.57 510.06 68.15 507.6 68.4 506.73Z" fill="#fff" stroke="#222" stroke-width="0.65" stroke-linejoin="round"/>
<g fill="#336ba6" stroke="#0d1520" stroke-width="0.5"><circle cx="68.4" cy="509.05" r="1"/><circle cx="69.1" cy="511.11" r="1"/><circle cx="67" cy="512.09" r="1"/><circle cx="70.15" cy="513.06" r="1"/><circle cx="68.4" cy="514.64" r="1"/><circle cx="70.5" cy="515.25" r="1"/><circle cx="66.3" cy="515.49" r="1"/><circle cx="68.4" cy="517.2" r="1"/><circle cx="70.5" cy="517.68" r="1"/><circle cx="66.3" cy="518.05" r="1"/><circle cx="72.25" cy="519.02" r="1"/><circle cx="68.4" cy="519.51" r="1"/><circle cx="64.9" cy="519.75" r="1"/><circle cx="70.5" cy="520.24" r="1"/><circle cx="66.65" cy="520.97" r="1"/><circle cx="72.95" cy="521.09" r="1"/><circle cx="63.85" cy="521.58" r="1"/><circle cx="68.75" cy="521.82" r="1"/><circle cx="70.85" cy="522.43" r="1"/><circle cx="65.6" cy="522.79" r="1"/><circle cx="72.95" cy="523.28" r="1"/><circle cx="67.7" cy="523.64" r="1"/><circle cx="63.5" cy="523.89" r="1"/><circle cx="69.8" cy="524.38" r="1"/><circle cx="65.95" cy="524.98" r="1"/><circle cx="71.9" cy="525.11" r="1"/><circle cx="74" cy="525.47" r="1"/><circle cx="62.45" cy="525.71" r="1"/><circle cx="68.4" cy="526.08" r="1"/><circle cx="70.5" cy="526.69" r="1"/><circle cx="65.25" cy="527.05" r="1"/><circle cx="72.6" cy="527.17" r="1"/><circle cx="75.05" cy="527.42" r="1"/><circle cx="63.15" cy="527.78" r="1"/><circle cx="67.7" cy="528.15" r="1"/><circle cx="69.8" cy="528.88" r="1"/><circle cx="73.65" cy="529" r="1"/><circle cx="65.6" cy="529.24" r="1"/><circle cx="61.75" cy="529.49" r="1"/><circle cx="71.55" cy="530.22" r="1"/><circle cx="68.05" cy="530.34" r="1"/><circle cx="63.85" cy="530.58" r="1"/><circle cx="74.7" cy="530.95" r="1"/><circle cx="69.8" cy="531.55" r="1"/><circle cx="66.3" cy="531.8" r="1"/><circle cx="62.1" cy="531.92" r="1"/><circle cx="72.6" cy="532.16" r="1"/><circle cx="68.05" cy="533.01" r="1"/><circle cx="64.55" cy="533.26" r="1"/><circle cx="70.85" cy="533.5" r="1"/><circle cx="74" cy="533.74" r="1"/><circle cx="62.45" cy="534.11" r="1"/><circle cx="66.3" cy="534.47" r="1"/><circle cx="69.1" cy="534.84" r="1"/><circle cx="72.25" cy="535.08" r="1"/><circle cx="64.55" cy="535.69" r="1"/><circle cx="67.7" cy="536.54" r="1"/><circle cx="70.15" cy="536.78" r="1"/><circle cx="72.25" cy="537.27" r="1"/><circle cx="65.95" cy="537.76" r="1"/><circle cx="68.4" cy="538.61" r="1"/><circle cx="70.5" cy="539.1" r="1"/><circle cx="66.65" cy="539.83" r="1"/><circle cx="68.75" cy="540.92" r="1"/><circle cx="70.85" cy="541.53" r="1"/><circle cx="67.35" cy="542.5" r="1"/><circle cx="69.45" cy="543.11" r="1"/><circle cx="68.4" cy="545.18" r="1"/><circle cx="68.4" cy="547.98" r="1"/><circle cx="68.4" cy="550.9" r="1"/></g>
<text x="45.5" y="568.5" font-size="5.4" text-anchor="middle" fill="#222" stroke="#222" stroke-width="0.13"><tspan font-style="italic">TP53</tspan>-mut.</text>
<text x="68.4" y="568.5" font-size="5.4" text-anchor="middle" fill="#222" stroke="#222" stroke-width="0.13">Other</text>
<line x1="122" y1="476.3" x2="122" y2="558.25" stroke="#2b2b2b" stroke-width="1.55"/>
<line x1="121.25" y1="557.5" x2="175" y2="557.5" stroke="#2b2b2b" stroke-width="1.55"/>
<line x1="118.6" y1="557.75" x2="122.3" y2="557.75" stroke="#2b2b2b" stroke-width="1.1"/>
<text x="0" y="0" font-size="4.8" text-anchor="end" fill="#3a3a3a" transform="translate(115.4 559.45) scale(1.15 1)" stroke="#3a3a3a" stroke-width="0.12">0</text>
<line x1="118.6" y1="538" x2="122.3" y2="538" stroke="#2b2b2b" stroke-width="1.1"/>
<text x="0" y="0" font-size="4.8" text-anchor="end" fill="#3a3a3a" transform="translate(115.4 539.7) scale(1.15 1)" stroke="#3a3a3a" stroke-width="0.12">3</text>
<line x1="118.6" y1="518.25" x2="122.3" y2="518.25" stroke="#2b2b2b" stroke-width="1.1"/>
<text x="0" y="0" font-size="4.8" text-anchor="end" fill="#3a3a3a" transform="translate(115.4 519.95) scale(1.15 1)" stroke="#3a3a3a" stroke-width="0.12">6</text>
<line x1="118.6" y1="498.5" x2="122.3" y2="498.5" stroke="#2b2b2b" stroke-width="1.1"/>
<text x="0" y="0" font-size="4.8" text-anchor="end" fill="#3a3a3a" transform="translate(115.4 500.2) scale(1.15 1)" stroke="#3a3a3a" stroke-width="0.12">9</text>
<line x1="118.6" y1="478.75" x2="122.3" y2="478.75" stroke="#2b2b2b" stroke-width="1.1"/>
<text x="0" y="0" font-size="4.8" text-anchor="end" fill="#3a3a3a" transform="translate(115.4 480.45) scale(1.15 1)" stroke="#3a3a3a" stroke-width="0.12">12</text>
<line x1="137.2" y1="557.5" x2="137.2" y2="559.9" stroke="#2b2b2b" stroke-width="1"/>
<line x1="160" y1="557.5" x2="160" y2="559.9" stroke="#2b2b2b" stroke-width="1"/>
<text x="0" y="0" font-size="7" text-anchor="middle" fill="#222" transform="translate(105.1 516.2) rotate(-90) scale(0.73 1)" stroke="#222" stroke-width="0.22"><tspan font-style="italic">TIGIT</tspan>  mRNA (log<tspan font-size="4" dy="1.5">2</tspan><tspan dy="-1.5">)</tspan></text>
<path d="M137.2 498.6V484.1H160V487.5" fill="none" stroke="#222" stroke-width="1"/>
<text x="0" y="0" font-size="4.7" text-anchor="middle" fill="#222" transform="translate(148.6 479.6) scale(0.96 1)" stroke="#222" stroke-width="0.11"><tspan font-style="italic">P</tspan> = 0.0002</text>
<path d="M137.2 501.53C137.7 502.02 139.28 503.51 140.2 504.49C141.12 505.47 142.53 506.16 142.7 507.39C142.87 508.62 141.37 510.38 141.2 511.86C141.03 513.35 141.28 515.05 141.7 516.27C142.12 517.5 143.95 518.13 143.7 519.24C143.45 520.35 141.12 521.7 140.2 522.92C139.28 524.15 138.7 524.89 138.2 526.61C137.7 528.33 137.37 532.15 137.2 533.26L137.2 533.26C137.03 532.15 136.7 528.33 136.2 526.61C135.7 524.89 135.12 524.15 134.2 522.92C133.28 521.7 130.95 520.35 130.7 519.24C130.45 518.13 132.28 517.5 132.7 516.27C133.12 515.05 133.37 513.35 133.2 511.86C133.03 510.38 131.53 508.62 131.7 507.39C131.87 506.16 133.28 505.47 134.2 504.49C135.12 503.51 136.7 502.02 137.2 501.53Z" fill="#fff" stroke="#222" stroke-width="0.65" stroke-linejoin="round"/>
<g fill="#ae0c1a" stroke="#1a1a1a" stroke-width="0.4"><circle cx="134.14" cy="507.74" r="1.3"/><circle cx="137.09" cy="507.74" r="1.3"/><circle cx="140.04" cy="507.74" r="1.3"/><circle cx="134.14" cy="510.4" r="1.3"/><circle cx="137.09" cy="511.14" r="1.3"/><circle cx="140.04" cy="510.4" r="1.3"/><circle cx="134.14" cy="514.09" r="1.3"/><circle cx="140.04" cy="514.09" r="1.3"/><circle cx="131.19" cy="518.95" r="1.3"/><circle cx="134.14" cy="518.95" r="1.3"/><circle cx="137.09" cy="518.95" r="1.3"/><circle cx="140.04" cy="518.95" r="1.3"/><circle cx="142.99" cy="518.95" r="1.3"/><circle cx="137.09" cy="526.92" r="1.3"/></g>
<path d="M160 496.39C160.17 497.25 160.58 499.7 161 501.53C161.42 503.36 161.75 505.42 162.5 507.39C163.25 509.35 164.75 511.34 165.5 513.31C166.25 515.29 166.67 517.27 167 519.24C167.33 521.2 167.75 523.13 167.5 525.1C167.25 527.06 166.08 529.06 165.5 531.02C164.92 532.99 164.67 535.16 164 536.88C163.33 538.6 162.03 539.62 161.5 541.36C160.97 543.09 161.05 545.32 160.8 547.28C160.55 549.25 160.13 552.17 160 553.14L160 553.14C159.87 552.17 159.45 549.25 159.2 547.28C158.95 545.32 159.03 543.09 158.5 541.36C157.97 539.62 156.67 538.6 156 536.88C155.33 535.16 155.08 532.99 154.5 531.02C153.92 529.06 152.75 527.06 152.5 525.1C152.25 523.13 152.67 521.2 153 519.24C153.33 517.27 153.75 515.29 154.5 513.31C155.25 511.34 156.75 509.35 157.5 507.39C158.25 505.42 158.58 503.36 159 501.53C159.42 499.7 159.83 497.25 160 496.39Z" fill="#fff" stroke="#222" stroke-width="0.65" stroke-linejoin="round"/>
<g fill="#336ba6" stroke="#0d1520" stroke-width="0.5"><circle cx="160" cy="498.66" r="1"/><circle cx="160" cy="501.93" r="1"/><circle cx="161.4" cy="503.63" r="1"/><circle cx="159.3" cy="504.34" r="1"/><circle cx="160" cy="506.61" r="1"/><circle cx="162.1" cy="507.32" r="1"/><circle cx="158.25" cy="508.03" r="1"/><circle cx="160.35" cy="508.88" r="1"/><circle cx="162.45" cy="509.45" r="1"/><circle cx="157.2" cy="509.87" r="1"/><circle cx="159.65" cy="510.86" r="1"/><circle cx="163.5" cy="511.29" r="1"/><circle cx="155.8" cy="511.57" r="1"/><circle cx="161.4" cy="512.14" r="1"/><circle cx="157.9" cy="512.42" r="1"/><circle cx="164.2" cy="513.28" r="1"/><circle cx="155.1" cy="513.56" r="1"/><circle cx="160" cy="513.84" r="1"/><circle cx="162.1" cy="514.13" r="1"/><circle cx="157.9" cy="514.55" r="1"/><circle cx="164.9" cy="515.26" r="1"/><circle cx="155.8" cy="515.55" r="1"/><circle cx="160.7" cy="515.83" r="1"/><circle cx="162.8" cy="516.26" r="1"/><circle cx="158.6" cy="516.82" r="1"/><circle cx="165.95" cy="517.11" r="1"/><circle cx="154.75" cy="517.39" r="1"/><circle cx="160.7" cy="517.96" r="1"/><circle cx="162.8" cy="518.38" r="1"/><circle cx="157.2" cy="518.53" r="1"/><circle cx="164.9" cy="519.09" r="1"/><circle cx="154.05" cy="519.38" r="1"/><circle cx="159.3" cy="519.66" r="1"/><circle cx="161.4" cy="520.37" r="1"/><circle cx="156.5" cy="520.51" r="1"/><circle cx="163.5" cy="520.8" r="1"/><circle cx="165.6" cy="521.08" r="1"/><circle cx="158.6" cy="521.65" r="1"/><circle cx="154.75" cy="521.93" r="1"/><circle cx="160.7" cy="522.5" r="1"/><circle cx="162.8" cy="522.92" r="1"/><circle cx="156.85" cy="523.21" r="1"/><circle cx="164.9" cy="523.49" r="1"/><circle cx="153.35" cy="523.63" r="1"/><circle cx="158.95" cy="524.06" r="1"/><circle cx="167" cy="524.2" r="1"/><circle cx="161.05" cy="524.77" r="1"/><circle cx="163.15" cy="525.05" r="1"/><circle cx="157.2" cy="525.33" r="1"/><circle cx="155.1" cy="525.48" r="1"/><circle cx="165.25" cy="525.76" r="1"/><circle cx="159.3" cy="526.33" r="1"/><circle cx="161.4" cy="526.9" r="1"/><circle cx="163.5" cy="527.18" r="1"/><circle cx="157.2" cy="527.46" r="1"/><circle cx="155.1" cy="527.75" r="1"/><circle cx="165.6" cy="528.17" r="1"/><circle cx="160" cy="528.6" r="1"/><circle cx="162.1" cy="529.02" r="1"/><circle cx="157.9" cy="529.73" r="1"/><circle cx="164.2" cy="530.02" r="1"/><circle cx="155.8" cy="530.3" r="1"/><circle cx="160" cy="530.87" r="1"/><circle cx="162.1" cy="531.44" r="1"/><circle cx="157.9" cy="532" r="1"/><circle cx="164.2" cy="532.43" r="1"/><circle cx="155.8" cy="532.71" r="1"/><circle cx="160" cy="533.28" r="1"/><circle cx="162.1" cy="533.56" r="1"/><circle cx="158.25" cy="534.56" r="1"/><circle cx="163.85" cy="534.84" r="1"/><circle cx="160.7" cy="535.27" r="1"/><circle cx="156.15" cy="535.69" r="1"/><circle cx="158.95" cy="536.54" r="1"/><circle cx="161.4" cy="537.25" r="1"/><circle cx="157.55" cy="538.25" r="1"/><circle cx="159.65" cy="538.81" r="1"/><circle cx="161.75" cy="539.66" r="1"/><circle cx="160" cy="542.08" r="1"/><circle cx="160" cy="544.63" r="1"/><circle cx="160" cy="548.74" r="1"/></g>
<text x="137.2" y="568" font-size="5.4" text-anchor="middle" fill="#222" stroke="#222" stroke-width="0.13"><tspan font-style="italic">TP53</tspan>-mut.</text>
<text x="160" y="568" font-size="5.4" text-anchor="middle" fill="#222" stroke="#222" stroke-width="0.13">Other</text>
<line x1="210.5" y1="476.8" x2="210.5" y2="558.25" stroke="#2b2b2b" stroke-width="1.55"/>
<line x1="209.75" y1="557.5" x2="263" y2="557.5" stroke="#2b2b2b" stroke-width="1.55"/>
<line x1="207.1" y1="557.75" x2="210.8" y2="557.75" stroke="#2b2b2b" stroke-width="1.1"/>
<text x="0" y="0" font-size="4.8" text-anchor="end" fill="#3a3a3a" transform="translate(203.9 559.45) scale(1.15 1)" stroke="#3a3a3a" stroke-width="0.12">0</text>
<line x1="207.1" y1="531.42" x2="210.8" y2="531.42" stroke="#2b2b2b" stroke-width="1.1"/>
<text x="0" y="0" font-size="4.8" text-anchor="end" fill="#3a3a3a" transform="translate(203.9 533.12) scale(1.15 1)" stroke="#3a3a3a" stroke-width="0.12">3</text>
<line x1="207.1" y1="505.08" x2="210.8" y2="505.08" stroke="#2b2b2b" stroke-width="1.1"/>
<text x="0" y="0" font-size="4.8" text-anchor="end" fill="#3a3a3a" transform="translate(203.9 506.79) scale(1.15 1)" stroke="#3a3a3a" stroke-width="0.12">6</text>
<line x1="207.1" y1="478.75" x2="210.8" y2="478.75" stroke="#2b2b2b" stroke-width="1.1"/>
<text x="0" y="0" font-size="4.8" text-anchor="end" fill="#3a3a3a" transform="translate(203.9 480.45) scale(1.15 1)" stroke="#3a3a3a" stroke-width="0.12">9</text>
<line x1="225.5" y1="557.5" x2="225.5" y2="559.9" stroke="#2b2b2b" stroke-width="1"/>
<line x1="248.4" y1="557.5" x2="248.4" y2="559.9" stroke="#2b2b2b" stroke-width="1"/>
<text x="0" y="0" font-size="7" text-anchor="middle" fill="#222" transform="translate(197.1 516.2) rotate(-90) scale(0.73 1)" stroke="#222" stroke-width="0.22"><tspan font-style="italic">FoxP3</tspan>  mRNA (log<tspan font-size="4" dy="1.5">2</tspan><tspan dy="-1.5">)</tspan></text>
<path d="M225.5 489.7V485.6H248.4V489.7" fill="none" stroke="#222" stroke-width="1"/>
<text x="0" y="0" font-size="4.7" text-anchor="middle" fill="#222" transform="translate(236.95 481.2) scale(0.96 1)" stroke="#222" stroke-width="0.11"><tspan font-style="italic">P</tspan> = 0.0002</text>
<path d="M225.5 492.71C226 493.44 227.5 495.63 228.5 497.1C229.5 498.56 231.17 500.01 231.5 501.48C231.83 502.96 230.92 504.73 230.5 505.96C230.08 507.19 228.75 507.63 229 508.86C229.25 510.09 231.75 511.84 232 513.33C232.25 514.83 231.08 516.33 230.5 517.81C229.92 519.29 229.08 520.85 228.5 522.2C227.92 523.55 227.33 524.42 227 525.89C226.67 527.35 226.75 528.77 226.5 530.98C226.25 533.19 225.67 537.78 225.5 539.14L225.5 539.14C225.33 537.78 224.75 533.19 224.5 530.98C224.25 528.77 224.33 527.35 224 525.89C223.67 524.42 223.08 523.55 222.5 522.2C221.92 520.85 221.08 519.29 220.5 517.81C219.92 516.33 218.75 514.83 219 513.33C219.25 511.84 221.75 510.09 222 508.86C222.25 507.63 220.92 507.19 220.5 505.96C220.08 504.73 219.17 502.96 219.5 501.48C219.83 500.01 221.5 498.56 222.5 497.1C223.5 495.63 225 493.44 225.5 492.71Z" fill="#fff" stroke="#222" stroke-width="0.65" stroke-linejoin="round"/>
<g fill="#ae0c1a" stroke="#1a1a1a" stroke-width="0.4"><circle cx="221.55" cy="502.29" r="1.3"/><circle cx="225.98" cy="501.55" r="1.3"/><circle cx="230.4" cy="501.84" r="1.3"/><circle cx="223.62" cy="505.68" r="1.3"/><circle cx="227.75" cy="505.68" r="1.3"/><circle cx="219.64" cy="514.09" r="1.3"/><circle cx="223.62" cy="513.64" r="1.3"/><circle cx="227.75" cy="514.09" r="1.3"/><circle cx="232.17" cy="511.87" r="1.3"/><circle cx="223.62" cy="516" r="1.3"/><circle cx="223.62" cy="519.25" r="1.3"/><circle cx="227.75" cy="519.25" r="1.3"/><circle cx="225.98" cy="521.9" r="1.3"/><circle cx="225.98" cy="529.87" r="1.3"/></g>
<path d="M248.4 497.1C248.73 498.08 249.82 500.77 250.4 502.98C250.98 505.19 251.4 507.88 251.9 510.35C252.4 512.82 252.82 515.84 253.4 517.81C253.98 519.79 255.4 520.74 255.4 522.2C255.4 523.66 254.07 524.88 253.4 526.59C252.73 528.3 251.98 530.25 251.4 532.47C250.82 534.69 250.23 537.46 249.9 539.93C249.57 542.4 249.65 545.34 249.4 547.3C249.15 549.26 248.57 550.96 248.4 551.69L248.4 551.69C248.23 550.96 247.65 549.26 247.4 547.3C247.15 545.34 247.23 542.4 246.9 539.93C246.57 537.46 245.98 534.69 245.4 532.47C244.82 530.25 244.07 528.3 243.4 526.59C242.73 524.88 241.4 523.66 241.4 522.2C241.4 520.74 242.82 519.79 243.4 517.81C243.98 515.84 244.4 512.82 244.9 510.35C245.4 507.88 245.82 505.19 246.4 502.98C246.98 500.77 248.07 498.08 248.4 497.1Z" fill="#fff" stroke="#222" stroke-width="0.65" stroke-linejoin="round"/>
<g fill="#336ba6" stroke="#0d1520" stroke-width="0.5"><circle cx="248.4" cy="499.14" r="1"/><circle cx="248.4" cy="502.01" r="1"/><circle cx="249.8" cy="503.65" r="1"/><circle cx="247.7" cy="504.33" r="1"/><circle cx="249.1" cy="506.1" r="1"/><circle cx="247" cy="506.65" r="1"/><circle cx="250.85" cy="507.33" r="1"/><circle cx="248.4" cy="508.7" r="1"/><circle cx="246.3" cy="509.24" r="1"/><circle cx="250.5" cy="509.79" r="1"/><circle cx="248.4" cy="511.02" r="1"/><circle cx="246.3" cy="511.56" r="1"/><circle cx="250.5" cy="511.97" r="1"/><circle cx="244.55" cy="513.07" r="1"/><circle cx="248.4" cy="513.47" r="1"/><circle cx="251.9" cy="513.75" r="1"/><circle cx="246.3" cy="514.29" r="1"/><circle cx="249.8" cy="515.25" r="1"/><circle cx="244.55" cy="515.52" r="1"/><circle cx="252.6" cy="515.8" r="1"/><circle cx="247.7" cy="516.2" r="1"/><circle cx="250.85" cy="517.16" r="1"/><circle cx="245.95" cy="517.57" r="1"/><circle cx="243.85" cy="517.71" r="1"/><circle cx="248.75" cy="518.12" r="1"/><circle cx="252.6" cy="518.39" r="1"/><circle cx="247" cy="519.62" r="1"/><circle cx="250.15" cy="519.75" r="1"/><circle cx="244.9" cy="520.03" r="1"/><circle cx="253.65" cy="520.3" r="1"/><circle cx="242.8" cy="520.57" r="1"/><circle cx="248.4" cy="521.39" r="1"/><circle cx="251.55" cy="521.53" r="1"/><circle cx="246.3" cy="521.8" r="1"/><circle cx="244.2" cy="522.48" r="1"/><circle cx="253.65" cy="522.62" r="1"/><circle cx="242.1" cy="522.89" r="1"/><circle cx="249.8" cy="523.17" r="1"/><circle cx="247.7" cy="523.58" r="1"/><circle cx="251.9" cy="523.85" r="1"/><circle cx="245.6" cy="524.39" r="1"/><circle cx="243.5" cy="524.67" r="1"/><circle cx="249.1" cy="525.21" r="1"/><circle cx="253.3" cy="525.49" r="1"/><circle cx="247" cy="526.03" r="1"/><circle cx="251.2" cy="526.31" r="1"/><circle cx="244.9" cy="526.71" r="1"/><circle cx="248.75" cy="527.53" r="1"/><circle cx="246.65" cy="528.22" r="1"/><circle cx="250.85" cy="528.49" r="1"/><circle cx="244.55" cy="529.04" r="1"/><circle cx="248.4" cy="529.72" r="1"/><circle cx="246.3" cy="530.4" r="1"/><circle cx="250.15" cy="531.08" r="1"/><circle cx="248.05" cy="531.9" r="1"/><circle cx="245.95" cy="532.72" r="1"/><circle cx="249.8" cy="533.4" r="1"/><circle cx="247.7" cy="534.09" r="1"/><circle cx="249.1" cy="535.86" r="1"/><circle cx="247" cy="536.68" r="1"/><circle cx="248.75" cy="538.04" r="1"/><circle cx="247.35" cy="539.82" r="1"/><circle cx="249.1" cy="541.18" r="1"/><circle cx="248.05" cy="543.09" r="1"/><circle cx="249.45" cy="544.73" r="1"/><circle cx="247.35" cy="545.55" r="1"/><circle cx="248.4" cy="547.46" r="1"/></g>
<text x="225.5" y="568" font-size="5.4" text-anchor="middle" fill="#222" stroke="#222" stroke-width="0.13"><tspan font-style="italic">TP53</tspan>-mut.</text>
<text x="248.4" y="568" font-size="5.4" text-anchor="middle" fill="#222" stroke="#222" stroke-width="0.13">Other</text>
<rect x="0.5" y="0.5" width="519" height="576" fill="none" stroke="#000" stroke-width="1.2"/>
</svg>
</body></html>
